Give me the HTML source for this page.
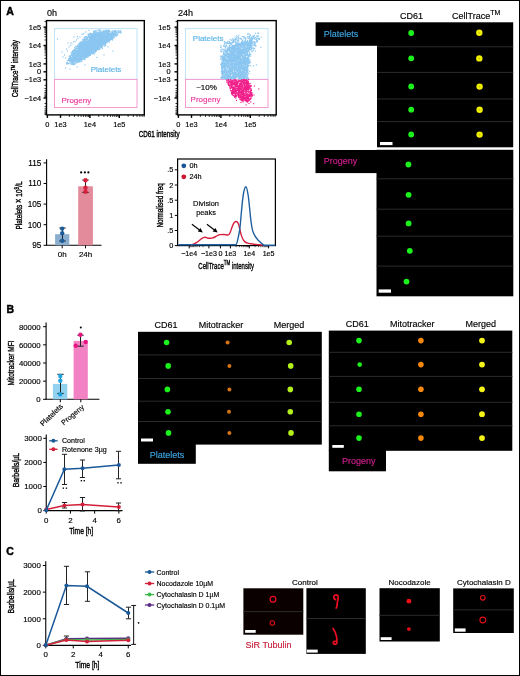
<!DOCTYPE html>
<html><head><meta charset="utf-8"><style>
html,body{margin:0;padding:0;background:#fff;}
svg{display:block;will-change:transform;}
text{font-family:"Liberation Sans", sans-serif;}
</style></head><body>
<svg width="520" height="676" viewBox="0 0 520 676">
<defs><radialGradient id="yg"><stop offset="0" stop-color="#c4c400"/><stop offset="0.55" stop-color="#f6f600"/><stop offset="1" stop-color="#e8e800"/></radialGradient><filter id="gl" x="-1" y="-1" width="3" height="3"><feGaussianBlur stdDeviation="0.45"/></filter><filter id="gl2" x="-1" y="-1" width="3" height="3"><feGaussianBlur stdDeviation="0.35"/></filter></defs>
<rect x="0" y="0" width="520" height="676" fill="#fff"/>
<text x="6.3" y="15.0" font-size="10.5" text-anchor="start" fill="#000" font-weight="bold" stroke="#000" stroke-width="0.45" >A</text>
<text x="6.4" y="313.2" font-size="10.5" text-anchor="start" fill="#000" font-weight="bold" stroke="#000" stroke-width="0.45" >B</text>
<text x="6.3" y="555.0" font-size="10.5" text-anchor="start" fill="#000" font-weight="bold" stroke="#000" stroke-width="0.45" >C</text>
<rect x="46.50" y="20.60" width="97.80" height="94.30" fill="none" stroke="#000" stroke-width="1.4" />
<line x1="43.50" y1="27.10" x2="46.50" y2="27.10" stroke="#000" stroke-width="1.4"/>
<line x1="43.50" y1="45.50" x2="46.50" y2="45.50" stroke="#000" stroke-width="1.4"/>
<line x1="43.50" y1="63.90" x2="46.50" y2="63.90" stroke="#000" stroke-width="1.4"/>
<line x1="43.50" y1="71.80" x2="46.50" y2="71.80" stroke="#000" stroke-width="1.4"/>
<line x1="43.50" y1="79.80" x2="46.50" y2="79.80" stroke="#000" stroke-width="1.4"/>
<line x1="43.50" y1="98.00" x2="46.50" y2="98.00" stroke="#000" stroke-width="1.4"/>
<line x1="44.50" y1="58.36" x2="46.50" y2="58.36" stroke="#000" stroke-width="0.8"/>
<line x1="44.50" y1="55.12" x2="46.50" y2="55.12" stroke="#000" stroke-width="0.8"/>
<line x1="44.50" y1="52.82" x2="46.50" y2="52.82" stroke="#000" stroke-width="0.8"/>
<line x1="44.50" y1="51.04" x2="46.50" y2="51.04" stroke="#000" stroke-width="0.8"/>
<line x1="44.50" y1="49.58" x2="46.50" y2="49.58" stroke="#000" stroke-width="0.8"/>
<line x1="44.50" y1="48.35" x2="46.50" y2="48.35" stroke="#000" stroke-width="0.8"/>
<line x1="44.50" y1="47.28" x2="46.50" y2="47.28" stroke="#000" stroke-width="0.8"/>
<line x1="44.50" y1="46.34" x2="46.50" y2="46.34" stroke="#000" stroke-width="0.8"/>
<line x1="44.50" y1="39.96" x2="46.50" y2="39.96" stroke="#000" stroke-width="0.8"/>
<line x1="44.50" y1="36.72" x2="46.50" y2="36.72" stroke="#000" stroke-width="0.8"/>
<line x1="44.50" y1="34.42" x2="46.50" y2="34.42" stroke="#000" stroke-width="0.8"/>
<line x1="44.50" y1="32.64" x2="46.50" y2="32.64" stroke="#000" stroke-width="0.8"/>
<line x1="44.50" y1="31.18" x2="46.50" y2="31.18" stroke="#000" stroke-width="0.8"/>
<line x1="44.50" y1="29.95" x2="46.50" y2="29.95" stroke="#000" stroke-width="0.8"/>
<line x1="44.50" y1="28.88" x2="46.50" y2="28.88" stroke="#000" stroke-width="0.8"/>
<line x1="44.50" y1="27.94" x2="46.50" y2="27.94" stroke="#000" stroke-width="0.8"/>
<line x1="44.50" y1="21.56" x2="46.50" y2="21.56" stroke="#000" stroke-width="0.8"/>
<line x1="44.50" y1="85.28" x2="46.50" y2="85.28" stroke="#000" stroke-width="0.8"/>
<line x1="44.50" y1="88.48" x2="46.50" y2="88.48" stroke="#000" stroke-width="0.8"/>
<line x1="44.50" y1="90.76" x2="46.50" y2="90.76" stroke="#000" stroke-width="0.8"/>
<line x1="44.50" y1="92.52" x2="46.50" y2="92.52" stroke="#000" stroke-width="0.8"/>
<line x1="44.50" y1="93.96" x2="46.50" y2="93.96" stroke="#000" stroke-width="0.8"/>
<line x1="44.50" y1="95.18" x2="46.50" y2="95.18" stroke="#000" stroke-width="0.8"/>
<line x1="44.50" y1="96.24" x2="46.50" y2="96.24" stroke="#000" stroke-width="0.8"/>
<line x1="44.50" y1="97.17" x2="46.50" y2="97.17" stroke="#000" stroke-width="0.8"/>
<line x1="44.50" y1="103.48" x2="46.50" y2="103.48" stroke="#000" stroke-width="0.8"/>
<line x1="44.50" y1="106.68" x2="46.50" y2="106.68" stroke="#000" stroke-width="0.8"/>
<line x1="44.50" y1="108.96" x2="46.50" y2="108.96" stroke="#000" stroke-width="0.8"/>
<line x1="44.50" y1="110.72" x2="46.50" y2="110.72" stroke="#000" stroke-width="0.8"/>
<line x1="44.50" y1="112.16" x2="46.50" y2="112.16" stroke="#000" stroke-width="0.8"/>
<line x1="44.50" y1="113.38" x2="46.50" y2="113.38" stroke="#000" stroke-width="0.8"/>
<line x1="44.50" y1="114.44" x2="46.50" y2="114.44" stroke="#000" stroke-width="0.8"/>
<text x="41.2" y="29.7" font-size="7.4" text-anchor="end" fill="#000" font-weight="normal" stroke="#000" stroke-width="0.15" >1e5</text>
<text x="41.2" y="48.1" font-size="7.4" text-anchor="end" fill="#000" font-weight="normal" stroke="#000" stroke-width="0.15" >1e4</text>
<text x="41.2" y="66.5" font-size="7.4" text-anchor="end" fill="#000" font-weight="normal" stroke="#000" stroke-width="0.15" >1e3</text>
<text x="41.2" y="74.4" font-size="7.4" text-anchor="end" fill="#000" font-weight="normal" stroke="#000" stroke-width="0.15" >0</text>
<text x="41.2" y="82.4" font-size="7.4" text-anchor="end" fill="#000" font-weight="normal" stroke="#000" stroke-width="0.15" >−1e3</text>
<text x="41.2" y="100.6" font-size="7.4" text-anchor="end" fill="#000" font-weight="normal" stroke="#000" stroke-width="0.15" >−1e4</text>
<line x1="47.40" y1="114.90" x2="47.40" y2="117.90" stroke="#000" stroke-width="1.4"/>
<line x1="60.50" y1="114.90" x2="60.50" y2="117.90" stroke="#000" stroke-width="1.4"/>
<line x1="89.90" y1="114.90" x2="89.90" y2="117.90" stroke="#000" stroke-width="1.4"/>
<line x1="119.30" y1="114.90" x2="119.30" y2="117.90" stroke="#000" stroke-width="1.4"/>
<line x1="69.35" y1="114.90" x2="69.35" y2="116.90" stroke="#000" stroke-width="0.8"/>
<line x1="74.53" y1="114.90" x2="74.53" y2="116.90" stroke="#000" stroke-width="0.8"/>
<line x1="78.20" y1="114.90" x2="78.20" y2="116.90" stroke="#000" stroke-width="0.8"/>
<line x1="81.05" y1="114.90" x2="81.05" y2="116.90" stroke="#000" stroke-width="0.8"/>
<line x1="83.38" y1="114.90" x2="83.38" y2="116.90" stroke="#000" stroke-width="0.8"/>
<line x1="85.35" y1="114.90" x2="85.35" y2="116.90" stroke="#000" stroke-width="0.8"/>
<line x1="87.05" y1="114.90" x2="87.05" y2="116.90" stroke="#000" stroke-width="0.8"/>
<line x1="88.55" y1="114.90" x2="88.55" y2="116.90" stroke="#000" stroke-width="0.8"/>
<line x1="98.75" y1="114.90" x2="98.75" y2="116.90" stroke="#000" stroke-width="0.8"/>
<line x1="103.93" y1="114.90" x2="103.93" y2="116.90" stroke="#000" stroke-width="0.8"/>
<line x1="107.60" y1="114.90" x2="107.60" y2="116.90" stroke="#000" stroke-width="0.8"/>
<line x1="110.45" y1="114.90" x2="110.45" y2="116.90" stroke="#000" stroke-width="0.8"/>
<line x1="112.78" y1="114.90" x2="112.78" y2="116.90" stroke="#000" stroke-width="0.8"/>
<line x1="114.75" y1="114.90" x2="114.75" y2="116.90" stroke="#000" stroke-width="0.8"/>
<line x1="116.45" y1="114.90" x2="116.45" y2="116.90" stroke="#000" stroke-width="0.8"/>
<line x1="117.95" y1="114.90" x2="117.95" y2="116.90" stroke="#000" stroke-width="0.8"/>
<line x1="128.15" y1="114.90" x2="128.15" y2="116.90" stroke="#000" stroke-width="0.8"/>
<line x1="133.33" y1="114.90" x2="133.33" y2="116.90" stroke="#000" stroke-width="0.8"/>
<line x1="137.00" y1="114.90" x2="137.00" y2="116.90" stroke="#000" stroke-width="0.8"/>
<line x1="139.85" y1="114.90" x2="139.85" y2="116.90" stroke="#000" stroke-width="0.8"/>
<line x1="142.18" y1="114.90" x2="142.18" y2="116.90" stroke="#000" stroke-width="0.8"/>
<line x1="144.15" y1="114.90" x2="144.15" y2="116.90" stroke="#000" stroke-width="0.8"/>
<text x="47.4" y="126.9" font-size="7.4" text-anchor="middle" fill="#000" font-weight="normal" stroke="#000" stroke-width="0.15" >0</text>
<text x="60.5" y="126.9" font-size="7.4" text-anchor="middle" fill="#000" font-weight="normal" stroke="#000" stroke-width="0.15" >1e3</text>
<text x="89.9" y="126.9" font-size="7.4" text-anchor="middle" fill="#000" font-weight="normal" stroke="#000" stroke-width="0.15" >1e4</text>
<text x="119.3" y="126.9" font-size="7.4" text-anchor="middle" fill="#000" font-weight="normal" stroke="#000" stroke-width="0.15" >1e5</text>
<text x="47.0" y="15.6" font-size="9" text-anchor="start" fill="#000" font-weight="normal" stroke="#000" stroke-width="0.15" >0h</text>
<rect x="177.50" y="20.60" width="98.70" height="94.30" fill="none" stroke="#000" stroke-width="1.4" />
<line x1="174.50" y1="27.10" x2="177.50" y2="27.10" stroke="#000" stroke-width="1.4"/>
<line x1="174.50" y1="45.50" x2="177.50" y2="45.50" stroke="#000" stroke-width="1.4"/>
<line x1="174.50" y1="63.90" x2="177.50" y2="63.90" stroke="#000" stroke-width="1.4"/>
<line x1="174.50" y1="71.80" x2="177.50" y2="71.80" stroke="#000" stroke-width="1.4"/>
<line x1="174.50" y1="79.80" x2="177.50" y2="79.80" stroke="#000" stroke-width="1.4"/>
<line x1="174.50" y1="98.00" x2="177.50" y2="98.00" stroke="#000" stroke-width="1.4"/>
<line x1="175.50" y1="58.36" x2="177.50" y2="58.36" stroke="#000" stroke-width="0.8"/>
<line x1="175.50" y1="55.12" x2="177.50" y2="55.12" stroke="#000" stroke-width="0.8"/>
<line x1="175.50" y1="52.82" x2="177.50" y2="52.82" stroke="#000" stroke-width="0.8"/>
<line x1="175.50" y1="51.04" x2="177.50" y2="51.04" stroke="#000" stroke-width="0.8"/>
<line x1="175.50" y1="49.58" x2="177.50" y2="49.58" stroke="#000" stroke-width="0.8"/>
<line x1="175.50" y1="48.35" x2="177.50" y2="48.35" stroke="#000" stroke-width="0.8"/>
<line x1="175.50" y1="47.28" x2="177.50" y2="47.28" stroke="#000" stroke-width="0.8"/>
<line x1="175.50" y1="46.34" x2="177.50" y2="46.34" stroke="#000" stroke-width="0.8"/>
<line x1="175.50" y1="39.96" x2="177.50" y2="39.96" stroke="#000" stroke-width="0.8"/>
<line x1="175.50" y1="36.72" x2="177.50" y2="36.72" stroke="#000" stroke-width="0.8"/>
<line x1="175.50" y1="34.42" x2="177.50" y2="34.42" stroke="#000" stroke-width="0.8"/>
<line x1="175.50" y1="32.64" x2="177.50" y2="32.64" stroke="#000" stroke-width="0.8"/>
<line x1="175.50" y1="31.18" x2="177.50" y2="31.18" stroke="#000" stroke-width="0.8"/>
<line x1="175.50" y1="29.95" x2="177.50" y2="29.95" stroke="#000" stroke-width="0.8"/>
<line x1="175.50" y1="28.88" x2="177.50" y2="28.88" stroke="#000" stroke-width="0.8"/>
<line x1="175.50" y1="27.94" x2="177.50" y2="27.94" stroke="#000" stroke-width="0.8"/>
<line x1="175.50" y1="21.56" x2="177.50" y2="21.56" stroke="#000" stroke-width="0.8"/>
<line x1="175.50" y1="85.28" x2="177.50" y2="85.28" stroke="#000" stroke-width="0.8"/>
<line x1="175.50" y1="88.48" x2="177.50" y2="88.48" stroke="#000" stroke-width="0.8"/>
<line x1="175.50" y1="90.76" x2="177.50" y2="90.76" stroke="#000" stroke-width="0.8"/>
<line x1="175.50" y1="92.52" x2="177.50" y2="92.52" stroke="#000" stroke-width="0.8"/>
<line x1="175.50" y1="93.96" x2="177.50" y2="93.96" stroke="#000" stroke-width="0.8"/>
<line x1="175.50" y1="95.18" x2="177.50" y2="95.18" stroke="#000" stroke-width="0.8"/>
<line x1="175.50" y1="96.24" x2="177.50" y2="96.24" stroke="#000" stroke-width="0.8"/>
<line x1="175.50" y1="97.17" x2="177.50" y2="97.17" stroke="#000" stroke-width="0.8"/>
<line x1="175.50" y1="103.48" x2="177.50" y2="103.48" stroke="#000" stroke-width="0.8"/>
<line x1="175.50" y1="106.68" x2="177.50" y2="106.68" stroke="#000" stroke-width="0.8"/>
<line x1="175.50" y1="108.96" x2="177.50" y2="108.96" stroke="#000" stroke-width="0.8"/>
<line x1="175.50" y1="110.72" x2="177.50" y2="110.72" stroke="#000" stroke-width="0.8"/>
<line x1="175.50" y1="112.16" x2="177.50" y2="112.16" stroke="#000" stroke-width="0.8"/>
<line x1="175.50" y1="113.38" x2="177.50" y2="113.38" stroke="#000" stroke-width="0.8"/>
<line x1="175.50" y1="114.44" x2="177.50" y2="114.44" stroke="#000" stroke-width="0.8"/>
<text x="170.5" y="29.7" font-size="7.4" text-anchor="end" fill="#000" font-weight="normal" stroke="#000" stroke-width="0.15" >1e5</text>
<text x="170.5" y="48.1" font-size="7.4" text-anchor="end" fill="#000" font-weight="normal" stroke="#000" stroke-width="0.15" >1e4</text>
<text x="170.5" y="66.5" font-size="7.4" text-anchor="end" fill="#000" font-weight="normal" stroke="#000" stroke-width="0.15" >1e3</text>
<text x="170.5" y="74.4" font-size="7.4" text-anchor="end" fill="#000" font-weight="normal" stroke="#000" stroke-width="0.15" >0</text>
<text x="170.5" y="82.4" font-size="7.4" text-anchor="end" fill="#000" font-weight="normal" stroke="#000" stroke-width="0.15" >−1e3</text>
<text x="170.5" y="100.6" font-size="7.4" text-anchor="end" fill="#000" font-weight="normal" stroke="#000" stroke-width="0.15" >−1e4</text>
<line x1="178.40" y1="114.90" x2="178.40" y2="117.90" stroke="#000" stroke-width="1.4"/>
<line x1="191.50" y1="114.90" x2="191.50" y2="117.90" stroke="#000" stroke-width="1.4"/>
<line x1="220.90" y1="114.90" x2="220.90" y2="117.90" stroke="#000" stroke-width="1.4"/>
<line x1="250.30" y1="114.90" x2="250.30" y2="117.90" stroke="#000" stroke-width="1.4"/>
<line x1="200.35" y1="114.90" x2="200.35" y2="116.90" stroke="#000" stroke-width="0.8"/>
<line x1="205.53" y1="114.90" x2="205.53" y2="116.90" stroke="#000" stroke-width="0.8"/>
<line x1="209.20" y1="114.90" x2="209.20" y2="116.90" stroke="#000" stroke-width="0.8"/>
<line x1="212.05" y1="114.90" x2="212.05" y2="116.90" stroke="#000" stroke-width="0.8"/>
<line x1="214.38" y1="114.90" x2="214.38" y2="116.90" stroke="#000" stroke-width="0.8"/>
<line x1="216.35" y1="114.90" x2="216.35" y2="116.90" stroke="#000" stroke-width="0.8"/>
<line x1="218.05" y1="114.90" x2="218.05" y2="116.90" stroke="#000" stroke-width="0.8"/>
<line x1="219.55" y1="114.90" x2="219.55" y2="116.90" stroke="#000" stroke-width="0.8"/>
<line x1="229.75" y1="114.90" x2="229.75" y2="116.90" stroke="#000" stroke-width="0.8"/>
<line x1="234.93" y1="114.90" x2="234.93" y2="116.90" stroke="#000" stroke-width="0.8"/>
<line x1="238.60" y1="114.90" x2="238.60" y2="116.90" stroke="#000" stroke-width="0.8"/>
<line x1="241.45" y1="114.90" x2="241.45" y2="116.90" stroke="#000" stroke-width="0.8"/>
<line x1="243.78" y1="114.90" x2="243.78" y2="116.90" stroke="#000" stroke-width="0.8"/>
<line x1="245.75" y1="114.90" x2="245.75" y2="116.90" stroke="#000" stroke-width="0.8"/>
<line x1="247.45" y1="114.90" x2="247.45" y2="116.90" stroke="#000" stroke-width="0.8"/>
<line x1="248.95" y1="114.90" x2="248.95" y2="116.90" stroke="#000" stroke-width="0.8"/>
<line x1="259.15" y1="114.90" x2="259.15" y2="116.90" stroke="#000" stroke-width="0.8"/>
<line x1="264.33" y1="114.90" x2="264.33" y2="116.90" stroke="#000" stroke-width="0.8"/>
<line x1="268.00" y1="114.90" x2="268.00" y2="116.90" stroke="#000" stroke-width="0.8"/>
<line x1="270.85" y1="114.90" x2="270.85" y2="116.90" stroke="#000" stroke-width="0.8"/>
<line x1="273.18" y1="114.90" x2="273.18" y2="116.90" stroke="#000" stroke-width="0.8"/>
<line x1="275.15" y1="114.90" x2="275.15" y2="116.90" stroke="#000" stroke-width="0.8"/>
<text x="178.4" y="126.9" font-size="7.4" text-anchor="middle" fill="#000" font-weight="normal" stroke="#000" stroke-width="0.15" >0</text>
<text x="191.5" y="126.9" font-size="7.4" text-anchor="middle" fill="#000" font-weight="normal" stroke="#000" stroke-width="0.15" >1e3</text>
<text x="220.9" y="126.9" font-size="7.4" text-anchor="middle" fill="#000" font-weight="normal" stroke="#000" stroke-width="0.15" >1e4</text>
<text x="250.3" y="126.9" font-size="7.4" text-anchor="middle" fill="#000" font-weight="normal" stroke="#000" stroke-width="0.15" >1e5</text>
<text x="178.0" y="15.6" font-size="9" text-anchor="start" fill="#000" font-weight="normal" stroke="#000" stroke-width="0.15" >24h</text>
<rect x="54.50" y="28.60" width="82.50" height="50.80" fill="none" stroke="#bfe4f8" stroke-width="1" />
<rect x="54.50" y="79.40" width="82.50" height="28.10" fill="none" stroke="#f49ccf" stroke-width="1" />
<rect x="185.50" y="28.60" width="82.50" height="50.80" fill="none" stroke="#bfe4f8" stroke-width="1" />
<rect x="185.50" y="79.40" width="82.50" height="28.10" fill="none" stroke="#f49ccf" stroke-width="1" />
<g fill="#8ac6f0">
<rect x="101.6" y="32.0" width="1.15" height="1.15"/>
<rect x="98.1" y="43.4" width="1.15" height="1.15"/>
<rect x="83.3" y="58.6" width="1.15" height="1.15"/>
<rect x="101.2" y="42.5" width="1.15" height="1.15"/>
<rect x="103.4" y="45.1" width="1.15" height="1.15"/>
<rect x="91.3" y="39.3" width="1.15" height="1.15"/>
<rect x="78.5" y="49.5" width="1.15" height="1.15"/>
<rect x="106.7" y="39.6" width="1.15" height="1.15"/>
<rect x="98.8" y="44.5" width="1.15" height="1.15"/>
<rect x="93.0" y="53.0" width="1.15" height="1.15"/>
<rect x="87.9" y="53.0" width="1.15" height="1.15"/>
<rect x="69.5" y="56.6" width="1.15" height="1.15"/>
<rect x="80.7" y="44.9" width="1.15" height="1.15"/>
<rect x="78.5" y="46.3" width="1.15" height="1.15"/>
<rect x="87.2" y="49.1" width="1.15" height="1.15"/>
<rect x="94.5" y="51.0" width="1.15" height="1.15"/>
<rect x="88.3" y="43.9" width="1.15" height="1.15"/>
<rect x="67.1" y="59.9" width="1.15" height="1.15"/>
<rect x="79.8" y="41.9" width="1.15" height="1.15"/>
<rect x="92.0" y="46.6" width="1.15" height="1.15"/>
<rect x="85.1" y="38.6" width="1.15" height="1.15"/>
<rect x="66.9" y="62.7" width="1.15" height="1.15"/>
<rect x="94.7" y="30.3" width="1.15" height="1.15"/>
<rect x="80.8" y="43.1" width="1.15" height="1.15"/>
<rect x="84.8" y="36.0" width="1.15" height="1.15"/>
<rect x="78.4" y="47.7" width="1.15" height="1.15"/>
<rect x="80.8" y="53.6" width="1.15" height="1.15"/>
<rect x="75.4" y="57.9" width="1.15" height="1.15"/>
<rect x="106.4" y="35.7" width="1.15" height="1.15"/>
<rect x="74.8" y="58.3" width="1.15" height="1.15"/>
<rect x="85.4" y="48.8" width="1.15" height="1.15"/>
<rect x="111.8" y="37.4" width="1.15" height="1.15"/>
<rect x="79.2" y="50.6" width="1.15" height="1.15"/>
<rect x="72.9" y="61.7" width="1.15" height="1.15"/>
<rect x="93.7" y="48.1" width="1.15" height="1.15"/>
<rect x="91.2" y="36.0" width="1.15" height="1.15"/>
<rect x="83.2" y="47.4" width="1.15" height="1.15"/>
<rect x="99.2" y="47.2" width="1.15" height="1.15"/>
<rect x="89.9" y="48.3" width="1.15" height="1.15"/>
<rect x="112.9" y="34.8" width="1.15" height="1.15"/>
<rect x="74.3" y="54.3" width="1.15" height="1.15"/>
<rect x="89.0" y="46.5" width="1.15" height="1.15"/>
<rect x="94.7" y="41.8" width="1.15" height="1.15"/>
<rect x="105.5" y="30.1" width="1.15" height="1.15"/>
<rect x="101.9" y="48.0" width="1.15" height="1.15"/>
<rect x="112.0" y="39.5" width="1.15" height="1.15"/>
<rect x="105.2" y="44.9" width="1.15" height="1.15"/>
<rect x="71.5" y="59.8" width="1.15" height="1.15"/>
<rect x="90.0" y="41.1" width="1.15" height="1.15"/>
<rect x="95.4" y="38.1" width="1.15" height="1.15"/>
<rect x="83.3" y="39.8" width="1.15" height="1.15"/>
<rect x="93.6" y="35.9" width="1.15" height="1.15"/>
<rect x="76.7" y="46.1" width="1.15" height="1.15"/>
<rect x="87.2" y="45.9" width="1.15" height="1.15"/>
<rect x="88.6" y="41.8" width="1.15" height="1.15"/>
<rect x="69.8" y="55.7" width="1.15" height="1.15"/>
<rect x="71.1" y="58.4" width="1.15" height="1.15"/>
<rect x="82.5" y="46.1" width="1.15" height="1.15"/>
<rect x="83.6" y="42.0" width="1.15" height="1.15"/>
<rect x="92.4" y="47.7" width="1.15" height="1.15"/>
<rect x="98.4" y="47.3" width="1.15" height="1.15"/>
<rect x="87.8" y="40.9" width="1.15" height="1.15"/>
<rect x="68.9" y="58.3" width="1.15" height="1.15"/>
<rect x="71.1" y="58.5" width="1.15" height="1.15"/>
<rect x="93.7" y="48.1" width="1.15" height="1.15"/>
<rect x="107.2" y="38.6" width="1.15" height="1.15"/>
<rect x="106.3" y="35.4" width="1.15" height="1.15"/>
<rect x="92.6" y="43.0" width="1.15" height="1.15"/>
<rect x="101.8" y="32.6" width="1.15" height="1.15"/>
<rect x="107.1" y="40.2" width="1.15" height="1.15"/>
<rect x="102.9" y="39.7" width="1.15" height="1.15"/>
<rect x="92.1" y="33.5" width="1.15" height="1.15"/>
<rect x="91.2" y="40.1" width="1.15" height="1.15"/>
<rect x="78.0" y="50.3" width="1.15" height="1.15"/>
<rect x="78.7" y="60.9" width="1.15" height="1.15"/>
<rect x="91.2" y="40.5" width="1.15" height="1.15"/>
<rect x="84.3" y="58.9" width="1.15" height="1.15"/>
<rect x="113.2" y="33.4" width="1.15" height="1.15"/>
<rect x="87.3" y="43.3" width="1.15" height="1.15"/>
<rect x="85.9" y="44.7" width="1.15" height="1.15"/>
<rect x="71.3" y="59.8" width="1.15" height="1.15"/>
<rect x="93.4" y="37.1" width="1.15" height="1.15"/>
<rect x="105.8" y="30.8" width="1.15" height="1.15"/>
<rect x="116.9" y="34.1" width="1.15" height="1.15"/>
<rect x="82.8" y="55.3" width="1.15" height="1.15"/>
<rect x="101.9" y="39.9" width="1.15" height="1.15"/>
<rect x="77.1" y="61.2" width="1.15" height="1.15"/>
<rect x="91.0" y="34.7" width="1.15" height="1.15"/>
<rect x="88.6" y="48.2" width="1.15" height="1.15"/>
<rect x="94.1" y="51.3" width="1.15" height="1.15"/>
<rect x="89.0" y="44.9" width="1.15" height="1.15"/>
<rect x="115.1" y="30.5" width="1.15" height="1.15"/>
<rect x="92.2" y="49.0" width="1.15" height="1.15"/>
<rect x="78.6" y="61.3" width="1.15" height="1.15"/>
<rect x="94.8" y="50.1" width="1.15" height="1.15"/>
<rect x="99.1" y="30.5" width="1.15" height="1.15"/>
<rect x="88.7" y="37.6" width="1.15" height="1.15"/>
<rect x="84.6" y="44.0" width="1.15" height="1.15"/>
<rect x="94.4" y="36.7" width="1.15" height="1.15"/>
<rect x="111.6" y="38.5" width="1.15" height="1.15"/>
<rect x="93.5" y="36.7" width="1.15" height="1.15"/>
<rect x="76.2" y="62.1" width="1.15" height="1.15"/>
<rect x="102.5" y="43.1" width="1.15" height="1.15"/>
<rect x="81.7" y="41.8" width="1.15" height="1.15"/>
<rect x="114.9" y="31.2" width="1.15" height="1.15"/>
<rect x="108.7" y="31.1" width="1.15" height="1.15"/>
<rect x="85.4" y="38.9" width="1.15" height="1.15"/>
<rect x="80.3" y="54.9" width="1.15" height="1.15"/>
<rect x="118.3" y="31.0" width="1.15" height="1.15"/>
<rect x="86.8" y="38.6" width="1.15" height="1.15"/>
<rect x="99.4" y="41.5" width="1.15" height="1.15"/>
<rect x="109.6" y="33.2" width="1.15" height="1.15"/>
<rect x="78.4" y="43.6" width="1.15" height="1.15"/>
<rect x="103.0" y="33.5" width="1.15" height="1.15"/>
<rect x="97.4" y="42.3" width="1.15" height="1.15"/>
<rect x="74.0" y="60.2" width="1.15" height="1.15"/>
<rect x="94.3" y="37.0" width="1.15" height="1.15"/>
<rect x="80.6" y="56.6" width="1.15" height="1.15"/>
<rect x="79.9" y="50.2" width="1.15" height="1.15"/>
<rect x="103.4" y="36.4" width="1.15" height="1.15"/>
<rect x="87.7" y="48.6" width="1.15" height="1.15"/>
<rect x="74.7" y="54.0" width="1.15" height="1.15"/>
<rect x="82.9" y="49.7" width="1.15" height="1.15"/>
<rect x="86.1" y="36.2" width="1.15" height="1.15"/>
<rect x="92.1" y="35.3" width="1.15" height="1.15"/>
<rect x="86.8" y="47.5" width="1.15" height="1.15"/>
<rect x="93.2" y="31.3" width="1.15" height="1.15"/>
<rect x="111.8" y="34.9" width="1.15" height="1.15"/>
<rect x="112.0" y="36.5" width="1.15" height="1.15"/>
<rect x="94.9" y="43.2" width="1.15" height="1.15"/>
<rect x="108.1" y="30.7" width="1.15" height="1.15"/>
<rect x="98.9" y="48.5" width="1.15" height="1.15"/>
<rect x="88.6" y="50.2" width="1.15" height="1.15"/>
<rect x="91.4" y="45.0" width="1.15" height="1.15"/>
<rect x="93.2" y="36.9" width="1.15" height="1.15"/>
<rect x="91.1" y="35.9" width="1.15" height="1.15"/>
<rect x="94.1" y="30.9" width="1.15" height="1.15"/>
<rect x="93.8" y="31.5" width="1.15" height="1.15"/>
<rect x="108.2" y="34.9" width="1.15" height="1.15"/>
<rect x="110.1" y="34.6" width="1.15" height="1.15"/>
<rect x="94.3" y="40.8" width="1.15" height="1.15"/>
<rect x="74.4" y="61.3" width="1.15" height="1.15"/>
<rect x="75.8" y="57.3" width="1.15" height="1.15"/>
<rect x="101.7" y="41.7" width="1.15" height="1.15"/>
<rect x="101.0" y="43.0" width="1.15" height="1.15"/>
<rect x="85.6" y="56.3" width="1.15" height="1.15"/>
<rect x="107.4" y="31.0" width="1.15" height="1.15"/>
<rect x="99.1" y="44.6" width="1.15" height="1.15"/>
<rect x="102.6" y="30.4" width="1.15" height="1.15"/>
<rect x="78.1" y="49.8" width="1.15" height="1.15"/>
<rect x="101.3" y="47.0" width="1.15" height="1.15"/>
<rect x="71.8" y="51.2" width="1.15" height="1.15"/>
<rect x="89.0" y="38.9" width="1.15" height="1.15"/>
<rect x="96.8" y="41.4" width="1.15" height="1.15"/>
<rect x="80.3" y="61.2" width="1.15" height="1.15"/>
<rect x="89.3" y="38.2" width="1.15" height="1.15"/>
<rect x="76.3" y="50.8" width="1.15" height="1.15"/>
<rect x="110.9" y="36.1" width="1.15" height="1.15"/>
<rect x="68.8" y="59.8" width="1.15" height="1.15"/>
<rect x="84.2" y="54.8" width="1.15" height="1.15"/>
<rect x="104.9" y="38.7" width="1.15" height="1.15"/>
<rect x="81.0" y="51.9" width="1.15" height="1.15"/>
<rect x="114.7" y="30.5" width="1.15" height="1.15"/>
<rect x="107.7" y="40.7" width="1.15" height="1.15"/>
<rect x="78.7" y="60.6" width="1.15" height="1.15"/>
<rect x="89.8" y="54.7" width="1.15" height="1.15"/>
<rect x="78.7" y="51.8" width="1.15" height="1.15"/>
<rect x="71.7" y="62.2" width="1.15" height="1.15"/>
<rect x="70.6" y="59.2" width="1.15" height="1.15"/>
<rect x="101.2" y="39.8" width="1.15" height="1.15"/>
<rect x="107.7" y="37.2" width="1.15" height="1.15"/>
<rect x="81.3" y="54.9" width="1.15" height="1.15"/>
<rect x="84.8" y="54.1" width="1.15" height="1.15"/>
<rect x="113.9" y="32.5" width="1.15" height="1.15"/>
<rect x="75.6" y="47.6" width="1.15" height="1.15"/>
<rect x="72.8" y="52.2" width="1.15" height="1.15"/>
<rect x="100.4" y="42.3" width="1.15" height="1.15"/>
<rect x="115.4" y="32.6" width="1.15" height="1.15"/>
<rect x="78.1" y="45.5" width="1.15" height="1.15"/>
<rect x="85.8" y="41.8" width="1.15" height="1.15"/>
<rect x="94.8" y="35.5" width="1.15" height="1.15"/>
<rect x="72.0" y="63.4" width="1.15" height="1.15"/>
<rect x="77.1" y="52.0" width="1.15" height="1.15"/>
<rect x="101.4" y="46.3" width="1.15" height="1.15"/>
<rect x="88.8" y="55.1" width="1.15" height="1.15"/>
<rect x="89.1" y="36.6" width="1.15" height="1.15"/>
<rect x="101.3" y="46.1" width="1.15" height="1.15"/>
<rect x="100.4" y="38.6" width="1.15" height="1.15"/>
<rect x="99.9" y="42.8" width="1.15" height="1.15"/>
<rect x="76.2" y="51.9" width="1.15" height="1.15"/>
<rect x="75.4" y="56.6" width="1.15" height="1.15"/>
<rect x="94.6" y="51.3" width="1.15" height="1.15"/>
<rect x="76.9" y="54.0" width="1.15" height="1.15"/>
<rect x="81.7" y="43.6" width="1.15" height="1.15"/>
<rect x="89.0" y="54.2" width="1.15" height="1.15"/>
<rect x="78.9" y="55.2" width="1.15" height="1.15"/>
<rect x="77.8" y="57.7" width="1.15" height="1.15"/>
<rect x="73.4" y="56.0" width="1.15" height="1.15"/>
<rect x="92.2" y="50.5" width="1.15" height="1.15"/>
<rect x="85.9" y="51.0" width="1.15" height="1.15"/>
<rect x="91.7" y="39.8" width="1.15" height="1.15"/>
<rect x="86.5" y="38.6" width="1.15" height="1.15"/>
<rect x="82.0" y="46.6" width="1.15" height="1.15"/>
<rect x="103.4" y="41.8" width="1.15" height="1.15"/>
<rect x="69.8" y="57.9" width="1.15" height="1.15"/>
<rect x="73.7" y="58.5" width="1.15" height="1.15"/>
<rect x="66.4" y="62.4" width="1.15" height="1.15"/>
<rect x="78.7" y="56.9" width="1.15" height="1.15"/>
<rect x="74.6" y="60.1" width="1.15" height="1.15"/>
<rect x="76.1" y="53.6" width="1.15" height="1.15"/>
<rect x="96.8" y="39.1" width="1.15" height="1.15"/>
<rect x="93.0" y="31.7" width="1.15" height="1.15"/>
<rect x="92.2" y="46.7" width="1.15" height="1.15"/>
<rect x="91.4" y="48.4" width="1.15" height="1.15"/>
<rect x="86.9" y="44.2" width="1.15" height="1.15"/>
<rect x="94.4" y="46.4" width="1.15" height="1.15"/>
<rect x="85.4" y="46.0" width="1.15" height="1.15"/>
<rect x="77.1" y="45.1" width="1.15" height="1.15"/>
<rect x="92.5" y="39.0" width="1.15" height="1.15"/>
<rect x="84.1" y="41.3" width="1.15" height="1.15"/>
<rect x="103.4" y="36.5" width="1.15" height="1.15"/>
<rect x="108.3" y="33.3" width="1.15" height="1.15"/>
<rect x="102.7" y="41.7" width="1.15" height="1.15"/>
<rect x="97.0" y="39.1" width="1.15" height="1.15"/>
<rect x="82.9" y="43.7" width="1.15" height="1.15"/>
<rect x="88.6" y="32.9" width="1.15" height="1.15"/>
<rect x="73.5" y="63.8" width="1.15" height="1.15"/>
<rect x="105.8" y="37.7" width="1.15" height="1.15"/>
<rect x="68.5" y="55.6" width="1.15" height="1.15"/>
<rect x="105.9" y="32.0" width="1.15" height="1.15"/>
<rect x="106.5" y="30.1" width="1.15" height="1.15"/>
<rect x="111.0" y="33.1" width="1.15" height="1.15"/>
<rect x="75.0" y="59.6" width="1.15" height="1.15"/>
<rect x="85.6" y="49.9" width="1.15" height="1.15"/>
<rect x="73.5" y="57.9" width="1.15" height="1.15"/>
<rect x="100.2" y="44.7" width="1.15" height="1.15"/>
<rect x="98.6" y="40.3" width="1.15" height="1.15"/>
<rect x="85.3" y="50.6" width="1.15" height="1.15"/>
<rect x="98.3" y="40.8" width="1.15" height="1.15"/>
<rect x="86.0" y="52.8" width="1.15" height="1.15"/>
<rect x="89.8" y="49.1" width="1.15" height="1.15"/>
<rect x="68.7" y="57.7" width="1.15" height="1.15"/>
<rect x="98.2" y="38.4" width="1.15" height="1.15"/>
<rect x="77.4" y="55.6" width="1.15" height="1.15"/>
<rect x="91.7" y="37.6" width="1.15" height="1.15"/>
<rect x="70.8" y="57.3" width="1.15" height="1.15"/>
<rect x="92.5" y="50.4" width="1.15" height="1.15"/>
<rect x="75.5" y="54.5" width="1.15" height="1.15"/>
<rect x="88.4" y="47.7" width="1.15" height="1.15"/>
<rect x="71.9" y="51.4" width="1.15" height="1.15"/>
<rect x="99.0" y="41.6" width="1.15" height="1.15"/>
<rect x="97.5" y="38.2" width="1.15" height="1.15"/>
<rect x="116.0" y="31.6" width="1.15" height="1.15"/>
<rect x="72.6" y="63.7" width="1.15" height="1.15"/>
<rect x="102.8" y="43.4" width="1.15" height="1.15"/>
<rect x="81.0" y="41.3" width="1.15" height="1.15"/>
<rect x="112.6" y="30.5" width="1.15" height="1.15"/>
<rect x="102.8" y="39.6" width="1.15" height="1.15"/>
<rect x="92.7" y="35.8" width="1.15" height="1.15"/>
<rect x="103.5" y="29.7" width="1.15" height="1.15"/>
<rect x="68.1" y="63.1" width="1.15" height="1.15"/>
<rect x="71.7" y="61.4" width="1.15" height="1.15"/>
<rect x="91.3" y="40.9" width="1.15" height="1.15"/>
<rect x="100.8" y="34.8" width="1.15" height="1.15"/>
<rect x="73.9" y="60.4" width="1.15" height="1.15"/>
<rect x="74.8" y="47.7" width="1.15" height="1.15"/>
<rect x="73.3" y="64.1" width="1.15" height="1.15"/>
<rect x="102.6" y="37.0" width="1.15" height="1.15"/>
<rect x="115.6" y="31.2" width="1.15" height="1.15"/>
<rect x="98.0" y="35.2" width="1.15" height="1.15"/>
<rect x="105.6" y="36.6" width="1.15" height="1.15"/>
<rect x="99.6" y="47.2" width="1.15" height="1.15"/>
<rect x="106.1" y="31.1" width="1.15" height="1.15"/>
<rect x="76.1" y="58.8" width="1.15" height="1.15"/>
<rect x="87.1" y="50.3" width="1.15" height="1.15"/>
<rect x="91.2" y="48.1" width="1.15" height="1.15"/>
<rect x="83.1" y="54.9" width="1.15" height="1.15"/>
<rect x="69.9" y="59.8" width="1.15" height="1.15"/>
<rect x="94.3" y="48.1" width="1.15" height="1.15"/>
<rect x="80.0" y="58.1" width="1.15" height="1.15"/>
<rect x="105.4" y="36.5" width="1.15" height="1.15"/>
<rect x="97.9" y="47.6" width="1.15" height="1.15"/>
<rect x="93.3" y="47.3" width="1.15" height="1.15"/>
<rect x="87.6" y="33.8" width="1.15" height="1.15"/>
<rect x="74.1" y="49.3" width="1.15" height="1.15"/>
<rect x="87.8" y="43.7" width="1.15" height="1.15"/>
<rect x="79.4" y="44.0" width="1.15" height="1.15"/>
<rect x="94.8" y="32.3" width="1.15" height="1.15"/>
<rect x="114.8" y="30.5" width="1.15" height="1.15"/>
<rect x="102.5" y="38.8" width="1.15" height="1.15"/>
<rect x="99.9" y="38.3" width="1.15" height="1.15"/>
<rect x="83.4" y="52.6" width="1.15" height="1.15"/>
<rect x="80.5" y="45.8" width="1.15" height="1.15"/>
<rect x="82.1" y="44.1" width="1.15" height="1.15"/>
<rect x="76.5" y="54.5" width="1.15" height="1.15"/>
<rect x="99.8" y="46.3" width="1.15" height="1.15"/>
<rect x="77.7" y="47.9" width="1.15" height="1.15"/>
<rect x="96.5" y="48.2" width="1.15" height="1.15"/>
<rect x="82.4" y="56.7" width="1.15" height="1.15"/>
<rect x="84.8" y="52.5" width="1.15" height="1.15"/>
<rect x="116.7" y="34.0" width="1.15" height="1.15"/>
<rect x="97.9" y="43.2" width="1.15" height="1.15"/>
<rect x="99.1" y="43.0" width="1.15" height="1.15"/>
<rect x="105.6" y="40.2" width="1.15" height="1.15"/>
<rect x="87.5" y="39.9" width="1.15" height="1.15"/>
<rect x="93.8" y="45.5" width="1.15" height="1.15"/>
<rect x="73.8" y="49.5" width="1.15" height="1.15"/>
<rect x="98.0" y="46.5" width="1.15" height="1.15"/>
<rect x="94.4" y="47.2" width="1.15" height="1.15"/>
<rect x="85.1" y="51.3" width="1.15" height="1.15"/>
<rect x="87.3" y="48.7" width="1.15" height="1.15"/>
<rect x="90.8" y="51.4" width="1.15" height="1.15"/>
<rect x="95.0" y="33.0" width="1.15" height="1.15"/>
<rect x="94.4" y="47.5" width="1.15" height="1.15"/>
<rect x="100.5" y="31.6" width="1.15" height="1.15"/>
<rect x="83.4" y="53.7" width="1.15" height="1.15"/>
<rect x="102.4" y="36.5" width="1.15" height="1.15"/>
<rect x="79.0" y="51.8" width="1.15" height="1.15"/>
<rect x="98.0" y="44.1" width="1.15" height="1.15"/>
<rect x="108.3" y="33.5" width="1.15" height="1.15"/>
<rect x="108.6" y="40.4" width="1.15" height="1.15"/>
<rect x="71.0" y="60.9" width="1.15" height="1.15"/>
<rect x="91.9" y="43.4" width="1.15" height="1.15"/>
<rect x="90.3" y="51.4" width="1.15" height="1.15"/>
<rect x="79.3" y="42.8" width="1.15" height="1.15"/>
<rect x="86.2" y="36.0" width="1.15" height="1.15"/>
<rect x="96.6" y="33.5" width="1.15" height="1.15"/>
<rect x="72.5" y="58.7" width="1.15" height="1.15"/>
<rect x="103.2" y="42.2" width="1.15" height="1.15"/>
<rect x="111.4" y="34.4" width="1.15" height="1.15"/>
<rect x="110.1" y="35.8" width="1.15" height="1.15"/>
<rect x="93.7" y="37.6" width="1.15" height="1.15"/>
<rect x="105.7" y="38.3" width="1.15" height="1.15"/>
<rect x="86.1" y="38.0" width="1.15" height="1.15"/>
<rect x="113.7" y="33.8" width="1.15" height="1.15"/>
<rect x="80.4" y="57.0" width="1.15" height="1.15"/>
<rect x="97.3" y="40.6" width="1.15" height="1.15"/>
<rect x="75.4" y="59.9" width="1.15" height="1.15"/>
<rect x="85.9" y="47.2" width="1.15" height="1.15"/>
<rect x="72.8" y="55.1" width="1.15" height="1.15"/>
<rect x="102.1" y="42.2" width="1.15" height="1.15"/>
<rect x="105.0" y="37.9" width="1.15" height="1.15"/>
<rect x="101.7" y="36.7" width="1.15" height="1.15"/>
<rect x="83.2" y="43.0" width="1.15" height="1.15"/>
<rect x="101.7" y="35.3" width="1.15" height="1.15"/>
<rect x="105.0" y="38.8" width="1.15" height="1.15"/>
<rect x="72.4" y="58.2" width="1.15" height="1.15"/>
<rect x="107.4" y="32.2" width="1.15" height="1.15"/>
<rect x="101.5" y="45.6" width="1.15" height="1.15"/>
<rect x="89.9" y="47.3" width="1.15" height="1.15"/>
<rect x="107.9" y="30.3" width="1.15" height="1.15"/>
<rect x="81.1" y="48.5" width="1.15" height="1.15"/>
<rect x="96.6" y="38.5" width="1.15" height="1.15"/>
<rect x="88.7" y="36.9" width="1.15" height="1.15"/>
<rect x="95.0" y="44.9" width="1.15" height="1.15"/>
<rect x="73.3" y="50.0" width="1.15" height="1.15"/>
<rect x="74.9" y="52.5" width="1.15" height="1.15"/>
<rect x="86.3" y="37.0" width="1.15" height="1.15"/>
<rect x="76.6" y="54.1" width="1.15" height="1.15"/>
<rect x="83.7" y="46.2" width="1.15" height="1.15"/>
<rect x="71.2" y="54.5" width="1.15" height="1.15"/>
<rect x="90.0" y="36.2" width="1.15" height="1.15"/>
<rect x="102.2" y="38.6" width="1.15" height="1.15"/>
<rect x="76.9" y="50.9" width="1.15" height="1.15"/>
<rect x="75.7" y="56.2" width="1.15" height="1.15"/>
<rect x="85.7" y="49.5" width="1.15" height="1.15"/>
<rect x="93.6" y="47.4" width="1.15" height="1.15"/>
<rect x="98.1" y="32.1" width="1.15" height="1.15"/>
<rect x="90.3" y="36.2" width="1.15" height="1.15"/>
<rect x="81.1" y="52.6" width="1.15" height="1.15"/>
<rect x="84.3" y="44.1" width="1.15" height="1.15"/>
<rect x="81.9" y="44.9" width="1.15" height="1.15"/>
<rect x="85.0" y="45.5" width="1.15" height="1.15"/>
<rect x="110.6" y="31.1" width="1.15" height="1.15"/>
<rect x="83.0" y="49.3" width="1.15" height="1.15"/>
<rect x="101.3" y="40.9" width="1.15" height="1.15"/>
<rect x="104.2" y="45.6" width="1.15" height="1.15"/>
<rect x="86.0" y="50.1" width="1.15" height="1.15"/>
<rect x="97.5" y="43.6" width="1.15" height="1.15"/>
<rect x="72.2" y="59.9" width="1.15" height="1.15"/>
<rect x="94.7" y="38.4" width="1.15" height="1.15"/>
<rect x="79.0" y="49.9" width="1.15" height="1.15"/>
<rect x="98.4" y="32.5" width="1.15" height="1.15"/>
<rect x="108.7" y="33.6" width="1.15" height="1.15"/>
<rect x="71.4" y="58.7" width="1.15" height="1.15"/>
<rect x="109.0" y="34.2" width="1.15" height="1.15"/>
<rect x="79.7" y="42.6" width="1.15" height="1.15"/>
<rect x="74.8" y="56.3" width="1.15" height="1.15"/>
<rect x="105.8" y="31.0" width="1.15" height="1.15"/>
<rect x="72.0" y="61.5" width="1.15" height="1.15"/>
<rect x="77.0" y="44.6" width="1.15" height="1.15"/>
<rect x="72.3" y="58.1" width="1.15" height="1.15"/>
<rect x="81.8" y="53.7" width="1.15" height="1.15"/>
<rect x="118.4" y="30.3" width="1.15" height="1.15"/>
<rect x="110.7" y="31.7" width="1.15" height="1.15"/>
<rect x="103.3" y="43.3" width="1.15" height="1.15"/>
<rect x="77.8" y="60.7" width="1.15" height="1.15"/>
<rect x="91.5" y="50.0" width="1.15" height="1.15"/>
<rect x="103.1" y="39.7" width="1.15" height="1.15"/>
<rect x="79.2" y="49.2" width="1.15" height="1.15"/>
<rect x="86.4" y="38.4" width="1.15" height="1.15"/>
<rect x="82.8" y="55.6" width="1.15" height="1.15"/>
<rect x="100.7" y="41.7" width="1.15" height="1.15"/>
<rect x="92.7" y="42.8" width="1.15" height="1.15"/>
<rect x="90.7" y="45.0" width="1.15" height="1.15"/>
<rect x="82.6" y="39.7" width="1.15" height="1.15"/>
<rect x="84.8" y="57.0" width="1.15" height="1.15"/>
<rect x="104.7" y="37.4" width="1.15" height="1.15"/>
<rect x="101.8" y="35.2" width="1.15" height="1.15"/>
<rect x="99.7" y="31.4" width="1.15" height="1.15"/>
<rect x="76.9" y="47.8" width="1.15" height="1.15"/>
<rect x="83.8" y="55.3" width="1.15" height="1.15"/>
<rect x="104.1" y="41.6" width="1.15" height="1.15"/>
<rect x="84.2" y="46.6" width="1.15" height="1.15"/>
<rect x="120.1" y="31.0" width="1.15" height="1.15"/>
<rect x="108.7" y="32.3" width="1.15" height="1.15"/>
<rect x="95.1" y="49.9" width="1.15" height="1.15"/>
<rect x="99.3" y="40.8" width="1.15" height="1.15"/>
<rect x="109.2" y="39.0" width="1.15" height="1.15"/>
<rect x="89.9" y="39.1" width="1.15" height="1.15"/>
<rect x="92.4" y="52.0" width="1.15" height="1.15"/>
<rect x="108.2" y="32.8" width="1.15" height="1.15"/>
<rect x="97.2" y="35.8" width="1.15" height="1.15"/>
<rect x="109.7" y="38.0" width="1.15" height="1.15"/>
<rect x="101.4" y="41.1" width="1.15" height="1.15"/>
<rect x="72.6" y="55.4" width="1.15" height="1.15"/>
<rect x="80.5" y="45.1" width="1.15" height="1.15"/>
<rect x="78.5" y="50.3" width="1.15" height="1.15"/>
<rect x="80.6" y="41.3" width="1.15" height="1.15"/>
<rect x="74.4" y="53.1" width="1.15" height="1.15"/>
<rect x="77.0" y="61.0" width="1.15" height="1.15"/>
<rect x="114.9" y="34.7" width="1.15" height="1.15"/>
<rect x="73.2" y="63.6" width="1.15" height="1.15"/>
<rect x="74.5" y="55.4" width="1.15" height="1.15"/>
<rect x="103.2" y="33.7" width="1.15" height="1.15"/>
<rect x="120.4" y="31.7" width="1.15" height="1.15"/>
<rect x="103.8" y="30.9" width="1.15" height="1.15"/>
<rect x="91.3" y="33.5" width="1.15" height="1.15"/>
<rect x="76.3" y="54.1" width="1.15" height="1.15"/>
<rect x="93.4" y="34.0" width="1.15" height="1.15"/>
<rect x="88.5" y="49.1" width="1.15" height="1.15"/>
<rect x="95.6" y="47.4" width="1.15" height="1.15"/>
<rect x="86.9" y="41.4" width="1.15" height="1.15"/>
<rect x="87.2" y="43.2" width="1.15" height="1.15"/>
<rect x="79.8" y="51.1" width="1.15" height="1.15"/>
<rect x="116.2" y="30.9" width="1.15" height="1.15"/>
<rect x="78.9" y="51.0" width="1.15" height="1.15"/>
<rect x="104.8" y="43.2" width="1.15" height="1.15"/>
<rect x="103.1" y="40.4" width="1.15" height="1.15"/>
<rect x="78.2" y="52.0" width="1.15" height="1.15"/>
<rect x="94.9" y="46.5" width="1.15" height="1.15"/>
<rect x="95.1" y="47.6" width="1.15" height="1.15"/>
<rect x="74.8" y="58.4" width="1.15" height="1.15"/>
<rect x="113.4" y="31.8" width="1.15" height="1.15"/>
<rect x="111.5" y="34.2" width="1.15" height="1.15"/>
<rect x="89.7" y="33.7" width="1.15" height="1.15"/>
<rect x="107.8" y="34.4" width="1.15" height="1.15"/>
<rect x="94.5" y="38.2" width="1.15" height="1.15"/>
<rect x="77.4" y="49.6" width="1.15" height="1.15"/>
<rect x="105.6" y="39.5" width="1.15" height="1.15"/>
<rect x="111.6" y="32.1" width="1.15" height="1.15"/>
<rect x="90.4" y="42.0" width="1.15" height="1.15"/>
<rect x="88.7" y="51.7" width="1.15" height="1.15"/>
<rect x="87.6" y="49.6" width="1.15" height="1.15"/>
<rect x="86.5" y="53.0" width="1.15" height="1.15"/>
<rect x="95.8" y="46.4" width="1.15" height="1.15"/>
<rect x="91.9" y="45.3" width="1.15" height="1.15"/>
<rect x="89.4" y="46.7" width="1.15" height="1.15"/>
<rect x="70.4" y="58.2" width="1.15" height="1.15"/>
<rect x="90.0" y="49.9" width="1.15" height="1.15"/>
<rect x="114.0" y="35.2" width="1.15" height="1.15"/>
<rect x="83.7" y="38.0" width="1.15" height="1.15"/>
<rect x="94.7" y="44.4" width="1.15" height="1.15"/>
<rect x="95.2" y="42.8" width="1.15" height="1.15"/>
<rect x="98.4" y="42.0" width="1.15" height="1.15"/>
<rect x="95.1" y="43.7" width="1.15" height="1.15"/>
<rect x="80.9" y="58.1" width="1.15" height="1.15"/>
<rect x="101.5" y="31.2" width="1.15" height="1.15"/>
<rect x="99.6" y="35.6" width="1.15" height="1.15"/>
<rect x="112.7" y="34.5" width="1.15" height="1.15"/>
<rect x="88.9" y="53.6" width="1.15" height="1.15"/>
<rect x="104.7" y="35.3" width="1.15" height="1.15"/>
<rect x="68.1" y="59.1" width="1.15" height="1.15"/>
<rect x="98.0" y="40.6" width="1.15" height="1.15"/>
<rect x="113.0" y="33.6" width="1.15" height="1.15"/>
<rect x="87.1" y="52.5" width="1.15" height="1.15"/>
<rect x="103.7" y="33.4" width="1.15" height="1.15"/>
<rect x="82.1" y="41.1" width="1.15" height="1.15"/>
<rect x="116.5" y="33.0" width="1.15" height="1.15"/>
<rect x="99.3" y="48.6" width="1.15" height="1.15"/>
<rect x="113.0" y="37.5" width="1.15" height="1.15"/>
<rect x="102.1" y="31.8" width="1.15" height="1.15"/>
<rect x="80.0" y="56.3" width="1.15" height="1.15"/>
<rect x="96.1" y="32.7" width="1.15" height="1.15"/>
<rect x="99.6" y="45.8" width="1.15" height="1.15"/>
<rect x="71.8" y="52.6" width="1.15" height="1.15"/>
<rect x="85.4" y="42.4" width="1.15" height="1.15"/>
<rect x="74.9" y="63.2" width="1.15" height="1.15"/>
<rect x="114.1" y="33.7" width="1.15" height="1.15"/>
<rect x="74.6" y="48.2" width="1.15" height="1.15"/>
<rect x="78.2" y="59.9" width="1.15" height="1.15"/>
<rect x="65.9" y="62.5" width="1.15" height="1.15"/>
<rect x="78.9" y="56.0" width="1.15" height="1.15"/>
<rect x="94.8" y="39.7" width="1.15" height="1.15"/>
<rect x="97.3" y="37.3" width="1.15" height="1.15"/>
<rect x="105.4" y="32.5" width="1.15" height="1.15"/>
<rect x="119.9" y="30.5" width="1.15" height="1.15"/>
<rect x="117.5" y="29.8" width="1.15" height="1.15"/>
<rect x="79.4" y="54.9" width="1.15" height="1.15"/>
<rect x="92.7" y="45.9" width="1.15" height="1.15"/>
<rect x="77.5" y="50.7" width="1.15" height="1.15"/>
<rect x="70.9" y="54.8" width="1.15" height="1.15"/>
<rect x="107.9" y="33.3" width="1.15" height="1.15"/>
<rect x="99.1" y="44.0" width="1.15" height="1.15"/>
<rect x="79.9" y="59.1" width="1.15" height="1.15"/>
<rect x="90.2" y="37.9" width="1.15" height="1.15"/>
<rect x="85.2" y="49.6" width="1.15" height="1.15"/>
<rect x="99.3" y="45.8" width="1.15" height="1.15"/>
<rect x="100.6" y="40.0" width="1.15" height="1.15"/>
<rect x="73.5" y="53.6" width="1.15" height="1.15"/>
<rect x="77.6" y="59.9" width="1.15" height="1.15"/>
<rect x="88.4" y="46.9" width="1.15" height="1.15"/>
<rect x="112.0" y="35.3" width="1.15" height="1.15"/>
<rect x="74.8" y="62.8" width="1.15" height="1.15"/>
<rect x="80.4" y="42.3" width="1.15" height="1.15"/>
<rect x="85.7" y="52.3" width="1.15" height="1.15"/>
<rect x="68.8" y="58.1" width="1.15" height="1.15"/>
<rect x="107.4" y="31.1" width="1.15" height="1.15"/>
<rect x="73.8" y="50.0" width="1.15" height="1.15"/>
<rect x="87.4" y="55.3" width="1.15" height="1.15"/>
<rect x="107.7" y="39.6" width="1.15" height="1.15"/>
<rect x="114.6" y="35.0" width="1.15" height="1.15"/>
<rect x="83.7" y="42.7" width="1.15" height="1.15"/>
<rect x="84.0" y="45.1" width="1.15" height="1.15"/>
<rect x="88.2" y="43.0" width="1.15" height="1.15"/>
<rect x="76.3" y="61.5" width="1.15" height="1.15"/>
<rect x="107.0" y="40.1" width="1.15" height="1.15"/>
<rect x="95.0" y="39.4" width="1.15" height="1.15"/>
<rect x="109.0" y="30.5" width="1.15" height="1.15"/>
<rect x="85.1" y="42.9" width="1.15" height="1.15"/>
<rect x="75.6" y="59.8" width="1.15" height="1.15"/>
<rect x="88.2" y="50.5" width="1.15" height="1.15"/>
<rect x="74.3" y="52.4" width="1.15" height="1.15"/>
<rect x="73.0" y="53.5" width="1.15" height="1.15"/>
<rect x="105.0" y="31.8" width="1.15" height="1.15"/>
<rect x="68.4" y="58.6" width="1.15" height="1.15"/>
<rect x="100.5" y="42.0" width="1.15" height="1.15"/>
<rect x="78.3" y="58.2" width="1.15" height="1.15"/>
<rect x="97.7" y="43.5" width="1.15" height="1.15"/>
<rect x="79.4" y="59.8" width="1.15" height="1.15"/>
<rect x="91.7" y="34.5" width="1.15" height="1.15"/>
<rect x="88.6" y="40.2" width="1.15" height="1.15"/>
<rect x="94.8" y="45.6" width="1.15" height="1.15"/>
<rect x="80.9" y="42.6" width="1.15" height="1.15"/>
<rect x="73.0" y="57.0" width="1.15" height="1.15"/>
<rect x="97.3" y="47.7" width="1.15" height="1.15"/>
<rect x="66.8" y="60.1" width="1.15" height="1.15"/>
<rect x="77.8" y="50.0" width="1.15" height="1.15"/>
<rect x="92.9" y="52.2" width="1.15" height="1.15"/>
<rect x="90.7" y="49.4" width="1.15" height="1.15"/>
<rect x="105.6" y="31.6" width="1.15" height="1.15"/>
<rect x="79.0" y="51.7" width="1.15" height="1.15"/>
<rect x="73.6" y="61.2" width="1.15" height="1.15"/>
<rect x="78.8" y="42.4" width="1.15" height="1.15"/>
<rect x="78.8" y="52.7" width="1.15" height="1.15"/>
<rect x="108.7" y="33.1" width="1.15" height="1.15"/>
<rect x="76.6" y="58.2" width="1.15" height="1.15"/>
<rect x="72.7" y="56.3" width="1.15" height="1.15"/>
<rect x="93.1" y="50.7" width="1.15" height="1.15"/>
<rect x="96.1" y="39.8" width="1.15" height="1.15"/>
<rect x="107.7" y="29.7" width="1.15" height="1.15"/>
<rect x="91.1" y="33.6" width="1.15" height="1.15"/>
<rect x="90.4" y="33.4" width="1.15" height="1.15"/>
<rect x="112.7" y="33.5" width="1.15" height="1.15"/>
<rect x="107.2" y="33.9" width="1.15" height="1.15"/>
<rect x="108.8" y="30.0" width="1.15" height="1.15"/>
<rect x="94.2" y="45.9" width="1.15" height="1.15"/>
<rect x="105.3" y="29.8" width="1.15" height="1.15"/>
<rect x="75.2" y="62.7" width="1.15" height="1.15"/>
<rect x="85.7" y="41.2" width="1.15" height="1.15"/>
<rect x="107.7" y="39.7" width="1.15" height="1.15"/>
<rect x="84.3" y="55.4" width="1.15" height="1.15"/>
<rect x="71.5" y="59.0" width="1.15" height="1.15"/>
<rect x="86.6" y="48.3" width="1.15" height="1.15"/>
<rect x="81.2" y="56.6" width="1.15" height="1.15"/>
<rect x="82.5" y="43.4" width="1.15" height="1.15"/>
<rect x="106.8" y="32.7" width="1.15" height="1.15"/>
<rect x="112.3" y="30.4" width="1.15" height="1.15"/>
<rect x="103.5" y="39.3" width="1.15" height="1.15"/>
<rect x="115.8" y="34.6" width="1.15" height="1.15"/>
<rect x="102.8" y="36.1" width="1.15" height="1.15"/>
<rect x="72.6" y="63.7" width="1.15" height="1.15"/>
<rect x="73.6" y="57.5" width="1.15" height="1.15"/>
<rect x="95.0" y="34.4" width="1.15" height="1.15"/>
<rect x="81.8" y="42.5" width="1.15" height="1.15"/>
<rect x="86.9" y="41.9" width="1.15" height="1.15"/>
<rect x="113.7" y="30.6" width="1.15" height="1.15"/>
<rect x="89.5" y="33.9" width="1.15" height="1.15"/>
<rect x="92.6" y="36.2" width="1.15" height="1.15"/>
<rect x="86.6" y="45.7" width="1.15" height="1.15"/>
<rect x="114.1" y="33.2" width="1.15" height="1.15"/>
<rect x="106.1" y="32.3" width="1.15" height="1.15"/>
<rect x="77.2" y="52.9" width="1.15" height="1.15"/>
<rect x="78.3" y="46.5" width="1.15" height="1.15"/>
<rect x="74.7" y="57.3" width="1.15" height="1.15"/>
<rect x="78.7" y="50.3" width="1.15" height="1.15"/>
<rect x="90.6" y="35.3" width="1.15" height="1.15"/>
<rect x="89.4" y="53.4" width="1.15" height="1.15"/>
<rect x="77.6" y="46.1" width="1.15" height="1.15"/>
<rect x="100.6" y="36.9" width="1.15" height="1.15"/>
<rect x="83.4" y="44.4" width="1.15" height="1.15"/>
<rect x="75.6" y="58.4" width="1.15" height="1.15"/>
<rect x="79.5" y="45.1" width="1.15" height="1.15"/>
<rect x="72.8" y="63.3" width="1.15" height="1.15"/>
<rect x="95.0" y="49.7" width="1.15" height="1.15"/>
<rect x="97.5" y="45.9" width="1.15" height="1.15"/>
<rect x="68.9" y="61.5" width="1.15" height="1.15"/>
<rect x="83.0" y="39.5" width="1.15" height="1.15"/>
<rect x="89.8" y="47.3" width="1.15" height="1.15"/>
<rect x="69.9" y="60.7" width="1.15" height="1.15"/>
<rect x="104.4" y="39.0" width="1.15" height="1.15"/>
<rect x="69.6" y="55.0" width="1.15" height="1.15"/>
<rect x="102.7" y="35.7" width="1.15" height="1.15"/>
<rect x="79.2" y="44.5" width="1.15" height="1.15"/>
<rect x="106.3" y="41.4" width="1.15" height="1.15"/>
<rect x="89.0" y="44.6" width="1.15" height="1.15"/>
<rect x="85.4" y="54.3" width="1.15" height="1.15"/>
<rect x="102.6" y="36.2" width="1.15" height="1.15"/>
<rect x="76.7" y="56.7" width="1.15" height="1.15"/>
<rect x="99.2" y="36.6" width="1.15" height="1.15"/>
<rect x="106.2" y="39.1" width="1.15" height="1.15"/>
<rect x="75.9" y="53.9" width="1.15" height="1.15"/>
<rect x="80.7" y="54.4" width="1.15" height="1.15"/>
<rect x="72.5" y="62.1" width="1.15" height="1.15"/>
<rect x="84.3" y="48.3" width="1.15" height="1.15"/>
<rect x="92.7" y="38.7" width="1.15" height="1.15"/>
<rect x="80.5" y="56.7" width="1.15" height="1.15"/>
<rect x="93.8" y="35.9" width="1.15" height="1.15"/>
<rect x="104.3" y="42.7" width="1.15" height="1.15"/>
<rect x="76.8" y="53.4" width="1.15" height="1.15"/>
<rect x="98.0" y="33.1" width="1.15" height="1.15"/>
<rect x="79.5" y="44.2" width="1.15" height="1.15"/>
<rect x="102.9" y="39.0" width="1.15" height="1.15"/>
<rect x="84.1" y="55.0" width="1.15" height="1.15"/>
<rect x="95.4" y="34.5" width="1.15" height="1.15"/>
<rect x="92.0" y="36.9" width="1.15" height="1.15"/>
<rect x="94.7" y="41.7" width="1.15" height="1.15"/>
<rect x="109.4" y="33.5" width="1.15" height="1.15"/>
<rect x="92.6" y="38.1" width="1.15" height="1.15"/>
<rect x="83.4" y="45.4" width="1.15" height="1.15"/>
<rect x="87.6" y="44.7" width="1.15" height="1.15"/>
<rect x="99.6" y="33.5" width="1.15" height="1.15"/>
<rect x="101.1" y="40.4" width="1.15" height="1.15"/>
<rect x="71.5" y="63.3" width="1.15" height="1.15"/>
<rect x="108.7" y="34.4" width="1.15" height="1.15"/>
<rect x="75.2" y="47.9" width="1.15" height="1.15"/>
<rect x="75.2" y="56.4" width="1.15" height="1.15"/>
<rect x="81.2" y="54.7" width="1.15" height="1.15"/>
<rect x="98.7" y="39.8" width="1.15" height="1.15"/>
<rect x="107.1" y="35.3" width="1.15" height="1.15"/>
<rect x="71.7" y="58.3" width="1.15" height="1.15"/>
<rect x="80.4" y="45.9" width="1.15" height="1.15"/>
<rect x="75.3" y="55.8" width="1.15" height="1.15"/>
<rect x="80.4" y="42.7" width="1.15" height="1.15"/>
<rect x="77.9" y="61.7" width="1.15" height="1.15"/>
<rect x="110.8" y="38.0" width="1.15" height="1.15"/>
<rect x="112.1" y="34.2" width="1.15" height="1.15"/>
<rect x="115.5" y="34.2" width="1.15" height="1.15"/>
<rect x="68.1" y="59.7" width="1.15" height="1.15"/>
<rect x="85.0" y="55.9" width="1.15" height="1.15"/>
<rect x="110.3" y="37.6" width="1.15" height="1.15"/>
<rect x="106.6" y="36.7" width="1.15" height="1.15"/>
<rect x="83.6" y="51.3" width="1.15" height="1.15"/>
<rect x="96.9" y="32.8" width="1.15" height="1.15"/>
<rect x="93.8" y="47.0" width="1.15" height="1.15"/>
<rect x="102.6" y="37.2" width="1.15" height="1.15"/>
<rect x="73.5" y="61.6" width="1.15" height="1.15"/>
<rect x="89.7" y="54.7" width="1.15" height="1.15"/>
<rect x="78.4" y="55.2" width="1.15" height="1.15"/>
<rect x="89.7" y="41.8" width="1.15" height="1.15"/>
<rect x="84.4" y="55.7" width="1.15" height="1.15"/>
<rect x="74.5" y="62.9" width="1.15" height="1.15"/>
<rect x="110.6" y="35.7" width="1.15" height="1.15"/>
<rect x="96.4" y="34.0" width="1.15" height="1.15"/>
<rect x="89.4" y="51.0" width="1.15" height="1.15"/>
<rect x="89.0" y="47.5" width="1.15" height="1.15"/>
<rect x="93.7" y="35.1" width="1.15" height="1.15"/>
<rect x="77.0" y="49.2" width="1.15" height="1.15"/>
<rect x="81.2" y="58.7" width="1.15" height="1.15"/>
<rect x="84.6" y="56.6" width="1.15" height="1.15"/>
<rect x="100.4" y="40.5" width="1.15" height="1.15"/>
<rect x="83.7" y="47.7" width="1.15" height="1.15"/>
<rect x="91.9" y="36.4" width="1.15" height="1.15"/>
<rect x="87.9" y="42.2" width="1.15" height="1.15"/>
<rect x="104.8" y="44.1" width="1.15" height="1.15"/>
<rect x="98.2" y="29.2" width="1.15" height="1.15"/>
<rect x="86.0" y="51.3" width="1.15" height="1.15"/>
<rect x="89.2" y="39.8" width="1.15" height="1.15"/>
<rect x="96.5" y="43.9" width="1.15" height="1.15"/>
<rect x="91.8" y="47.7" width="1.15" height="1.15"/>
<rect x="86.0" y="47.8" width="1.15" height="1.15"/>
<rect x="91.9" y="41.6" width="1.15" height="1.15"/>
<rect x="109.2" y="39.1" width="1.15" height="1.15"/>
<rect x="95.4" y="40.0" width="1.15" height="1.15"/>
<rect x="75.1" y="53.7" width="1.15" height="1.15"/>
<rect x="69.4" y="57.9" width="1.15" height="1.15"/>
<rect x="70.6" y="62.0" width="1.15" height="1.15"/>
<rect x="75.3" y="49.7" width="1.15" height="1.15"/>
<rect x="90.0" y="43.6" width="1.15" height="1.15"/>
<rect x="105.2" y="36.0" width="1.15" height="1.15"/>
<rect x="86.0" y="55.5" width="1.15" height="1.15"/>
<rect x="102.9" y="31.1" width="1.15" height="1.15"/>
<rect x="98.4" y="44.9" width="1.15" height="1.15"/>
<rect x="85.6" y="43.1" width="1.15" height="1.15"/>
<rect x="88.1" y="53.7" width="1.15" height="1.15"/>
<rect x="88.2" y="52.6" width="1.15" height="1.15"/>
<rect x="99.8" y="40.9" width="1.15" height="1.15"/>
<rect x="83.5" y="56.7" width="1.15" height="1.15"/>
<rect x="74.3" y="59.5" width="1.15" height="1.15"/>
<rect x="117.9" y="32.2" width="1.15" height="1.15"/>
<rect x="73.2" y="55.6" width="1.15" height="1.15"/>
<rect x="98.7" y="44.4" width="1.15" height="1.15"/>
<rect x="109.0" y="33.4" width="1.15" height="1.15"/>
<rect x="106.1" y="37.8" width="1.15" height="1.15"/>
<rect x="105.8" y="36.8" width="1.15" height="1.15"/>
<rect x="89.9" y="48.7" width="1.15" height="1.15"/>
<rect x="92.2" y="33.5" width="1.15" height="1.15"/>
<rect x="104.3" y="31.4" width="1.15" height="1.15"/>
<rect x="106.7" y="33.8" width="1.15" height="1.15"/>
<rect x="80.3" y="58.1" width="1.15" height="1.15"/>
<rect x="70.9" y="59.2" width="1.15" height="1.15"/>
<rect x="91.6" y="45.2" width="1.15" height="1.15"/>
<rect x="111.4" y="34.3" width="1.15" height="1.15"/>
<rect x="109.8" y="38.1" width="1.15" height="1.15"/>
<rect x="71.6" y="60.7" width="1.15" height="1.15"/>
<rect x="106.4" y="37.9" width="1.15" height="1.15"/>
<rect x="74.4" y="53.3" width="1.15" height="1.15"/>
<rect x="92.0" y="47.3" width="1.15" height="1.15"/>
<rect x="99.0" y="35.0" width="1.15" height="1.15"/>
<rect x="74.2" y="49.8" width="1.15" height="1.15"/>
<rect x="96.6" y="40.6" width="1.15" height="1.15"/>
<rect x="85.5" y="51.9" width="1.15" height="1.15"/>
<rect x="96.4" y="36.8" width="1.15" height="1.15"/>
<rect x="106.0" y="29.8" width="1.15" height="1.15"/>
<rect x="96.5" y="30.5" width="1.15" height="1.15"/>
<rect x="76.8" y="59.3" width="1.15" height="1.15"/>
<rect x="80.3" y="60.2" width="1.15" height="1.15"/>
<rect x="105.3" y="30.7" width="1.15" height="1.15"/>
<rect x="72.0" y="55.9" width="1.15" height="1.15"/>
<rect x="87.7" y="52.2" width="1.15" height="1.15"/>
<rect x="102.1" y="34.6" width="1.15" height="1.15"/>
<rect x="74.2" y="46.8" width="1.15" height="1.15"/>
<rect x="89.0" y="48.6" width="1.15" height="1.15"/>
<rect x="89.4" y="37.5" width="1.15" height="1.15"/>
<rect x="112.1" y="38.3" width="1.15" height="1.15"/>
<rect x="87.5" y="40.9" width="1.15" height="1.15"/>
<rect x="91.6" y="46.8" width="1.15" height="1.15"/>
<rect x="88.3" y="40.3" width="1.15" height="1.15"/>
<rect x="83.5" y="40.5" width="1.15" height="1.15"/>
<rect x="90.0" y="35.5" width="1.15" height="1.15"/>
<rect x="75.2" y="51.6" width="1.15" height="1.15"/>
<rect x="94.0" y="35.0" width="1.15" height="1.15"/>
<rect x="102.7" y="32.8" width="1.15" height="1.15"/>
<rect x="78.4" y="43.7" width="1.15" height="1.15"/>
<rect x="84.3" y="38.6" width="1.15" height="1.15"/>
<rect x="87.9" y="53.7" width="1.15" height="1.15"/>
<rect x="92.8" y="35.9" width="1.15" height="1.15"/>
<rect x="91.9" y="34.6" width="1.15" height="1.15"/>
<rect x="110.3" y="33.7" width="1.15" height="1.15"/>
<rect x="84.7" y="54.4" width="1.15" height="1.15"/>
<rect x="71.5" y="54.4" width="1.15" height="1.15"/>
<rect x="74.5" y="59.7" width="1.15" height="1.15"/>
<rect x="87.2" y="53.0" width="1.15" height="1.15"/>
<rect x="76.4" y="47.7" width="1.15" height="1.15"/>
<rect x="86.4" y="47.2" width="1.15" height="1.15"/>
<rect x="80.8" y="47.1" width="1.15" height="1.15"/>
<rect x="102.4" y="36.0" width="1.15" height="1.15"/>
<rect x="94.1" y="43.2" width="1.15" height="1.15"/>
<rect x="77.5" y="45.7" width="1.15" height="1.15"/>
<rect x="85.8" y="55.5" width="1.15" height="1.15"/>
<rect x="78.5" y="56.3" width="1.15" height="1.15"/>
<rect x="110.4" y="37.8" width="1.15" height="1.15"/>
<rect x="92.9" y="43.0" width="1.15" height="1.15"/>
<rect x="89.8" y="45.5" width="1.15" height="1.15"/>
<rect x="89.7" y="35.8" width="1.15" height="1.15"/>
<rect x="72.1" y="61.2" width="1.15" height="1.15"/>
<rect x="99.5" y="38.6" width="1.15" height="1.15"/>
<rect x="86.2" y="56.8" width="1.15" height="1.15"/>
<rect x="101.3" y="36.3" width="1.15" height="1.15"/>
<rect x="100.1" y="40.8" width="1.15" height="1.15"/>
<rect x="83.5" y="51.7" width="1.15" height="1.15"/>
<rect x="82.5" y="44.9" width="1.15" height="1.15"/>
<rect x="79.3" y="60.1" width="1.15" height="1.15"/>
<rect x="79.4" y="56.8" width="1.15" height="1.15"/>
<rect x="78.7" y="50.4" width="1.15" height="1.15"/>
<rect x="96.4" y="42.9" width="1.15" height="1.15"/>
<rect x="78.9" y="56.4" width="1.15" height="1.15"/>
<rect x="86.0" y="44.7" width="1.15" height="1.15"/>
<rect x="93.6" y="47.5" width="1.15" height="1.15"/>
<rect x="77.3" y="60.5" width="1.15" height="1.15"/>
<rect x="71.8" y="52.4" width="1.15" height="1.15"/>
<rect x="85.2" y="44.0" width="1.15" height="1.15"/>
<rect x="87.9" y="34.6" width="1.15" height="1.15"/>
<rect x="90.8" y="44.6" width="1.15" height="1.15"/>
<rect x="87.1" y="55.2" width="1.15" height="1.15"/>
<rect x="92.5" y="37.1" width="1.15" height="1.15"/>
<rect x="104.3" y="38.4" width="1.15" height="1.15"/>
<rect x="99.5" y="35.6" width="1.15" height="1.15"/>
<rect x="95.8" y="34.4" width="1.15" height="1.15"/>
<rect x="96.8" y="37.7" width="1.15" height="1.15"/>
<rect x="87.0" y="45.1" width="1.15" height="1.15"/>
<rect x="102.1" y="33.2" width="1.15" height="1.15"/>
<rect x="106.5" y="38.7" width="1.15" height="1.15"/>
<rect x="114.2" y="36.4" width="1.15" height="1.15"/>
<rect x="100.8" y="34.2" width="1.15" height="1.15"/>
<rect x="110.9" y="39.0" width="1.15" height="1.15"/>
<rect x="107.5" y="38.2" width="1.15" height="1.15"/>
<rect x="113.6" y="34.1" width="1.15" height="1.15"/>
<rect x="81.7" y="55.2" width="1.15" height="1.15"/>
<rect x="104.6" y="43.8" width="1.15" height="1.15"/>
<rect x="95.0" y="47.2" width="1.15" height="1.15"/>
<rect x="85.3" y="37.6" width="1.15" height="1.15"/>
<rect x="102.2" y="43.7" width="1.15" height="1.15"/>
<rect x="76.4" y="55.5" width="1.15" height="1.15"/>
<rect x="100.7" y="46.9" width="1.15" height="1.15"/>
<rect x="78.9" y="44.9" width="1.15" height="1.15"/>
<rect x="79.4" y="58.3" width="1.15" height="1.15"/>
<rect x="100.7" y="33.6" width="1.15" height="1.15"/>
<rect x="90.5" y="53.0" width="1.15" height="1.15"/>
<rect x="94.4" y="35.8" width="1.15" height="1.15"/>
<rect x="87.7" y="35.4" width="1.15" height="1.15"/>
<rect x="75.9" y="46.0" width="1.15" height="1.15"/>
<rect x="66.9" y="62.1" width="1.15" height="1.15"/>
<rect x="95.9" y="36.8" width="1.15" height="1.15"/>
<rect x="105.6" y="37.2" width="1.15" height="1.15"/>
<rect x="87.2" y="46.6" width="1.15" height="1.15"/>
<rect x="103.5" y="34.7" width="1.15" height="1.15"/>
<rect x="71.6" y="58.7" width="1.15" height="1.15"/>
<rect x="92.9" y="38.9" width="1.15" height="1.15"/>
<rect x="86.5" y="56.8" width="1.15" height="1.15"/>
<rect x="88.8" y="41.0" width="1.15" height="1.15"/>
<rect x="93.6" y="45.3" width="1.15" height="1.15"/>
<rect x="91.5" y="50.3" width="1.15" height="1.15"/>
<rect x="113.2" y="33.2" width="1.15" height="1.15"/>
<rect x="76.9" y="51.4" width="1.15" height="1.15"/>
<rect x="83.8" y="50.6" width="1.15" height="1.15"/>
<rect x="103.2" y="39.2" width="1.15" height="1.15"/>
<rect x="73.4" y="55.6" width="1.15" height="1.15"/>
<rect x="85.9" y="36.2" width="1.15" height="1.15"/>
<rect x="88.5" y="33.8" width="1.15" height="1.15"/>
<rect x="90.5" y="37.5" width="1.15" height="1.15"/>
<rect x="87.7" y="56.1" width="1.15" height="1.15"/>
<rect x="95.7" y="44.0" width="1.15" height="1.15"/>
<rect x="79.0" y="49.2" width="1.15" height="1.15"/>
<rect x="82.7" y="49.8" width="1.15" height="1.15"/>
<rect x="117.0" y="34.2" width="1.15" height="1.15"/>
<rect x="94.9" y="33.9" width="1.15" height="1.15"/>
<rect x="112.5" y="31.0" width="1.15" height="1.15"/>
<rect x="105.6" y="39.3" width="1.15" height="1.15"/>
<rect x="89.8" y="39.2" width="1.15" height="1.15"/>
<rect x="81.9" y="52.4" width="1.15" height="1.15"/>
<rect x="93.9" y="38.0" width="1.15" height="1.15"/>
<rect x="87.0" y="43.7" width="1.15" height="1.15"/>
<rect x="79.9" y="57.7" width="1.15" height="1.15"/>
<rect x="70.5" y="60.0" width="1.15" height="1.15"/>
<rect x="99.4" y="36.6" width="1.15" height="1.15"/>
<rect x="71.7" y="53.0" width="1.15" height="1.15"/>
<rect x="89.2" y="41.9" width="1.15" height="1.15"/>
<rect x="101.5" y="43.4" width="1.15" height="1.15"/>
<rect x="83.6" y="41.5" width="1.15" height="1.15"/>
<rect x="97.3" y="37.2" width="1.15" height="1.15"/>
<rect x="74.7" y="55.5" width="1.15" height="1.15"/>
<rect x="82.7" y="39.0" width="1.15" height="1.15"/>
<rect x="91.1" y="42.9" width="1.15" height="1.15"/>
<rect x="70.9" y="54.0" width="1.15" height="1.15"/>
<rect x="73.6" y="59.2" width="1.15" height="1.15"/>
<rect x="74.4" y="48.9" width="1.15" height="1.15"/>
<rect x="75.8" y="53.9" width="1.15" height="1.15"/>
<rect x="97.8" y="40.8" width="1.15" height="1.15"/>
<rect x="90.7" y="45.3" width="1.15" height="1.15"/>
<rect x="72.2" y="50.8" width="1.15" height="1.15"/>
<rect x="94.9" y="40.7" width="1.15" height="1.15"/>
<rect x="101.3" y="35.6" width="1.15" height="1.15"/>
<rect x="92.8" y="42.9" width="1.15" height="1.15"/>
<rect x="84.2" y="50.7" width="1.15" height="1.15"/>
<rect x="97.8" y="30.3" width="1.15" height="1.15"/>
<rect x="99.9" y="31.8" width="1.15" height="1.15"/>
<rect x="93.9" y="44.2" width="1.15" height="1.15"/>
<rect x="73.4" y="49.4" width="1.15" height="1.15"/>
<rect x="108.6" y="30.7" width="1.15" height="1.15"/>
<rect x="79.4" y="50.0" width="1.15" height="1.15"/>
<rect x="84.9" y="48.2" width="1.15" height="1.15"/>
<rect x="91.3" y="47.5" width="1.15" height="1.15"/>
<rect x="100.1" y="45.8" width="1.15" height="1.15"/>
<rect x="114.6" y="31.6" width="1.15" height="1.15"/>
<rect x="79.3" y="43.7" width="1.15" height="1.15"/>
<rect x="95.0" y="51.3" width="1.15" height="1.15"/>
<rect x="94.1" y="43.8" width="1.15" height="1.15"/>
<rect x="75.8" y="47.9" width="1.15" height="1.15"/>
<rect x="74.5" y="59.3" width="1.15" height="1.15"/>
<rect x="117.3" y="32.1" width="1.15" height="1.15"/>
<rect x="72.4" y="57.5" width="1.15" height="1.15"/>
<rect x="111.9" y="37.6" width="1.15" height="1.15"/>
<rect x="111.9" y="32.2" width="1.15" height="1.15"/>
<rect x="82.9" y="52.5" width="1.15" height="1.15"/>
<rect x="97.4" y="39.8" width="1.15" height="1.15"/>
<rect x="73.7" y="59.3" width="1.15" height="1.15"/>
<rect x="72.7" y="56.3" width="1.15" height="1.15"/>
<rect x="111.5" y="35.5" width="1.15" height="1.15"/>
<rect x="115.5" y="35.6" width="1.15" height="1.15"/>
<rect x="71.3" y="53.1" width="1.15" height="1.15"/>
<rect x="89.1" y="45.4" width="1.15" height="1.15"/>
<rect x="79.2" y="56.2" width="1.15" height="1.15"/>
<rect x="82.2" y="39.1" width="1.15" height="1.15"/>
<rect x="84.5" y="38.9" width="1.15" height="1.15"/>
<rect x="93.6" y="42.3" width="1.15" height="1.15"/>
<rect x="91.1" y="49.1" width="1.15" height="1.15"/>
<rect x="72.7" y="50.6" width="1.15" height="1.15"/>
<rect x="102.1" y="40.3" width="1.15" height="1.15"/>
<rect x="91.6" y="45.3" width="1.15" height="1.15"/>
<rect x="77.3" y="55.9" width="1.15" height="1.15"/>
<rect x="76.8" y="57.3" width="1.15" height="1.15"/>
<rect x="85.8" y="43.6" width="1.15" height="1.15"/>
<rect x="98.8" y="45.1" width="1.15" height="1.15"/>
<rect x="86.0" y="45.2" width="1.15" height="1.15"/>
<rect x="98.4" y="48.7" width="1.15" height="1.15"/>
<rect x="82.1" y="47.3" width="1.15" height="1.15"/>
<rect x="97.5" y="36.9" width="1.15" height="1.15"/>
<rect x="85.4" y="56.6" width="1.15" height="1.15"/>
<rect x="95.9" y="48.2" width="1.15" height="1.15"/>
<rect x="102.8" y="37.6" width="1.15" height="1.15"/>
<rect x="100.3" y="39.5" width="1.15" height="1.15"/>
<rect x="105.9" y="41.1" width="1.15" height="1.15"/>
<rect x="101.9" y="43.2" width="1.15" height="1.15"/>
<rect x="79.3" y="59.0" width="1.15" height="1.15"/>
<rect x="105.9" y="40.9" width="1.15" height="1.15"/>
<rect x="82.0" y="55.5" width="1.15" height="1.15"/>
<rect x="114.1" y="30.5" width="1.15" height="1.15"/>
<rect x="108.9" y="41.4" width="1.15" height="1.15"/>
<rect x="93.1" y="30.6" width="1.15" height="1.15"/>
<rect x="80.4" y="52.1" width="1.15" height="1.15"/>
<rect x="102.4" y="36.6" width="1.15" height="1.15"/>
<rect x="106.2" y="36.9" width="1.15" height="1.15"/>
<rect x="76.1" y="55.6" width="1.15" height="1.15"/>
<rect x="79.8" y="48.6" width="1.15" height="1.15"/>
<rect x="98.3" y="38.1" width="1.15" height="1.15"/>
<rect x="97.8" y="45.7" width="1.15" height="1.15"/>
<rect x="93.0" y="41.9" width="1.15" height="1.15"/>
<rect x="100.6" y="32.6" width="1.15" height="1.15"/>
<rect x="79.4" y="47.9" width="1.15" height="1.15"/>
<rect x="93.8" y="53.4" width="1.15" height="1.15"/>
<rect x="76.7" y="54.5" width="1.15" height="1.15"/>
<rect x="95.3" y="35.5" width="1.15" height="1.15"/>
<rect x="72.6" y="58.3" width="1.15" height="1.15"/>
<rect x="99.5" y="33.0" width="1.15" height="1.15"/>
<rect x="82.8" y="53.9" width="1.15" height="1.15"/>
<rect x="67.7" y="62.7" width="1.15" height="1.15"/>
<rect x="83.2" y="48.7" width="1.15" height="1.15"/>
<rect x="70.1" y="59.1" width="1.15" height="1.15"/>
<rect x="118.8" y="31.7" width="1.15" height="1.15"/>
<rect x="100.0" y="29.9" width="1.15" height="1.15"/>
<rect x="97.2" y="34.8" width="1.15" height="1.15"/>
<rect x="72.2" y="62.1" width="1.15" height="1.15"/>
<rect x="93.7" y="47.2" width="1.15" height="1.15"/>
<rect x="110.8" y="33.8" width="1.15" height="1.15"/>
<rect x="90.5" y="51.7" width="1.15" height="1.15"/>
<rect x="94.7" y="47.4" width="1.15" height="1.15"/>
<rect x="82.8" y="55.6" width="1.15" height="1.15"/>
<rect x="95.2" y="48.8" width="1.15" height="1.15"/>
<rect x="97.2" y="34.3" width="1.15" height="1.15"/>
<rect x="89.6" y="49.5" width="1.15" height="1.15"/>
<rect x="89.8" y="42.5" width="1.15" height="1.15"/>
<rect x="87.5" y="45.0" width="1.15" height="1.15"/>
<rect x="81.7" y="46.0" width="1.15" height="1.15"/>
<rect x="92.1" y="44.0" width="1.15" height="1.15"/>
<rect x="73.1" y="50.2" width="1.15" height="1.15"/>
<rect x="92.2" y="35.0" width="1.15" height="1.15"/>
<rect x="69.4" y="57.3" width="1.15" height="1.15"/>
<rect x="99.7" y="32.8" width="1.15" height="1.15"/>
<rect x="106.5" y="34.3" width="1.15" height="1.15"/>
<rect x="96.9" y="41.3" width="1.15" height="1.15"/>
<rect x="75.4" y="55.7" width="1.15" height="1.15"/>
<rect x="99.0" y="33.9" width="1.15" height="1.15"/>
<rect x="101.6" y="41.6" width="1.15" height="1.15"/>
<rect x="96.8" y="36.2" width="1.15" height="1.15"/>
<rect x="79.9" y="50.9" width="1.15" height="1.15"/>
<rect x="84.4" y="42.9" width="1.15" height="1.15"/>
<rect x="92.5" y="42.4" width="1.15" height="1.15"/>
<rect x="87.8" y="39.9" width="1.15" height="1.15"/>
<rect x="85.3" y="54.1" width="1.15" height="1.15"/>
<rect x="84.6" y="53.3" width="1.15" height="1.15"/>
<rect x="77.2" y="58.1" width="1.15" height="1.15"/>
<rect x="81.7" y="40.8" width="1.15" height="1.15"/>
<rect x="102.5" y="33.7" width="1.15" height="1.15"/>
<rect x="80.5" y="47.4" width="1.15" height="1.15"/>
<rect x="90.6" y="38.0" width="1.15" height="1.15"/>
<rect x="112.7" y="33.3" width="1.15" height="1.15"/>
<rect x="71.4" y="64.1" width="1.15" height="1.15"/>
<rect x="84.3" y="36.6" width="1.15" height="1.15"/>
<rect x="94.4" y="35.7" width="1.15" height="1.15"/>
<rect x="93.7" y="45.9" width="1.15" height="1.15"/>
<rect x="68.7" y="58.6" width="1.15" height="1.15"/>
<rect x="73.9" y="50.3" width="1.15" height="1.15"/>
<rect x="82.2" y="59.0" width="1.15" height="1.15"/>
<rect x="88.4" y="34.7" width="1.15" height="1.15"/>
<rect x="87.8" y="34.5" width="1.15" height="1.15"/>
<rect x="96.6" y="43.5" width="1.15" height="1.15"/>
<rect x="71.1" y="60.5" width="1.15" height="1.15"/>
<rect x="95.6" y="32.3" width="1.15" height="1.15"/>
<rect x="87.1" y="42.3" width="1.15" height="1.15"/>
<rect x="84.0" y="40.7" width="1.15" height="1.15"/>
<rect x="105.0" y="43.0" width="1.15" height="1.15"/>
<rect x="96.6" y="43.3" width="1.15" height="1.15"/>
<rect x="119.7" y="30.4" width="1.15" height="1.15"/>
<rect x="96.1" y="48.7" width="1.15" height="1.15"/>
<rect x="71.1" y="61.8" width="1.15" height="1.15"/>
<rect x="117.9" y="31.4" width="1.15" height="1.15"/>
<rect x="108.3" y="34.8" width="1.15" height="1.15"/>
<rect x="75.3" y="47.5" width="1.15" height="1.15"/>
<rect x="87.8" y="47.5" width="1.15" height="1.15"/>
<rect x="81.9" y="55.2" width="1.15" height="1.15"/>
<rect x="112.7" y="35.5" width="1.15" height="1.15"/>
<rect x="83.6" y="38.8" width="1.15" height="1.15"/>
<rect x="96.7" y="45.7" width="1.15" height="1.15"/>
<rect x="112.1" y="32.6" width="1.15" height="1.15"/>
<rect x="94.9" y="39.5" width="1.15" height="1.15"/>
<rect x="99.0" y="39.3" width="1.15" height="1.15"/>
<rect x="92.2" y="39.7" width="1.15" height="1.15"/>
<rect x="100.8" y="35.3" width="1.15" height="1.15"/>
<rect x="92.9" y="36.6" width="1.15" height="1.15"/>
<rect x="86.0" y="51.0" width="1.15" height="1.15"/>
<rect x="84.8" y="41.4" width="1.15" height="1.15"/>
<rect x="116.6" y="34.5" width="1.15" height="1.15"/>
<rect x="96.0" y="41.6" width="1.15" height="1.15"/>
<rect x="80.7" y="58.3" width="1.15" height="1.15"/>
<rect x="86.4" y="50.7" width="1.15" height="1.15"/>
<rect x="102.3" y="32.8" width="1.15" height="1.15"/>
<rect x="104.7" y="41.9" width="1.15" height="1.15"/>
<rect x="94.1" y="39.0" width="1.15" height="1.15"/>
<rect x="77.6" y="59.6" width="1.15" height="1.15"/>
<rect x="98.3" y="34.5" width="1.15" height="1.15"/>
<rect x="99.0" y="44.6" width="1.15" height="1.15"/>
<rect x="105.5" y="35.1" width="1.15" height="1.15"/>
<rect x="88.7" y="37.1" width="1.15" height="1.15"/>
<rect x="104.6" y="33.9" width="1.15" height="1.15"/>
<rect x="83.7" y="46.6" width="1.15" height="1.15"/>
<rect x="104.9" y="40.6" width="1.15" height="1.15"/>
<rect x="70.5" y="51.8" width="1.15" height="1.15"/>
<rect x="71.5" y="55.2" width="1.15" height="1.15"/>
<rect x="73.1" y="50.4" width="1.15" height="1.15"/>
<rect x="91.7" y="53.2" width="1.15" height="1.15"/>
<rect x="75.2" y="45.4" width="1.15" height="1.15"/>
<rect x="83.6" y="36.8" width="1.15" height="1.15"/>
<rect x="80.2" y="53.6" width="1.15" height="1.15"/>
<rect x="120.3" y="32.4" width="1.15" height="1.15"/>
<rect x="101.4" y="36.3" width="1.15" height="1.15"/>
<rect x="80.9" y="56.8" width="1.15" height="1.15"/>
<rect x="93.5" y="31.5" width="1.15" height="1.15"/>
<rect x="110.9" y="32.9" width="1.15" height="1.15"/>
<rect x="93.6" y="44.9" width="1.15" height="1.15"/>
<rect x="100.8" y="41.6" width="1.15" height="1.15"/>
<rect x="95.2" y="30.7" width="1.15" height="1.15"/>
<rect x="70.4" y="63.1" width="1.15" height="1.15"/>
<rect x="72.4" y="54.1" width="1.15" height="1.15"/>
<rect x="110.1" y="33.8" width="1.15" height="1.15"/>
<rect x="94.7" y="37.6" width="1.15" height="1.15"/>
<rect x="119.4" y="32.1" width="1.15" height="1.15"/>
<rect x="84.1" y="41.5" width="1.15" height="1.15"/>
<rect x="90.6" y="34.1" width="1.15" height="1.15"/>
<rect x="88.6" y="54.5" width="1.15" height="1.15"/>
<rect x="88.8" y="49.5" width="1.15" height="1.15"/>
<rect x="77.7" y="54.1" width="1.15" height="1.15"/>
<rect x="78.2" y="49.5" width="1.15" height="1.15"/>
<rect x="73.4" y="58.9" width="1.15" height="1.15"/>
<rect x="94.0" y="32.3" width="1.15" height="1.15"/>
<rect x="78.3" y="52.6" width="1.15" height="1.15"/>
<rect x="80.3" y="43.0" width="1.15" height="1.15"/>
<rect x="83.6" y="44.4" width="1.15" height="1.15"/>
<rect x="77.5" y="58.0" width="1.15" height="1.15"/>
<rect x="94.1" y="49.5" width="1.15" height="1.15"/>
<rect x="70.4" y="56.8" width="1.15" height="1.15"/>
<rect x="77.4" y="58.7" width="1.15" height="1.15"/>
<rect x="80.2" y="49.3" width="1.15" height="1.15"/>
<rect x="110.4" y="36.3" width="1.15" height="1.15"/>
<rect x="107.4" y="36.9" width="1.15" height="1.15"/>
<rect x="99.0" y="48.1" width="1.15" height="1.15"/>
<rect x="70.4" y="57.2" width="1.15" height="1.15"/>
<rect x="95.8" y="41.3" width="1.15" height="1.15"/>
<rect x="90.2" y="47.2" width="1.15" height="1.15"/>
<rect x="107.6" y="36.9" width="1.15" height="1.15"/>
<rect x="78.9" y="57.6" width="1.15" height="1.15"/>
<rect x="92.9" y="43.7" width="1.15" height="1.15"/>
<rect x="110.0" y="38.3" width="1.15" height="1.15"/>
<rect x="91.9" y="48.4" width="1.15" height="1.15"/>
<rect x="93.0" y="32.6" width="1.15" height="1.15"/>
<rect x="84.8" y="46.9" width="1.15" height="1.15"/>
<rect x="81.2" y="42.6" width="1.15" height="1.15"/>
<rect x="88.6" y="42.9" width="1.15" height="1.15"/>
<rect x="67.3" y="62.8" width="1.15" height="1.15"/>
<rect x="69.1" y="56.1" width="1.15" height="1.15"/>
<rect x="86.7" y="39.0" width="1.15" height="1.15"/>
<rect x="81.2" y="46.5" width="1.15" height="1.15"/>
<rect x="78.1" y="57.6" width="1.15" height="1.15"/>
<rect x="110.3" y="33.4" width="1.15" height="1.15"/>
<rect x="94.0" y="32.2" width="1.15" height="1.15"/>
<rect x="91.8" y="34.5" width="1.15" height="1.15"/>
<rect x="68.9" y="60.3" width="1.15" height="1.15"/>
<rect x="98.0" y="45.7" width="1.15" height="1.15"/>
<rect x="84.1" y="58.2" width="1.15" height="1.15"/>
<rect x="87.5" y="46.1" width="1.15" height="1.15"/>
<rect x="114.8" y="34.4" width="1.15" height="1.15"/>
<rect x="99.8" y="32.4" width="1.15" height="1.15"/>
<rect x="105.1" y="30.8" width="1.15" height="1.15"/>
<rect x="91.1" y="40.3" width="1.15" height="1.15"/>
<rect x="72.9" y="56.6" width="1.15" height="1.15"/>
<rect x="72.4" y="50.2" width="1.15" height="1.15"/>
<rect x="81.3" y="60.4" width="1.15" height="1.15"/>
<rect x="99.2" y="29.4" width="1.15" height="1.15"/>
<rect x="102.5" y="32.6" width="1.15" height="1.15"/>
<rect x="97.3" y="37.5" width="1.15" height="1.15"/>
<rect x="85.1" y="44.1" width="1.15" height="1.15"/>
<rect x="101.0" y="35.7" width="1.15" height="1.15"/>
<rect x="83.6" y="50.0" width="1.15" height="1.15"/>
<rect x="100.9" y="40.3" width="1.15" height="1.15"/>
<rect x="95.5" y="36.8" width="1.15" height="1.15"/>
<rect x="86.2" y="37.5" width="1.15" height="1.15"/>
<rect x="102.9" y="41.6" width="1.15" height="1.15"/>
<rect x="98.5" y="33.6" width="1.15" height="1.15"/>
<rect x="91.8" y="48.2" width="1.15" height="1.15"/>
<rect x="76.3" y="51.3" width="1.15" height="1.15"/>
<rect x="75.9" y="53.8" width="1.15" height="1.15"/>
<rect x="73.9" y="59.7" width="1.15" height="1.15"/>
<rect x="114.3" y="33.1" width="1.15" height="1.15"/>
<rect x="69.0" y="59.6" width="1.15" height="1.15"/>
<rect x="93.1" y="32.2" width="1.15" height="1.15"/>
<rect x="83.9" y="52.1" width="1.15" height="1.15"/>
<rect x="81.1" y="43.9" width="1.15" height="1.15"/>
<rect x="102.3" y="33.3" width="1.15" height="1.15"/>
<rect x="80.7" y="56.7" width="1.15" height="1.15"/>
<rect x="108.9" y="30.6" width="1.15" height="1.15"/>
<rect x="92.4" y="52.7" width="1.15" height="1.15"/>
<rect x="104.2" y="35.0" width="1.15" height="1.15"/>
<rect x="97.3" y="46.8" width="1.15" height="1.15"/>
<rect x="87.7" y="48.9" width="1.15" height="1.15"/>
<rect x="74.5" y="60.3" width="1.15" height="1.15"/>
<rect x="107.4" y="38.4" width="1.15" height="1.15"/>
<rect x="79.9" y="44.1" width="1.15" height="1.15"/>
<rect x="93.3" y="48.5" width="1.15" height="1.15"/>
<rect x="85.2" y="53.4" width="1.15" height="1.15"/>
<rect x="104.1" y="41.1" width="1.15" height="1.15"/>
<rect x="94.4" y="33.4" width="1.15" height="1.15"/>
<rect x="69.0" y="58.9" width="1.15" height="1.15"/>
<rect x="87.0" y="44.0" width="1.15" height="1.15"/>
<rect x="103.2" y="32.7" width="1.15" height="1.15"/>
<rect x="86.4" y="46.0" width="1.15" height="1.15"/>
<rect x="100.4" y="31.5" width="1.15" height="1.15"/>
<rect x="75.6" y="55.9" width="1.15" height="1.15"/>
<rect x="109.5" y="39.7" width="1.15" height="1.15"/>
<rect x="69.9" y="63.1" width="1.15" height="1.15"/>
<rect x="99.7" y="45.2" width="1.15" height="1.15"/>
<rect x="81.0" y="47.9" width="1.15" height="1.15"/>
<rect x="69.9" y="63.0" width="1.15" height="1.15"/>
<rect x="89.6" y="44.5" width="1.15" height="1.15"/>
<rect x="96.3" y="41.7" width="1.15" height="1.15"/>
<rect x="103.9" y="42.1" width="1.15" height="1.15"/>
<rect x="89.6" y="40.6" width="1.15" height="1.15"/>
<rect x="103.0" y="43.5" width="1.15" height="1.15"/>
<rect x="91.1" y="48.3" width="1.15" height="1.15"/>
<rect x="90.0" y="32.8" width="1.15" height="1.15"/>
<rect x="103.0" y="41.3" width="1.15" height="1.15"/>
<rect x="73.6" y="53.2" width="1.15" height="1.15"/>
<rect x="89.4" y="50.3" width="1.15" height="1.15"/>
<rect x="101.5" y="31.7" width="1.15" height="1.15"/>
<rect x="86.3" y="42.5" width="1.15" height="1.15"/>
<rect x="113.4" y="31.5" width="1.15" height="1.15"/>
<rect x="100.1" y="44.9" width="1.15" height="1.15"/>
<rect x="97.1" y="39.9" width="1.15" height="1.15"/>
<rect x="82.1" y="50.6" width="1.15" height="1.15"/>
<rect x="77.1" y="52.0" width="1.15" height="1.15"/>
<rect x="83.0" y="58.3" width="1.15" height="1.15"/>
<rect x="96.7" y="44.2" width="1.15" height="1.15"/>
<rect x="85.6" y="40.6" width="1.15" height="1.15"/>
<rect x="106.7" y="35.2" width="1.15" height="1.15"/>
<rect x="95.5" y="29.9" width="1.15" height="1.15"/>
<rect x="113.8" y="30.6" width="1.15" height="1.15"/>
<rect x="78.5" y="44.1" width="1.15" height="1.15"/>
<rect x="78.4" y="54.7" width="1.15" height="1.15"/>
<rect x="104.6" y="42.9" width="1.15" height="1.15"/>
<rect x="84.3" y="57.4" width="1.15" height="1.15"/>
<rect x="115.0" y="30.8" width="1.15" height="1.15"/>
<rect x="72.2" y="59.5" width="1.15" height="1.15"/>
<rect x="87.6" y="50.0" width="1.15" height="1.15"/>
<rect x="93.6" y="48.5" width="1.15" height="1.15"/>
<rect x="103.8" y="32.4" width="1.15" height="1.15"/>
<rect x="76.3" y="55.2" width="1.15" height="1.15"/>
<rect x="113.3" y="36.6" width="1.15" height="1.15"/>
<rect x="87.8" y="44.8" width="1.15" height="1.15"/>
<rect x="104.8" y="41.7" width="1.15" height="1.15"/>
<rect x="66.4" y="63.7" width="1.15" height="1.15"/>
<rect x="74.3" y="59.2" width="1.15" height="1.15"/>
<rect x="81.2" y="47.8" width="1.15" height="1.15"/>
<rect x="79.3" y="50.8" width="1.15" height="1.15"/>
<rect x="101.5" y="32.6" width="1.15" height="1.15"/>
<rect x="82.1" y="45.4" width="1.15" height="1.15"/>
<rect x="80.9" y="51.6" width="1.15" height="1.15"/>
<rect x="75.5" y="59.2" width="1.15" height="1.15"/>
<rect x="68.0" y="63.0" width="1.15" height="1.15"/>
<rect x="108.2" y="35.2" width="1.15" height="1.15"/>
<rect x="83.8" y="55.4" width="1.15" height="1.15"/>
<rect x="113.7" y="35.1" width="1.15" height="1.15"/>
<rect x="97.5" y="48.3" width="1.15" height="1.15"/>
<rect x="100.1" y="40.3" width="1.15" height="1.15"/>
<rect x="112.2" y="32.2" width="1.15" height="1.15"/>
<rect x="100.8" y="37.4" width="1.15" height="1.15"/>
<rect x="107.2" y="29.7" width="1.15" height="1.15"/>
<rect x="105.0" y="41.2" width="1.15" height="1.15"/>
<rect x="107.1" y="32.1" width="1.15" height="1.15"/>
<rect x="98.7" y="39.0" width="1.15" height="1.15"/>
<rect x="82.0" y="49.0" width="1.15" height="1.15"/>
<rect x="100.4" y="33.5" width="1.15" height="1.15"/>
<rect x="103.7" y="39.3" width="1.15" height="1.15"/>
<rect x="70.3" y="57.8" width="1.15" height="1.15"/>
<rect x="115.1" y="31.8" width="1.15" height="1.15"/>
<rect x="87.8" y="47.0" width="1.15" height="1.15"/>
<rect x="80.9" y="58.4" width="1.15" height="1.15"/>
<rect x="91.8" y="33.3" width="1.15" height="1.15"/>
<rect x="87.2" y="45.1" width="1.15" height="1.15"/>
<rect x="104.1" y="33.5" width="1.15" height="1.15"/>
<rect x="71.8" y="59.6" width="1.15" height="1.15"/>
<rect x="103.5" y="35.9" width="1.15" height="1.15"/>
<rect x="93.9" y="33.8" width="1.15" height="1.15"/>
<rect x="84.2" y="54.4" width="1.15" height="1.15"/>
<rect x="80.6" y="46.4" width="1.15" height="1.15"/>
<rect x="90.2" y="35.9" width="1.15" height="1.15"/>
<rect x="84.4" y="48.4" width="1.15" height="1.15"/>
<rect x="83.5" y="45.2" width="1.15" height="1.15"/>
<rect x="108.1" y="34.9" width="1.15" height="1.15"/>
<rect x="81.5" y="50.7" width="1.15" height="1.15"/>
<rect x="94.4" y="49.7" width="1.15" height="1.15"/>
<rect x="74.7" y="57.8" width="1.15" height="1.15"/>
<rect x="81.0" y="46.2" width="1.15" height="1.15"/>
<rect x="74.2" y="56.3" width="1.15" height="1.15"/>
<rect x="99.4" y="41.0" width="1.15" height="1.15"/>
<rect x="71.7" y="61.7" width="1.15" height="1.15"/>
<rect x="104.5" y="33.6" width="1.15" height="1.15"/>
<rect x="76.0" y="52.0" width="1.15" height="1.15"/>
<rect x="91.6" y="38.1" width="1.15" height="1.15"/>
<rect x="72.3" y="58.6" width="1.15" height="1.15"/>
<rect x="96.6" y="46.6" width="1.15" height="1.15"/>
<rect x="82.2" y="47.7" width="1.15" height="1.15"/>
<rect x="102.1" y="38.3" width="1.15" height="1.15"/>
<rect x="95.6" y="45.9" width="1.15" height="1.15"/>
<rect x="83.6" y="42.7" width="1.15" height="1.15"/>
<rect x="86.7" y="53.2" width="1.15" height="1.15"/>
<rect x="106.7" y="42.1" width="1.15" height="1.15"/>
<rect x="88.1" y="42.7" width="1.15" height="1.15"/>
<rect x="104.7" y="37.3" width="1.15" height="1.15"/>
<rect x="75.3" y="52.0" width="1.15" height="1.15"/>
<rect x="101.5" y="42.0" width="1.15" height="1.15"/>
<rect x="101.9" y="36.3" width="1.15" height="1.15"/>
<rect x="94.6" y="33.8" width="1.15" height="1.15"/>
<rect x="97.1" y="34.2" width="1.15" height="1.15"/>
<rect x="77.5" y="59.7" width="1.15" height="1.15"/>
<rect x="106.6" y="34.6" width="1.15" height="1.15"/>
<rect x="104.5" y="38.2" width="1.15" height="1.15"/>
<rect x="76.9" y="54.1" width="1.15" height="1.15"/>
<rect x="81.2" y="54.8" width="1.15" height="1.15"/>
<rect x="94.4" y="44.8" width="1.15" height="1.15"/>
<rect x="87.6" y="36.9" width="1.15" height="1.15"/>
<rect x="99.8" y="42.7" width="1.15" height="1.15"/>
<rect x="99.6" y="39.7" width="1.15" height="1.15"/>
<rect x="74.0" y="55.6" width="1.15" height="1.15"/>
<rect x="93.6" y="34.4" width="1.15" height="1.15"/>
<rect x="108.8" y="34.2" width="1.15" height="1.15"/>
<rect x="75.1" y="59.0" width="1.15" height="1.15"/>
<rect x="79.3" y="44.0" width="1.15" height="1.15"/>
<rect x="89.4" y="52.0" width="1.15" height="1.15"/>
<rect x="106.5" y="35.8" width="1.15" height="1.15"/>
<rect x="74.4" y="52.6" width="1.15" height="1.15"/>
<rect x="91.5" y="43.3" width="1.15" height="1.15"/>
<rect x="104.9" y="35.3" width="1.15" height="1.15"/>
<rect x="96.9" y="39.9" width="1.15" height="1.15"/>
<rect x="87.1" y="49.3" width="1.15" height="1.15"/>
<rect x="87.1" y="54.0" width="1.15" height="1.15"/>
<rect x="103.5" y="32.5" width="1.15" height="1.15"/>
<rect x="108.9" y="32.6" width="1.15" height="1.15"/>
<rect x="105.5" y="36.7" width="1.15" height="1.15"/>
<rect x="77.9" y="49.2" width="1.15" height="1.15"/>
<rect x="100.1" y="45.5" width="1.15" height="1.15"/>
<rect x="80.4" y="49.7" width="1.15" height="1.15"/>
<rect x="84.2" y="44.5" width="1.15" height="1.15"/>
<rect x="93.8" y="49.6" width="1.15" height="1.15"/>
<rect x="96.2" y="46.8" width="1.15" height="1.15"/>
<rect x="85.1" y="48.7" width="1.15" height="1.15"/>
<rect x="92.1" y="47.0" width="1.15" height="1.15"/>
<rect x="92.7" y="45.6" width="1.15" height="1.15"/>
<rect x="88.5" y="47.4" width="1.15" height="1.15"/>
<rect x="93.4" y="37.0" width="1.15" height="1.15"/>
<rect x="78.4" y="46.5" width="1.15" height="1.15"/>
<rect x="81.3" y="56.6" width="1.15" height="1.15"/>
<rect x="74.7" y="51.9" width="1.15" height="1.15"/>
<rect x="106.3" y="33.5" width="1.15" height="1.15"/>
<rect x="72.5" y="59.8" width="1.15" height="1.15"/>
<rect x="77.9" y="50.9" width="1.15" height="1.15"/>
<rect x="84.0" y="52.3" width="1.15" height="1.15"/>
<rect x="91.8" y="35.9" width="1.15" height="1.15"/>
<rect x="74.8" y="60.3" width="1.15" height="1.15"/>
<rect x="89.3" y="45.8" width="1.15" height="1.15"/>
<rect x="83.1" y="53.7" width="1.15" height="1.15"/>
<rect x="102.5" y="41.1" width="1.15" height="1.15"/>
<rect x="75.7" y="59.8" width="1.15" height="1.15"/>
<rect x="86.6" y="48.0" width="1.15" height="1.15"/>
<rect x="93.5" y="38.9" width="1.15" height="1.15"/>
<rect x="71.2" y="61.2" width="1.15" height="1.15"/>
<rect x="74.5" y="57.6" width="1.15" height="1.15"/>
<rect x="85.1" y="50.1" width="1.15" height="1.15"/>
<rect x="85.8" y="48.0" width="1.15" height="1.15"/>
<rect x="88.0" y="52.5" width="1.15" height="1.15"/>
<rect x="87.9" y="49.8" width="1.15" height="1.15"/>
<rect x="96.7" y="46.0" width="1.15" height="1.15"/>
<rect x="85.1" y="52.0" width="1.15" height="1.15"/>
<rect x="81.7" y="48.8" width="1.15" height="1.15"/>
<rect x="72.8" y="52.0" width="1.15" height="1.15"/>
<rect x="108.5" y="38.9" width="1.15" height="1.15"/>
<rect x="90.2" y="47.3" width="1.15" height="1.15"/>
<rect x="82.4" y="50.1" width="1.15" height="1.15"/>
<rect x="89.6" y="40.0" width="1.15" height="1.15"/>
<rect x="87.0" y="53.9" width="1.15" height="1.15"/>
<rect x="89.0" y="51.8" width="1.15" height="1.15"/>
<rect x="104.4" y="33.9" width="1.15" height="1.15"/>
<rect x="97.7" y="43.6" width="1.15" height="1.15"/>
<rect x="88.9" y="45.9" width="1.15" height="1.15"/>
<rect x="94.2" y="43.8" width="1.15" height="1.15"/>
<rect x="85.8" y="55.4" width="1.15" height="1.15"/>
<rect x="92.1" y="34.3" width="1.15" height="1.15"/>
<rect x="91.5" y="48.7" width="1.15" height="1.15"/>
<rect x="91.3" y="46.2" width="1.15" height="1.15"/>
<rect x="84.5" y="55.9" width="1.15" height="1.15"/>
<rect x="86.6" y="42.8" width="1.15" height="1.15"/>
<rect x="112.4" y="33.6" width="1.15" height="1.15"/>
<rect x="102.2" y="38.6" width="1.15" height="1.15"/>
<rect x="85.4" y="47.1" width="1.15" height="1.15"/>
<rect x="111.2" y="37.0" width="1.15" height="1.15"/>
<rect x="96.9" y="48.8" width="1.15" height="1.15"/>
<rect x="100.7" y="42.9" width="1.15" height="1.15"/>
<rect x="85.9" y="44.9" width="1.15" height="1.15"/>
<rect x="72.3" y="61.7" width="1.15" height="1.15"/>
<rect x="99.0" y="40.5" width="1.15" height="1.15"/>
<rect x="87.0" y="47.4" width="1.15" height="1.15"/>
<rect x="90.0" y="51.5" width="1.15" height="1.15"/>
<rect x="86.0" y="49.8" width="1.15" height="1.15"/>
<rect x="84.4" y="39.6" width="1.15" height="1.15"/>
<rect x="98.3" y="44.0" width="1.15" height="1.15"/>
<rect x="96.6" y="32.0" width="1.15" height="1.15"/>
<rect x="75.4" y="57.9" width="1.15" height="1.15"/>
<rect x="81.9" y="48.0" width="1.15" height="1.15"/>
<rect x="82.5" y="43.1" width="1.15" height="1.15"/>
<rect x="100.6" y="36.6" width="1.15" height="1.15"/>
<rect x="103.1" y="36.1" width="1.15" height="1.15"/>
<rect x="72.4" y="60.0" width="1.15" height="1.15"/>
<rect x="96.1" y="47.2" width="1.15" height="1.15"/>
<rect x="82.9" y="43.6" width="1.15" height="1.15"/>
<rect x="85.1" y="45.3" width="1.15" height="1.15"/>
<rect x="85.9" y="56.3" width="1.15" height="1.15"/>
<rect x="82.5" y="49.4" width="1.15" height="1.15"/>
<rect x="91.5" y="37.3" width="1.15" height="1.15"/>
<rect x="83.8" y="41.6" width="1.15" height="1.15"/>
<rect x="89.7" y="38.2" width="1.15" height="1.15"/>
<rect x="78.3" y="58.0" width="1.15" height="1.15"/>
<rect x="97.4" y="33.2" width="1.15" height="1.15"/>
<rect x="92.5" y="43.1" width="1.15" height="1.15"/>
<rect x="105.4" y="35.8" width="1.15" height="1.15"/>
<rect x="93.6" y="50.0" width="1.15" height="1.15"/>
<rect x="80.7" y="47.2" width="1.15" height="1.15"/>
<rect x="90.3" y="36.5" width="1.15" height="1.15"/>
<rect x="77.0" y="51.4" width="1.15" height="1.15"/>
<rect x="94.2" y="45.8" width="1.15" height="1.15"/>
<rect x="93.8" y="39.7" width="1.15" height="1.15"/>
<rect x="77.1" y="54.2" width="1.15" height="1.15"/>
<rect x="73.1" y="61.6" width="1.15" height="1.15"/>
<rect x="110.3" y="35.8" width="1.15" height="1.15"/>
<rect x="89.7" y="47.3" width="1.15" height="1.15"/>
<rect x="101.4" y="45.3" width="1.15" height="1.15"/>
<rect x="110.9" y="33.8" width="1.15" height="1.15"/>
<rect x="81.7" y="57.7" width="1.15" height="1.15"/>
<rect x="99.4" y="32.2" width="1.15" height="1.15"/>
<rect x="73.5" y="58.3" width="1.15" height="1.15"/>
<rect x="75.1" y="60.7" width="1.15" height="1.15"/>
<rect x="76.9" y="52.1" width="1.15" height="1.15"/>
<rect x="81.5" y="46.7" width="1.15" height="1.15"/>
<rect x="99.2" y="35.3" width="1.15" height="1.15"/>
<rect x="90.7" y="48.2" width="1.15" height="1.15"/>
<rect x="97.5" y="34.3" width="1.15" height="1.15"/>
<rect x="75.0" y="52.5" width="1.15" height="1.15"/>
<rect x="101.9" y="36.4" width="1.15" height="1.15"/>
<rect x="101.1" y="34.8" width="1.15" height="1.15"/>
<rect x="90.3" y="36.2" width="1.15" height="1.15"/>
<rect x="103.0" y="38.4" width="1.15" height="1.15"/>
<rect x="78.2" y="50.9" width="1.15" height="1.15"/>
<rect x="78.2" y="46.1" width="1.15" height="1.15"/>
<rect x="109.5" y="33.6" width="1.15" height="1.15"/>
<rect x="74.1" y="57.7" width="1.15" height="1.15"/>
<rect x="73.2" y="57.0" width="1.15" height="1.15"/>
<rect x="84.1" y="47.5" width="1.15" height="1.15"/>
<rect x="95.8" y="33.6" width="1.15" height="1.15"/>
<rect x="75.5" y="59.4" width="1.15" height="1.15"/>
<rect x="95.2" y="50.3" width="1.15" height="1.15"/>
<rect x="86.5" y="54.0" width="1.15" height="1.15"/>
<rect x="111.3" y="37.6" width="1.15" height="1.15"/>
<rect x="83.9" y="54.7" width="1.15" height="1.15"/>
<rect x="76.3" y="54.9" width="1.15" height="1.15"/>
<rect x="80.8" y="52.7" width="1.15" height="1.15"/>
<rect x="90.6" y="49.5" width="1.15" height="1.15"/>
<rect x="93.5" y="36.6" width="1.15" height="1.15"/>
<rect x="98.1" y="43.6" width="1.15" height="1.15"/>
<rect x="100.8" y="34.6" width="1.15" height="1.15"/>
<rect x="77.0" y="58.1" width="1.15" height="1.15"/>
<rect x="87.2" y="52.0" width="1.15" height="1.15"/>
<rect x="104.3" y="40.7" width="1.15" height="1.15"/>
<rect x="108.7" y="34.7" width="1.15" height="1.15"/>
<rect x="96.5" y="44.5" width="1.15" height="1.15"/>
<rect x="89.2" y="50.2" width="1.15" height="1.15"/>
<rect x="103.7" y="39.9" width="1.15" height="1.15"/>
<rect x="101.8" y="40.9" width="1.15" height="1.15"/>
<rect x="80.3" y="44.7" width="1.15" height="1.15"/>
<rect x="95.4" y="39.2" width="1.15" height="1.15"/>
<rect x="109.8" y="33.8" width="1.15" height="1.15"/>
<rect x="94.6" y="48.8" width="1.15" height="1.15"/>
<rect x="83.7" y="52.7" width="1.15" height="1.15"/>
<rect x="74.2" y="51.8" width="1.15" height="1.15"/>
<rect x="81.6" y="53.3" width="1.15" height="1.15"/>
<rect x="106.6" y="39.4" width="1.15" height="1.15"/>
<rect x="79.3" y="54.9" width="1.15" height="1.15"/>
<rect x="88.4" y="48.4" width="1.15" height="1.15"/>
<rect x="76.3" y="49.9" width="1.15" height="1.15"/>
<rect x="91.0" y="41.1" width="1.15" height="1.15"/>
<rect x="98.4" y="34.4" width="1.15" height="1.15"/>
<rect x="86.3" y="46.8" width="1.15" height="1.15"/>
<rect x="80.7" y="43.0" width="1.15" height="1.15"/>
<rect x="87.8" y="51.5" width="1.15" height="1.15"/>
<rect x="100.4" y="35.7" width="1.15" height="1.15"/>
<rect x="81.3" y="48.4" width="1.15" height="1.15"/>
<rect x="87.8" y="42.2" width="1.15" height="1.15"/>
<rect x="91.1" y="42.9" width="1.15" height="1.15"/>
<rect x="100.5" y="37.3" width="1.15" height="1.15"/>
<rect x="85.5" y="48.5" width="1.15" height="1.15"/>
<rect x="98.1" y="35.8" width="1.15" height="1.15"/>
<rect x="99.3" y="40.8" width="1.15" height="1.15"/>
<rect x="90.0" y="47.4" width="1.15" height="1.15"/>
<rect x="80.7" y="50.8" width="1.15" height="1.15"/>
<rect x="110.5" y="33.7" width="1.15" height="1.15"/>
<rect x="95.5" y="38.4" width="1.15" height="1.15"/>
<rect x="82.3" y="54.1" width="1.15" height="1.15"/>
<rect x="97.4" y="44.6" width="1.15" height="1.15"/>
<rect x="85.4" y="47.1" width="1.15" height="1.15"/>
<rect x="99.1" y="32.5" width="1.15" height="1.15"/>
<rect x="101.5" y="36.8" width="1.15" height="1.15"/>
<rect x="103.2" y="35.3" width="1.15" height="1.15"/>
<rect x="109.5" y="37.3" width="1.15" height="1.15"/>
<rect x="89.5" y="46.0" width="1.15" height="1.15"/>
<rect x="110.5" y="36.6" width="1.15" height="1.15"/>
<rect x="80.6" y="45.8" width="1.15" height="1.15"/>
<rect x="96.2" y="34.0" width="1.15" height="1.15"/>
<rect x="93.2" y="41.0" width="1.15" height="1.15"/>
<rect x="93.2" y="45.7" width="1.15" height="1.15"/>
<rect x="75.9" y="60.3" width="1.15" height="1.15"/>
<rect x="92.0" y="43.5" width="1.15" height="1.15"/>
<rect x="82.5" y="57.7" width="1.15" height="1.15"/>
<rect x="81.8" y="44.4" width="1.15" height="1.15"/>
<rect x="112.3" y="36.8" width="1.15" height="1.15"/>
<rect x="100.7" y="40.0" width="1.15" height="1.15"/>
<rect x="87.5" y="55.0" width="1.15" height="1.15"/>
<rect x="98.9" y="35.4" width="1.15" height="1.15"/>
<rect x="83.3" y="45.6" width="1.15" height="1.15"/>
<rect x="84.3" y="51.4" width="1.15" height="1.15"/>
<rect x="86.7" y="41.9" width="1.15" height="1.15"/>
<rect x="93.5" y="46.5" width="1.15" height="1.15"/>
<rect x="75.8" y="53.9" width="1.15" height="1.15"/>
<rect x="85.3" y="44.8" width="1.15" height="1.15"/>
<rect x="97.0" y="44.4" width="1.15" height="1.15"/>
<rect x="95.9" y="49.2" width="1.15" height="1.15"/>
<rect x="105.0" y="39.5" width="1.15" height="1.15"/>
<rect x="70.7" y="57.5" width="1.15" height="1.15"/>
<rect x="83.5" y="48.6" width="1.15" height="1.15"/>
<rect x="98.6" y="43.7" width="1.15" height="1.15"/>
<rect x="86.6" y="50.2" width="1.15" height="1.15"/>
<rect x="99.1" y="39.0" width="1.15" height="1.15"/>
<rect x="79.1" y="54.1" width="1.15" height="1.15"/>
<rect x="101.3" y="38.4" width="1.15" height="1.15"/>
<rect x="92.0" y="36.8" width="1.15" height="1.15"/>
<rect x="88.2" y="53.9" width="1.15" height="1.15"/>
<rect x="86.6" y="48.7" width="1.15" height="1.15"/>
<rect x="75.1" y="51.7" width="1.15" height="1.15"/>
<rect x="101.9" y="38.4" width="1.15" height="1.15"/>
<rect x="76.1" y="56.1" width="1.15" height="1.15"/>
<rect x="90.6" y="38.5" width="1.15" height="1.15"/>
<rect x="86.3" y="49.3" width="1.15" height="1.15"/>
<rect x="76.8" y="55.2" width="1.15" height="1.15"/>
<rect x="109.6" y="36.8" width="1.15" height="1.15"/>
<rect x="70.7" y="59.6" width="1.15" height="1.15"/>
<rect x="89.0" y="45.4" width="1.15" height="1.15"/>
<rect x="111.3" y="36.5" width="1.15" height="1.15"/>
<rect x="94.7" y="38.8" width="1.15" height="1.15"/>
<rect x="77.6" y="55.7" width="1.15" height="1.15"/>
<rect x="75.4" y="49.5" width="1.15" height="1.15"/>
<rect x="85.7" y="50.1" width="1.15" height="1.15"/>
<rect x="95.8" y="41.0" width="1.15" height="1.15"/>
<rect x="88.1" y="36.3" width="1.15" height="1.15"/>
<rect x="75.1" y="58.4" width="1.15" height="1.15"/>
<rect x="88.9" y="36.9" width="1.15" height="1.15"/>
<rect x="89.1" y="48.2" width="1.15" height="1.15"/>
<rect x="78.1" y="57.8" width="1.15" height="1.15"/>
<rect x="93.9" y="42.8" width="1.15" height="1.15"/>
<rect x="78.2" y="53.0" width="1.15" height="1.15"/>
<rect x="74.6" y="50.4" width="1.15" height="1.15"/>
<rect x="100.1" y="32.1" width="1.15" height="1.15"/>
<rect x="109.4" y="34.9" width="1.15" height="1.15"/>
<rect x="113.5" y="34.6" width="1.15" height="1.15"/>
<rect x="89.9" y="37.6" width="1.15" height="1.15"/>
<rect x="75.6" y="57.0" width="1.15" height="1.15"/>
<rect x="90.1" y="42.8" width="1.15" height="1.15"/>
<rect x="100.8" y="40.8" width="1.15" height="1.15"/>
<rect x="95.8" y="42.1" width="1.15" height="1.15"/>
<rect x="98.0" y="49.0" width="1.15" height="1.15"/>
<rect x="85.9" y="48.8" width="1.15" height="1.15"/>
<rect x="90.4" y="48.5" width="1.15" height="1.15"/>
<rect x="109.4" y="34.8" width="1.15" height="1.15"/>
<rect x="84.9" y="51.3" width="1.15" height="1.15"/>
<rect x="100.4" y="43.4" width="1.15" height="1.15"/>
<rect x="94.8" y="37.4" width="1.15" height="1.15"/>
<rect x="86.9" y="44.6" width="1.15" height="1.15"/>
<rect x="94.2" y="44.0" width="1.15" height="1.15"/>
<rect x="93.4" y="47.7" width="1.15" height="1.15"/>
<rect x="88.9" y="49.7" width="1.15" height="1.15"/>
<rect x="89.7" y="51.2" width="1.15" height="1.15"/>
<rect x="100.5" y="35.5" width="1.15" height="1.15"/>
<rect x="103.8" y="43.3" width="1.15" height="1.15"/>
<rect x="89.5" y="51.9" width="1.15" height="1.15"/>
<rect x="81.9" y="50.8" width="1.15" height="1.15"/>
<rect x="96.5" y="44.2" width="1.15" height="1.15"/>
<rect x="79.8" y="50.8" width="1.15" height="1.15"/>
<rect x="107.0" y="32.3" width="1.15" height="1.15"/>
<rect x="100.4" y="45.5" width="1.15" height="1.15"/>
<rect x="93.6" y="49.5" width="1.15" height="1.15"/>
<rect x="91.2" y="51.5" width="1.15" height="1.15"/>
<rect x="84.0" y="46.9" width="1.15" height="1.15"/>
<rect x="95.0" y="41.5" width="1.15" height="1.15"/>
<rect x="89.0" y="45.5" width="1.15" height="1.15"/>
<rect x="95.6" y="34.6" width="1.15" height="1.15"/>
<rect x="100.1" y="44.3" width="1.15" height="1.15"/>
<rect x="82.2" y="53.2" width="1.15" height="1.15"/>
<rect x="88.3" y="46.7" width="1.15" height="1.15"/>
<rect x="94.2" y="40.1" width="1.15" height="1.15"/>
<rect x="99.9" y="34.0" width="1.15" height="1.15"/>
<rect x="89.1" y="38.8" width="1.15" height="1.15"/>
<rect x="99.5" y="41.2" width="1.15" height="1.15"/>
<rect x="76.1" y="51.8" width="1.15" height="1.15"/>
<rect x="86.9" y="47.7" width="1.15" height="1.15"/>
<rect x="92.2" y="51.9" width="1.15" height="1.15"/>
<rect x="82.4" y="42.7" width="1.15" height="1.15"/>
<rect x="74.9" y="59.6" width="1.15" height="1.15"/>
<rect x="100.9" y="45.4" width="1.15" height="1.15"/>
<rect x="85.9" y="52.3" width="1.15" height="1.15"/>
<rect x="78.7" y="46.3" width="1.15" height="1.15"/>
<rect x="79.9" y="46.6" width="1.15" height="1.15"/>
<rect x="80.5" y="54.3" width="1.15" height="1.15"/>
<rect x="95.6" y="48.1" width="1.15" height="1.15"/>
<rect x="70.8" y="60.8" width="1.15" height="1.15"/>
<rect x="103.2" y="34.9" width="1.15" height="1.15"/>
<rect x="102.9" y="42.4" width="1.15" height="1.15"/>
<rect x="83.4" y="55.0" width="1.15" height="1.15"/>
<rect x="96.5" y="49.5" width="1.15" height="1.15"/>
<rect x="92.5" y="43.6" width="1.15" height="1.15"/>
<rect x="87.6" y="40.6" width="1.15" height="1.15"/>
<rect x="89.4" y="44.1" width="1.15" height="1.15"/>
<rect x="80.2" y="52.1" width="1.15" height="1.15"/>
<rect x="93.5" y="42.5" width="1.15" height="1.15"/>
<rect x="85.2" y="51.9" width="1.15" height="1.15"/>
<rect x="106.1" y="38.5" width="1.15" height="1.15"/>
<rect x="87.6" y="43.9" width="1.15" height="1.15"/>
<rect x="101.4" y="41.6" width="1.15" height="1.15"/>
<rect x="87.6" y="44.1" width="1.15" height="1.15"/>
<rect x="90.6" y="44.2" width="1.15" height="1.15"/>
<rect x="91.4" y="51.7" width="1.15" height="1.15"/>
<rect x="77.1" y="50.6" width="1.15" height="1.15"/>
<rect x="79.2" y="50.7" width="1.15" height="1.15"/>
<rect x="86.1" y="48.1" width="1.15" height="1.15"/>
<rect x="86.0" y="54.0" width="1.15" height="1.15"/>
<rect x="95.1" y="35.5" width="1.15" height="1.15"/>
<rect x="77.0" y="47.6" width="1.15" height="1.15"/>
<rect x="91.6" y="52.8" width="1.15" height="1.15"/>
<rect x="86.9" y="44.3" width="1.15" height="1.15"/>
<rect x="82.1" y="49.2" width="1.15" height="1.15"/>
<rect x="74.8" y="56.9" width="1.15" height="1.15"/>
<rect x="77.6" y="53.5" width="1.15" height="1.15"/>
<rect x="105.4" y="38.5" width="1.15" height="1.15"/>
<rect x="90.8" y="41.7" width="1.15" height="1.15"/>
<rect x="101.3" y="36.5" width="1.15" height="1.15"/>
<rect x="83.1" y="45.3" width="1.15" height="1.15"/>
<rect x="87.2" y="52.3" width="1.15" height="1.15"/>
<rect x="86.6" y="51.3" width="1.15" height="1.15"/>
<rect x="108.8" y="37.6" width="1.15" height="1.15"/>
<rect x="82.4" y="48.0" width="1.15" height="1.15"/>
<rect x="75.1" y="51.0" width="1.15" height="1.15"/>
<rect x="79.2" y="49.1" width="1.15" height="1.15"/>
<rect x="81.7" y="50.9" width="1.15" height="1.15"/>
<rect x="94.6" y="43.0" width="1.15" height="1.15"/>
<rect x="114.2" y="33.4" width="1.15" height="1.15"/>
<rect x="96.8" y="39.7" width="1.15" height="1.15"/>
<rect x="83.8" y="45.6" width="1.15" height="1.15"/>
<rect x="110.8" y="34.7" width="1.15" height="1.15"/>
<rect x="71.3" y="61.1" width="1.15" height="1.15"/>
<rect x="89.3" y="49.7" width="1.15" height="1.15"/>
<rect x="100.4" y="36.0" width="1.15" height="1.15"/>
<rect x="79.0" y="50.5" width="1.15" height="1.15"/>
<rect x="89.1" y="43.1" width="1.15" height="1.15"/>
<rect x="102.7" y="38.7" width="1.15" height="1.15"/>
<rect x="82.7" y="56.2" width="1.15" height="1.15"/>
<rect x="101.4" y="45.0" width="1.15" height="1.15"/>
<rect x="102.0" y="39.6" width="1.15" height="1.15"/>
<rect x="85.8" y="39.7" width="1.15" height="1.15"/>
<rect x="99.0" y="36.3" width="1.15" height="1.15"/>
<rect x="72.7" y="60.2" width="1.15" height="1.15"/>
<rect x="75.1" y="59.3" width="1.15" height="1.15"/>
<rect x="77.9" y="46.4" width="1.15" height="1.15"/>
<rect x="111.0" y="35.6" width="1.15" height="1.15"/>
<rect x="81.4" y="42.9" width="1.15" height="1.15"/>
<rect x="80.7" y="44.1" width="1.15" height="1.15"/>
<rect x="99.6" y="37.3" width="1.15" height="1.15"/>
<rect x="82.6" y="51.1" width="1.15" height="1.15"/>
<rect x="89.5" y="37.4" width="1.15" height="1.15"/>
<rect x="85.7" y="47.4" width="1.15" height="1.15"/>
<rect x="92.1" y="34.5" width="1.15" height="1.15"/>
<rect x="96.5" y="35.8" width="1.15" height="1.15"/>
<rect x="93.8" y="37.5" width="1.15" height="1.15"/>
<rect x="110.3" y="35.9" width="1.15" height="1.15"/>
<rect x="89.8" y="50.2" width="1.15" height="1.15"/>
<rect x="100.9" y="34.1" width="1.15" height="1.15"/>
<rect x="91.1" y="37.6" width="1.15" height="1.15"/>
<rect x="103.5" y="42.0" width="1.15" height="1.15"/>
<rect x="106.5" y="36.7" width="1.15" height="1.15"/>
<rect x="105.2" y="42.4" width="1.15" height="1.15"/>
<rect x="81.9" y="43.8" width="1.15" height="1.15"/>
<rect x="98.2" y="33.5" width="1.15" height="1.15"/>
<rect x="86.7" y="38.6" width="1.15" height="1.15"/>
<rect x="104.2" y="36.1" width="1.15" height="1.15"/>
<rect x="104.0" y="39.4" width="1.15" height="1.15"/>
<rect x="76.2" y="58.8" width="1.15" height="1.15"/>
<rect x="95.4" y="47.1" width="1.15" height="1.15"/>
<rect x="81.9" y="43.5" width="1.15" height="1.15"/>
<rect x="80.2" y="57.2" width="1.15" height="1.15"/>
<rect x="83.7" y="51.8" width="1.15" height="1.15"/>
<rect x="79.0" y="47.6" width="1.15" height="1.15"/>
<rect x="80.7" y="58.1" width="1.15" height="1.15"/>
<rect x="96.2" y="40.2" width="1.15" height="1.15"/>
<rect x="100.8" y="39.7" width="1.15" height="1.15"/>
<rect x="100.6" y="32.6" width="1.15" height="1.15"/>
<rect x="72.0" y="54.7" width="1.15" height="1.15"/>
<rect x="99.3" y="33.8" width="1.15" height="1.15"/>
<rect x="77.3" y="55.6" width="1.15" height="1.15"/>
<rect x="82.2" y="55.9" width="1.15" height="1.15"/>
<rect x="97.6" y="35.6" width="1.15" height="1.15"/>
<rect x="94.1" y="37.8" width="1.15" height="1.15"/>
<rect x="82.8" y="48.1" width="1.15" height="1.15"/>
<rect x="105.9" y="41.4" width="1.15" height="1.15"/>
<rect x="99.4" y="32.8" width="1.15" height="1.15"/>
<rect x="77.5" y="58.8" width="1.15" height="1.15"/>
<rect x="105.9" y="32.5" width="1.15" height="1.15"/>
<rect x="96.3" y="35.8" width="1.15" height="1.15"/>
<rect x="85.8" y="56.8" width="1.15" height="1.15"/>
<rect x="84.9" y="51.5" width="1.15" height="1.15"/>
<rect x="82.4" y="44.2" width="1.15" height="1.15"/>
<rect x="79.0" y="54.9" width="1.15" height="1.15"/>
<rect x="106.5" y="39.1" width="1.15" height="1.15"/>
<rect x="85.6" y="50.8" width="1.15" height="1.15"/>
<rect x="79.1" y="45.2" width="1.15" height="1.15"/>
<rect x="100.1" y="44.2" width="1.15" height="1.15"/>
<rect x="93.9" y="37.0" width="1.15" height="1.15"/>
<rect x="83.0" y="48.9" width="1.15" height="1.15"/>
<rect x="78.3" y="50.0" width="1.15" height="1.15"/>
<rect x="109.7" y="34.3" width="1.15" height="1.15"/>
<rect x="86.5" y="42.1" width="1.15" height="1.15"/>
<rect x="74.8" y="53.6" width="1.15" height="1.15"/>
<rect x="79.7" y="48.3" width="1.15" height="1.15"/>
<rect x="92.7" y="40.2" width="1.15" height="1.15"/>
<rect x="106.2" y="36.0" width="1.15" height="1.15"/>
<rect x="96.1" y="42.3" width="1.15" height="1.15"/>
<rect x="91.9" y="45.3" width="1.15" height="1.15"/>
<rect x="95.0" y="47.4" width="1.15" height="1.15"/>
<rect x="93.6" y="38.6" width="1.15" height="1.15"/>
<rect x="88.8" y="53.8" width="1.15" height="1.15"/>
<rect x="91.7" y="44.6" width="1.15" height="1.15"/>
<rect x="78.7" y="46.7" width="1.15" height="1.15"/>
<rect x="104.8" y="42.4" width="1.15" height="1.15"/>
<rect x="74.8" y="55.3" width="1.15" height="1.15"/>
<rect x="96.9" y="37.2" width="1.15" height="1.15"/>
<rect x="99.0" y="37.3" width="1.15" height="1.15"/>
<rect x="87.6" y="52.7" width="1.15" height="1.15"/>
<rect x="104.8" y="38.3" width="1.15" height="1.15"/>
<rect x="93.6" y="40.4" width="1.15" height="1.15"/>
<rect x="92.9" y="44.2" width="1.15" height="1.15"/>
<rect x="93.4" y="37.7" width="1.15" height="1.15"/>
<rect x="89.9" y="40.5" width="1.15" height="1.15"/>
<rect x="75.1" y="50.4" width="1.15" height="1.15"/>
<rect x="83.2" y="43.8" width="1.15" height="1.15"/>
<rect x="109.2" y="36.4" width="1.15" height="1.15"/>
<rect x="89.6" y="44.5" width="1.15" height="1.15"/>
<rect x="83.1" y="44.9" width="1.15" height="1.15"/>
<rect x="92.2" y="33.7" width="1.15" height="1.15"/>
<rect x="90.6" y="35.7" width="1.15" height="1.15"/>
<rect x="72.8" y="57.6" width="1.15" height="1.15"/>
<rect x="85.1" y="56.6" width="1.15" height="1.15"/>
<rect x="91.3" y="36.5" width="1.15" height="1.15"/>
<rect x="87.1" y="45.7" width="1.15" height="1.15"/>
<rect x="76.1" y="55.9" width="1.15" height="1.15"/>
<rect x="77.1" y="51.3" width="1.15" height="1.15"/>
<rect x="79.8" y="45.1" width="1.15" height="1.15"/>
<rect x="88.8" y="37.1" width="1.15" height="1.15"/>
<rect x="83.3" y="44.3" width="1.15" height="1.15"/>
<rect x="97.3" y="38.0" width="1.15" height="1.15"/>
<rect x="101.3" y="43.3" width="1.15" height="1.15"/>
<rect x="77.1" y="59.2" width="1.15" height="1.15"/>
<rect x="108.4" y="40.1" width="1.15" height="1.15"/>
<rect x="80.6" y="50.0" width="1.15" height="1.15"/>
<rect x="102.0" y="38.8" width="1.15" height="1.15"/>
<rect x="85.4" y="39.0" width="1.15" height="1.15"/>
<rect x="78.8" y="47.2" width="1.15" height="1.15"/>
<rect x="89.7" y="52.6" width="1.15" height="1.15"/>
<rect x="85.8" y="52.4" width="1.15" height="1.15"/>
<rect x="80.5" y="46.7" width="1.15" height="1.15"/>
<rect x="102.2" y="32.2" width="1.15" height="1.15"/>
<rect x="89.1" y="40.4" width="1.15" height="1.15"/>
<rect x="111.6" y="36.8" width="1.15" height="1.15"/>
<rect x="96.5" y="36.5" width="1.15" height="1.15"/>
<rect x="82.1" y="49.4" width="1.15" height="1.15"/>
<rect x="84.2" y="41.0" width="1.15" height="1.15"/>
<rect x="99.2" y="33.5" width="1.15" height="1.15"/>
<rect x="83.0" y="52.6" width="1.15" height="1.15"/>
<rect x="88.0" y="52.5" width="1.15" height="1.15"/>
<rect x="100.6" y="38.5" width="1.15" height="1.15"/>
<rect x="80.0" y="58.3" width="1.15" height="1.15"/>
<rect x="91.8" y="43.4" width="1.15" height="1.15"/>
<rect x="108.0" y="36.7" width="1.15" height="1.15"/>
<rect x="73.1" y="53.6" width="1.15" height="1.15"/>
<rect x="106.7" y="37.8" width="1.15" height="1.15"/>
<rect x="106.0" y="34.4" width="1.15" height="1.15"/>
<rect x="91.7" y="48.4" width="1.15" height="1.15"/>
<rect x="94.5" y="37.7" width="1.15" height="1.15"/>
<rect x="97.0" y="37.3" width="1.15" height="1.15"/>
<rect x="73.4" y="57.7" width="1.15" height="1.15"/>
<rect x="91.6" y="38.1" width="1.15" height="1.15"/>
<rect x="90.8" y="48.4" width="1.15" height="1.15"/>
<rect x="77.1" y="59.5" width="1.15" height="1.15"/>
<rect x="76.3" y="56.1" width="1.15" height="1.15"/>
<rect x="88.8" y="51.9" width="1.15" height="1.15"/>
<rect x="95.9" y="44.6" width="1.15" height="1.15"/>
<rect x="100.8" y="45.5" width="1.15" height="1.15"/>
<rect x="96.1" y="44.2" width="1.15" height="1.15"/>
<rect x="82.4" y="44.9" width="1.15" height="1.15"/>
<rect x="90.5" y="38.7" width="1.15" height="1.15"/>
<rect x="90.8" y="46.0" width="1.15" height="1.15"/>
<rect x="92.4" y="46.5" width="1.15" height="1.15"/>
<rect x="84.7" y="42.8" width="1.15" height="1.15"/>
<rect x="79.5" y="48.1" width="1.15" height="1.15"/>
<rect x="92.7" y="51.1" width="1.15" height="1.15"/>
<rect x="79.8" y="56.4" width="1.15" height="1.15"/>
<rect x="112.2" y="33.3" width="1.15" height="1.15"/>
<rect x="89.4" y="35.5" width="1.15" height="1.15"/>
<rect x="90.3" y="39.2" width="1.15" height="1.15"/>
<rect x="95.5" y="50.4" width="1.15" height="1.15"/>
<rect x="108.7" y="39.3" width="1.15" height="1.15"/>
<rect x="100.7" y="36.5" width="1.15" height="1.15"/>
<rect x="74.7" y="54.7" width="1.15" height="1.15"/>
<rect x="90.7" y="35.5" width="1.15" height="1.15"/>
<rect x="74.8" y="60.2" width="1.15" height="1.15"/>
<rect x="78.3" y="47.4" width="1.15" height="1.15"/>
<rect x="104.5" y="38.4" width="1.15" height="1.15"/>
<rect x="82.6" y="46.5" width="1.15" height="1.15"/>
<rect x="100.7" y="37.1" width="1.15" height="1.15"/>
<rect x="88.2" y="54.6" width="1.15" height="1.15"/>
<rect x="92.5" y="34.4" width="1.15" height="1.15"/>
<rect x="96.1" y="40.4" width="1.15" height="1.15"/>
<rect x="90.1" y="43.7" width="1.15" height="1.15"/>
<rect x="94.2" y="38.2" width="1.15" height="1.15"/>
<rect x="93.5" y="42.6" width="1.15" height="1.15"/>
<rect x="97.7" y="42.2" width="1.15" height="1.15"/>
<rect x="93.4" y="50.3" width="1.15" height="1.15"/>
<rect x="85.0" y="54.0" width="1.15" height="1.15"/>
<rect x="79.9" y="51.1" width="1.15" height="1.15"/>
<rect x="81.4" y="53.5" width="1.15" height="1.15"/>
<rect x="74.7" y="49.9" width="1.15" height="1.15"/>
<rect x="99.3" y="35.4" width="1.15" height="1.15"/>
<rect x="98.0" y="39.7" width="1.15" height="1.15"/>
<rect x="84.8" y="51.3" width="1.15" height="1.15"/>
<rect x="95.3" y="38.7" width="1.15" height="1.15"/>
<rect x="77.8" y="50.4" width="1.15" height="1.15"/>
<rect x="97.8" y="35.1" width="1.15" height="1.15"/>
<rect x="91.9" y="48.4" width="1.15" height="1.15"/>
<rect x="100.7" y="39.8" width="1.15" height="1.15"/>
<rect x="74.1" y="59.4" width="1.15" height="1.15"/>
<rect x="92.4" y="40.6" width="1.15" height="1.15"/>
<rect x="94.5" y="48.3" width="1.15" height="1.15"/>
<rect x="100.0" y="36.5" width="1.15" height="1.15"/>
<rect x="110.6" y="38.1" width="1.15" height="1.15"/>
<rect x="101.2" y="34.0" width="1.15" height="1.15"/>
<rect x="84.8" y="56.6" width="1.15" height="1.15"/>
<rect x="97.4" y="35.9" width="1.15" height="1.15"/>
<rect x="90.8" y="42.9" width="1.15" height="1.15"/>
<rect x="72.4" y="55.0" width="1.15" height="1.15"/>
<rect x="107.8" y="38.1" width="1.15" height="1.15"/>
<rect x="108.6" y="39.5" width="1.15" height="1.15"/>
<rect x="85.2" y="46.0" width="1.15" height="1.15"/>
<rect x="84.7" y="46.7" width="1.15" height="1.15"/>
<rect x="82.8" y="48.4" width="1.15" height="1.15"/>
<rect x="96.9" y="37.4" width="1.15" height="1.15"/>
<rect x="90.0" y="53.8" width="1.15" height="1.15"/>
<rect x="96.9" y="44.0" width="1.15" height="1.15"/>
<rect x="89.8" y="45.5" width="1.15" height="1.15"/>
<rect x="78.0" y="51.7" width="1.15" height="1.15"/>
<rect x="100.2" y="44.1" width="1.15" height="1.15"/>
<rect x="93.8" y="50.9" width="1.15" height="1.15"/>
<rect x="99.5" y="42.5" width="1.15" height="1.15"/>
<rect x="89.3" y="52.8" width="1.15" height="1.15"/>
<rect x="96.9" y="39.9" width="1.15" height="1.15"/>
<rect x="93.6" y="41.0" width="1.15" height="1.15"/>
<rect x="73.0" y="58.2" width="1.15" height="1.15"/>
<rect x="90.1" y="45.2" width="1.15" height="1.15"/>
<rect x="80.5" y="59.4" width="1.15" height="1.15"/>
<rect x="84.6" y="55.8" width="1.15" height="1.15"/>
<rect x="95.9" y="43.1" width="1.15" height="1.15"/>
<rect x="84.4" y="57.0" width="1.15" height="1.15"/>
<rect x="92.7" y="36.6" width="1.15" height="1.15"/>
<rect x="103.8" y="36.9" width="1.15" height="1.15"/>
<rect x="86.7" y="43.8" width="1.15" height="1.15"/>
<rect x="73.4" y="58.6" width="1.15" height="1.15"/>
<rect x="78.2" y="54.6" width="1.15" height="1.15"/>
<rect x="85.1" y="39.4" width="1.15" height="1.15"/>
<rect x="88.0" y="54.5" width="1.15" height="1.15"/>
<rect x="97.2" y="34.3" width="1.15" height="1.15"/>
<rect x="94.6" y="40.7" width="1.15" height="1.15"/>
<rect x="98.8" y="42.1" width="1.15" height="1.15"/>
<rect x="89.3" y="44.8" width="1.15" height="1.15"/>
<rect x="79.7" y="46.7" width="1.15" height="1.15"/>
<rect x="92.1" y="41.5" width="1.15" height="1.15"/>
<rect x="77.7" y="59.3" width="1.15" height="1.15"/>
<rect x="94.8" y="46.9" width="1.15" height="1.15"/>
<rect x="92.7" y="47.3" width="1.15" height="1.15"/>
<rect x="71.7" y="62.0" width="1.15" height="1.15"/>
<rect x="98.3" y="38.3" width="1.15" height="1.15"/>
<rect x="88.1" y="48.0" width="1.15" height="1.15"/>
<rect x="101.1" y="35.2" width="1.15" height="1.15"/>
<rect x="101.7" y="32.3" width="1.15" height="1.15"/>
<rect x="107.4" y="37.7" width="1.15" height="1.15"/>
<rect x="76.3" y="53.8" width="1.15" height="1.15"/>
<rect x="91.4" y="39.4" width="1.15" height="1.15"/>
<rect x="101.3" y="40.9" width="1.15" height="1.15"/>
<rect x="108.7" y="36.6" width="1.15" height="1.15"/>
<rect x="111.9" y="33.2" width="1.15" height="1.15"/>
<rect x="78.6" y="58.4" width="1.15" height="1.15"/>
<rect x="102.9" y="36.6" width="1.15" height="1.15"/>
<rect x="101.5" y="43.1" width="1.15" height="1.15"/>
<rect x="79.9" y="45.9" width="1.15" height="1.15"/>
<rect x="84.2" y="50.0" width="1.15" height="1.15"/>
<rect x="94.2" y="36.1" width="1.15" height="1.15"/>
<rect x="105.2" y="35.2" width="1.15" height="1.15"/>
<rect x="79.8" y="46.7" width="1.15" height="1.15"/>
<rect x="105.3" y="41.4" width="1.15" height="1.15"/>
<rect x="89.0" y="37.7" width="1.15" height="1.15"/>
<rect x="84.3" y="39.3" width="1.15" height="1.15"/>
<rect x="79.3" y="53.7" width="1.15" height="1.15"/>
<rect x="94.5" y="48.0" width="1.15" height="1.15"/>
<rect x="89.2" y="38.0" width="1.15" height="1.15"/>
<rect x="97.8" y="34.4" width="1.15" height="1.15"/>
<rect x="100.8" y="46.8" width="1.15" height="1.15"/>
<rect x="87.7" y="44.2" width="1.15" height="1.15"/>
<rect x="75.6" y="51.7" width="1.15" height="1.15"/>
<rect x="85.7" y="55.2" width="1.15" height="1.15"/>
<rect x="75.6" y="50.4" width="1.15" height="1.15"/>
<rect x="96.4" y="40.0" width="1.15" height="1.15"/>
<rect x="81.9" y="46.7" width="1.15" height="1.15"/>
<rect x="73.9" y="55.3" width="1.15" height="1.15"/>
<rect x="90.4" y="47.8" width="1.15" height="1.15"/>
<rect x="72.3" y="57.9" width="1.15" height="1.15"/>
<rect x="92.1" y="37.9" width="1.15" height="1.15"/>
<rect x="103.9" y="37.6" width="1.15" height="1.15"/>
<rect x="98.2" y="37.4" width="1.15" height="1.15"/>
<rect x="72.7" y="54.9" width="1.15" height="1.15"/>
<rect x="106.8" y="35.0" width="1.15" height="1.15"/>
<rect x="99.8" y="36.7" width="1.15" height="1.15"/>
<rect x="81.1" y="44.7" width="1.15" height="1.15"/>
<rect x="94.5" y="35.1" width="1.15" height="1.15"/>
<rect x="96.3" y="43.6" width="1.15" height="1.15"/>
<rect x="95.0" y="48.3" width="1.15" height="1.15"/>
<rect x="80.2" y="43.4" width="1.15" height="1.15"/>
<rect x="90.4" y="36.2" width="1.15" height="1.15"/>
<rect x="110.7" y="35.9" width="1.15" height="1.15"/>
<rect x="82.6" y="52.3" width="1.15" height="1.15"/>
<rect x="79.4" y="44.1" width="1.15" height="1.15"/>
<rect x="96.6" y="39.9" width="1.15" height="1.15"/>
<rect x="95.6" y="49.6" width="1.15" height="1.15"/>
<rect x="95.7" y="44.2" width="1.15" height="1.15"/>
<rect x="76.7" y="60.7" width="1.15" height="1.15"/>
<rect x="99.2" y="44.7" width="1.15" height="1.15"/>
<rect x="106.3" y="34.1" width="1.15" height="1.15"/>
<rect x="100.6" y="45.9" width="1.15" height="1.15"/>
<rect x="95.9" y="33.5" width="1.15" height="1.15"/>
<rect x="95.3" y="41.7" width="1.15" height="1.15"/>
<rect x="91.1" y="44.1" width="1.15" height="1.15"/>
<rect x="79.7" y="52.6" width="1.15" height="1.15"/>
<rect x="109.3" y="35.9" width="1.15" height="1.15"/>
<rect x="92.1" y="46.0" width="1.15" height="1.15"/>
<rect x="74.6" y="51.5" width="1.15" height="1.15"/>
<rect x="89.2" y="51.8" width="1.15" height="1.15"/>
<rect x="74.6" y="52.2" width="1.15" height="1.15"/>
<rect x="101.0" y="36.3" width="1.15" height="1.15"/>
<rect x="107.6" y="37.6" width="1.15" height="1.15"/>
<rect x="94.7" y="50.3" width="1.15" height="1.15"/>
<rect x="98.9" y="31.9" width="1.15" height="1.15"/>
<rect x="94.6" y="49.9" width="1.15" height="1.15"/>
<rect x="87.9" y="50.8" width="1.15" height="1.15"/>
<rect x="83.4" y="57.6" width="1.15" height="1.15"/>
<rect x="90.2" y="36.1" width="1.15" height="1.15"/>
<rect x="94.1" y="40.1" width="1.15" height="1.15"/>
<rect x="72.6" y="57.2" width="1.15" height="1.15"/>
<rect x="110.3" y="37.2" width="1.15" height="1.15"/>
<rect x="97.3" y="34.0" width="1.15" height="1.15"/>
<rect x="99.1" y="37.6" width="1.15" height="1.15"/>
<rect x="87.4" y="54.0" width="1.15" height="1.15"/>
<rect x="97.8" y="32.4" width="1.15" height="1.15"/>
<rect x="98.7" y="36.8" width="1.15" height="1.15"/>
<rect x="101.3" y="42.3" width="1.15" height="1.15"/>
<rect x="89.0" y="50.0" width="1.15" height="1.15"/>
<rect x="101.4" y="43.1" width="1.15" height="1.15"/>
<rect x="89.6" y="51.8" width="1.15" height="1.15"/>
<rect x="78.3" y="51.8" width="1.15" height="1.15"/>
<rect x="87.6" y="40.4" width="1.15" height="1.15"/>
<rect x="81.3" y="46.7" width="1.15" height="1.15"/>
<rect x="99.4" y="40.1" width="1.15" height="1.15"/>
<rect x="84.0" y="56.0" width="1.15" height="1.15"/>
<rect x="80.6" y="47.4" width="1.15" height="1.15"/>
<rect x="70.9" y="59.0" width="1.15" height="1.15"/>
<rect x="99.1" y="38.5" width="1.15" height="1.15"/>
<rect x="102.6" y="37.5" width="1.15" height="1.15"/>
<rect x="83.9" y="42.2" width="1.15" height="1.15"/>
<rect x="74.8" y="52.9" width="1.15" height="1.15"/>
<rect x="99.2" y="33.9" width="1.15" height="1.15"/>
<rect x="89.5" y="47.8" width="1.15" height="1.15"/>
<rect x="96.1" y="33.1" width="1.15" height="1.15"/>
<rect x="103.3" y="43.8" width="1.15" height="1.15"/>
<rect x="109.1" y="34.6" width="1.15" height="1.15"/>
<rect x="101.5" y="37.7" width="1.15" height="1.15"/>
<rect x="97.1" y="40.2" width="1.15" height="1.15"/>
<rect x="103.6" y="42.4" width="1.15" height="1.15"/>
<rect x="100.2" y="44.2" width="1.15" height="1.15"/>
<rect x="86.4" y="44.4" width="1.15" height="1.15"/>
<rect x="77.9" y="51.7" width="1.15" height="1.15"/>
<rect x="85.6" y="47.7" width="1.15" height="1.15"/>
<rect x="109.5" y="38.2" width="1.15" height="1.15"/>
<rect x="84.2" y="42.4" width="1.15" height="1.15"/>
<rect x="86.9" y="41.2" width="1.15" height="1.15"/>
<rect x="94.2" y="42.3" width="1.15" height="1.15"/>
<rect x="82.9" y="45.2" width="1.15" height="1.15"/>
<rect x="98.7" y="46.0" width="1.15" height="1.15"/>
<rect x="79.0" y="57.0" width="1.15" height="1.15"/>
<rect x="106.2" y="41.0" width="1.15" height="1.15"/>
<rect x="93.4" y="46.5" width="1.15" height="1.15"/>
<rect x="96.1" y="41.2" width="1.15" height="1.15"/>
<rect x="96.9" y="47.5" width="1.15" height="1.15"/>
<rect x="73.2" y="56.5" width="1.15" height="1.15"/>
<rect x="84.5" y="51.9" width="1.15" height="1.15"/>
<rect x="82.0" y="47.9" width="1.15" height="1.15"/>
<rect x="79.4" y="46.2" width="1.15" height="1.15"/>
<rect x="111.4" y="37.7" width="1.15" height="1.15"/>
<rect x="86.2" y="50.9" width="1.15" height="1.15"/>
<rect x="91.6" y="35.1" width="1.15" height="1.15"/>
<rect x="83.2" y="53.6" width="1.15" height="1.15"/>
<rect x="100.2" y="40.1" width="1.15" height="1.15"/>
<rect x="101.1" y="45.4" width="1.15" height="1.15"/>
<rect x="97.6" y="38.2" width="1.15" height="1.15"/>
<rect x="79.4" y="56.6" width="1.15" height="1.15"/>
<rect x="95.8" y="39.4" width="1.15" height="1.15"/>
<rect x="104.7" y="36.4" width="1.15" height="1.15"/>
<rect x="97.6" y="37.4" width="1.15" height="1.15"/>
<rect x="81.7" y="51.9" width="1.15" height="1.15"/>
<rect x="82.7" y="42.5" width="1.15" height="1.15"/>
<rect x="83.2" y="41.3" width="1.15" height="1.15"/>
<rect x="85.3" y="41.2" width="1.15" height="1.15"/>
<rect x="105.7" y="37.2" width="1.15" height="1.15"/>
<rect x="100.8" y="38.2" width="1.15" height="1.15"/>
<rect x="86.1" y="53.0" width="1.15" height="1.15"/>
<rect x="100.3" y="45.6" width="1.15" height="1.15"/>
<rect x="82.6" y="48.4" width="1.15" height="1.15"/>
<rect x="73.9" y="53.4" width="1.15" height="1.15"/>
<rect x="86.2" y="54.3" width="1.15" height="1.15"/>
<rect x="87.8" y="55.1" width="1.15" height="1.15"/>
<rect x="90.8" y="36.3" width="1.15" height="1.15"/>
<rect x="99.6" y="35.9" width="1.15" height="1.15"/>
<rect x="91.9" y="44.0" width="1.15" height="1.15"/>
<rect x="80.9" y="58.9" width="1.15" height="1.15"/>
<rect x="93.1" y="49.7" width="1.15" height="1.15"/>
<rect x="71.3" y="56.3" width="1.15" height="1.15"/>
<rect x="106.5" y="37.7" width="1.15" height="1.15"/>
<rect x="109.4" y="34.0" width="1.15" height="1.15"/>
<rect x="100.7" y="44.0" width="1.15" height="1.15"/>
<rect x="72.8" y="59.5" width="1.15" height="1.15"/>
<rect x="96.6" y="39.3" width="1.15" height="1.15"/>
<rect x="93.7" y="40.3" width="1.15" height="1.15"/>
<rect x="74.9" y="53.9" width="1.15" height="1.15"/>
<rect x="87.9" y="39.3" width="1.15" height="1.15"/>
<rect x="86.0" y="55.1" width="1.15" height="1.15"/>
<rect x="97.9" y="40.8" width="1.15" height="1.15"/>
<rect x="70.7" y="59.1" width="1.15" height="1.15"/>
<rect x="79.1" y="52.7" width="1.15" height="1.15"/>
<rect x="88.9" y="47.9" width="1.15" height="1.15"/>
<rect x="89.1" y="41.8" width="1.15" height="1.15"/>
<rect x="100.5" y="41.4" width="1.15" height="1.15"/>
<rect x="78.0" y="54.8" width="1.15" height="1.15"/>
<rect x="91.0" y="42.5" width="1.15" height="1.15"/>
<rect x="76.3" y="59.7" width="1.15" height="1.15"/>
<rect x="101.5" y="35.5" width="1.15" height="1.15"/>
<rect x="85.3" y="41.7" width="1.15" height="1.15"/>
<rect x="104.5" y="32.2" width="1.15" height="1.15"/>
<rect x="94.8" y="37.0" width="1.15" height="1.15"/>
<rect x="93.5" y="39.9" width="1.15" height="1.15"/>
<rect x="103.9" y="43.1" width="1.15" height="1.15"/>
<rect x="93.5" y="49.6" width="1.15" height="1.15"/>
<rect x="93.0" y="45.6" width="1.15" height="1.15"/>
<rect x="72.4" y="56.0" width="1.15" height="1.15"/>
<rect x="84.9" y="41.2" width="1.15" height="1.15"/>
<rect x="102.5" y="34.6" width="1.15" height="1.15"/>
<rect x="99.3" y="45.2" width="1.15" height="1.15"/>
<rect x="76.0" y="50.6" width="1.15" height="1.15"/>
<rect x="97.7" y="44.4" width="1.15" height="1.15"/>
<rect x="88.6" y="37.1" width="1.15" height="1.15"/>
<rect x="72.8" y="54.4" width="1.15" height="1.15"/>
<rect x="74.7" y="57.2" width="1.15" height="1.15"/>
<rect x="93.0" y="35.4" width="1.15" height="1.15"/>
<rect x="74.3" y="56.5" width="1.15" height="1.15"/>
<rect x="87.3" y="52.1" width="1.15" height="1.15"/>
<rect x="89.4" y="44.7" width="1.15" height="1.15"/>
<rect x="70.5" y="59.7" width="1.15" height="1.15"/>
<rect x="76.4" y="55.1" width="1.15" height="1.15"/>
<rect x="90.6" y="37.7" width="1.15" height="1.15"/>
<rect x="82.2" y="43.6" width="1.15" height="1.15"/>
<rect x="113.2" y="34.7" width="1.15" height="1.15"/>
<rect x="90.7" y="43.0" width="1.15" height="1.15"/>
<rect x="78.2" y="55.9" width="1.15" height="1.15"/>
<rect x="101.0" y="43.6" width="1.15" height="1.15"/>
<rect x="80.9" y="56.4" width="1.15" height="1.15"/>
<rect x="113.1" y="33.7" width="1.15" height="1.15"/>
<rect x="97.8" y="41.8" width="1.15" height="1.15"/>
<rect x="74.3" y="51.4" width="1.15" height="1.15"/>
<rect x="105.2" y="31.9" width="1.15" height="1.15"/>
<rect x="79.2" y="49.5" width="1.15" height="1.15"/>
<rect x="87.8" y="41.2" width="1.15" height="1.15"/>
<rect x="86.0" y="54.1" width="1.15" height="1.15"/>
<rect x="83.6" y="43.0" width="1.15" height="1.15"/>
<rect x="73.5" y="58.4" width="1.15" height="1.15"/>
<rect x="94.4" y="45.7" width="1.15" height="1.15"/>
<rect x="103.7" y="39.3" width="1.15" height="1.15"/>
<rect x="89.4" y="40.6" width="1.15" height="1.15"/>
<rect x="101.1" y="38.2" width="1.15" height="1.15"/>
<rect x="84.5" y="56.2" width="1.15" height="1.15"/>
<rect x="91.7" y="48.7" width="1.15" height="1.15"/>
<rect x="75.2" y="59.6" width="1.15" height="1.15"/>
<rect x="78.2" y="52.3" width="1.15" height="1.15"/>
<rect x="92.8" y="50.4" width="1.15" height="1.15"/>
<rect x="83.3" y="49.9" width="1.15" height="1.15"/>
<rect x="91.6" y="50.5" width="1.15" height="1.15"/>
<rect x="105.6" y="33.1" width="1.15" height="1.15"/>
<rect x="89.2" y="37.6" width="1.15" height="1.15"/>
<rect x="92.7" y="47.9" width="1.15" height="1.15"/>
<rect x="88.0" y="43.0" width="1.15" height="1.15"/>
<rect x="94.2" y="39.5" width="1.15" height="1.15"/>
<rect x="83.8" y="39.8" width="1.15" height="1.15"/>
<rect x="91.7" y="46.9" width="1.15" height="1.15"/>
<rect x="96.6" y="47.6" width="1.15" height="1.15"/>
<rect x="77.9" y="51.7" width="1.15" height="1.15"/>
<rect x="74.4" y="57.1" width="1.15" height="1.15"/>
<rect x="100.4" y="39.0" width="1.15" height="1.15"/>
<rect x="81.8" y="50.2" width="1.15" height="1.15"/>
<rect x="88.2" y="45.4" width="1.15" height="1.15"/>
<rect x="70.2" y="59.5" width="1.15" height="1.15"/>
<rect x="84.0" y="40.8" width="1.15" height="1.15"/>
<rect x="91.3" y="43.0" width="1.15" height="1.15"/>
<rect x="92.8" y="40.9" width="1.15" height="1.15"/>
<rect x="103.3" y="33.3" width="1.15" height="1.15"/>
<rect x="90.5" y="39.8" width="1.15" height="1.15"/>
<rect x="83.9" y="49.9" width="1.15" height="1.15"/>
<rect x="104.5" y="32.8" width="1.15" height="1.15"/>
<rect x="107.9" y="36.8" width="1.15" height="1.15"/>
<rect x="76.5" y="53.5" width="1.15" height="1.15"/>
<rect x="89.2" y="51.2" width="1.15" height="1.15"/>
<rect x="97.7" y="44.9" width="1.15" height="1.15"/>
<rect x="90.6" y="52.9" width="1.15" height="1.15"/>
<rect x="107.5" y="40.9" width="1.15" height="1.15"/>
<rect x="97.4" y="40.2" width="1.15" height="1.15"/>
<rect x="95.9" y="32.9" width="1.15" height="1.15"/>
<rect x="70.9" y="58.1" width="1.15" height="1.15"/>
<rect x="83.6" y="47.3" width="1.15" height="1.15"/>
<rect x="106.6" y="33.5" width="1.15" height="1.15"/>
<rect x="83.3" y="47.7" width="1.15" height="1.15"/>
<rect x="92.7" y="44.1" width="1.15" height="1.15"/>
<rect x="91.6" y="37.6" width="1.15" height="1.15"/>
<rect x="79.8" y="54.7" width="1.15" height="1.15"/>
<rect x="81.5" y="44.0" width="1.15" height="1.15"/>
<rect x="77.0" y="54.4" width="1.15" height="1.15"/>
<rect x="85.4" y="55.5" width="1.15" height="1.15"/>
<rect x="78.0" y="58.2" width="1.15" height="1.15"/>
<rect x="108.5" y="38.5" width="1.15" height="1.15"/>
<rect x="93.8" y="45.6" width="1.15" height="1.15"/>
<rect x="74.6" y="54.0" width="1.15" height="1.15"/>
<rect x="90.5" y="35.9" width="1.15" height="1.15"/>
<rect x="90.1" y="36.1" width="1.15" height="1.15"/>
<rect x="89.8" y="50.2" width="1.15" height="1.15"/>
<rect x="98.0" y="42.7" width="1.15" height="1.15"/>
<rect x="106.7" y="34.0" width="1.15" height="1.15"/>
<rect x="86.9" y="37.5" width="1.15" height="1.15"/>
<rect x="112.3" y="32.8" width="1.15" height="1.15"/>
<rect x="75.7" y="58.3" width="1.15" height="1.15"/>
<rect x="86.6" y="49.1" width="1.15" height="1.15"/>
<rect x="85.8" y="47.9" width="1.15" height="1.15"/>
<rect x="82.3" y="53.1" width="1.15" height="1.15"/>
<rect x="73.4" y="57.9" width="1.15" height="1.15"/>
<rect x="84.8" y="49.8" width="1.15" height="1.15"/>
<rect x="95.8" y="41.8" width="1.15" height="1.15"/>
<rect x="102.0" y="33.1" width="1.15" height="1.15"/>
<rect x="72.3" y="62.1" width="1.15" height="1.15"/>
<rect x="104.7" y="40.6" width="1.15" height="1.15"/>
<rect x="112.1" y="35.2" width="1.15" height="1.15"/>
<rect x="74.3" y="58.7" width="1.15" height="1.15"/>
<rect x="95.9" y="48.9" width="1.15" height="1.15"/>
<rect x="93.5" y="38.8" width="1.15" height="1.15"/>
<rect x="81.5" y="54.9" width="1.15" height="1.15"/>
<rect x="76.0" y="55.7" width="1.15" height="1.15"/>
<rect x="91.4" y="47.5" width="1.15" height="1.15"/>
<rect x="86.9" y="50.4" width="1.15" height="1.15"/>
<rect x="114.7" y="33.0" width="1.15" height="1.15"/>
<rect x="78.1" y="60.3" width="1.15" height="1.15"/>
<rect x="81.0" y="50.0" width="1.15" height="1.15"/>
<rect x="98.4" y="44.7" width="1.15" height="1.15"/>
<rect x="96.8" y="36.9" width="1.15" height="1.15"/>
<rect x="79.4" y="57.6" width="1.15" height="1.15"/>
<rect x="95.9" y="32.6" width="1.15" height="1.15"/>
<rect x="83.3" y="45.8" width="1.15" height="1.15"/>
<rect x="84.1" y="49.3" width="1.15" height="1.15"/>
<rect x="96.9" y="35.5" width="1.15" height="1.15"/>
<rect x="74.4" y="59.7" width="1.15" height="1.15"/>
<rect x="91.8" y="51.5" width="1.15" height="1.15"/>
<rect x="94.4" y="40.3" width="1.15" height="1.15"/>
<rect x="89.4" y="37.5" width="1.15" height="1.15"/>
<rect x="93.5" y="46.8" width="1.15" height="1.15"/>
<rect x="86.7" y="45.5" width="1.15" height="1.15"/>
<rect x="96.5" y="36.7" width="1.15" height="1.15"/>
<rect x="84.3" y="55.1" width="1.15" height="1.15"/>
<rect x="86.5" y="45.2" width="1.15" height="1.15"/>
<rect x="107.8" y="38.8" width="1.15" height="1.15"/>
<rect x="106.0" y="38.8" width="1.15" height="1.15"/>
<rect x="94.8" y="42.8" width="1.15" height="1.15"/>
<rect x="89.5" y="36.6" width="1.15" height="1.15"/>
<rect x="95.2" y="33.9" width="1.15" height="1.15"/>
<rect x="94.1" y="38.0" width="1.15" height="1.15"/>
<rect x="86.0" y="54.5" width="1.15" height="1.15"/>
<rect x="95.5" y="42.4" width="1.15" height="1.15"/>
<rect x="97.9" y="43.9" width="1.15" height="1.15"/>
<rect x="97.8" y="40.3" width="1.15" height="1.15"/>
<rect x="83.5" y="52.3" width="1.15" height="1.15"/>
<rect x="108.0" y="35.6" width="1.15" height="1.15"/>
<rect x="89.2" y="36.0" width="1.15" height="1.15"/>
<rect x="85.6" y="56.6" width="1.15" height="1.15"/>
<rect x="112.5" y="33.8" width="1.15" height="1.15"/>
<rect x="96.1" y="44.5" width="1.15" height="1.15"/>
<rect x="95.7" y="41.4" width="1.15" height="1.15"/>
<rect x="80.4" y="49.4" width="1.15" height="1.15"/>
<rect x="84.3" y="48.3" width="1.15" height="1.15"/>
<rect x="88.7" y="47.6" width="1.15" height="1.15"/>
<rect x="78.2" y="46.8" width="1.15" height="1.15"/>
<rect x="97.3" y="40.2" width="1.15" height="1.15"/>
<rect x="92.5" y="43.7" width="1.15" height="1.15"/>
<rect x="89.6" y="47.9" width="1.15" height="1.15"/>
<rect x="96.5" y="48.2" width="1.15" height="1.15"/>
<rect x="78.1" y="55.3" width="1.15" height="1.15"/>
<rect x="56.9" y="38.4" width="1.15" height="1.15"/>
<rect x="64.9" y="67.4" width="1.15" height="1.15"/>
<rect x="69.4" y="68.4" width="1.15" height="1.15"/>
<rect x="76.4" y="66.4" width="1.15" height="1.15"/>
<rect x="84.4" y="64.4" width="1.15" height="1.15"/>
<rect x="103.4" y="54.4" width="1.15" height="1.15"/>
<rect x="112.4" y="50.4" width="1.15" height="1.15"/>
<rect x="61.4" y="51.4" width="1.15" height="1.15"/>
<rect x="62.4" y="56.4" width="1.15" height="1.15"/>
<rect x="67.4" y="42.4" width="1.15" height="1.15"/>
<rect x="73.4" y="36.4" width="1.15" height="1.15"/>
<rect x="96.4" y="56.9" width="1.15" height="1.15"/>
<rect x="107.4" y="46.4" width="1.15" height="1.15"/>
<rect x="65.9" y="48.4" width="1.15" height="1.15"/>
<rect x="66.9" y="50.4" width="1.15" height="1.15"/>
<rect x="68.4" y="46.4" width="1.15" height="1.15"/>
<rect x="69.9" y="44.9" width="1.15" height="1.15"/>
<rect x="71.4" y="43.4" width="1.15" height="1.15"/>
<rect x="72.9" y="41.4" width="1.15" height="1.15"/>
<rect x="74.4" y="40.9" width="1.15" height="1.15"/>
<rect x="75.9" y="39.4" width="1.15" height="1.15"/>
<rect x="77.4" y="37.9" width="1.15" height="1.15"/>
<rect x="79.4" y="36.4" width="1.15" height="1.15"/>
<rect x="82.4" y="33.4" width="1.15" height="1.15"/>
<rect x="83.4" y="32.9" width="1.15" height="1.15"/>
<rect x="85.4" y="31.4" width="1.15" height="1.15"/>
<rect x="88.4" y="29.9" width="1.15" height="1.15"/>
<rect x="63.9" y="54.4" width="1.15" height="1.15"/>
<rect x="64.9" y="57.4" width="1.15" height="1.15"/>
<rect x="70.4" y="42.4" width="1.15" height="1.15"/>
<rect x="76.9" y="35.9" width="1.15" height="1.15"/>
<rect x="81.4" y="33.9" width="1.15" height="1.15"/>
</g>
<g fill="#8ac6f0">
<rect x="244.2" y="72.2" width="1.15" height="1.15"/>
<rect x="232.8" y="58.4" width="1.15" height="1.15"/>
<rect x="230.1" y="60.8" width="1.15" height="1.15"/>
<rect x="224.1" y="49.5" width="1.15" height="1.15"/>
<rect x="239.6" y="52.7" width="1.15" height="1.15"/>
<rect x="250.1" y="41.2" width="1.15" height="1.15"/>
<rect x="234.6" y="42.3" width="1.15" height="1.15"/>
<rect x="233.6" y="66.1" width="1.15" height="1.15"/>
<rect x="252.5" y="49.8" width="1.15" height="1.15"/>
<rect x="248.7" y="60.3" width="1.15" height="1.15"/>
<rect x="241.3" y="53.0" width="1.15" height="1.15"/>
<rect x="230.5" y="48.5" width="1.15" height="1.15"/>
<rect x="228.4" y="70.3" width="1.15" height="1.15"/>
<rect x="247.0" y="43.6" width="1.15" height="1.15"/>
<rect x="234.6" y="69.2" width="1.15" height="1.15"/>
<rect x="233.6" y="75.4" width="1.15" height="1.15"/>
<rect x="239.6" y="63.3" width="1.15" height="1.15"/>
<rect x="230.5" y="42.1" width="1.15" height="1.15"/>
<rect x="240.6" y="67.3" width="1.15" height="1.15"/>
<rect x="234.4" y="50.3" width="1.15" height="1.15"/>
<rect x="235.5" y="48.6" width="1.15" height="1.15"/>
<rect x="224.9" y="65.4" width="1.15" height="1.15"/>
<rect x="236.9" y="54.7" width="1.15" height="1.15"/>
<rect x="231.9" y="41.9" width="1.15" height="1.15"/>
<rect x="244.4" y="57.3" width="1.15" height="1.15"/>
<rect x="231.7" y="48.1" width="1.15" height="1.15"/>
<rect x="243.5" y="63.5" width="1.15" height="1.15"/>
<rect x="243.9" y="59.9" width="1.15" height="1.15"/>
<rect x="231.1" y="78.6" width="1.15" height="1.15"/>
<rect x="238.8" y="50.8" width="1.15" height="1.15"/>
<rect x="232.5" y="60.1" width="1.15" height="1.15"/>
<rect x="242.9" y="57.4" width="1.15" height="1.15"/>
<rect x="241.1" y="44.9" width="1.15" height="1.15"/>
<rect x="233.0" y="60.9" width="1.15" height="1.15"/>
<rect x="221.1" y="64.4" width="1.15" height="1.15"/>
<rect x="227.1" y="52.5" width="1.15" height="1.15"/>
<rect x="240.7" y="61.2" width="1.15" height="1.15"/>
<rect x="230.5" y="63.9" width="1.15" height="1.15"/>
<rect x="246.5" y="58.2" width="1.15" height="1.15"/>
<rect x="230.1" y="50.5" width="1.15" height="1.15"/>
<rect x="229.4" y="68.1" width="1.15" height="1.15"/>
<rect x="254.0" y="44.6" width="1.15" height="1.15"/>
<rect x="236.7" y="45.5" width="1.15" height="1.15"/>
<rect x="241.4" y="58.7" width="1.15" height="1.15"/>
<rect x="222.8" y="65.7" width="1.15" height="1.15"/>
<rect x="237.4" y="61.1" width="1.15" height="1.15"/>
<rect x="228.2" y="53.9" width="1.15" height="1.15"/>
<rect x="232.3" y="38.1" width="1.15" height="1.15"/>
<rect x="254.9" y="32.7" width="1.15" height="1.15"/>
<rect x="240.9" y="72.4" width="1.15" height="1.15"/>
<rect x="248.4" y="64.8" width="1.15" height="1.15"/>
<rect x="235.5" y="69.9" width="1.15" height="1.15"/>
<rect x="237.2" y="70.6" width="1.15" height="1.15"/>
<rect x="248.7" y="36.8" width="1.15" height="1.15"/>
<rect x="245.8" y="41.6" width="1.15" height="1.15"/>
<rect x="228.6" y="76.4" width="1.15" height="1.15"/>
<rect x="229.5" y="50.3" width="1.15" height="1.15"/>
<rect x="242.7" y="56.3" width="1.15" height="1.15"/>
<rect x="245.8" y="57.6" width="1.15" height="1.15"/>
<rect x="239.1" y="76.2" width="1.15" height="1.15"/>
<rect x="223.2" y="65.9" width="1.15" height="1.15"/>
<rect x="224.7" y="72.3" width="1.15" height="1.15"/>
<rect x="238.5" y="37.8" width="1.15" height="1.15"/>
<rect x="250.1" y="61.6" width="1.15" height="1.15"/>
<rect x="247.5" y="68.4" width="1.15" height="1.15"/>
<rect x="230.5" y="43.1" width="1.15" height="1.15"/>
<rect x="257.5" y="34.9" width="1.15" height="1.15"/>
<rect x="237.7" y="37.2" width="1.15" height="1.15"/>
<rect x="251.8" y="42.9" width="1.15" height="1.15"/>
<rect x="242.0" y="39.9" width="1.15" height="1.15"/>
<rect x="227.2" y="77.0" width="1.15" height="1.15"/>
<rect x="221.8" y="70.9" width="1.15" height="1.15"/>
<rect x="233.6" y="48.0" width="1.15" height="1.15"/>
<rect x="239.0" y="63.3" width="1.15" height="1.15"/>
<rect x="247.7" y="62.8" width="1.15" height="1.15"/>
<rect x="229.4" y="52.6" width="1.15" height="1.15"/>
<rect x="243.5" y="72.3" width="1.15" height="1.15"/>
<rect x="247.8" y="45.3" width="1.15" height="1.15"/>
<rect x="251.8" y="43.0" width="1.15" height="1.15"/>
<rect x="245.3" y="37.2" width="1.15" height="1.15"/>
<rect x="245.0" y="69.9" width="1.15" height="1.15"/>
<rect x="247.2" y="58.3" width="1.15" height="1.15"/>
<rect x="249.3" y="49.4" width="1.15" height="1.15"/>
<rect x="228.1" y="63.7" width="1.15" height="1.15"/>
<rect x="221.9" y="55.7" width="1.15" height="1.15"/>
<rect x="229.4" y="71.4" width="1.15" height="1.15"/>
<rect x="224.4" y="58.1" width="1.15" height="1.15"/>
<rect x="233.5" y="45.0" width="1.15" height="1.15"/>
<rect x="257.9" y="32.6" width="1.15" height="1.15"/>
<rect x="237.4" y="49.5" width="1.15" height="1.15"/>
<rect x="229.4" y="73.9" width="1.15" height="1.15"/>
<rect x="238.7" y="68.6" width="1.15" height="1.15"/>
<rect x="233.6" y="52.0" width="1.15" height="1.15"/>
<rect x="224.2" y="64.1" width="1.15" height="1.15"/>
<rect x="229.1" y="46.3" width="1.15" height="1.15"/>
<rect x="237.6" y="60.0" width="1.15" height="1.15"/>
<rect x="244.5" y="40.7" width="1.15" height="1.15"/>
<rect x="230.0" y="51.7" width="1.15" height="1.15"/>
<rect x="227.6" y="62.5" width="1.15" height="1.15"/>
<rect x="222.9" y="56.6" width="1.15" height="1.15"/>
<rect x="247.4" y="36.4" width="1.15" height="1.15"/>
<rect x="232.2" y="64.9" width="1.15" height="1.15"/>
<rect x="255.9" y="35.5" width="1.15" height="1.15"/>
<rect x="228.2" y="63.0" width="1.15" height="1.15"/>
<rect x="236.3" y="58.6" width="1.15" height="1.15"/>
<rect x="233.8" y="39.2" width="1.15" height="1.15"/>
<rect x="228.9" y="60.3" width="1.15" height="1.15"/>
<rect x="250.2" y="40.1" width="1.15" height="1.15"/>
<rect x="227.4" y="59.6" width="1.15" height="1.15"/>
<rect x="248.5" y="62.0" width="1.15" height="1.15"/>
<rect x="232.9" y="52.7" width="1.15" height="1.15"/>
<rect x="253.1" y="37.8" width="1.15" height="1.15"/>
<rect x="241.4" y="51.9" width="1.15" height="1.15"/>
<rect x="230.9" y="76.3" width="1.15" height="1.15"/>
<rect x="250.3" y="38.9" width="1.15" height="1.15"/>
<rect x="236.7" y="48.1" width="1.15" height="1.15"/>
<rect x="235.8" y="73.9" width="1.15" height="1.15"/>
<rect x="233.5" y="46.9" width="1.15" height="1.15"/>
<rect x="239.9" y="44.4" width="1.15" height="1.15"/>
<rect x="227.4" y="40.7" width="1.15" height="1.15"/>
<rect x="237.2" y="41.3" width="1.15" height="1.15"/>
<rect x="241.9" y="54.6" width="1.15" height="1.15"/>
<rect x="257.2" y="32.7" width="1.15" height="1.15"/>
<rect x="227.2" y="78.4" width="1.15" height="1.15"/>
<rect x="234.9" y="38.4" width="1.15" height="1.15"/>
<rect x="248.6" y="54.5" width="1.15" height="1.15"/>
<rect x="236.4" y="46.2" width="1.15" height="1.15"/>
<rect x="235.6" y="60.7" width="1.15" height="1.15"/>
<rect x="240.8" y="70.8" width="1.15" height="1.15"/>
<rect x="251.4" y="47.4" width="1.15" height="1.15"/>
<rect x="226.7" y="67.3" width="1.15" height="1.15"/>
<rect x="225.9" y="76.1" width="1.15" height="1.15"/>
<rect x="225.2" y="48.5" width="1.15" height="1.15"/>
<rect x="226.5" y="43.0" width="1.15" height="1.15"/>
<rect x="240.8" y="74.3" width="1.15" height="1.15"/>
<rect x="226.8" y="49.1" width="1.15" height="1.15"/>
<rect x="253.9" y="38.2" width="1.15" height="1.15"/>
<rect x="240.4" y="37.9" width="1.15" height="1.15"/>
<rect x="253.6" y="47.7" width="1.15" height="1.15"/>
<rect x="221.5" y="55.8" width="1.15" height="1.15"/>
<rect x="230.6" y="51.6" width="1.15" height="1.15"/>
<rect x="229.8" y="49.5" width="1.15" height="1.15"/>
<rect x="225.3" y="49.6" width="1.15" height="1.15"/>
<rect x="228.5" y="48.2" width="1.15" height="1.15"/>
<rect x="223.4" y="53.4" width="1.15" height="1.15"/>
<rect x="250.5" y="46.1" width="1.15" height="1.15"/>
<rect x="254.1" y="42.4" width="1.15" height="1.15"/>
<rect x="226.3" y="69.4" width="1.15" height="1.15"/>
<rect x="240.0" y="74.5" width="1.15" height="1.15"/>
<rect x="251.1" y="37.7" width="1.15" height="1.15"/>
<rect x="242.7" y="43.5" width="1.15" height="1.15"/>
<rect x="230.2" y="54.7" width="1.15" height="1.15"/>
<rect x="228.3" y="57.3" width="1.15" height="1.15"/>
<rect x="254.2" y="38.1" width="1.15" height="1.15"/>
<rect x="237.8" y="50.1" width="1.15" height="1.15"/>
<rect x="240.8" y="54.7" width="1.15" height="1.15"/>
<rect x="222.8" y="74.6" width="1.15" height="1.15"/>
<rect x="225.3" y="42.0" width="1.15" height="1.15"/>
<rect x="233.2" y="47.4" width="1.15" height="1.15"/>
<rect x="253.1" y="36.1" width="1.15" height="1.15"/>
<rect x="242.2" y="61.3" width="1.15" height="1.15"/>
<rect x="239.9" y="60.1" width="1.15" height="1.15"/>
<rect x="243.4" y="52.0" width="1.15" height="1.15"/>
<rect x="250.2" y="53.8" width="1.15" height="1.15"/>
<rect x="234.7" y="76.8" width="1.15" height="1.15"/>
<rect x="247.6" y="44.7" width="1.15" height="1.15"/>
<rect x="242.0" y="66.1" width="1.15" height="1.15"/>
<rect x="256.7" y="40.9" width="1.15" height="1.15"/>
<rect x="249.1" y="37.8" width="1.15" height="1.15"/>
<rect x="236.5" y="42.5" width="1.15" height="1.15"/>
<rect x="248.3" y="73.0" width="1.15" height="1.15"/>
<rect x="233.6" y="53.9" width="1.15" height="1.15"/>
<rect x="246.2" y="47.9" width="1.15" height="1.15"/>
<rect x="225.9" y="75.9" width="1.15" height="1.15"/>
<rect x="241.6" y="42.5" width="1.15" height="1.15"/>
<rect x="227.2" y="41.9" width="1.15" height="1.15"/>
<rect x="237.5" y="56.6" width="1.15" height="1.15"/>
<rect x="244.1" y="67.0" width="1.15" height="1.15"/>
<rect x="228.6" y="54.3" width="1.15" height="1.15"/>
<rect x="249.6" y="45.1" width="1.15" height="1.15"/>
<rect x="227.8" y="71.4" width="1.15" height="1.15"/>
<rect x="239.8" y="58.3" width="1.15" height="1.15"/>
<rect x="240.6" y="54.2" width="1.15" height="1.15"/>
<rect x="249.2" y="39.3" width="1.15" height="1.15"/>
<rect x="253.8" y="34.8" width="1.15" height="1.15"/>
<rect x="256.0" y="40.4" width="1.15" height="1.15"/>
<rect x="229.3" y="73.4" width="1.15" height="1.15"/>
<rect x="236.3" y="42.2" width="1.15" height="1.15"/>
<rect x="222.2" y="55.2" width="1.15" height="1.15"/>
<rect x="248.1" y="60.4" width="1.15" height="1.15"/>
<rect x="231.5" y="52.8" width="1.15" height="1.15"/>
<rect x="229.5" y="55.0" width="1.15" height="1.15"/>
<rect x="227.5" y="62.3" width="1.15" height="1.15"/>
<rect x="231.5" y="62.8" width="1.15" height="1.15"/>
<rect x="220.6" y="57.3" width="1.15" height="1.15"/>
<rect x="243.4" y="51.9" width="1.15" height="1.15"/>
<rect x="251.5" y="37.6" width="1.15" height="1.15"/>
<rect x="234.8" y="74.7" width="1.15" height="1.15"/>
<rect x="220.9" y="55.8" width="1.15" height="1.15"/>
<rect x="233.8" y="72.1" width="1.15" height="1.15"/>
<rect x="229.4" y="71.1" width="1.15" height="1.15"/>
<rect x="236.8" y="39.7" width="1.15" height="1.15"/>
<rect x="234.8" y="60.3" width="1.15" height="1.15"/>
<rect x="226.5" y="53.2" width="1.15" height="1.15"/>
<rect x="240.6" y="54.5" width="1.15" height="1.15"/>
<rect x="234.8" y="47.3" width="1.15" height="1.15"/>
<rect x="226.5" y="56.6" width="1.15" height="1.15"/>
<rect x="221.6" y="48.5" width="1.15" height="1.15"/>
<rect x="229.2" y="66.6" width="1.15" height="1.15"/>
<rect x="233.5" y="51.4" width="1.15" height="1.15"/>
<rect x="241.3" y="62.3" width="1.15" height="1.15"/>
<rect x="235.2" y="63.3" width="1.15" height="1.15"/>
<rect x="230.5" y="52.6" width="1.15" height="1.15"/>
<rect x="220.3" y="46.4" width="1.15" height="1.15"/>
<rect x="251.8" y="38.2" width="1.15" height="1.15"/>
<rect x="226.6" y="77.8" width="1.15" height="1.15"/>
<rect x="243.2" y="52.9" width="1.15" height="1.15"/>
<rect x="232.9" y="39.6" width="1.15" height="1.15"/>
<rect x="234.9" y="77.5" width="1.15" height="1.15"/>
<rect x="246.8" y="60.2" width="1.15" height="1.15"/>
<rect x="234.0" y="76.8" width="1.15" height="1.15"/>
<rect x="248.4" y="33.3" width="1.15" height="1.15"/>
<rect x="252.5" y="44.7" width="1.15" height="1.15"/>
<rect x="238.4" y="71.1" width="1.15" height="1.15"/>
<rect x="234.1" y="49.7" width="1.15" height="1.15"/>
<rect x="221.6" y="62.4" width="1.15" height="1.15"/>
<rect x="233.4" y="73.2" width="1.15" height="1.15"/>
<rect x="234.8" y="72.3" width="1.15" height="1.15"/>
<rect x="241.7" y="36.0" width="1.15" height="1.15"/>
<rect x="224.3" y="41.6" width="1.15" height="1.15"/>
<rect x="236.7" y="52.5" width="1.15" height="1.15"/>
<rect x="229.0" y="43.0" width="1.15" height="1.15"/>
<rect x="221.2" y="50.7" width="1.15" height="1.15"/>
<rect x="236.2" y="54.8" width="1.15" height="1.15"/>
<rect x="230.8" y="39.9" width="1.15" height="1.15"/>
<rect x="227.5" y="64.9" width="1.15" height="1.15"/>
<rect x="260.6" y="36.5" width="1.15" height="1.15"/>
<rect x="242.9" y="68.0" width="1.15" height="1.15"/>
<rect x="226.2" y="45.9" width="1.15" height="1.15"/>
<rect x="245.3" y="48.5" width="1.15" height="1.15"/>
<rect x="232.1" y="57.5" width="1.15" height="1.15"/>
<rect x="237.2" y="58.7" width="1.15" height="1.15"/>
<rect x="232.4" y="68.6" width="1.15" height="1.15"/>
<rect x="241.2" y="58.8" width="1.15" height="1.15"/>
<rect x="241.8" y="49.4" width="1.15" height="1.15"/>
<rect x="229.0" y="41.7" width="1.15" height="1.15"/>
<rect x="248.0" y="48.0" width="1.15" height="1.15"/>
<rect x="231.1" y="78.1" width="1.15" height="1.15"/>
<rect x="244.3" y="53.3" width="1.15" height="1.15"/>
<rect x="243.3" y="69.6" width="1.15" height="1.15"/>
<rect x="238.7" y="69.0" width="1.15" height="1.15"/>
<rect x="239.5" y="74.9" width="1.15" height="1.15"/>
<rect x="231.7" y="56.9" width="1.15" height="1.15"/>
<rect x="227.2" y="53.4" width="1.15" height="1.15"/>
<rect x="230.8" y="43.2" width="1.15" height="1.15"/>
<rect x="243.1" y="60.9" width="1.15" height="1.15"/>
<rect x="253.0" y="48.4" width="1.15" height="1.15"/>
<rect x="240.0" y="76.6" width="1.15" height="1.15"/>
<rect x="227.3" y="74.5" width="1.15" height="1.15"/>
<rect x="220.3" y="46.9" width="1.15" height="1.15"/>
<rect x="239.6" y="55.5" width="1.15" height="1.15"/>
<rect x="253.7" y="47.9" width="1.15" height="1.15"/>
<rect x="224.0" y="72.0" width="1.15" height="1.15"/>
<rect x="222.9" y="54.1" width="1.15" height="1.15"/>
<rect x="223.5" y="48.5" width="1.15" height="1.15"/>
<rect x="234.3" y="73.9" width="1.15" height="1.15"/>
<rect x="231.3" y="64.3" width="1.15" height="1.15"/>
<rect x="225.4" y="68.2" width="1.15" height="1.15"/>
<rect x="247.6" y="37.9" width="1.15" height="1.15"/>
<rect x="224.2" y="52.9" width="1.15" height="1.15"/>
<rect x="225.7" y="76.6" width="1.15" height="1.15"/>
<rect x="240.0" y="77.8" width="1.15" height="1.15"/>
<rect x="255.0" y="45.5" width="1.15" height="1.15"/>
<rect x="240.1" y="74.2" width="1.15" height="1.15"/>
<rect x="229.9" y="53.0" width="1.15" height="1.15"/>
<rect x="236.4" y="66.2" width="1.15" height="1.15"/>
<rect x="231.0" y="71.3" width="1.15" height="1.15"/>
<rect x="235.0" y="66.7" width="1.15" height="1.15"/>
<rect x="236.4" y="67.4" width="1.15" height="1.15"/>
<rect x="233.4" y="56.5" width="1.15" height="1.15"/>
<rect x="247.0" y="41.3" width="1.15" height="1.15"/>
<rect x="232.9" y="41.9" width="1.15" height="1.15"/>
<rect x="227.6" y="46.6" width="1.15" height="1.15"/>
<rect x="246.8" y="52.8" width="1.15" height="1.15"/>
<rect x="229.1" y="69.6" width="1.15" height="1.15"/>
<rect x="239.9" y="43.8" width="1.15" height="1.15"/>
<rect x="249.0" y="70.8" width="1.15" height="1.15"/>
<rect x="256.7" y="39.8" width="1.15" height="1.15"/>
<rect x="231.2" y="57.1" width="1.15" height="1.15"/>
<rect x="238.8" y="70.6" width="1.15" height="1.15"/>
<rect x="220.4" y="45.1" width="1.15" height="1.15"/>
<rect x="239.0" y="64.7" width="1.15" height="1.15"/>
<rect x="232.4" y="41.3" width="1.15" height="1.15"/>
<rect x="232.5" y="47.4" width="1.15" height="1.15"/>
<rect x="225.9" y="54.3" width="1.15" height="1.15"/>
<rect x="234.6" y="47.0" width="1.15" height="1.15"/>
<rect x="242.4" y="63.0" width="1.15" height="1.15"/>
<rect x="237.5" y="63.8" width="1.15" height="1.15"/>
<rect x="253.9" y="44.2" width="1.15" height="1.15"/>
<rect x="233.3" y="58.9" width="1.15" height="1.15"/>
<rect x="253.2" y="35.9" width="1.15" height="1.15"/>
<rect x="230.1" y="77.7" width="1.15" height="1.15"/>
<rect x="227.9" y="69.9" width="1.15" height="1.15"/>
<rect x="230.6" y="73.0" width="1.15" height="1.15"/>
<rect x="233.6" y="61.6" width="1.15" height="1.15"/>
<rect x="234.8" y="59.0" width="1.15" height="1.15"/>
<rect x="258.9" y="39.1" width="1.15" height="1.15"/>
<rect x="227.9" y="49.0" width="1.15" height="1.15"/>
<rect x="240.3" y="68.3" width="1.15" height="1.15"/>
<rect x="222.3" y="70.0" width="1.15" height="1.15"/>
<rect x="241.9" y="74.4" width="1.15" height="1.15"/>
<rect x="222.5" y="57.5" width="1.15" height="1.15"/>
<rect x="245.6" y="43.4" width="1.15" height="1.15"/>
<rect x="249.1" y="54.0" width="1.15" height="1.15"/>
<rect x="238.8" y="61.5" width="1.15" height="1.15"/>
<rect x="235.3" y="55.9" width="1.15" height="1.15"/>
<rect x="230.8" y="62.9" width="1.15" height="1.15"/>
<rect x="233.1" y="56.6" width="1.15" height="1.15"/>
<rect x="227.7" y="47.4" width="1.15" height="1.15"/>
<rect x="221.9" y="72.4" width="1.15" height="1.15"/>
<rect x="232.2" y="65.4" width="1.15" height="1.15"/>
<rect x="253.8" y="43.6" width="1.15" height="1.15"/>
<rect x="249.7" y="54.4" width="1.15" height="1.15"/>
<rect x="242.0" y="60.7" width="1.15" height="1.15"/>
<rect x="246.4" y="71.2" width="1.15" height="1.15"/>
<rect x="256.7" y="36.1" width="1.15" height="1.15"/>
<rect x="242.6" y="46.6" width="1.15" height="1.15"/>
<rect x="236.1" y="69.4" width="1.15" height="1.15"/>
<rect x="241.1" y="39.1" width="1.15" height="1.15"/>
<rect x="225.5" y="73.4" width="1.15" height="1.15"/>
<rect x="237.9" y="47.1" width="1.15" height="1.15"/>
<rect x="227.2" y="42.9" width="1.15" height="1.15"/>
<rect x="225.7" y="60.1" width="1.15" height="1.15"/>
<rect x="233.8" y="56.1" width="1.15" height="1.15"/>
<rect x="232.5" y="49.5" width="1.15" height="1.15"/>
<rect x="255.5" y="38.9" width="1.15" height="1.15"/>
<rect x="251.3" y="40.1" width="1.15" height="1.15"/>
<rect x="231.2" y="76.4" width="1.15" height="1.15"/>
<rect x="242.5" y="56.6" width="1.15" height="1.15"/>
<rect x="239.5" y="66.8" width="1.15" height="1.15"/>
<rect x="230.9" y="65.1" width="1.15" height="1.15"/>
<rect x="235.5" y="67.0" width="1.15" height="1.15"/>
<rect x="239.2" y="61.1" width="1.15" height="1.15"/>
<rect x="255.6" y="39.2" width="1.15" height="1.15"/>
<rect x="243.1" y="51.3" width="1.15" height="1.15"/>
<rect x="226.8" y="49.5" width="1.15" height="1.15"/>
<rect x="246.6" y="59.2" width="1.15" height="1.15"/>
<rect x="255.4" y="45.3" width="1.15" height="1.15"/>
<rect x="247.7" y="55.5" width="1.15" height="1.15"/>
<rect x="233.4" y="66.0" width="1.15" height="1.15"/>
<rect x="231.5" y="43.5" width="1.15" height="1.15"/>
<rect x="234.7" y="45.2" width="1.15" height="1.15"/>
<rect x="232.6" y="46.0" width="1.15" height="1.15"/>
<rect x="238.8" y="62.4" width="1.15" height="1.15"/>
<rect x="247.8" y="43.0" width="1.15" height="1.15"/>
<rect x="249.1" y="63.0" width="1.15" height="1.15"/>
<rect x="229.4" y="68.3" width="1.15" height="1.15"/>
<rect x="243.2" y="59.5" width="1.15" height="1.15"/>
<rect x="233.0" y="53.1" width="1.15" height="1.15"/>
<rect x="223.9" y="77.5" width="1.15" height="1.15"/>
<rect x="248.8" y="47.1" width="1.15" height="1.15"/>
<rect x="240.0" y="55.8" width="1.15" height="1.15"/>
<rect x="256.1" y="38.0" width="1.15" height="1.15"/>
<rect x="220.6" y="58.0" width="1.15" height="1.15"/>
<rect x="227.2" y="41.4" width="1.15" height="1.15"/>
<rect x="236.1" y="59.4" width="1.15" height="1.15"/>
<rect x="221.7" y="77.2" width="1.15" height="1.15"/>
<rect x="257.4" y="37.7" width="1.15" height="1.15"/>
<rect x="225.6" y="42.9" width="1.15" height="1.15"/>
<rect x="242.2" y="66.0" width="1.15" height="1.15"/>
<rect x="255.0" y="36.9" width="1.15" height="1.15"/>
<rect x="236.1" y="37.4" width="1.15" height="1.15"/>
<rect x="221.9" y="68.5" width="1.15" height="1.15"/>
<rect x="249.6" y="47.2" width="1.15" height="1.15"/>
<rect x="229.8" y="42.5" width="1.15" height="1.15"/>
<rect x="229.6" y="75.8" width="1.15" height="1.15"/>
<rect x="238.2" y="43.0" width="1.15" height="1.15"/>
<rect x="239.8" y="68.0" width="1.15" height="1.15"/>
<rect x="256.6" y="41.4" width="1.15" height="1.15"/>
<rect x="231.6" y="38.6" width="1.15" height="1.15"/>
<rect x="234.8" y="57.7" width="1.15" height="1.15"/>
<rect x="253.1" y="37.4" width="1.15" height="1.15"/>
<rect x="228.9" y="44.9" width="1.15" height="1.15"/>
<rect x="229.9" y="64.8" width="1.15" height="1.15"/>
<rect x="237.7" y="73.2" width="1.15" height="1.15"/>
<rect x="248.1" y="43.8" width="1.15" height="1.15"/>
<rect x="230.4" y="57.6" width="1.15" height="1.15"/>
<rect x="232.6" y="40.5" width="1.15" height="1.15"/>
<rect x="232.1" y="73.1" width="1.15" height="1.15"/>
<rect x="233.3" y="61.8" width="1.15" height="1.15"/>
<rect x="230.6" y="43.3" width="1.15" height="1.15"/>
<rect x="231.5" y="50.2" width="1.15" height="1.15"/>
<rect x="254.1" y="44.6" width="1.15" height="1.15"/>
<rect x="224.8" y="45.3" width="1.15" height="1.15"/>
<rect x="237.6" y="39.7" width="1.15" height="1.15"/>
<rect x="241.0" y="61.8" width="1.15" height="1.15"/>
<rect x="242.5" y="56.9" width="1.15" height="1.15"/>
<rect x="220.1" y="58.6" width="1.15" height="1.15"/>
<rect x="229.4" y="50.2" width="1.15" height="1.15"/>
<rect x="251.8" y="38.4" width="1.15" height="1.15"/>
<rect x="224.9" y="66.5" width="1.15" height="1.15"/>
<rect x="229.0" y="70.7" width="1.15" height="1.15"/>
<rect x="225.6" y="50.2" width="1.15" height="1.15"/>
<rect x="226.2" y="52.7" width="1.15" height="1.15"/>
<rect x="249.8" y="34.7" width="1.15" height="1.15"/>
<rect x="240.4" y="61.2" width="1.15" height="1.15"/>
<rect x="227.2" y="78.4" width="1.15" height="1.15"/>
<rect x="244.7" y="63.3" width="1.15" height="1.15"/>
<rect x="238.1" y="48.1" width="1.15" height="1.15"/>
<rect x="224.9" y="66.7" width="1.15" height="1.15"/>
<rect x="253.5" y="41.3" width="1.15" height="1.15"/>
<rect x="228.1" y="43.2" width="1.15" height="1.15"/>
<rect x="228.3" y="57.2" width="1.15" height="1.15"/>
<rect x="232.9" y="39.8" width="1.15" height="1.15"/>
<rect x="238.8" y="51.6" width="1.15" height="1.15"/>
<rect x="228.5" y="61.6" width="1.15" height="1.15"/>
<rect x="222.5" y="58.3" width="1.15" height="1.15"/>
<rect x="249.7" y="44.3" width="1.15" height="1.15"/>
<rect x="230.3" y="63.3" width="1.15" height="1.15"/>
<rect x="233.7" y="55.9" width="1.15" height="1.15"/>
<rect x="234.5" y="63.9" width="1.15" height="1.15"/>
<rect x="237.7" y="76.4" width="1.15" height="1.15"/>
<rect x="242.7" y="42.1" width="1.15" height="1.15"/>
<rect x="234.6" y="77.7" width="1.15" height="1.15"/>
<rect x="233.3" y="78.0" width="1.15" height="1.15"/>
<rect x="253.8" y="43.2" width="1.15" height="1.15"/>
<rect x="243.7" y="75.6" width="1.15" height="1.15"/>
<rect x="228.5" y="71.9" width="1.15" height="1.15"/>
<rect x="237.3" y="36.0" width="1.15" height="1.15"/>
<rect x="235.5" y="55.2" width="1.15" height="1.15"/>
<rect x="236.9" y="48.3" width="1.15" height="1.15"/>
<rect x="232.7" y="55.0" width="1.15" height="1.15"/>
<rect x="232.9" y="45.3" width="1.15" height="1.15"/>
<rect x="231.0" y="49.1" width="1.15" height="1.15"/>
<rect x="258.6" y="37.9" width="1.15" height="1.15"/>
<rect x="246.4" y="48.3" width="1.15" height="1.15"/>
<rect x="235.8" y="69.5" width="1.15" height="1.15"/>
<rect x="245.8" y="42.8" width="1.15" height="1.15"/>
<rect x="245.6" y="73.7" width="1.15" height="1.15"/>
<rect x="241.5" y="49.3" width="1.15" height="1.15"/>
<rect x="229.0" y="61.2" width="1.15" height="1.15"/>
<rect x="224.0" y="65.1" width="1.15" height="1.15"/>
<rect x="237.5" y="47.8" width="1.15" height="1.15"/>
<rect x="235.3" y="40.5" width="1.15" height="1.15"/>
<rect x="239.8" y="76.9" width="1.15" height="1.15"/>
<rect x="235.7" y="45.1" width="1.15" height="1.15"/>
<rect x="228.7" y="53.7" width="1.15" height="1.15"/>
<rect x="235.1" y="39.2" width="1.15" height="1.15"/>
<rect x="221.8" y="56.6" width="1.15" height="1.15"/>
<rect x="230.6" y="69.4" width="1.15" height="1.15"/>
<rect x="229.0" y="41.1" width="1.15" height="1.15"/>
<rect x="223.2" y="45.1" width="1.15" height="1.15"/>
<rect x="237.9" y="75.5" width="1.15" height="1.15"/>
<rect x="229.8" y="56.8" width="1.15" height="1.15"/>
<rect x="227.0" y="72.2" width="1.15" height="1.15"/>
<rect x="238.5" y="67.7" width="1.15" height="1.15"/>
<rect x="238.7" y="74.3" width="1.15" height="1.15"/>
<rect x="250.7" y="39.0" width="1.15" height="1.15"/>
<rect x="243.2" y="60.6" width="1.15" height="1.15"/>
<rect x="227.3" y="56.7" width="1.15" height="1.15"/>
<rect x="224.9" y="56.8" width="1.15" height="1.15"/>
<rect x="221.6" y="64.4" width="1.15" height="1.15"/>
<rect x="231.0" y="69.4" width="1.15" height="1.15"/>
<rect x="249.6" y="55.8" width="1.15" height="1.15"/>
<rect x="238.3" y="74.5" width="1.15" height="1.15"/>
<rect x="242.3" y="76.0" width="1.15" height="1.15"/>
<rect x="227.3" y="72.7" width="1.15" height="1.15"/>
<rect x="230.5" y="43.3" width="1.15" height="1.15"/>
<rect x="229.4" y="71.1" width="1.15" height="1.15"/>
<rect x="235.1" y="53.9" width="1.15" height="1.15"/>
<rect x="234.2" y="78.1" width="1.15" height="1.15"/>
<rect x="247.0" y="47.0" width="1.15" height="1.15"/>
<rect x="245.9" y="65.8" width="1.15" height="1.15"/>
<rect x="226.3" y="42.0" width="1.15" height="1.15"/>
<rect x="229.8" y="67.3" width="1.15" height="1.15"/>
<rect x="254.3" y="43.1" width="1.15" height="1.15"/>
<rect x="247.9" y="61.8" width="1.15" height="1.15"/>
<rect x="231.8" y="54.4" width="1.15" height="1.15"/>
<rect x="247.9" y="56.8" width="1.15" height="1.15"/>
<rect x="252.3" y="45.4" width="1.15" height="1.15"/>
<rect x="243.1" y="49.5" width="1.15" height="1.15"/>
<rect x="243.2" y="58.4" width="1.15" height="1.15"/>
<rect x="227.8" y="77.9" width="1.15" height="1.15"/>
<rect x="232.9" y="46.8" width="1.15" height="1.15"/>
<rect x="238.5" y="46.8" width="1.15" height="1.15"/>
<rect x="234.0" y="74.5" width="1.15" height="1.15"/>
<rect x="227.4" y="50.5" width="1.15" height="1.15"/>
<rect x="225.4" y="55.0" width="1.15" height="1.15"/>
<rect x="238.9" y="42.9" width="1.15" height="1.15"/>
<rect x="241.7" y="65.5" width="1.15" height="1.15"/>
<rect x="227.0" y="71.3" width="1.15" height="1.15"/>
<rect x="236.3" y="44.8" width="1.15" height="1.15"/>
<rect x="250.3" y="49.1" width="1.15" height="1.15"/>
<rect x="231.4" y="64.7" width="1.15" height="1.15"/>
<rect x="252.6" y="47.4" width="1.15" height="1.15"/>
<rect x="226.5" y="65.6" width="1.15" height="1.15"/>
<rect x="255.2" y="41.5" width="1.15" height="1.15"/>
<rect x="229.8" y="54.9" width="1.15" height="1.15"/>
<rect x="247.3" y="33.1" width="1.15" height="1.15"/>
<rect x="231.6" y="70.8" width="1.15" height="1.15"/>
<rect x="237.5" y="50.5" width="1.15" height="1.15"/>
<rect x="224.5" y="54.9" width="1.15" height="1.15"/>
<rect x="236.9" y="56.2" width="1.15" height="1.15"/>
<rect x="244.5" y="66.5" width="1.15" height="1.15"/>
<rect x="257.5" y="36.3" width="1.15" height="1.15"/>
<rect x="236.6" y="68.9" width="1.15" height="1.15"/>
<rect x="251.5" y="38.7" width="1.15" height="1.15"/>
<rect x="249.4" y="34.4" width="1.15" height="1.15"/>
<rect x="247.3" y="36.1" width="1.15" height="1.15"/>
<rect x="226.2" y="52.2" width="1.15" height="1.15"/>
<rect x="244.8" y="61.0" width="1.15" height="1.15"/>
<rect x="250.6" y="40.8" width="1.15" height="1.15"/>
<rect x="250.2" y="65.2" width="1.15" height="1.15"/>
<rect x="234.7" y="41.2" width="1.15" height="1.15"/>
<rect x="258.8" y="38.3" width="1.15" height="1.15"/>
<rect x="235.1" y="65.7" width="1.15" height="1.15"/>
<rect x="233.9" y="69.4" width="1.15" height="1.15"/>
<rect x="239.3" y="71.7" width="1.15" height="1.15"/>
<rect x="245.2" y="76.0" width="1.15" height="1.15"/>
<rect x="242.0" y="40.4" width="1.15" height="1.15"/>
<rect x="240.8" y="41.1" width="1.15" height="1.15"/>
<rect x="245.5" y="54.3" width="1.15" height="1.15"/>
<rect x="247.0" y="76.4" width="1.15" height="1.15"/>
<rect x="242.2" y="47.2" width="1.15" height="1.15"/>
<rect x="236.9" y="58.1" width="1.15" height="1.15"/>
<rect x="222.1" y="72.0" width="1.15" height="1.15"/>
<rect x="231.2" y="62.0" width="1.15" height="1.15"/>
<rect x="243.0" y="65.4" width="1.15" height="1.15"/>
<rect x="230.7" y="47.0" width="1.15" height="1.15"/>
<rect x="224.0" y="62.2" width="1.15" height="1.15"/>
<rect x="223.8" y="66.3" width="1.15" height="1.15"/>
<rect x="232.5" y="68.8" width="1.15" height="1.15"/>
<rect x="220.9" y="72.7" width="1.15" height="1.15"/>
<rect x="220.9" y="65.6" width="1.15" height="1.15"/>
<rect x="243.5" y="36.0" width="1.15" height="1.15"/>
<rect x="229.1" y="54.6" width="1.15" height="1.15"/>
<rect x="245.0" y="38.0" width="1.15" height="1.15"/>
<rect x="242.1" y="46.8" width="1.15" height="1.15"/>
<rect x="230.3" y="77.5" width="1.15" height="1.15"/>
<rect x="220.0" y="50.4" width="1.15" height="1.15"/>
<rect x="220.8" y="70.8" width="1.15" height="1.15"/>
<rect x="251.7" y="37.9" width="1.15" height="1.15"/>
<rect x="236.8" y="61.4" width="1.15" height="1.15"/>
<rect x="226.4" y="65.0" width="1.15" height="1.15"/>
<rect x="240.4" y="59.2" width="1.15" height="1.15"/>
<rect x="238.6" y="63.2" width="1.15" height="1.15"/>
<rect x="242.0" y="68.1" width="1.15" height="1.15"/>
<rect x="246.5" y="77.3" width="1.15" height="1.15"/>
<rect x="229.9" y="56.2" width="1.15" height="1.15"/>
<rect x="245.5" y="72.6" width="1.15" height="1.15"/>
<rect x="242.3" y="42.3" width="1.15" height="1.15"/>
<rect x="252.5" y="35.8" width="1.15" height="1.15"/>
<rect x="247.8" y="62.0" width="1.15" height="1.15"/>
<rect x="229.9" y="52.3" width="1.15" height="1.15"/>
<rect x="236.4" y="48.9" width="1.15" height="1.15"/>
<rect x="241.8" y="50.5" width="1.15" height="1.15"/>
<rect x="222.1" y="65.1" width="1.15" height="1.15"/>
<rect x="221.2" y="76.4" width="1.15" height="1.15"/>
<rect x="222.3" y="58.6" width="1.15" height="1.15"/>
<rect x="241.8" y="56.0" width="1.15" height="1.15"/>
<rect x="221.2" y="61.5" width="1.15" height="1.15"/>
<rect x="235.4" y="72.5" width="1.15" height="1.15"/>
<rect x="226.0" y="71.7" width="1.15" height="1.15"/>
<rect x="233.5" y="47.8" width="1.15" height="1.15"/>
<rect x="233.6" y="49.6" width="1.15" height="1.15"/>
<rect x="250.9" y="49.0" width="1.15" height="1.15"/>
<rect x="219.8" y="55.6" width="1.15" height="1.15"/>
<rect x="247.1" y="71.9" width="1.15" height="1.15"/>
<rect x="249.4" y="39.5" width="1.15" height="1.15"/>
<rect x="220.5" y="77.7" width="1.15" height="1.15"/>
<rect x="237.3" y="64.1" width="1.15" height="1.15"/>
<rect x="221.2" y="67.2" width="1.15" height="1.15"/>
<rect x="241.4" y="72.0" width="1.15" height="1.15"/>
<rect x="242.1" y="56.5" width="1.15" height="1.15"/>
<rect x="236.0" y="35.2" width="1.15" height="1.15"/>
<rect x="234.2" y="63.7" width="1.15" height="1.15"/>
<rect x="225.6" y="52.2" width="1.15" height="1.15"/>
<rect x="228.4" y="70.1" width="1.15" height="1.15"/>
<rect x="231.7" y="65.0" width="1.15" height="1.15"/>
<rect x="242.4" y="72.9" width="1.15" height="1.15"/>
<rect x="249.0" y="60.8" width="1.15" height="1.15"/>
<rect x="243.0" y="44.9" width="1.15" height="1.15"/>
<rect x="232.6" y="54.3" width="1.15" height="1.15"/>
<rect x="224.4" y="46.0" width="1.15" height="1.15"/>
<rect x="223.7" y="40.9" width="1.15" height="1.15"/>
<rect x="239.3" y="55.8" width="1.15" height="1.15"/>
<rect x="247.9" y="57.0" width="1.15" height="1.15"/>
<rect x="221.9" y="69.7" width="1.15" height="1.15"/>
<rect x="239.7" y="37.8" width="1.15" height="1.15"/>
<rect x="248.1" y="58.9" width="1.15" height="1.15"/>
<rect x="223.7" y="43.7" width="1.15" height="1.15"/>
<rect x="251.1" y="39.7" width="1.15" height="1.15"/>
<rect x="221.4" y="59.8" width="1.15" height="1.15"/>
<rect x="252.8" y="36.5" width="1.15" height="1.15"/>
<rect x="234.5" y="36.4" width="1.15" height="1.15"/>
<rect x="245.6" y="49.2" width="1.15" height="1.15"/>
<rect x="228.9" y="57.5" width="1.15" height="1.15"/>
<rect x="251.2" y="51.2" width="1.15" height="1.15"/>
<rect x="244.8" y="73.0" width="1.15" height="1.15"/>
<rect x="254.1" y="47.9" width="1.15" height="1.15"/>
<rect x="236.9" y="48.3" width="1.15" height="1.15"/>
<rect x="227.7" y="70.1" width="1.15" height="1.15"/>
<rect x="224.7" y="46.8" width="1.15" height="1.15"/>
<rect x="245.9" y="43.5" width="1.15" height="1.15"/>
<rect x="228.7" y="45.8" width="1.15" height="1.15"/>
<rect x="234.5" y="55.3" width="1.15" height="1.15"/>
<rect x="233.1" y="58.1" width="1.15" height="1.15"/>
<rect x="244.9" y="39.5" width="1.15" height="1.15"/>
<rect x="244.2" y="44.9" width="1.15" height="1.15"/>
<rect x="235.9" y="42.4" width="1.15" height="1.15"/>
<rect x="234.0" y="57.2" width="1.15" height="1.15"/>
<rect x="231.0" y="73.0" width="1.15" height="1.15"/>
<rect x="249.4" y="59.4" width="1.15" height="1.15"/>
<rect x="238.8" y="51.4" width="1.15" height="1.15"/>
<rect x="253.3" y="35.6" width="1.15" height="1.15"/>
<rect x="223.3" y="71.0" width="1.15" height="1.15"/>
<rect x="230.1" y="67.7" width="1.15" height="1.15"/>
<rect x="244.2" y="68.0" width="1.15" height="1.15"/>
<rect x="238.3" y="60.8" width="1.15" height="1.15"/>
<rect x="242.9" y="74.9" width="1.15" height="1.15"/>
<rect x="232.2" y="74.7" width="1.15" height="1.15"/>
<rect x="232.1" y="60.0" width="1.15" height="1.15"/>
<rect x="239.6" y="63.9" width="1.15" height="1.15"/>
<rect x="238.2" y="40.9" width="1.15" height="1.15"/>
<rect x="254.1" y="41.3" width="1.15" height="1.15"/>
<rect x="241.9" y="55.8" width="1.15" height="1.15"/>
<rect x="223.7" y="77.1" width="1.15" height="1.15"/>
<rect x="228.0" y="70.0" width="1.15" height="1.15"/>
<rect x="233.3" y="77.9" width="1.15" height="1.15"/>
<rect x="230.0" y="44.5" width="1.15" height="1.15"/>
<rect x="226.8" y="47.7" width="1.15" height="1.15"/>
<rect x="244.9" y="64.2" width="1.15" height="1.15"/>
<rect x="234.1" y="53.9" width="1.15" height="1.15"/>
<rect x="230.0" y="47.0" width="1.15" height="1.15"/>
<rect x="252.2" y="37.8" width="1.15" height="1.15"/>
<rect x="227.6" y="57.1" width="1.15" height="1.15"/>
<rect x="243.3" y="75.2" width="1.15" height="1.15"/>
<rect x="233.6" y="63.6" width="1.15" height="1.15"/>
<rect x="249.5" y="46.1" width="1.15" height="1.15"/>
<rect x="235.3" y="72.3" width="1.15" height="1.15"/>
<rect x="242.2" y="69.6" width="1.15" height="1.15"/>
<rect x="230.9" y="78.5" width="1.15" height="1.15"/>
<rect x="241.4" y="73.4" width="1.15" height="1.15"/>
<rect x="230.8" y="71.3" width="1.15" height="1.15"/>
<rect x="244.6" y="60.7" width="1.15" height="1.15"/>
<rect x="245.1" y="41.0" width="1.15" height="1.15"/>
<rect x="240.6" y="48.5" width="1.15" height="1.15"/>
<rect x="235.5" y="55.2" width="1.15" height="1.15"/>
<rect x="232.1" y="76.7" width="1.15" height="1.15"/>
<rect x="247.1" y="78.0" width="1.15" height="1.15"/>
<rect x="239.4" y="65.9" width="1.15" height="1.15"/>
<rect x="222.8" y="62.9" width="1.15" height="1.15"/>
<rect x="226.7" y="53.1" width="1.15" height="1.15"/>
<rect x="229.7" y="38.9" width="1.15" height="1.15"/>
<rect x="248.1" y="65.2" width="1.15" height="1.15"/>
<rect x="223.3" y="45.7" width="1.15" height="1.15"/>
<rect x="242.9" y="56.1" width="1.15" height="1.15"/>
<rect x="236.4" y="70.5" width="1.15" height="1.15"/>
<rect x="232.4" y="40.4" width="1.15" height="1.15"/>
<rect x="239.0" y="49.7" width="1.15" height="1.15"/>
<rect x="230.7" y="59.1" width="1.15" height="1.15"/>
<rect x="246.2" y="77.8" width="1.15" height="1.15"/>
<rect x="234.1" y="40.6" width="1.15" height="1.15"/>
<rect x="236.1" y="44.9" width="1.15" height="1.15"/>
<rect x="244.5" y="59.9" width="1.15" height="1.15"/>
<rect x="231.3" y="60.3" width="1.15" height="1.15"/>
<rect x="235.4" y="77.0" width="1.15" height="1.15"/>
<rect x="247.7" y="54.3" width="1.15" height="1.15"/>
<rect x="240.5" y="53.0" width="1.15" height="1.15"/>
<rect x="242.8" y="78.4" width="1.15" height="1.15"/>
<rect x="235.7" y="38.7" width="1.15" height="1.15"/>
<rect x="225.6" y="44.5" width="1.15" height="1.15"/>
<rect x="222.5" y="50.6" width="1.15" height="1.15"/>
<rect x="233.1" y="63.7" width="1.15" height="1.15"/>
<rect x="248.7" y="48.4" width="1.15" height="1.15"/>
<rect x="246.9" y="68.2" width="1.15" height="1.15"/>
<rect x="237.9" y="39.5" width="1.15" height="1.15"/>
<rect x="244.9" y="72.7" width="1.15" height="1.15"/>
<rect x="258.2" y="38.6" width="1.15" height="1.15"/>
<rect x="240.5" y="38.5" width="1.15" height="1.15"/>
<rect x="250.5" y="37.0" width="1.15" height="1.15"/>
<rect x="248.6" y="55.6" width="1.15" height="1.15"/>
<rect x="233.8" y="49.4" width="1.15" height="1.15"/>
<rect x="244.7" y="59.3" width="1.15" height="1.15"/>
<rect x="231.9" y="61.4" width="1.15" height="1.15"/>
<rect x="220.7" y="48.9" width="1.15" height="1.15"/>
<rect x="251.3" y="35.8" width="1.15" height="1.15"/>
<rect x="240.1" y="73.9" width="1.15" height="1.15"/>
<rect x="245.1" y="38.4" width="1.15" height="1.15"/>
<rect x="241.7" y="43.5" width="1.15" height="1.15"/>
<rect x="250.3" y="44.7" width="1.15" height="1.15"/>
<rect x="233.2" y="51.9" width="1.15" height="1.15"/>
<rect x="232.3" y="63.4" width="1.15" height="1.15"/>
<rect x="224.1" y="42.7" width="1.15" height="1.15"/>
<rect x="225.3" y="58.8" width="1.15" height="1.15"/>
<rect x="238.8" y="53.2" width="1.15" height="1.15"/>
<rect x="239.5" y="67.5" width="1.15" height="1.15"/>
<rect x="250.9" y="40.5" width="1.15" height="1.15"/>
<rect x="220.0" y="63.6" width="1.15" height="1.15"/>
<rect x="242.9" y="36.4" width="1.15" height="1.15"/>
<rect x="251.2" y="47.9" width="1.15" height="1.15"/>
<rect x="238.2" y="63.2" width="1.15" height="1.15"/>
<rect x="225.9" y="63.0" width="1.15" height="1.15"/>
<rect x="245.9" y="63.1" width="1.15" height="1.15"/>
<rect x="246.1" y="67.5" width="1.15" height="1.15"/>
<rect x="234.7" y="39.0" width="1.15" height="1.15"/>
<rect x="243.4" y="38.2" width="1.15" height="1.15"/>
<rect x="225.1" y="63.9" width="1.15" height="1.15"/>
<rect x="247.3" y="34.1" width="1.15" height="1.15"/>
<rect x="227.9" y="48.4" width="1.15" height="1.15"/>
<rect x="238.4" y="69.1" width="1.15" height="1.15"/>
<rect x="246.6" y="71.2" width="1.15" height="1.15"/>
<rect x="242.9" y="61.7" width="1.15" height="1.15"/>
<rect x="232.8" y="50.9" width="1.15" height="1.15"/>
<rect x="258.4" y="38.3" width="1.15" height="1.15"/>
<rect x="240.9" y="59.1" width="1.15" height="1.15"/>
<rect x="240.8" y="74.8" width="1.15" height="1.15"/>
<rect x="223.1" y="57.7" width="1.15" height="1.15"/>
<rect x="223.0" y="52.4" width="1.15" height="1.15"/>
<rect x="237.6" y="47.4" width="1.15" height="1.15"/>
<rect x="248.6" y="58.2" width="1.15" height="1.15"/>
<rect x="247.9" y="77.8" width="1.15" height="1.15"/>
<rect x="248.9" y="35.9" width="1.15" height="1.15"/>
<rect x="248.3" y="48.6" width="1.15" height="1.15"/>
<rect x="230.0" y="43.0" width="1.15" height="1.15"/>
<rect x="238.7" y="78.1" width="1.15" height="1.15"/>
<rect x="236.4" y="37.1" width="1.15" height="1.15"/>
<rect x="237.9" y="38.6" width="1.15" height="1.15"/>
<rect x="252.2" y="50.7" width="1.15" height="1.15"/>
<rect x="247.8" y="65.4" width="1.15" height="1.15"/>
<rect x="249.0" y="54.6" width="1.15" height="1.15"/>
<rect x="246.6" y="63.5" width="1.15" height="1.15"/>
<rect x="238.2" y="34.7" width="1.15" height="1.15"/>
<rect x="222.7" y="49.3" width="1.15" height="1.15"/>
<rect x="244.1" y="42.2" width="1.15" height="1.15"/>
<rect x="220.8" y="51.2" width="1.15" height="1.15"/>
<rect x="233.1" y="73.6" width="1.15" height="1.15"/>
<rect x="221.7" y="68.7" width="1.15" height="1.15"/>
<rect x="249.5" y="37.8" width="1.15" height="1.15"/>
<rect x="227.4" y="62.3" width="1.15" height="1.15"/>
<rect x="225.5" y="45.1" width="1.15" height="1.15"/>
<rect x="233.5" y="72.2" width="1.15" height="1.15"/>
<rect x="256.0" y="40.6" width="1.15" height="1.15"/>
<rect x="240.7" y="63.0" width="1.15" height="1.15"/>
<rect x="227.1" y="66.5" width="1.15" height="1.15"/>
<rect x="231.6" y="50.5" width="1.15" height="1.15"/>
<rect x="246.9" y="50.3" width="1.15" height="1.15"/>
<rect x="246.4" y="64.3" width="1.15" height="1.15"/>
<rect x="232.8" y="41.3" width="1.15" height="1.15"/>
<rect x="243.1" y="74.4" width="1.15" height="1.15"/>
<rect x="254.3" y="43.7" width="1.15" height="1.15"/>
<rect x="230.9" y="55.6" width="1.15" height="1.15"/>
<rect x="225.8" y="77.5" width="1.15" height="1.15"/>
<rect x="232.8" y="77.3" width="1.15" height="1.15"/>
<rect x="244.3" y="37.0" width="1.15" height="1.15"/>
<rect x="221.4" y="55.8" width="1.15" height="1.15"/>
<rect x="239.0" y="68.7" width="1.15" height="1.15"/>
<rect x="242.5" y="55.5" width="1.15" height="1.15"/>
<rect x="247.1" y="44.3" width="1.15" height="1.15"/>
<rect x="247.2" y="69.9" width="1.15" height="1.15"/>
<rect x="223.7" y="67.8" width="1.15" height="1.15"/>
<rect x="238.7" y="69.8" width="1.15" height="1.15"/>
<rect x="234.7" y="38.4" width="1.15" height="1.15"/>
<rect x="227.5" y="77.2" width="1.15" height="1.15"/>
<rect x="254.4" y="44.5" width="1.15" height="1.15"/>
<rect x="225.6" y="77.6" width="1.15" height="1.15"/>
<rect x="243.2" y="45.2" width="1.15" height="1.15"/>
<rect x="231.6" y="48.0" width="1.15" height="1.15"/>
<rect x="246.8" y="67.5" width="1.15" height="1.15"/>
<rect x="253.0" y="36.2" width="1.15" height="1.15"/>
<rect x="236.9" y="70.7" width="1.15" height="1.15"/>
<rect x="230.7" y="56.8" width="1.15" height="1.15"/>
<rect x="233.5" y="55.7" width="1.15" height="1.15"/>
<rect x="242.8" y="49.9" width="1.15" height="1.15"/>
<rect x="224.0" y="64.6" width="1.15" height="1.15"/>
<rect x="233.7" y="65.2" width="1.15" height="1.15"/>
<rect x="247.3" y="72.4" width="1.15" height="1.15"/>
<rect x="229.1" y="46.6" width="1.15" height="1.15"/>
<rect x="235.1" y="43.6" width="1.15" height="1.15"/>
<rect x="235.8" y="51.3" width="1.15" height="1.15"/>
<rect x="228.4" y="52.6" width="1.15" height="1.15"/>
<rect x="227.8" y="47.7" width="1.15" height="1.15"/>
<rect x="242.4" y="71.1" width="1.15" height="1.15"/>
<rect x="220.6" y="76.9" width="1.15" height="1.15"/>
<rect x="234.7" y="66.0" width="1.15" height="1.15"/>
<rect x="235.3" y="48.4" width="1.15" height="1.15"/>
<rect x="242.6" y="71.8" width="1.15" height="1.15"/>
<rect x="246.2" y="69.7" width="1.15" height="1.15"/>
<rect x="233.8" y="73.1" width="1.15" height="1.15"/>
<rect x="222.5" y="67.2" width="1.15" height="1.15"/>
<rect x="235.2" y="46.3" width="1.15" height="1.15"/>
<rect x="223.0" y="51.7" width="1.15" height="1.15"/>
<rect x="238.6" y="51.3" width="1.15" height="1.15"/>
<rect x="236.4" y="50.8" width="1.15" height="1.15"/>
<rect x="239.5" y="76.4" width="1.15" height="1.15"/>
<rect x="248.6" y="47.3" width="1.15" height="1.15"/>
<rect x="221.3" y="66.2" width="1.15" height="1.15"/>
<rect x="233.8" y="54.6" width="1.15" height="1.15"/>
<rect x="245.5" y="50.2" width="1.15" height="1.15"/>
<rect x="247.6" y="48.7" width="1.15" height="1.15"/>
<rect x="241.2" y="61.6" width="1.15" height="1.15"/>
<rect x="227.2" y="52.8" width="1.15" height="1.15"/>
<rect x="228.1" y="54.5" width="1.15" height="1.15"/>
<rect x="233.6" y="76.4" width="1.15" height="1.15"/>
<rect x="246.3" y="53.2" width="1.15" height="1.15"/>
<rect x="223.6" y="57.4" width="1.15" height="1.15"/>
<rect x="233.8" y="69.1" width="1.15" height="1.15"/>
<rect x="234.7" y="77.1" width="1.15" height="1.15"/>
<rect x="232.1" y="45.3" width="1.15" height="1.15"/>
<rect x="227.7" y="53.9" width="1.15" height="1.15"/>
<rect x="244.1" y="77.0" width="1.15" height="1.15"/>
<rect x="240.2" y="53.8" width="1.15" height="1.15"/>
<rect x="242.3" y="68.1" width="1.15" height="1.15"/>
<rect x="248.7" y="43.2" width="1.15" height="1.15"/>
<rect x="247.6" y="62.6" width="1.15" height="1.15"/>
<rect x="239.2" y="52.0" width="1.15" height="1.15"/>
<rect x="229.6" y="46.8" width="1.15" height="1.15"/>
<rect x="249.8" y="46.0" width="1.15" height="1.15"/>
<rect x="232.4" y="53.7" width="1.15" height="1.15"/>
<rect x="223.3" y="75.3" width="1.15" height="1.15"/>
<rect x="233.6" y="58.1" width="1.15" height="1.15"/>
<rect x="231.6" y="60.6" width="1.15" height="1.15"/>
<rect x="238.3" y="65.3" width="1.15" height="1.15"/>
<rect x="236.1" y="48.4" width="1.15" height="1.15"/>
<rect x="243.1" y="43.7" width="1.15" height="1.15"/>
<rect x="234.2" y="71.0" width="1.15" height="1.15"/>
<rect x="246.4" y="65.9" width="1.15" height="1.15"/>
<rect x="244.8" y="64.1" width="1.15" height="1.15"/>
<rect x="227.2" y="58.5" width="1.15" height="1.15"/>
<rect x="231.8" y="70.3" width="1.15" height="1.15"/>
<rect x="240.5" y="78.1" width="1.15" height="1.15"/>
<rect x="243.8" y="42.5" width="1.15" height="1.15"/>
<rect x="241.1" y="75.4" width="1.15" height="1.15"/>
<rect x="222.5" y="65.2" width="1.15" height="1.15"/>
<rect x="223.6" y="53.0" width="1.15" height="1.15"/>
<rect x="240.3" y="52.8" width="1.15" height="1.15"/>
<rect x="224.7" y="51.4" width="1.15" height="1.15"/>
<rect x="240.4" y="60.4" width="1.15" height="1.15"/>
<rect x="224.2" y="62.7" width="1.15" height="1.15"/>
<rect x="236.1" y="76.0" width="1.15" height="1.15"/>
<rect x="245.8" y="51.3" width="1.15" height="1.15"/>
<rect x="244.5" y="52.7" width="1.15" height="1.15"/>
<rect x="245.8" y="51.1" width="1.15" height="1.15"/>
<rect x="238.7" y="50.9" width="1.15" height="1.15"/>
<rect x="228.4" y="61.3" width="1.15" height="1.15"/>
<rect x="226.7" y="62.4" width="1.15" height="1.15"/>
<rect x="237.1" y="46.3" width="1.15" height="1.15"/>
<rect x="227.5" y="74.9" width="1.15" height="1.15"/>
<rect x="246.5" y="49.8" width="1.15" height="1.15"/>
<rect x="237.8" y="68.6" width="1.15" height="1.15"/>
<rect x="221.9" y="70.6" width="1.15" height="1.15"/>
<rect x="239.8" y="56.7" width="1.15" height="1.15"/>
<rect x="236.3" y="52.6" width="1.15" height="1.15"/>
<rect x="233.7" y="77.1" width="1.15" height="1.15"/>
<rect x="237.5" y="72.1" width="1.15" height="1.15"/>
<rect x="226.5" y="72.6" width="1.15" height="1.15"/>
<rect x="246.5" y="51.4" width="1.15" height="1.15"/>
<rect x="241.7" y="66.7" width="1.15" height="1.15"/>
<rect x="243.9" y="62.5" width="1.15" height="1.15"/>
<rect x="233.9" y="70.7" width="1.15" height="1.15"/>
<rect x="249.6" y="41.0" width="1.15" height="1.15"/>
<rect x="241.5" y="61.4" width="1.15" height="1.15"/>
<rect x="231.0" y="64.5" width="1.15" height="1.15"/>
<rect x="235.5" y="52.1" width="1.15" height="1.15"/>
<rect x="238.5" y="71.7" width="1.15" height="1.15"/>
<rect x="249.2" y="43.8" width="1.15" height="1.15"/>
<rect x="225.7" y="71.7" width="1.15" height="1.15"/>
<rect x="238.0" y="43.6" width="1.15" height="1.15"/>
<rect x="235.3" y="77.0" width="1.15" height="1.15"/>
<rect x="225.1" y="78.3" width="1.15" height="1.15"/>
<rect x="231.4" y="68.2" width="1.15" height="1.15"/>
<rect x="239.5" y="75.3" width="1.15" height="1.15"/>
<rect x="239.2" y="61.2" width="1.15" height="1.15"/>
<rect x="230.3" y="57.6" width="1.15" height="1.15"/>
<rect x="244.4" y="52.6" width="1.15" height="1.15"/>
<rect x="223.2" y="60.3" width="1.15" height="1.15"/>
<rect x="240.6" y="71.5" width="1.15" height="1.15"/>
<rect x="238.8" y="43.4" width="1.15" height="1.15"/>
<rect x="232.2" y="77.9" width="1.15" height="1.15"/>
<rect x="228.3" y="63.0" width="1.15" height="1.15"/>
<rect x="227.4" y="75.5" width="1.15" height="1.15"/>
<rect x="226.7" y="61.9" width="1.15" height="1.15"/>
<rect x="248.7" y="44.7" width="1.15" height="1.15"/>
<rect x="249.3" y="45.0" width="1.15" height="1.15"/>
<rect x="221.8" y="69.7" width="1.15" height="1.15"/>
<rect x="239.8" y="45.6" width="1.15" height="1.15"/>
<rect x="243.1" y="43.6" width="1.15" height="1.15"/>
<rect x="232.5" y="74.1" width="1.15" height="1.15"/>
<rect x="244.7" y="47.2" width="1.15" height="1.15"/>
<rect x="231.9" y="57.5" width="1.15" height="1.15"/>
<rect x="242.2" y="68.7" width="1.15" height="1.15"/>
<rect x="241.2" y="42.2" width="1.15" height="1.15"/>
<rect x="237.2" y="75.4" width="1.15" height="1.15"/>
<rect x="225.8" y="66.0" width="1.15" height="1.15"/>
<rect x="244.6" y="61.0" width="1.15" height="1.15"/>
<rect x="233.8" y="52.0" width="1.15" height="1.15"/>
<rect x="238.0" y="58.6" width="1.15" height="1.15"/>
<rect x="236.0" y="46.6" width="1.15" height="1.15"/>
<rect x="234.6" y="65.1" width="1.15" height="1.15"/>
<rect x="245.8" y="44.0" width="1.15" height="1.15"/>
<rect x="237.6" y="58.4" width="1.15" height="1.15"/>
<rect x="244.9" y="42.4" width="1.15" height="1.15"/>
<rect x="232.7" y="58.9" width="1.15" height="1.15"/>
<rect x="234.3" y="50.6" width="1.15" height="1.15"/>
<rect x="246.7" y="74.6" width="1.15" height="1.15"/>
<rect x="222.2" y="66.7" width="1.15" height="1.15"/>
<rect x="234.7" y="44.2" width="1.15" height="1.15"/>
<rect x="231.1" y="45.7" width="1.15" height="1.15"/>
<rect x="248.4" y="61.9" width="1.15" height="1.15"/>
<rect x="234.6" y="54.5" width="1.15" height="1.15"/>
<rect x="246.8" y="52.5" width="1.15" height="1.15"/>
<rect x="240.8" y="43.2" width="1.15" height="1.15"/>
<rect x="245.6" y="61.9" width="1.15" height="1.15"/>
<rect x="243.8" y="45.4" width="1.15" height="1.15"/>
<rect x="242.2" y="54.8" width="1.15" height="1.15"/>
<rect x="232.6" y="45.1" width="1.15" height="1.15"/>
<rect x="245.5" y="74.0" width="1.15" height="1.15"/>
<rect x="221.8" y="62.0" width="1.15" height="1.15"/>
<rect x="230.4" y="49.9" width="1.15" height="1.15"/>
<rect x="236.0" y="69.8" width="1.15" height="1.15"/>
<rect x="249.4" y="40.0" width="1.15" height="1.15"/>
<rect x="224.1" y="64.5" width="1.15" height="1.15"/>
<rect x="226.2" y="60.6" width="1.15" height="1.15"/>
<rect x="241.8" y="58.3" width="1.15" height="1.15"/>
<rect x="236.0" y="51.2" width="1.15" height="1.15"/>
<rect x="222.0" y="76.1" width="1.15" height="1.15"/>
<rect x="221.9" y="77.2" width="1.15" height="1.15"/>
<rect x="243.7" y="58.5" width="1.15" height="1.15"/>
<rect x="235.4" y="75.6" width="1.15" height="1.15"/>
<rect x="246.6" y="70.9" width="1.15" height="1.15"/>
<rect x="222.1" y="69.5" width="1.15" height="1.15"/>
<rect x="238.4" y="55.4" width="1.15" height="1.15"/>
<rect x="239.5" y="43.0" width="1.15" height="1.15"/>
<rect x="233.0" y="46.5" width="1.15" height="1.15"/>
<rect x="228.0" y="53.6" width="1.15" height="1.15"/>
<rect x="233.9" y="45.7" width="1.15" height="1.15"/>
<rect x="223.3" y="58.2" width="1.15" height="1.15"/>
<rect x="236.1" y="74.9" width="1.15" height="1.15"/>
<rect x="237.1" y="52.2" width="1.15" height="1.15"/>
<rect x="221.6" y="66.1" width="1.15" height="1.15"/>
<rect x="228.9" y="67.8" width="1.15" height="1.15"/>
<rect x="231.4" y="52.8" width="1.15" height="1.15"/>
<rect x="245.7" y="42.6" width="1.15" height="1.15"/>
<rect x="246.3" y="63.9" width="1.15" height="1.15"/>
<rect x="224.2" y="59.4" width="1.15" height="1.15"/>
<rect x="236.9" y="44.0" width="1.15" height="1.15"/>
<rect x="252.9" y="42.0" width="1.15" height="1.15"/>
<rect x="236.2" y="74.9" width="1.15" height="1.15"/>
<rect x="226.0" y="65.9" width="1.15" height="1.15"/>
<rect x="230.8" y="55.4" width="1.15" height="1.15"/>
<rect x="237.5" y="47.6" width="1.15" height="1.15"/>
<rect x="222.0" y="62.1" width="1.15" height="1.15"/>
<rect x="243.1" y="69.4" width="1.15" height="1.15"/>
<rect x="230.0" y="64.0" width="1.15" height="1.15"/>
<rect x="229.6" y="60.3" width="1.15" height="1.15"/>
<rect x="229.9" y="76.7" width="1.15" height="1.15"/>
<rect x="231.3" y="66.8" width="1.15" height="1.15"/>
<rect x="231.7" y="77.0" width="1.15" height="1.15"/>
<rect x="222.7" y="71.5" width="1.15" height="1.15"/>
<rect x="246.9" y="67.2" width="1.15" height="1.15"/>
<rect x="246.3" y="59.4" width="1.15" height="1.15"/>
<rect x="247.0" y="77.6" width="1.15" height="1.15"/>
<rect x="236.5" y="43.4" width="1.15" height="1.15"/>
<rect x="240.1" y="68.7" width="1.15" height="1.15"/>
<rect x="238.9" y="63.8" width="1.15" height="1.15"/>
<rect x="227.9" y="66.5" width="1.15" height="1.15"/>
<rect x="245.5" y="60.6" width="1.15" height="1.15"/>
<rect x="231.6" y="54.6" width="1.15" height="1.15"/>
<rect x="232.4" y="47.3" width="1.15" height="1.15"/>
<rect x="223.5" y="57.2" width="1.15" height="1.15"/>
<rect x="251.3" y="41.2" width="1.15" height="1.15"/>
<rect x="245.5" y="45.5" width="1.15" height="1.15"/>
<rect x="244.5" y="75.5" width="1.15" height="1.15"/>
<rect x="222.3" y="61.7" width="1.15" height="1.15"/>
<rect x="243.8" y="68.9" width="1.15" height="1.15"/>
<rect x="237.3" y="48.7" width="1.15" height="1.15"/>
<rect x="225.9" y="63.7" width="1.15" height="1.15"/>
<rect x="236.4" y="69.8" width="1.15" height="1.15"/>
<rect x="231.3" y="60.7" width="1.15" height="1.15"/>
<rect x="244.7" y="42.7" width="1.15" height="1.15"/>
<rect x="223.8" y="59.7" width="1.15" height="1.15"/>
<rect x="243.9" y="61.8" width="1.15" height="1.15"/>
<rect x="228.4" y="60.4" width="1.15" height="1.15"/>
<rect x="227.4" y="61.5" width="1.15" height="1.15"/>
<rect x="223.6" y="59.0" width="1.15" height="1.15"/>
<rect x="231.8" y="76.3" width="1.15" height="1.15"/>
<rect x="240.9" y="49.9" width="1.15" height="1.15"/>
<rect x="247.0" y="77.9" width="1.15" height="1.15"/>
<rect x="246.6" y="45.5" width="1.15" height="1.15"/>
<rect x="244.6" y="54.8" width="1.15" height="1.15"/>
<rect x="234.9" y="67.4" width="1.15" height="1.15"/>
<rect x="229.8" y="57.7" width="1.15" height="1.15"/>
<rect x="238.8" y="52.6" width="1.15" height="1.15"/>
<rect x="235.3" y="57.8" width="1.15" height="1.15"/>
<rect x="235.9" y="68.3" width="1.15" height="1.15"/>
<rect x="248.7" y="51.3" width="1.15" height="1.15"/>
<rect x="246.7" y="66.3" width="1.15" height="1.15"/>
<rect x="223.6" y="52.9" width="1.15" height="1.15"/>
<rect x="232.5" y="66.6" width="1.15" height="1.15"/>
<rect x="245.0" y="50.8" width="1.15" height="1.15"/>
<rect x="223.7" y="62.3" width="1.15" height="1.15"/>
<rect x="236.5" y="72.4" width="1.15" height="1.15"/>
<rect x="242.5" y="50.9" width="1.15" height="1.15"/>
<rect x="237.9" y="50.9" width="1.15" height="1.15"/>
<rect x="236.0" y="59.9" width="1.15" height="1.15"/>
<rect x="240.8" y="45.7" width="1.15" height="1.15"/>
<rect x="223.5" y="76.6" width="1.15" height="1.15"/>
<rect x="241.7" y="53.1" width="1.15" height="1.15"/>
<rect x="249.4" y="45.0" width="1.15" height="1.15"/>
<rect x="237.6" y="50.9" width="1.15" height="1.15"/>
<rect x="237.7" y="56.0" width="1.15" height="1.15"/>
<rect x="227.2" y="50.7" width="1.15" height="1.15"/>
<rect x="227.5" y="76.0" width="1.15" height="1.15"/>
<rect x="236.3" y="73.6" width="1.15" height="1.15"/>
<rect x="227.9" y="77.9" width="1.15" height="1.15"/>
<rect x="231.7" y="51.9" width="1.15" height="1.15"/>
<rect x="249.1" y="53.0" width="1.15" height="1.15"/>
<rect x="242.9" y="50.9" width="1.15" height="1.15"/>
<rect x="229.2" y="53.3" width="1.15" height="1.15"/>
<rect x="236.9" y="53.0" width="1.15" height="1.15"/>
<rect x="230.9" y="54.7" width="1.15" height="1.15"/>
<rect x="233.3" y="57.2" width="1.15" height="1.15"/>
<rect x="252.2" y="41.2" width="1.15" height="1.15"/>
<rect x="221.5" y="73.1" width="1.15" height="1.15"/>
<rect x="222.5" y="64.6" width="1.15" height="1.15"/>
<rect x="231.8" y="70.6" width="1.15" height="1.15"/>
<rect x="230.5" y="60.4" width="1.15" height="1.15"/>
<rect x="239.4" y="72.4" width="1.15" height="1.15"/>
<rect x="229.3" y="78.4" width="1.15" height="1.15"/>
<rect x="229.7" y="55.9" width="1.15" height="1.15"/>
<rect x="235.6" y="76.7" width="1.15" height="1.15"/>
<rect x="237.9" y="44.5" width="1.15" height="1.15"/>
<rect x="243.5" y="70.1" width="1.15" height="1.15"/>
<rect x="247.2" y="59.4" width="1.15" height="1.15"/>
<rect x="225.5" y="69.4" width="1.15" height="1.15"/>
<rect x="238.8" y="50.7" width="1.15" height="1.15"/>
<rect x="234.8" y="61.1" width="1.15" height="1.15"/>
<rect x="227.3" y="66.1" width="1.15" height="1.15"/>
<rect x="231.4" y="69.7" width="1.15" height="1.15"/>
<rect x="222.9" y="71.1" width="1.15" height="1.15"/>
<rect x="240.4" y="71.5" width="1.15" height="1.15"/>
<rect x="244.2" y="71.6" width="1.15" height="1.15"/>
<rect x="233.2" y="75.3" width="1.15" height="1.15"/>
<rect x="233.6" y="45.2" width="1.15" height="1.15"/>
<rect x="246.2" y="71.1" width="1.15" height="1.15"/>
<rect x="238.1" y="54.5" width="1.15" height="1.15"/>
<rect x="245.5" y="65.7" width="1.15" height="1.15"/>
<rect x="236.4" y="45.6" width="1.15" height="1.15"/>
<rect x="247.4" y="63.3" width="1.15" height="1.15"/>
<rect x="234.2" y="55.9" width="1.15" height="1.15"/>
<rect x="241.1" y="63.9" width="1.15" height="1.15"/>
<rect x="246.7" y="62.7" width="1.15" height="1.15"/>
<rect x="242.0" y="63.2" width="1.15" height="1.15"/>
<rect x="224.2" y="75.1" width="1.15" height="1.15"/>
<rect x="231.0" y="55.2" width="1.15" height="1.15"/>
<rect x="244.0" y="40.4" width="1.15" height="1.15"/>
<rect x="224.8" y="78.6" width="1.15" height="1.15"/>
<rect x="229.9" y="59.4" width="1.15" height="1.15"/>
<rect x="239.3" y="77.8" width="1.15" height="1.15"/>
<rect x="235.6" y="49.3" width="1.15" height="1.15"/>
<rect x="236.5" y="63.6" width="1.15" height="1.15"/>
<rect x="225.0" y="73.3" width="1.15" height="1.15"/>
<rect x="222.6" y="56.5" width="1.15" height="1.15"/>
<rect x="232.2" y="63.4" width="1.15" height="1.15"/>
<rect x="239.6" y="64.8" width="1.15" height="1.15"/>
<rect x="236.8" y="64.4" width="1.15" height="1.15"/>
<rect x="238.6" y="63.4" width="1.15" height="1.15"/>
<rect x="240.2" y="54.3" width="1.15" height="1.15"/>
<rect x="223.4" y="74.6" width="1.15" height="1.15"/>
<rect x="245.0" y="55.9" width="1.15" height="1.15"/>
<rect x="234.5" y="49.1" width="1.15" height="1.15"/>
<rect x="228.2" y="55.8" width="1.15" height="1.15"/>
<rect x="250.1" y="44.5" width="1.15" height="1.15"/>
<rect x="248.6" y="43.3" width="1.15" height="1.15"/>
<rect x="228.9" y="49.8" width="1.15" height="1.15"/>
<rect x="238.1" y="45.0" width="1.15" height="1.15"/>
<rect x="233.5" y="58.9" width="1.15" height="1.15"/>
<rect x="247.0" y="43.6" width="1.15" height="1.15"/>
<rect x="232.3" y="66.0" width="1.15" height="1.15"/>
<rect x="224.3" y="76.9" width="1.15" height="1.15"/>
<rect x="242.4" y="56.9" width="1.15" height="1.15"/>
<rect x="231.6" y="47.6" width="1.15" height="1.15"/>
<rect x="224.4" y="63.8" width="1.15" height="1.15"/>
<rect x="228.6" y="56.5" width="1.15" height="1.15"/>
<rect x="223.8" y="66.5" width="1.15" height="1.15"/>
<rect x="228.0" y="63.7" width="1.15" height="1.15"/>
<rect x="241.7" y="55.3" width="1.15" height="1.15"/>
<rect x="228.9" y="47.2" width="1.15" height="1.15"/>
<rect x="226.5" y="56.2" width="1.15" height="1.15"/>
<rect x="230.9" y="64.0" width="1.15" height="1.15"/>
<rect x="251.0" y="41.1" width="1.15" height="1.15"/>
<rect x="238.2" y="63.5" width="1.15" height="1.15"/>
<rect x="238.8" y="64.8" width="1.15" height="1.15"/>
<rect x="232.2" y="69.6" width="1.15" height="1.15"/>
<rect x="243.2" y="57.1" width="1.15" height="1.15"/>
<rect x="235.9" y="60.4" width="1.15" height="1.15"/>
<rect x="240.6" y="71.5" width="1.15" height="1.15"/>
<rect x="246.5" y="43.1" width="1.15" height="1.15"/>
<rect x="229.9" y="69.3" width="1.15" height="1.15"/>
<rect x="222.8" y="65.3" width="1.15" height="1.15"/>
<rect x="238.4" y="70.5" width="1.15" height="1.15"/>
<rect x="239.9" y="50.0" width="1.15" height="1.15"/>
<rect x="230.7" y="68.0" width="1.15" height="1.15"/>
<rect x="239.7" y="69.9" width="1.15" height="1.15"/>
<rect x="237.2" y="68.5" width="1.15" height="1.15"/>
<rect x="251.5" y="43.5" width="1.15" height="1.15"/>
<rect x="243.9" y="48.3" width="1.15" height="1.15"/>
<rect x="233.7" y="59.5" width="1.15" height="1.15"/>
<rect x="250.7" y="41.6" width="1.15" height="1.15"/>
<rect x="236.1" y="64.8" width="1.15" height="1.15"/>
<rect x="237.0" y="44.0" width="1.15" height="1.15"/>
<rect x="223.8" y="69.0" width="1.15" height="1.15"/>
<rect x="232.2" y="45.2" width="1.15" height="1.15"/>
<rect x="247.0" y="44.6" width="1.15" height="1.15"/>
<rect x="247.6" y="55.2" width="1.15" height="1.15"/>
<rect x="234.3" y="54.7" width="1.15" height="1.15"/>
<rect x="232.2" y="60.3" width="1.15" height="1.15"/>
<rect x="234.1" y="67.3" width="1.15" height="1.15"/>
<rect x="229.0" y="47.8" width="1.15" height="1.15"/>
<rect x="235.4" y="69.3" width="1.15" height="1.15"/>
<rect x="240.3" y="63.4" width="1.15" height="1.15"/>
<rect x="240.6" y="73.6" width="1.15" height="1.15"/>
<rect x="240.9" y="50.6" width="1.15" height="1.15"/>
<rect x="240.4" y="51.8" width="1.15" height="1.15"/>
<rect x="250.4" y="44.4" width="1.15" height="1.15"/>
<rect x="235.5" y="65.7" width="1.15" height="1.15"/>
<rect x="241.8" y="41.5" width="1.15" height="1.15"/>
<rect x="242.9" y="63.1" width="1.15" height="1.15"/>
<rect x="224.5" y="77.6" width="1.15" height="1.15"/>
<rect x="242.0" y="41.8" width="1.15" height="1.15"/>
<rect x="246.2" y="43.6" width="1.15" height="1.15"/>
<rect x="221.7" y="65.8" width="1.15" height="1.15"/>
<rect x="233.8" y="67.0" width="1.15" height="1.15"/>
<rect x="244.9" y="53.1" width="1.15" height="1.15"/>
<rect x="230.4" y="69.2" width="1.15" height="1.15"/>
<rect x="230.3" y="65.5" width="1.15" height="1.15"/>
<rect x="242.4" y="76.4" width="1.15" height="1.15"/>
<rect x="228.2" y="55.9" width="1.15" height="1.15"/>
<rect x="250.5" y="43.5" width="1.15" height="1.15"/>
<rect x="236.9" y="44.3" width="1.15" height="1.15"/>
<rect x="236.2" y="57.4" width="1.15" height="1.15"/>
<rect x="231.6" y="66.6" width="1.15" height="1.15"/>
<rect x="246.0" y="51.8" width="1.15" height="1.15"/>
<rect x="228.7" y="67.5" width="1.15" height="1.15"/>
<rect x="240.0" y="43.1" width="1.15" height="1.15"/>
<rect x="240.5" y="51.3" width="1.15" height="1.15"/>
<rect x="239.8" y="77.7" width="1.15" height="1.15"/>
<rect x="245.1" y="69.1" width="1.15" height="1.15"/>
<rect x="249.5" y="45.5" width="1.15" height="1.15"/>
<rect x="243.4" y="56.2" width="1.15" height="1.15"/>
<rect x="245.6" y="67.8" width="1.15" height="1.15"/>
<rect x="222.2" y="71.1" width="1.15" height="1.15"/>
<rect x="233.5" y="77.2" width="1.15" height="1.15"/>
<rect x="222.1" y="68.8" width="1.15" height="1.15"/>
<rect x="246.3" y="60.7" width="1.15" height="1.15"/>
<rect x="242.6" y="50.4" width="1.15" height="1.15"/>
<rect x="226.9" y="49.8" width="1.15" height="1.15"/>
<rect x="233.6" y="59.2" width="1.15" height="1.15"/>
<rect x="240.9" y="60.1" width="1.15" height="1.15"/>
<rect x="230.1" y="71.4" width="1.15" height="1.15"/>
<rect x="236.5" y="48.3" width="1.15" height="1.15"/>
<rect x="226.1" y="65.7" width="1.15" height="1.15"/>
<rect x="241.8" y="65.3" width="1.15" height="1.15"/>
<rect x="221.8" y="65.9" width="1.15" height="1.15"/>
<rect x="249.7" y="46.2" width="1.15" height="1.15"/>
<rect x="243.8" y="50.3" width="1.15" height="1.15"/>
<rect x="233.6" y="59.6" width="1.15" height="1.15"/>
<rect x="231.6" y="68.9" width="1.15" height="1.15"/>
<rect x="245.6" y="73.3" width="1.15" height="1.15"/>
<rect x="228.8" y="72.9" width="1.15" height="1.15"/>
<rect x="249.9" y="40.1" width="1.15" height="1.15"/>
<rect x="222.9" y="65.4" width="1.15" height="1.15"/>
<rect x="230.0" y="54.9" width="1.15" height="1.15"/>
<rect x="238.4" y="73.6" width="1.15" height="1.15"/>
<rect x="225.3" y="59.4" width="1.15" height="1.15"/>
<rect x="232.5" y="66.9" width="1.15" height="1.15"/>
<rect x="239.4" y="69.8" width="1.15" height="1.15"/>
<rect x="234.5" y="47.1" width="1.15" height="1.15"/>
<rect x="233.6" y="47.1" width="1.15" height="1.15"/>
<rect x="240.0" y="71.3" width="1.15" height="1.15"/>
<rect x="225.4" y="65.6" width="1.15" height="1.15"/>
<rect x="223.2" y="72.2" width="1.15" height="1.15"/>
<rect x="244.3" y="62.4" width="1.15" height="1.15"/>
<rect x="242.6" y="51.6" width="1.15" height="1.15"/>
<rect x="230.8" y="59.3" width="1.15" height="1.15"/>
<rect x="224.5" y="64.1" width="1.15" height="1.15"/>
<rect x="241.0" y="66.1" width="1.15" height="1.15"/>
<rect x="234.3" y="65.0" width="1.15" height="1.15"/>
<rect x="224.0" y="69.7" width="1.15" height="1.15"/>
<rect x="249.6" y="45.7" width="1.15" height="1.15"/>
<rect x="247.0" y="63.2" width="1.15" height="1.15"/>
<rect x="246.4" y="67.3" width="1.15" height="1.15"/>
<rect x="237.2" y="63.5" width="1.15" height="1.15"/>
<rect x="242.5" y="72.0" width="1.15" height="1.15"/>
<rect x="233.9" y="55.8" width="1.15" height="1.15"/>
<rect x="235.5" y="61.6" width="1.15" height="1.15"/>
<rect x="247.5" y="46.4" width="1.15" height="1.15"/>
<rect x="228.4" y="60.1" width="1.15" height="1.15"/>
<rect x="224.4" y="54.0" width="1.15" height="1.15"/>
<rect x="246.5" y="58.7" width="1.15" height="1.15"/>
<rect x="243.9" y="42.1" width="1.15" height="1.15"/>
<rect x="235.2" y="45.1" width="1.15" height="1.15"/>
<rect x="243.3" y="42.1" width="1.15" height="1.15"/>
<rect x="238.8" y="63.0" width="1.15" height="1.15"/>
<rect x="235.7" y="74.5" width="1.15" height="1.15"/>
<rect x="234.5" y="48.4" width="1.15" height="1.15"/>
<rect x="234.4" y="53.8" width="1.15" height="1.15"/>
<rect x="244.4" y="62.1" width="1.15" height="1.15"/>
<rect x="249.5" y="44.9" width="1.15" height="1.15"/>
<rect x="230.1" y="75.2" width="1.15" height="1.15"/>
<rect x="229.3" y="70.4" width="1.15" height="1.15"/>
<rect x="249.7" y="45.9" width="1.15" height="1.15"/>
<rect x="246.7" y="68.1" width="1.15" height="1.15"/>
<rect x="243.7" y="44.6" width="1.15" height="1.15"/>
<rect x="239.1" y="64.5" width="1.15" height="1.15"/>
<rect x="225.6" y="51.2" width="1.15" height="1.15"/>
<rect x="223.3" y="53.0" width="1.15" height="1.15"/>
<rect x="226.0" y="69.0" width="1.15" height="1.15"/>
<rect x="234.4" y="59.7" width="1.15" height="1.15"/>
<rect x="231.7" y="60.2" width="1.15" height="1.15"/>
<rect x="233.6" y="66.0" width="1.15" height="1.15"/>
<rect x="250.9" y="46.6" width="1.15" height="1.15"/>
<rect x="232.5" y="50.1" width="1.15" height="1.15"/>
<rect x="225.1" y="51.0" width="1.15" height="1.15"/>
<rect x="240.4" y="66.3" width="1.15" height="1.15"/>
<rect x="240.8" y="63.6" width="1.15" height="1.15"/>
<rect x="231.7" y="54.9" width="1.15" height="1.15"/>
<rect x="227.2" y="56.2" width="1.15" height="1.15"/>
<rect x="227.4" y="67.4" width="1.15" height="1.15"/>
<rect x="239.6" y="77.7" width="1.15" height="1.15"/>
<rect x="241.8" y="75.3" width="1.15" height="1.15"/>
<rect x="224.8" y="60.0" width="1.15" height="1.15"/>
<rect x="247.3" y="55.0" width="1.15" height="1.15"/>
<rect x="239.5" y="63.0" width="1.15" height="1.15"/>
<rect x="236.7" y="49.4" width="1.15" height="1.15"/>
<rect x="227.5" y="77.4" width="1.15" height="1.15"/>
<rect x="239.2" y="51.7" width="1.15" height="1.15"/>
<rect x="234.7" y="76.2" width="1.15" height="1.15"/>
<rect x="234.8" y="53.3" width="1.15" height="1.15"/>
<rect x="231.4" y="62.6" width="1.15" height="1.15"/>
<rect x="234.8" y="62.7" width="1.15" height="1.15"/>
<rect x="249.6" y="46.9" width="1.15" height="1.15"/>
<rect x="228.7" y="54.1" width="1.15" height="1.15"/>
<rect x="249.5" y="49.1" width="1.15" height="1.15"/>
<rect x="230.5" y="67.4" width="1.15" height="1.15"/>
<rect x="227.9" y="76.3" width="1.15" height="1.15"/>
<rect x="239.3" y="55.3" width="1.15" height="1.15"/>
<rect x="244.2" y="78.3" width="1.15" height="1.15"/>
<rect x="240.5" y="75.9" width="1.15" height="1.15"/>
<rect x="247.2" y="58.0" width="1.15" height="1.15"/>
<rect x="243.2" y="72.8" width="1.15" height="1.15"/>
<rect x="222.3" y="63.0" width="1.15" height="1.15"/>
<rect x="247.6" y="50.7" width="1.15" height="1.15"/>
<rect x="237.5" y="60.6" width="1.15" height="1.15"/>
<rect x="223.6" y="56.3" width="1.15" height="1.15"/>
<rect x="246.5" y="54.0" width="1.15" height="1.15"/>
<rect x="243.2" y="67.5" width="1.15" height="1.15"/>
<rect x="241.6" y="53.3" width="1.15" height="1.15"/>
<rect x="229.4" y="55.6" width="1.15" height="1.15"/>
<rect x="240.5" y="46.9" width="1.15" height="1.15"/>
<rect x="234.1" y="55.5" width="1.15" height="1.15"/>
<rect x="226.0" y="52.2" width="1.15" height="1.15"/>
<rect x="233.1" y="56.2" width="1.15" height="1.15"/>
<rect x="231.2" y="77.0" width="1.15" height="1.15"/>
<rect x="241.5" y="68.0" width="1.15" height="1.15"/>
<rect x="240.3" y="60.9" width="1.15" height="1.15"/>
<rect x="247.7" y="60.0" width="1.15" height="1.15"/>
<rect x="230.3" y="55.0" width="1.15" height="1.15"/>
<rect x="240.2" y="52.9" width="1.15" height="1.15"/>
<rect x="223.2" y="66.0" width="1.15" height="1.15"/>
<rect x="232.9" y="72.5" width="1.15" height="1.15"/>
<rect x="232.9" y="74.9" width="1.15" height="1.15"/>
<rect x="229.9" y="67.9" width="1.15" height="1.15"/>
<rect x="241.8" y="64.9" width="1.15" height="1.15"/>
<rect x="234.8" y="63.7" width="1.15" height="1.15"/>
<rect x="230.1" y="61.6" width="1.15" height="1.15"/>
<rect x="247.7" y="61.1" width="1.15" height="1.15"/>
<rect x="232.3" y="54.9" width="1.15" height="1.15"/>
<rect x="238.1" y="74.0" width="1.15" height="1.15"/>
<rect x="247.4" y="47.2" width="1.15" height="1.15"/>
<rect x="245.9" y="47.7" width="1.15" height="1.15"/>
<rect x="223.3" y="53.7" width="1.15" height="1.15"/>
<rect x="246.5" y="70.0" width="1.15" height="1.15"/>
<rect x="249.9" y="42.6" width="1.15" height="1.15"/>
<rect x="222.1" y="72.4" width="1.15" height="1.15"/>
<rect x="246.2" y="57.9" width="1.15" height="1.15"/>
<rect x="223.8" y="62.6" width="1.15" height="1.15"/>
<rect x="236.1" y="49.5" width="1.15" height="1.15"/>
<rect x="230.4" y="53.2" width="1.15" height="1.15"/>
<rect x="246.3" y="78.5" width="1.15" height="1.15"/>
<rect x="232.6" y="63.7" width="1.15" height="1.15"/>
<rect x="235.4" y="76.2" width="1.15" height="1.15"/>
<rect x="237.4" y="52.0" width="1.15" height="1.15"/>
<rect x="242.8" y="62.1" width="1.15" height="1.15"/>
<rect x="233.0" y="75.2" width="1.15" height="1.15"/>
<rect x="249.9" y="40.9" width="1.15" height="1.15"/>
<rect x="245.6" y="74.2" width="1.15" height="1.15"/>
<rect x="247.4" y="70.1" width="1.15" height="1.15"/>
<rect x="240.9" y="51.6" width="1.15" height="1.15"/>
<rect x="224.8" y="50.5" width="1.15" height="1.15"/>
<rect x="242.5" y="72.4" width="1.15" height="1.15"/>
<rect x="238.2" y="66.1" width="1.15" height="1.15"/>
<rect x="226.7" y="75.3" width="1.15" height="1.15"/>
<rect x="235.6" y="63.0" width="1.15" height="1.15"/>
<rect x="222.8" y="59.8" width="1.15" height="1.15"/>
<rect x="224.6" y="73.1" width="1.15" height="1.15"/>
<rect x="230.4" y="51.8" width="1.15" height="1.15"/>
<rect x="244.0" y="48.1" width="1.15" height="1.15"/>
<rect x="246.7" y="41.6" width="1.15" height="1.15"/>
<rect x="224.9" y="69.6" width="1.15" height="1.15"/>
<rect x="233.4" y="60.5" width="1.15" height="1.15"/>
<rect x="236.1" y="59.8" width="1.15" height="1.15"/>
<rect x="236.4" y="63.4" width="1.15" height="1.15"/>
<rect x="237.3" y="59.4" width="1.15" height="1.15"/>
<rect x="242.9" y="48.3" width="1.15" height="1.15"/>
<rect x="227.7" y="60.2" width="1.15" height="1.15"/>
<rect x="236.2" y="69.3" width="1.15" height="1.15"/>
<rect x="225.8" y="59.0" width="1.15" height="1.15"/>
<rect x="223.7" y="61.6" width="1.15" height="1.15"/>
<rect x="243.2" y="67.0" width="1.15" height="1.15"/>
<rect x="238.0" y="55.7" width="1.15" height="1.15"/>
<rect x="221.0" y="68.1" width="1.15" height="1.15"/>
<rect x="244.2" y="68.5" width="1.15" height="1.15"/>
<rect x="247.5" y="50.0" width="1.15" height="1.15"/>
<rect x="246.1" y="73.7" width="1.15" height="1.15"/>
<rect x="223.8" y="75.8" width="1.15" height="1.15"/>
<rect x="241.0" y="68.0" width="1.15" height="1.15"/>
<rect x="228.1" y="69.6" width="1.15" height="1.15"/>
<rect x="244.0" y="57.5" width="1.15" height="1.15"/>
<rect x="224.4" y="54.6" width="1.15" height="1.15"/>
<rect x="244.2" y="65.8" width="1.15" height="1.15"/>
<rect x="227.7" y="75.5" width="1.15" height="1.15"/>
<rect x="244.9" y="67.9" width="1.15" height="1.15"/>
<rect x="230.1" y="60.5" width="1.15" height="1.15"/>
<rect x="245.5" y="45.0" width="1.15" height="1.15"/>
<rect x="223.8" y="71.4" width="1.15" height="1.15"/>
<rect x="229.4" y="59.8" width="1.15" height="1.15"/>
<rect x="234.6" y="64.3" width="1.15" height="1.15"/>
<rect x="223.4" y="67.7" width="1.15" height="1.15"/>
<rect x="229.9" y="60.1" width="1.15" height="1.15"/>
<rect x="228.8" y="69.5" width="1.15" height="1.15"/>
<rect x="232.6" y="56.3" width="1.15" height="1.15"/>
<rect x="226.1" y="73.4" width="1.15" height="1.15"/>
<rect x="227.0" y="67.6" width="1.15" height="1.15"/>
<rect x="239.5" y="61.9" width="1.15" height="1.15"/>
<rect x="239.1" y="50.2" width="1.15" height="1.15"/>
<rect x="246.5" y="48.3" width="1.15" height="1.15"/>
<rect x="227.4" y="49.5" width="1.15" height="1.15"/>
<rect x="245.1" y="50.2" width="1.15" height="1.15"/>
<rect x="225.1" y="76.0" width="1.15" height="1.15"/>
<rect x="229.0" y="73.7" width="1.15" height="1.15"/>
<rect x="234.4" y="57.1" width="1.15" height="1.15"/>
<rect x="224.4" y="55.1" width="1.15" height="1.15"/>
<rect x="235.7" y="49.6" width="1.15" height="1.15"/>
<rect x="233.3" y="57.4" width="1.15" height="1.15"/>
<rect x="245.2" y="61.8" width="1.15" height="1.15"/>
<rect x="227.4" y="61.0" width="1.15" height="1.15"/>
<rect x="224.9" y="68.4" width="1.15" height="1.15"/>
<rect x="233.8" y="52.1" width="1.15" height="1.15"/>
<rect x="222.0" y="77.1" width="1.15" height="1.15"/>
<rect x="247.4" y="58.5" width="1.15" height="1.15"/>
<rect x="240.4" y="71.1" width="1.15" height="1.15"/>
<rect x="242.6" y="52.9" width="1.15" height="1.15"/>
<rect x="227.5" y="78.1" width="1.15" height="1.15"/>
<rect x="246.0" y="76.4" width="1.15" height="1.15"/>
<rect x="244.2" y="47.5" width="1.15" height="1.15"/>
<rect x="249.6" y="42.7" width="1.15" height="1.15"/>
<rect x="238.7" y="75.9" width="1.15" height="1.15"/>
<rect x="228.9" y="68.3" width="1.15" height="1.15"/>
<rect x="240.7" y="43.4" width="1.15" height="1.15"/>
<rect x="222.8" y="65.4" width="1.15" height="1.15"/>
<rect x="239.0" y="49.2" width="1.15" height="1.15"/>
<rect x="237.3" y="76.5" width="1.15" height="1.15"/>
<rect x="243.3" y="69.7" width="1.15" height="1.15"/>
<rect x="242.9" y="58.5" width="1.15" height="1.15"/>
<rect x="238.7" y="66.5" width="1.15" height="1.15"/>
<rect x="237.1" y="74.3" width="1.15" height="1.15"/>
<rect x="242.6" y="69.4" width="1.15" height="1.15"/>
<rect x="241.7" y="72.1" width="1.15" height="1.15"/>
<rect x="227.0" y="76.4" width="1.15" height="1.15"/>
<rect x="243.7" y="73.3" width="1.15" height="1.15"/>
<rect x="226.7" y="54.8" width="1.15" height="1.15"/>
<rect x="226.4" y="66.0" width="1.15" height="1.15"/>
<rect x="246.6" y="78.1" width="1.15" height="1.15"/>
<rect x="232.0" y="58.6" width="1.15" height="1.15"/>
<rect x="232.6" y="53.1" width="1.15" height="1.15"/>
<rect x="234.1" y="53.9" width="1.15" height="1.15"/>
<rect x="239.9" y="73.5" width="1.15" height="1.15"/>
<rect x="240.3" y="49.5" width="1.15" height="1.15"/>
<rect x="242.2" y="47.3" width="1.15" height="1.15"/>
<rect x="241.3" y="50.0" width="1.15" height="1.15"/>
<rect x="247.0" y="54.5" width="1.15" height="1.15"/>
<rect x="235.4" y="55.2" width="1.15" height="1.15"/>
<rect x="238.5" y="53.7" width="1.15" height="1.15"/>
<rect x="239.9" y="77.3" width="1.15" height="1.15"/>
<rect x="228.7" y="73.4" width="1.15" height="1.15"/>
<rect x="240.2" y="53.2" width="1.15" height="1.15"/>
<rect x="237.9" y="69.1" width="1.15" height="1.15"/>
<rect x="232.0" y="59.8" width="1.15" height="1.15"/>
<rect x="238.9" y="58.3" width="1.15" height="1.15"/>
<rect x="244.6" y="53.3" width="1.15" height="1.15"/>
<rect x="225.9" y="53.2" width="1.15" height="1.15"/>
<rect x="243.3" y="62.8" width="1.15" height="1.15"/>
<rect x="232.7" y="45.5" width="1.15" height="1.15"/>
<rect x="224.2" y="66.5" width="1.15" height="1.15"/>
<rect x="234.8" y="61.4" width="1.15" height="1.15"/>
<rect x="228.3" y="69.3" width="1.15" height="1.15"/>
<rect x="225.9" y="61.7" width="1.15" height="1.15"/>
<rect x="239.9" y="46.6" width="1.15" height="1.15"/>
<rect x="242.4" y="74.4" width="1.15" height="1.15"/>
<rect x="231.1" y="50.4" width="1.15" height="1.15"/>
<rect x="243.9" y="55.2" width="1.15" height="1.15"/>
<rect x="228.4" y="54.0" width="1.15" height="1.15"/>
<rect x="238.1" y="77.2" width="1.15" height="1.15"/>
<rect x="237.7" y="45.1" width="1.15" height="1.15"/>
<rect x="222.8" y="58.6" width="1.15" height="1.15"/>
<rect x="232.0" y="64.3" width="1.15" height="1.15"/>
<rect x="239.0" y="45.4" width="1.15" height="1.15"/>
<rect x="239.3" y="57.5" width="1.15" height="1.15"/>
<rect x="226.1" y="76.9" width="1.15" height="1.15"/>
<rect x="227.3" y="73.8" width="1.15" height="1.15"/>
<rect x="242.7" y="60.3" width="1.15" height="1.15"/>
<rect x="242.5" y="77.4" width="1.15" height="1.15"/>
<rect x="240.3" y="48.7" width="1.15" height="1.15"/>
<rect x="229.4" y="58.8" width="1.15" height="1.15"/>
<rect x="244.9" y="66.7" width="1.15" height="1.15"/>
<rect x="238.7" y="58.0" width="1.15" height="1.15"/>
<rect x="241.6" y="55.5" width="1.15" height="1.15"/>
<rect x="245.3" y="44.2" width="1.15" height="1.15"/>
<rect x="234.0" y="77.3" width="1.15" height="1.15"/>
<rect x="227.6" y="48.2" width="1.15" height="1.15"/>
<rect x="233.2" y="59.9" width="1.15" height="1.15"/>
<rect x="231.2" y="54.4" width="1.15" height="1.15"/>
<rect x="247.1" y="75.1" width="1.15" height="1.15"/>
<rect x="244.0" y="69.2" width="1.15" height="1.15"/>
<rect x="231.9" y="71.4" width="1.15" height="1.15"/>
<rect x="235.8" y="63.5" width="1.15" height="1.15"/>
<rect x="240.0" y="62.7" width="1.15" height="1.15"/>
<rect x="246.4" y="41.8" width="1.15" height="1.15"/>
<rect x="226.6" y="64.3" width="1.15" height="1.15"/>
<rect x="228.2" y="60.9" width="1.15" height="1.15"/>
<rect x="229.2" y="74.8" width="1.15" height="1.15"/>
<rect x="226.8" y="59.7" width="1.15" height="1.15"/>
<rect x="226.9" y="65.9" width="1.15" height="1.15"/>
<rect x="233.7" y="47.9" width="1.15" height="1.15"/>
<rect x="241.1" y="42.6" width="1.15" height="1.15"/>
<rect x="247.5" y="63.3" width="1.15" height="1.15"/>
<rect x="242.2" y="78.1" width="1.15" height="1.15"/>
<rect x="246.7" y="69.1" width="1.15" height="1.15"/>
<rect x="243.7" y="70.0" width="1.15" height="1.15"/>
<rect x="230.2" y="70.5" width="1.15" height="1.15"/>
<rect x="247.5" y="45.0" width="1.15" height="1.15"/>
<rect x="244.4" y="46.0" width="1.15" height="1.15"/>
<rect x="247.5" y="77.6" width="1.15" height="1.15"/>
<rect x="231.9" y="53.7" width="1.15" height="1.15"/>
<rect x="231.2" y="58.5" width="1.15" height="1.15"/>
<rect x="232.0" y="59.5" width="1.15" height="1.15"/>
<rect x="237.9" y="47.6" width="1.15" height="1.15"/>
<rect x="234.6" y="50.0" width="1.15" height="1.15"/>
<rect x="235.1" y="57.5" width="1.15" height="1.15"/>
<rect x="224.8" y="75.4" width="1.15" height="1.15"/>
<rect x="249.5" y="40.6" width="1.15" height="1.15"/>
<rect x="224.7" y="66.1" width="1.15" height="1.15"/>
<rect x="244.8" y="65.8" width="1.15" height="1.15"/>
<rect x="229.9" y="56.3" width="1.15" height="1.15"/>
<rect x="235.5" y="67.4" width="1.15" height="1.15"/>
<rect x="243.6" y="52.3" width="1.15" height="1.15"/>
<rect x="229.5" y="75.5" width="1.15" height="1.15"/>
<rect x="240.4" y="78.7" width="1.15" height="1.15"/>
<rect x="242.5" y="61.0" width="1.15" height="1.15"/>
<rect x="241.5" y="45.2" width="1.15" height="1.15"/>
<rect x="231.8" y="45.8" width="1.15" height="1.15"/>
<rect x="238.4" y="69.6" width="1.15" height="1.15"/>
<rect x="241.6" y="44.8" width="1.15" height="1.15"/>
<rect x="232.3" y="75.4" width="1.15" height="1.15"/>
<rect x="234.9" y="60.7" width="1.15" height="1.15"/>
<rect x="242.1" y="49.2" width="1.15" height="1.15"/>
<rect x="235.1" y="63.4" width="1.15" height="1.15"/>
<rect x="239.0" y="72.4" width="1.15" height="1.15"/>
<rect x="248.9" y="40.0" width="1.15" height="1.15"/>
<rect x="236.3" y="53.6" width="1.15" height="1.15"/>
<rect x="239.0" y="62.9" width="1.15" height="1.15"/>
<rect x="231.1" y="47.4" width="1.15" height="1.15"/>
<rect x="222.7" y="67.0" width="1.15" height="1.15"/>
<rect x="231.9" y="72.1" width="1.15" height="1.15"/>
<rect x="228.8" y="74.3" width="1.15" height="1.15"/>
<rect x="230.3" y="53.4" width="1.15" height="1.15"/>
<rect x="228.4" y="59.1" width="1.15" height="1.15"/>
<rect x="235.5" y="55.7" width="1.15" height="1.15"/>
<rect x="231.9" y="49.1" width="1.15" height="1.15"/>
<rect x="225.0" y="58.9" width="1.15" height="1.15"/>
<rect x="226.5" y="71.2" width="1.15" height="1.15"/>
<rect x="244.7" y="67.6" width="1.15" height="1.15"/>
<rect x="223.2" y="59.4" width="1.15" height="1.15"/>
<rect x="244.5" y="49.3" width="1.15" height="1.15"/>
<rect x="239.0" y="59.5" width="1.15" height="1.15"/>
<rect x="235.6" y="55.9" width="1.15" height="1.15"/>
<rect x="230.7" y="68.7" width="1.15" height="1.15"/>
<rect x="243.8" y="74.4" width="1.15" height="1.15"/>
<rect x="226.6" y="78.6" width="1.15" height="1.15"/>
<rect x="239.6" y="48.7" width="1.15" height="1.15"/>
<rect x="249.5" y="40.8" width="1.15" height="1.15"/>
<rect x="229.0" y="50.7" width="1.15" height="1.15"/>
<rect x="224.5" y="61.1" width="1.15" height="1.15"/>
<rect x="249.4" y="46.6" width="1.15" height="1.15"/>
<rect x="226.6" y="74.5" width="1.15" height="1.15"/>
<rect x="221.9" y="75.6" width="1.15" height="1.15"/>
<rect x="224.1" y="70.7" width="1.15" height="1.15"/>
<rect x="246.2" y="44.8" width="1.15" height="1.15"/>
<rect x="238.0" y="74.9" width="1.15" height="1.15"/>
<rect x="231.1" y="60.3" width="1.15" height="1.15"/>
<rect x="242.1" y="51.5" width="1.15" height="1.15"/>
<rect x="229.3" y="50.1" width="1.15" height="1.15"/>
<rect x="227.1" y="66.0" width="1.15" height="1.15"/>
<rect x="226.6" y="56.1" width="1.15" height="1.15"/>
<rect x="249.7" y="44.6" width="1.15" height="1.15"/>
<rect x="233.8" y="50.2" width="1.15" height="1.15"/>
<rect x="232.2" y="61.2" width="1.15" height="1.15"/>
<rect x="247.3" y="54.7" width="1.15" height="1.15"/>
<rect x="227.8" y="59.0" width="1.15" height="1.15"/>
<rect x="227.2" y="65.3" width="1.15" height="1.15"/>
<rect x="250.4" y="41.8" width="1.15" height="1.15"/>
<rect x="239.7" y="44.6" width="1.15" height="1.15"/>
<rect x="239.7" y="63.3" width="1.15" height="1.15"/>
<rect x="225.8" y="77.5" width="1.15" height="1.15"/>
<rect x="243.2" y="42.1" width="1.15" height="1.15"/>
<rect x="247.5" y="63.0" width="1.15" height="1.15"/>
<rect x="247.4" y="49.7" width="1.15" height="1.15"/>
<rect x="241.5" y="53.8" width="1.15" height="1.15"/>
<rect x="241.5" y="42.3" width="1.15" height="1.15"/>
<rect x="243.5" y="77.9" width="1.15" height="1.15"/>
<rect x="236.7" y="56.5" width="1.15" height="1.15"/>
<rect x="245.2" y="52.4" width="1.15" height="1.15"/>
<rect x="231.4" y="59.8" width="1.15" height="1.15"/>
<rect x="231.6" y="53.5" width="1.15" height="1.15"/>
<rect x="240.0" y="57.9" width="1.15" height="1.15"/>
<rect x="234.2" y="72.0" width="1.15" height="1.15"/>
<rect x="228.2" y="55.9" width="1.15" height="1.15"/>
<rect x="241.7" y="55.5" width="1.15" height="1.15"/>
<rect x="227.8" y="56.0" width="1.15" height="1.15"/>
<rect x="223.2" y="61.5" width="1.15" height="1.15"/>
<rect x="222.7" y="59.1" width="1.15" height="1.15"/>
<rect x="236.7" y="61.3" width="1.15" height="1.15"/>
<rect x="233.5" y="51.8" width="1.15" height="1.15"/>
<rect x="246.1" y="63.8" width="1.15" height="1.15"/>
<rect x="230.5" y="52.7" width="1.15" height="1.15"/>
<rect x="243.5" y="76.6" width="1.15" height="1.15"/>
<rect x="223.1" y="77.1" width="1.15" height="1.15"/>
<rect x="229.3" y="55.2" width="1.15" height="1.15"/>
<rect x="242.7" y="78.1" width="1.15" height="1.15"/>
<rect x="223.9" y="66.6" width="1.15" height="1.15"/>
<rect x="232.1" y="61.3" width="1.15" height="1.15"/>
<rect x="243.3" y="75.7" width="1.15" height="1.15"/>
<rect x="242.2" y="47.1" width="1.15" height="1.15"/>
<rect x="233.3" y="71.7" width="1.15" height="1.15"/>
<rect x="238.8" y="51.8" width="1.15" height="1.15"/>
<rect x="241.3" y="50.3" width="1.15" height="1.15"/>
<rect x="232.8" y="47.8" width="1.15" height="1.15"/>
<rect x="237.0" y="52.5" width="1.15" height="1.15"/>
<rect x="231.2" y="70.9" width="1.15" height="1.15"/>
<rect x="242.1" y="66.6" width="1.15" height="1.15"/>
<rect x="232.8" y="53.7" width="1.15" height="1.15"/>
<rect x="229.0" y="48.3" width="1.15" height="1.15"/>
<rect x="248.4" y="42.9" width="1.15" height="1.15"/>
<rect x="246.1" y="61.0" width="1.15" height="1.15"/>
<rect x="232.7" y="75.7" width="1.15" height="1.15"/>
<rect x="231.7" y="51.7" width="1.15" height="1.15"/>
<rect x="248.6" y="41.9" width="1.15" height="1.15"/>
<rect x="227.6" y="70.6" width="1.15" height="1.15"/>
<rect x="233.6" y="50.3" width="1.15" height="1.15"/>
<rect x="242.2" y="60.7" width="1.15" height="1.15"/>
<rect x="227.3" y="61.9" width="1.15" height="1.15"/>
<rect x="228.5" y="77.4" width="1.15" height="1.15"/>
<rect x="237.1" y="73.3" width="1.15" height="1.15"/>
<rect x="245.0" y="59.9" width="1.15" height="1.15"/>
<rect x="239.8" y="51.8" width="1.15" height="1.15"/>
<rect x="250.8" y="44.9" width="1.15" height="1.15"/>
<rect x="239.5" y="61.9" width="1.15" height="1.15"/>
<rect x="239.9" y="71.1" width="1.15" height="1.15"/>
<rect x="235.1" y="71.8" width="1.15" height="1.15"/>
<rect x="225.5" y="75.2" width="1.15" height="1.15"/>
<rect x="244.5" y="77.0" width="1.15" height="1.15"/>
<rect x="222.2" y="75.9" width="1.15" height="1.15"/>
<rect x="223.5" y="57.6" width="1.15" height="1.15"/>
<rect x="242.9" y="62.9" width="1.15" height="1.15"/>
<rect x="227.4" y="74.2" width="1.15" height="1.15"/>
<rect x="240.0" y="78.0" width="1.15" height="1.15"/>
<rect x="244.3" y="63.8" width="1.15" height="1.15"/>
<rect x="238.5" y="56.6" width="1.15" height="1.15"/>
<rect x="239.6" y="77.4" width="1.15" height="1.15"/>
<rect x="233.5" y="50.7" width="1.15" height="1.15"/>
<rect x="241.8" y="68.0" width="1.15" height="1.15"/>
<rect x="246.7" y="62.9" width="1.15" height="1.15"/>
<rect x="224.7" y="56.9" width="1.15" height="1.15"/>
<rect x="225.1" y="68.9" width="1.15" height="1.15"/>
<rect x="229.7" y="67.0" width="1.15" height="1.15"/>
<rect x="225.4" y="70.6" width="1.15" height="1.15"/>
<rect x="229.2" y="47.7" width="1.15" height="1.15"/>
<rect x="225.9" y="70.9" width="1.15" height="1.15"/>
<rect x="242.9" y="63.1" width="1.15" height="1.15"/>
<rect x="237.5" y="48.6" width="1.15" height="1.15"/>
<rect x="229.0" y="64.4" width="1.15" height="1.15"/>
<rect x="244.5" y="58.4" width="1.15" height="1.15"/>
<rect x="229.8" y="75.0" width="1.15" height="1.15"/>
<rect x="231.3" y="51.1" width="1.15" height="1.15"/>
<rect x="225.4" y="58.3" width="1.15" height="1.15"/>
<rect x="228.5" y="59.5" width="1.15" height="1.15"/>
<rect x="233.2" y="63.4" width="1.15" height="1.15"/>
<rect x="250.3" y="48.8" width="1.15" height="1.15"/>
<rect x="230.1" y="59.1" width="1.15" height="1.15"/>
<rect x="243.3" y="71.7" width="1.15" height="1.15"/>
<rect x="238.3" y="72.3" width="1.15" height="1.15"/>
<rect x="231.0" y="54.4" width="1.15" height="1.15"/>
<rect x="239.2" y="71.8" width="1.15" height="1.15"/>
<rect x="235.9" y="70.0" width="1.15" height="1.15"/>
<rect x="230.3" y="57.4" width="1.15" height="1.15"/>
<rect x="248.4" y="42.0" width="1.15" height="1.15"/>
<rect x="236.1" y="61.1" width="1.15" height="1.15"/>
<rect x="224.6" y="56.6" width="1.15" height="1.15"/>
<rect x="239.7" y="50.7" width="1.15" height="1.15"/>
<rect x="247.1" y="74.1" width="1.15" height="1.15"/>
<rect x="224.8" y="54.9" width="1.15" height="1.15"/>
<rect x="239.1" y="65.6" width="1.15" height="1.15"/>
<rect x="249.0" y="42.6" width="1.15" height="1.15"/>
<rect x="231.0" y="59.9" width="1.15" height="1.15"/>
<rect x="243.0" y="58.4" width="1.15" height="1.15"/>
<rect x="232.2" y="56.9" width="1.15" height="1.15"/>
<rect x="223.0" y="61.7" width="1.15" height="1.15"/>
<rect x="229.5" y="68.2" width="1.15" height="1.15"/>
<rect x="243.0" y="52.8" width="1.15" height="1.15"/>
<rect x="223.7" y="71.6" width="1.15" height="1.15"/>
<rect x="227.0" y="60.8" width="1.15" height="1.15"/>
<rect x="235.5" y="75.3" width="1.15" height="1.15"/>
<rect x="230.4" y="73.8" width="1.15" height="1.15"/>
<rect x="235.6" y="71.4" width="1.15" height="1.15"/>
<rect x="233.8" y="53.6" width="1.15" height="1.15"/>
<rect x="248.7" y="44.3" width="1.15" height="1.15"/>
<rect x="241.0" y="58.7" width="1.15" height="1.15"/>
<rect x="237.5" y="42.5" width="1.15" height="1.15"/>
<rect x="243.1" y="48.7" width="1.15" height="1.15"/>
<rect x="228.6" y="65.7" width="1.15" height="1.15"/>
<rect x="243.4" y="55.3" width="1.15" height="1.15"/>
<rect x="232.1" y="47.7" width="1.15" height="1.15"/>
<rect x="245.2" y="55.0" width="1.15" height="1.15"/>
<rect x="233.8" y="71.6" width="1.15" height="1.15"/>
<rect x="230.2" y="76.9" width="1.15" height="1.15"/>
<rect x="247.1" y="47.1" width="1.15" height="1.15"/>
<rect x="231.0" y="51.8" width="1.15" height="1.15"/>
<rect x="221.8" y="72.3" width="1.15" height="1.15"/>
<rect x="228.7" y="76.6" width="1.15" height="1.15"/>
<rect x="230.6" y="73.2" width="1.15" height="1.15"/>
<rect x="239.1" y="55.5" width="1.15" height="1.15"/>
<rect x="236.7" y="58.3" width="1.15" height="1.15"/>
<rect x="239.9" y="57.5" width="1.15" height="1.15"/>
<rect x="244.0" y="46.2" width="1.15" height="1.15"/>
<rect x="244.3" y="52.1" width="1.15" height="1.15"/>
<rect x="247.3" y="48.0" width="1.15" height="1.15"/>
<rect x="243.1" y="74.5" width="1.15" height="1.15"/>
<rect x="243.3" y="63.9" width="1.15" height="1.15"/>
<rect x="231.8" y="48.4" width="1.15" height="1.15"/>
<rect x="226.7" y="73.8" width="1.15" height="1.15"/>
<rect x="245.9" y="51.4" width="1.15" height="1.15"/>
<rect x="240.1" y="44.0" width="1.15" height="1.15"/>
<rect x="247.1" y="41.3" width="1.15" height="1.15"/>
<rect x="222.3" y="56.2" width="1.15" height="1.15"/>
<rect x="250.1" y="41.1" width="1.15" height="1.15"/>
<rect x="232.8" y="49.2" width="1.15" height="1.15"/>
<rect x="239.4" y="54.8" width="1.15" height="1.15"/>
<rect x="229.5" y="58.9" width="1.15" height="1.15"/>
<rect x="239.7" y="68.7" width="1.15" height="1.15"/>
<rect x="226.5" y="72.5" width="1.15" height="1.15"/>
<rect x="240.8" y="42.9" width="1.15" height="1.15"/>
<rect x="244.3" y="52.6" width="1.15" height="1.15"/>
<rect x="228.3" y="64.7" width="1.15" height="1.15"/>
<rect x="245.9" y="73.8" width="1.15" height="1.15"/>
<rect x="244.4" y="76.6" width="1.15" height="1.15"/>
<rect x="238.6" y="58.1" width="1.15" height="1.15"/>
<rect x="236.5" y="61.0" width="1.15" height="1.15"/>
<rect x="225.1" y="60.6" width="1.15" height="1.15"/>
<rect x="244.5" y="75.2" width="1.15" height="1.15"/>
<rect x="225.6" y="56.5" width="1.15" height="1.15"/>
<rect x="221.0" y="62.6" width="1.15" height="1.15"/>
<rect x="228.1" y="54.8" width="1.15" height="1.15"/>
<rect x="233.6" y="54.4" width="1.15" height="1.15"/>
<rect x="244.7" y="61.4" width="1.15" height="1.15"/>
<rect x="246.1" y="57.8" width="1.15" height="1.15"/>
<rect x="242.7" y="49.4" width="1.15" height="1.15"/>
<rect x="243.3" y="65.1" width="1.15" height="1.15"/>
<rect x="230.5" y="47.8" width="1.15" height="1.15"/>
<rect x="221.7" y="65.7" width="1.15" height="1.15"/>
<rect x="241.3" y="73.8" width="1.15" height="1.15"/>
<rect x="245.8" y="60.8" width="1.15" height="1.15"/>
<rect x="230.4" y="57.7" width="1.15" height="1.15"/>
<rect x="244.6" y="75.8" width="1.15" height="1.15"/>
<rect x="246.7" y="63.4" width="1.15" height="1.15"/>
<rect x="239.4" y="67.1" width="1.15" height="1.15"/>
<rect x="240.2" y="61.0" width="1.15" height="1.15"/>
<rect x="247.8" y="45.1" width="1.15" height="1.15"/>
<rect x="237.8" y="57.4" width="1.15" height="1.15"/>
<rect x="234.3" y="46.9" width="1.15" height="1.15"/>
<rect x="223.5" y="59.6" width="1.15" height="1.15"/>
<rect x="234.5" y="69.8" width="1.15" height="1.15"/>
<rect x="234.1" y="63.1" width="1.15" height="1.15"/>
<rect x="230.5" y="57.5" width="1.15" height="1.15"/>
<rect x="239.3" y="76.8" width="1.15" height="1.15"/>
<rect x="223.6" y="55.9" width="1.15" height="1.15"/>
<rect x="240.4" y="67.6" width="1.15" height="1.15"/>
<rect x="227.3" y="77.8" width="1.15" height="1.15"/>
<rect x="234.5" y="73.0" width="1.15" height="1.15"/>
<rect x="240.8" y="72.4" width="1.15" height="1.15"/>
<rect x="237.8" y="70.5" width="1.15" height="1.15"/>
<rect x="227.9" y="53.5" width="1.15" height="1.15"/>
<rect x="221.3" y="64.1" width="1.15" height="1.15"/>
<rect x="233.1" y="55.9" width="1.15" height="1.15"/>
<rect x="243.1" y="41.6" width="1.15" height="1.15"/>
<rect x="225.4" y="60.4" width="1.15" height="1.15"/>
<rect x="229.5" y="70.3" width="1.15" height="1.15"/>
<rect x="244.0" y="71.0" width="1.15" height="1.15"/>
<rect x="237.7" y="52.6" width="1.15" height="1.15"/>
<rect x="234.4" y="74.1" width="1.15" height="1.15"/>
<rect x="238.1" y="52.4" width="1.15" height="1.15"/>
<rect x="226.3" y="59.7" width="1.15" height="1.15"/>
<rect x="232.9" y="59.4" width="1.15" height="1.15"/>
<rect x="221.2" y="70.1" width="1.15" height="1.15"/>
<rect x="247.1" y="40.7" width="1.15" height="1.15"/>
<rect x="245.3" y="68.9" width="1.15" height="1.15"/>
<rect x="226.7" y="55.6" width="1.15" height="1.15"/>
<rect x="235.3" y="60.3" width="1.15" height="1.15"/>
<rect x="236.9" y="53.2" width="1.15" height="1.15"/>
<rect x="232.7" y="66.5" width="1.15" height="1.15"/>
<rect x="234.1" y="57.3" width="1.15" height="1.15"/>
<rect x="248.9" y="47.5" width="1.15" height="1.15"/>
<rect x="243.6" y="52.4" width="1.15" height="1.15"/>
<rect x="241.9" y="61.2" width="1.15" height="1.15"/>
<rect x="244.4" y="47.3" width="1.15" height="1.15"/>
<rect x="250.8" y="40.8" width="1.15" height="1.15"/>
<rect x="238.9" y="45.2" width="1.15" height="1.15"/>
<rect x="223.1" y="60.5" width="1.15" height="1.15"/>
<rect x="246.1" y="63.2" width="1.15" height="1.15"/>
<rect x="233.8" y="73.3" width="1.15" height="1.15"/>
<rect x="222.5" y="76.8" width="1.15" height="1.15"/>
<rect x="233.2" y="57.5" width="1.15" height="1.15"/>
<rect x="240.1" y="58.7" width="1.15" height="1.15"/>
<rect x="225.0" y="62.9" width="1.15" height="1.15"/>
<rect x="228.9" y="65.3" width="1.15" height="1.15"/>
<rect x="238.6" y="56.3" width="1.15" height="1.15"/>
<rect x="237.4" y="68.7" width="1.15" height="1.15"/>
<rect x="231.8" y="60.1" width="1.15" height="1.15"/>
<rect x="237.1" y="56.9" width="1.15" height="1.15"/>
<rect x="243.5" y="63.1" width="1.15" height="1.15"/>
<rect x="241.8" y="49.5" width="1.15" height="1.15"/>
<rect x="239.0" y="74.3" width="1.15" height="1.15"/>
<rect x="222.3" y="58.3" width="1.15" height="1.15"/>
<rect x="243.3" y="61.4" width="1.15" height="1.15"/>
<rect x="245.3" y="47.2" width="1.15" height="1.15"/>
<rect x="223.4" y="62.0" width="1.15" height="1.15"/>
<rect x="243.1" y="51.7" width="1.15" height="1.15"/>
<rect x="222.1" y="69.3" width="1.15" height="1.15"/>
<rect x="226.3" y="53.4" width="1.15" height="1.15"/>
<rect x="225.1" y="64.3" width="1.15" height="1.15"/>
<rect x="221.5" y="77.4" width="1.15" height="1.15"/>
<rect x="245.7" y="71.1" width="1.15" height="1.15"/>
<rect x="238.8" y="52.6" width="1.15" height="1.15"/>
<rect x="244.6" y="64.4" width="1.15" height="1.15"/>
<rect x="233.6" y="68.7" width="1.15" height="1.15"/>
<rect x="245.4" y="49.7" width="1.15" height="1.15"/>
<rect x="243.7" y="50.6" width="1.15" height="1.15"/>
<rect x="239.1" y="54.0" width="1.15" height="1.15"/>
<rect x="240.4" y="74.5" width="1.15" height="1.15"/>
<rect x="227.9" y="70.4" width="1.15" height="1.15"/>
<rect x="226.2" y="74.6" width="1.15" height="1.15"/>
<rect x="244.5" y="56.8" width="1.15" height="1.15"/>
<rect x="240.5" y="58.9" width="1.15" height="1.15"/>
<rect x="226.5" y="50.5" width="1.15" height="1.15"/>
<rect x="224.9" y="74.7" width="1.15" height="1.15"/>
<rect x="243.1" y="68.6" width="1.15" height="1.15"/>
<rect x="227.2" y="71.3" width="1.15" height="1.15"/>
<rect x="233.2" y="51.6" width="1.15" height="1.15"/>
<rect x="246.0" y="59.0" width="1.15" height="1.15"/>
<rect x="233.3" y="53.5" width="1.15" height="1.15"/>
<rect x="229.6" y="61.1" width="1.15" height="1.15"/>
<rect x="236.4" y="57.6" width="1.15" height="1.15"/>
<rect x="235.6" y="74.2" width="1.15" height="1.15"/>
<rect x="226.8" y="56.4" width="1.15" height="1.15"/>
<rect x="247.0" y="64.7" width="1.15" height="1.15"/>
<rect x="249.8" y="48.6" width="1.15" height="1.15"/>
<rect x="245.2" y="49.0" width="1.15" height="1.15"/>
<rect x="242.8" y="62.8" width="1.15" height="1.15"/>
<rect x="236.5" y="58.0" width="1.15" height="1.15"/>
<rect x="241.0" y="57.7" width="1.15" height="1.15"/>
<rect x="241.5" y="70.5" width="1.15" height="1.15"/>
<rect x="245.3" y="41.5" width="1.15" height="1.15"/>
<rect x="228.9" y="76.5" width="1.15" height="1.15"/>
<rect x="224.7" y="69.1" width="1.15" height="1.15"/>
<rect x="246.8" y="57.0" width="1.15" height="1.15"/>
<rect x="222.1" y="73.5" width="1.15" height="1.15"/>
<rect x="246.0" y="49.1" width="1.15" height="1.15"/>
<rect x="247.3" y="43.6" width="1.15" height="1.15"/>
<rect x="235.0" y="64.3" width="1.15" height="1.15"/>
<rect x="233.8" y="54.9" width="1.15" height="1.15"/>
<rect x="226.7" y="65.2" width="1.15" height="1.15"/>
<rect x="237.4" y="62.5" width="1.15" height="1.15"/>
<rect x="234.3" y="51.1" width="1.15" height="1.15"/>
<rect x="223.8" y="54.0" width="1.15" height="1.15"/>
<rect x="243.2" y="62.6" width="1.15" height="1.15"/>
<rect x="233.3" y="76.6" width="1.15" height="1.15"/>
<rect x="246.8" y="61.1" width="1.15" height="1.15"/>
<rect x="243.7" y="71.9" width="1.15" height="1.15"/>
<rect x="228.7" y="54.8" width="1.15" height="1.15"/>
<rect x="220.7" y="64.3" width="1.15" height="1.15"/>
<rect x="240.4" y="62.5" width="1.15" height="1.15"/>
<rect x="249.0" y="41.1" width="1.15" height="1.15"/>
<rect x="248.9" y="45.9" width="1.15" height="1.15"/>
<rect x="222.6" y="66.2" width="1.15" height="1.15"/>
<rect x="228.2" y="48.5" width="1.15" height="1.15"/>
<rect x="221.9" y="63.5" width="1.15" height="1.15"/>
<rect x="242.0" y="48.9" width="1.15" height="1.15"/>
<rect x="229.7" y="67.3" width="1.15" height="1.15"/>
<rect x="247.2" y="45.5" width="1.15" height="1.15"/>
<rect x="229.3" y="71.9" width="1.15" height="1.15"/>
<rect x="232.4" y="67.5" width="1.15" height="1.15"/>
<rect x="247.5" y="44.4" width="1.15" height="1.15"/>
<rect x="233.6" y="51.9" width="1.15" height="1.15"/>
<rect x="228.5" y="54.7" width="1.15" height="1.15"/>
<rect x="237.6" y="58.0" width="1.15" height="1.15"/>
<rect x="229.4" y="61.4" width="1.15" height="1.15"/>
<rect x="238.8" y="68.4" width="1.15" height="1.15"/>
<rect x="241.8" y="72.0" width="1.15" height="1.15"/>
<rect x="244.5" y="57.8" width="1.15" height="1.15"/>
<rect x="228.9" y="68.8" width="1.15" height="1.15"/>
<rect x="245.3" y="58.2" width="1.15" height="1.15"/>
<rect x="243.8" y="59.3" width="1.15" height="1.15"/>
<rect x="250.0" y="41.5" width="1.15" height="1.15"/>
<rect x="246.1" y="54.5" width="1.15" height="1.15"/>
<rect x="236.7" y="58.8" width="1.15" height="1.15"/>
<rect x="234.7" y="44.7" width="1.15" height="1.15"/>
<rect x="241.4" y="43.0" width="1.15" height="1.15"/>
<rect x="239.5" y="73.5" width="1.15" height="1.15"/>
<rect x="230.6" y="66.0" width="1.15" height="1.15"/>
<rect x="237.9" y="54.6" width="1.15" height="1.15"/>
<rect x="229.8" y="56.3" width="1.15" height="1.15"/>
<rect x="237.0" y="73.5" width="1.15" height="1.15"/>
<rect x="238.0" y="56.4" width="1.15" height="1.15"/>
<rect x="221.2" y="67.5" width="1.15" height="1.15"/>
<rect x="237.7" y="50.6" width="1.15" height="1.15"/>
<rect x="231.9" y="46.8" width="1.15" height="1.15"/>
<rect x="231.9" y="67.1" width="1.15" height="1.15"/>
<rect x="241.0" y="65.0" width="1.15" height="1.15"/>
<rect x="237.2" y="51.5" width="1.15" height="1.15"/>
<rect x="235.2" y="62.2" width="1.15" height="1.15"/>
<rect x="243.6" y="64.4" width="1.15" height="1.15"/>
<rect x="223.2" y="64.4" width="1.15" height="1.15"/>
<rect x="229.4" y="49.4" width="1.15" height="1.15"/>
<rect x="231.5" y="54.3" width="1.15" height="1.15"/>
<rect x="245.5" y="50.3" width="1.15" height="1.15"/>
<rect x="229.3" y="47.3" width="1.15" height="1.15"/>
<rect x="238.8" y="57.7" width="1.15" height="1.15"/>
<rect x="239.3" y="70.3" width="1.15" height="1.15"/>
<rect x="240.2" y="66.1" width="1.15" height="1.15"/>
<rect x="236.5" y="44.3" width="1.15" height="1.15"/>
<rect x="229.5" y="67.6" width="1.15" height="1.15"/>
<rect x="241.0" y="53.8" width="1.15" height="1.15"/>
<rect x="246.9" y="51.8" width="1.15" height="1.15"/>
<rect x="241.0" y="63.8" width="1.15" height="1.15"/>
<rect x="249.4" y="42.8" width="1.15" height="1.15"/>
<rect x="235.3" y="48.2" width="1.15" height="1.15"/>
<rect x="243.1" y="56.1" width="1.15" height="1.15"/>
<rect x="238.0" y="53.1" width="1.15" height="1.15"/>
<rect x="234.1" y="58.9" width="1.15" height="1.15"/>
<rect x="243.7" y="74.5" width="1.15" height="1.15"/>
<rect x="240.7" y="70.8" width="1.15" height="1.15"/>
<rect x="223.4" y="56.5" width="1.15" height="1.15"/>
<rect x="225.4" y="59.6" width="1.15" height="1.15"/>
<rect x="233.8" y="63.1" width="1.15" height="1.15"/>
<rect x="245.4" y="53.9" width="1.15" height="1.15"/>
<rect x="241.5" y="44.5" width="1.15" height="1.15"/>
<rect x="246.8" y="66.1" width="1.15" height="1.15"/>
<rect x="229.5" y="76.1" width="1.15" height="1.15"/>
<rect x="231.7" y="67.4" width="1.15" height="1.15"/>
<rect x="241.3" y="43.9" width="1.15" height="1.15"/>
<rect x="239.3" y="53.5" width="1.15" height="1.15"/>
<rect x="221.2" y="71.4" width="1.15" height="1.15"/>
<rect x="223.6" y="72.2" width="1.15" height="1.15"/>
<rect x="245.4" y="72.0" width="1.15" height="1.15"/>
<rect x="222.1" y="63.1" width="1.15" height="1.15"/>
<rect x="236.3" y="74.1" width="1.15" height="1.15"/>
<rect x="222.7" y="76.8" width="1.15" height="1.15"/>
<rect x="237.1" y="53.7" width="1.15" height="1.15"/>
<rect x="228.3" y="75.1" width="1.15" height="1.15"/>
<rect x="237.9" y="73.3" width="1.15" height="1.15"/>
<rect x="240.1" y="45.5" width="1.15" height="1.15"/>
<rect x="238.0" y="50.0" width="1.15" height="1.15"/>
<rect x="244.4" y="53.3" width="1.15" height="1.15"/>
<rect x="228.8" y="59.2" width="1.15" height="1.15"/>
<rect x="243.1" y="45.7" width="1.15" height="1.15"/>
<rect x="239.5" y="73.9" width="1.15" height="1.15"/>
<rect x="236.6" y="70.9" width="1.15" height="1.15"/>
<rect x="240.2" y="51.5" width="1.15" height="1.15"/>
<rect x="225.8" y="51.6" width="1.15" height="1.15"/>
<rect x="237.6" y="57.7" width="1.15" height="1.15"/>
<rect x="243.6" y="54.5" width="1.15" height="1.15"/>
<rect x="241.7" y="44.6" width="1.15" height="1.15"/>
<rect x="230.1" y="76.5" width="1.15" height="1.15"/>
<rect x="239.7" y="62.9" width="1.15" height="1.15"/>
<rect x="243.1" y="50.5" width="1.15" height="1.15"/>
<rect x="229.5" y="52.3" width="1.15" height="1.15"/>
<rect x="242.1" y="71.0" width="1.15" height="1.15"/>
<rect x="227.8" y="70.9" width="1.15" height="1.15"/>
<rect x="231.3" y="70.8" width="1.15" height="1.15"/>
<rect x="224.0" y="73.5" width="1.15" height="1.15"/>
<rect x="247.0" y="59.9" width="1.15" height="1.15"/>
<rect x="222.2" y="62.9" width="1.15" height="1.15"/>
<rect x="237.1" y="49.3" width="1.15" height="1.15"/>
<rect x="230.6" y="47.1" width="1.15" height="1.15"/>
<rect x="232.5" y="58.7" width="1.15" height="1.15"/>
<rect x="225.9" y="71.5" width="1.15" height="1.15"/>
<rect x="226.2" y="51.5" width="1.15" height="1.15"/>
<rect x="245.3" y="70.1" width="1.15" height="1.15"/>
<rect x="240.6" y="59.0" width="1.15" height="1.15"/>
<rect x="237.5" y="58.5" width="1.15" height="1.15"/>
<rect x="228.7" y="70.4" width="1.15" height="1.15"/>
<rect x="228.9" y="73.1" width="1.15" height="1.15"/>
<rect x="245.7" y="51.0" width="1.15" height="1.15"/>
<rect x="246.2" y="54.0" width="1.15" height="1.15"/>
<rect x="244.1" y="44.1" width="1.15" height="1.15"/>
<rect x="222.3" y="62.1" width="1.15" height="1.15"/>
<rect x="246.1" y="58.6" width="1.15" height="1.15"/>
<rect x="239.6" y="48.1" width="1.15" height="1.15"/>
<rect x="249.8" y="43.1" width="1.15" height="1.15"/>
<rect x="238.3" y="66.4" width="1.15" height="1.15"/>
<rect x="245.6" y="54.0" width="1.15" height="1.15"/>
<rect x="232.7" y="58.5" width="1.15" height="1.15"/>
<rect x="236.7" y="66.5" width="1.15" height="1.15"/>
<rect x="222.8" y="73.1" width="1.15" height="1.15"/>
<rect x="245.7" y="58.4" width="1.15" height="1.15"/>
<rect x="246.4" y="41.9" width="1.15" height="1.15"/>
<rect x="231.4" y="54.3" width="1.15" height="1.15"/>
<rect x="232.2" y="76.2" width="1.15" height="1.15"/>
<rect x="233.0" y="73.1" width="1.15" height="1.15"/>
<rect x="245.6" y="62.1" width="1.15" height="1.15"/>
<rect x="236.2" y="56.7" width="1.15" height="1.15"/>
<rect x="246.3" y="44.1" width="1.15" height="1.15"/>
<rect x="225.5" y="64.0" width="1.15" height="1.15"/>
<rect x="236.0" y="52.5" width="1.15" height="1.15"/>
<rect x="246.9" y="65.1" width="1.15" height="1.15"/>
<rect x="245.7" y="66.2" width="1.15" height="1.15"/>
<rect x="242.1" y="60.3" width="1.15" height="1.15"/>
<rect x="247.8" y="56.2" width="1.15" height="1.15"/>
<rect x="232.3" y="53.5" width="1.15" height="1.15"/>
<rect x="222.6" y="58.6" width="1.15" height="1.15"/>
<rect x="239.9" y="64.3" width="1.15" height="1.15"/>
<rect x="239.2" y="48.1" width="1.15" height="1.15"/>
<rect x="222.4" y="78.1" width="1.15" height="1.15"/>
<rect x="234.6" y="68.2" width="1.15" height="1.15"/>
<rect x="236.7" y="45.4" width="1.15" height="1.15"/>
<rect x="227.7" y="58.9" width="1.15" height="1.15"/>
<rect x="227.2" y="75.5" width="1.15" height="1.15"/>
<rect x="242.1" y="41.6" width="1.15" height="1.15"/>
<rect x="239.6" y="56.4" width="1.15" height="1.15"/>
<rect x="239.1" y="78.1" width="1.15" height="1.15"/>
<rect x="238.6" y="67.1" width="1.15" height="1.15"/>
<rect x="250.2" y="47.0" width="1.15" height="1.15"/>
<rect x="234.6" y="46.9" width="1.15" height="1.15"/>
<rect x="222.2" y="74.3" width="1.15" height="1.15"/>
<rect x="247.1" y="67.1" width="1.15" height="1.15"/>
<rect x="246.9" y="55.0" width="1.15" height="1.15"/>
<rect x="238.2" y="62.5" width="1.15" height="1.15"/>
<rect x="244.8" y="57.9" width="1.15" height="1.15"/>
<rect x="223.3" y="72.0" width="1.15" height="1.15"/>
<rect x="237.5" y="64.9" width="1.15" height="1.15"/>
<rect x="244.5" y="61.4" width="1.15" height="1.15"/>
<rect x="224.1" y="58.4" width="1.15" height="1.15"/>
<rect x="237.5" y="61.8" width="1.15" height="1.15"/>
<rect x="228.7" y="55.2" width="1.15" height="1.15"/>
<rect x="222.1" y="60.2" width="1.15" height="1.15"/>
<rect x="225.7" y="69.0" width="1.15" height="1.15"/>
<rect x="233.4" y="60.6" width="1.15" height="1.15"/>
<rect x="244.0" y="48.4" width="1.15" height="1.15"/>
<rect x="233.5" y="59.5" width="1.15" height="1.15"/>
<rect x="234.0" y="62.9" width="1.15" height="1.15"/>
<rect x="246.7" y="75.5" width="1.15" height="1.15"/>
<rect x="227.9" y="63.9" width="1.15" height="1.15"/>
<rect x="246.3" y="77.8" width="1.15" height="1.15"/>
<rect x="223.5" y="57.8" width="1.15" height="1.15"/>
<rect x="246.8" y="63.1" width="1.15" height="1.15"/>
<rect x="224.4" y="59.0" width="1.15" height="1.15"/>
<rect x="222.1" y="59.6" width="1.15" height="1.15"/>
<rect x="233.0" y="76.6" width="1.15" height="1.15"/>
<rect x="244.6" y="59.0" width="1.15" height="1.15"/>
<rect x="240.8" y="67.7" width="1.15" height="1.15"/>
<rect x="227.6" y="57.6" width="1.15" height="1.15"/>
<rect x="225.0" y="57.6" width="1.15" height="1.15"/>
<rect x="242.5" y="69.0" width="1.15" height="1.15"/>
<rect x="236.3" y="58.8" width="1.15" height="1.15"/>
<rect x="229.3" y="63.1" width="1.15" height="1.15"/>
<rect x="246.4" y="61.7" width="1.15" height="1.15"/>
<rect x="238.9" y="47.8" width="1.15" height="1.15"/>
<rect x="248.6" y="48.6" width="1.15" height="1.15"/>
<rect x="228.2" y="70.6" width="1.15" height="1.15"/>
<rect x="235.5" y="48.1" width="1.15" height="1.15"/>
<rect x="232.3" y="47.3" width="1.15" height="1.15"/>
<rect x="225.2" y="73.7" width="1.15" height="1.15"/>
<rect x="229.7" y="70.9" width="1.15" height="1.15"/>
<rect x="233.1" y="51.0" width="1.15" height="1.15"/>
<rect x="243.1" y="49.6" width="1.15" height="1.15"/>
<rect x="245.5" y="57.1" width="1.15" height="1.15"/>
<rect x="221.6" y="75.2" width="1.15" height="1.15"/>
<rect x="241.1" y="62.7" width="1.15" height="1.15"/>
<rect x="246.1" y="58.3" width="1.15" height="1.15"/>
<rect x="246.1" y="62.0" width="1.15" height="1.15"/>
<rect x="241.0" y="53.9" width="1.15" height="1.15"/>
<rect x="243.3" y="45.1" width="1.15" height="1.15"/>
<rect x="238.6" y="58.6" width="1.15" height="1.15"/>
<rect x="235.2" y="73.3" width="1.15" height="1.15"/>
<rect x="238.6" y="65.9" width="1.15" height="1.15"/>
<rect x="228.9" y="75.0" width="1.15" height="1.15"/>
<rect x="233.4" y="67.9" width="1.15" height="1.15"/>
<rect x="224.6" y="54.2" width="1.15" height="1.15"/>
<rect x="228.0" y="48.5" width="1.15" height="1.15"/>
<rect x="242.7" y="44.7" width="1.15" height="1.15"/>
<rect x="248.8" y="53.6" width="1.15" height="1.15"/>
<rect x="235.3" y="67.9" width="1.15" height="1.15"/>
<rect x="242.5" y="76.3" width="1.15" height="1.15"/>
<rect x="222.3" y="63.5" width="1.15" height="1.15"/>
<rect x="224.5" y="71.8" width="1.15" height="1.15"/>
<rect x="248.7" y="52.2" width="1.15" height="1.15"/>
<rect x="237.2" y="45.3" width="1.15" height="1.15"/>
<rect x="244.9" y="75.2" width="1.15" height="1.15"/>
<rect x="223.9" y="77.8" width="1.15" height="1.15"/>
<rect x="239.8" y="75.9" width="1.15" height="1.15"/>
<rect x="238.2" y="74.2" width="1.15" height="1.15"/>
<rect x="238.2" y="55.3" width="1.15" height="1.15"/>
<rect x="240.0" y="43.8" width="1.15" height="1.15"/>
<rect x="232.6" y="52.1" width="1.15" height="1.15"/>
<rect x="241.9" y="57.3" width="1.15" height="1.15"/>
<rect x="239.2" y="50.4" width="1.15" height="1.15"/>
<rect x="226.3" y="50.1" width="1.15" height="1.15"/>
<rect x="224.2" y="60.1" width="1.15" height="1.15"/>
<rect x="236.7" y="49.3" width="1.15" height="1.15"/>
<rect x="237.9" y="43.4" width="1.15" height="1.15"/>
<rect x="224.2" y="50.7" width="1.15" height="1.15"/>
<rect x="237.9" y="43.3" width="1.15" height="1.15"/>
<rect x="224.7" y="70.5" width="1.15" height="1.15"/>
<rect x="240.7" y="78.3" width="1.15" height="1.15"/>
<rect x="228.7" y="47.8" width="1.15" height="1.15"/>
<rect x="244.0" y="61.4" width="1.15" height="1.15"/>
<rect x="234.6" y="65.4" width="1.15" height="1.15"/>
<rect x="235.8" y="56.7" width="1.15" height="1.15"/>
<rect x="223.0" y="58.4" width="1.15" height="1.15"/>
<rect x="230.9" y="76.1" width="1.15" height="1.15"/>
<rect x="248.3" y="48.3" width="1.15" height="1.15"/>
<rect x="244.8" y="77.3" width="1.15" height="1.15"/>
<rect x="238.5" y="47.0" width="1.15" height="1.15"/>
<rect x="238.9" y="50.7" width="1.15" height="1.15"/>
<rect x="244.2" y="71.8" width="1.15" height="1.15"/>
<rect x="241.3" y="45.9" width="1.15" height="1.15"/>
<rect x="235.4" y="44.1" width="1.15" height="1.15"/>
<rect x="222.5" y="58.2" width="1.15" height="1.15"/>
<rect x="239.6" y="50.9" width="1.15" height="1.15"/>
<rect x="226.0" y="69.0" width="1.15" height="1.15"/>
<rect x="241.8" y="52.4" width="1.15" height="1.15"/>
<rect x="238.1" y="52.3" width="1.15" height="1.15"/>
<rect x="244.9" y="67.7" width="1.15" height="1.15"/>
<rect x="239.4" y="62.2" width="1.15" height="1.15"/>
<rect x="234.2" y="59.0" width="1.15" height="1.15"/>
<rect x="221.7" y="74.0" width="1.15" height="1.15"/>
<rect x="243.9" y="77.7" width="1.15" height="1.15"/>
<rect x="226.6" y="63.4" width="1.15" height="1.15"/>
<rect x="246.8" y="44.1" width="1.15" height="1.15"/>
<rect x="242.2" y="76.8" width="1.15" height="1.15"/>
<rect x="235.5" y="68.1" width="1.15" height="1.15"/>
<rect x="236.2" y="65.0" width="1.15" height="1.15"/>
<rect x="225.1" y="54.6" width="1.15" height="1.15"/>
<rect x="228.6" y="49.4" width="1.15" height="1.15"/>
<rect x="231.8" y="73.5" width="1.15" height="1.15"/>
<rect x="222.9" y="56.8" width="1.15" height="1.15"/>
<rect x="232.1" y="69.1" width="1.15" height="1.15"/>
<rect x="242.6" y="78.3" width="1.15" height="1.15"/>
<rect x="236.3" y="52.7" width="1.15" height="1.15"/>
<rect x="227.0" y="54.0" width="1.15" height="1.15"/>
<rect x="243.7" y="68.1" width="1.15" height="1.15"/>
<rect x="236.6" y="52.5" width="1.15" height="1.15"/>
<rect x="223.5" y="57.1" width="1.15" height="1.15"/>
<rect x="221.6" y="64.1" width="1.15" height="1.15"/>
<rect x="231.0" y="68.9" width="1.15" height="1.15"/>
<rect x="238.9" y="43.9" width="1.15" height="1.15"/>
<rect x="228.2" y="49.2" width="1.15" height="1.15"/>
<rect x="243.4" y="65.9" width="1.15" height="1.15"/>
<rect x="242.5" y="51.4" width="1.15" height="1.15"/>
<rect x="229.1" y="77.4" width="1.15" height="1.15"/>
<rect x="239.7" y="73.2" width="1.15" height="1.15"/>
<rect x="237.7" y="58.8" width="1.15" height="1.15"/>
<rect x="237.2" y="75.8" width="1.15" height="1.15"/>
<rect x="238.2" y="73.2" width="1.15" height="1.15"/>
<rect x="237.3" y="62.7" width="1.15" height="1.15"/>
<rect x="237.7" y="68.9" width="1.15" height="1.15"/>
<rect x="247.5" y="62.8" width="1.15" height="1.15"/>
<rect x="239.9" y="70.1" width="1.15" height="1.15"/>
<rect x="233.8" y="51.3" width="1.15" height="1.15"/>
<rect x="239.9" y="47.4" width="1.15" height="1.15"/>
<rect x="237.5" y="45.1" width="1.15" height="1.15"/>
<rect x="241.7" y="66.9" width="1.15" height="1.15"/>
<rect x="231.5" y="55.8" width="1.15" height="1.15"/>
<rect x="251.3" y="42.8" width="1.15" height="1.15"/>
<rect x="238.0" y="63.0" width="1.15" height="1.15"/>
<rect x="233.7" y="63.4" width="1.15" height="1.15"/>
<rect x="228.8" y="57.4" width="1.15" height="1.15"/>
<rect x="237.4" y="66.7" width="1.15" height="1.15"/>
<rect x="251.2" y="42.5" width="1.15" height="1.15"/>
<rect x="229.8" y="72.9" width="1.15" height="1.15"/>
<rect x="238.2" y="51.1" width="1.15" height="1.15"/>
<rect x="248.1" y="50.2" width="1.15" height="1.15"/>
<rect x="246.4" y="72.5" width="1.15" height="1.15"/>
<rect x="248.2" y="47.6" width="1.15" height="1.15"/>
<rect x="241.5" y="66.8" width="1.15" height="1.15"/>
<rect x="227.7" y="74.7" width="1.15" height="1.15"/>
<rect x="241.2" y="76.4" width="1.15" height="1.15"/>
<rect x="229.2" y="67.4" width="1.15" height="1.15"/>
<rect x="227.8" y="59.2" width="1.15" height="1.15"/>
<rect x="223.2" y="70.6" width="1.15" height="1.15"/>
<rect x="243.9" y="68.8" width="1.15" height="1.15"/>
<rect x="238.2" y="77.7" width="1.15" height="1.15"/>
<rect x="237.4" y="67.8" width="1.15" height="1.15"/>
<rect x="246.2" y="46.9" width="1.15" height="1.15"/>
<rect x="237.2" y="57.8" width="1.15" height="1.15"/>
<rect x="237.4" y="43.5" width="1.15" height="1.15"/>
<rect x="239.6" y="59.8" width="1.15" height="1.15"/>
<rect x="241.4" y="66.5" width="1.15" height="1.15"/>
<rect x="236.8" y="62.9" width="1.15" height="1.15"/>
<rect x="229.0" y="73.7" width="1.15" height="1.15"/>
<rect x="240.9" y="42.0" width="1.15" height="1.15"/>
<rect x="221.5" y="76.2" width="1.15" height="1.15"/>
<rect x="229.3" y="56.8" width="1.15" height="1.15"/>
<rect x="235.9" y="55.0" width="1.15" height="1.15"/>
<rect x="239.0" y="63.2" width="1.15" height="1.15"/>
<rect x="238.8" y="64.3" width="1.15" height="1.15"/>
<rect x="234.8" y="45.2" width="1.15" height="1.15"/>
<rect x="224.8" y="62.5" width="1.15" height="1.15"/>
<rect x="245.6" y="58.6" width="1.15" height="1.15"/>
<rect x="249.2" y="41.7" width="1.15" height="1.15"/>
<rect x="244.4" y="63.6" width="1.15" height="1.15"/>
<rect x="237.4" y="59.3" width="1.15" height="1.15"/>
<rect x="226.3" y="73.7" width="1.15" height="1.15"/>
<rect x="236.8" y="55.4" width="1.15" height="1.15"/>
<rect x="237.6" y="57.7" width="1.15" height="1.15"/>
<rect x="245.9" y="69.3" width="1.15" height="1.15"/>
<rect x="238.1" y="67.0" width="1.15" height="1.15"/>
<rect x="244.2" y="44.9" width="1.15" height="1.15"/>
<rect x="244.7" y="66.9" width="1.15" height="1.15"/>
<rect x="221.9" y="71.8" width="1.15" height="1.15"/>
<rect x="241.5" y="69.2" width="1.15" height="1.15"/>
<rect x="242.6" y="52.2" width="1.15" height="1.15"/>
<rect x="231.0" y="60.4" width="1.15" height="1.15"/>
<rect x="229.9" y="76.3" width="1.15" height="1.15"/>
<rect x="232.4" y="69.8" width="1.15" height="1.15"/>
<rect x="223.3" y="77.0" width="1.15" height="1.15"/>
<rect x="235.5" y="76.1" width="1.15" height="1.15"/>
<rect x="235.0" y="59.7" width="1.15" height="1.15"/>
<rect x="244.1" y="42.1" width="1.15" height="1.15"/>
<rect x="243.7" y="43.1" width="1.15" height="1.15"/>
<rect x="232.7" y="46.9" width="1.15" height="1.15"/>
<rect x="242.4" y="60.0" width="1.15" height="1.15"/>
<rect x="231.9" y="45.6" width="1.15" height="1.15"/>
<rect x="247.0" y="39.8" width="1.15" height="1.15"/>
<rect x="236.6" y="48.5" width="1.15" height="1.15"/>
<rect x="227.6" y="59.2" width="1.15" height="1.15"/>
<rect x="235.6" y="51.3" width="1.15" height="1.15"/>
<rect x="244.4" y="63.7" width="1.15" height="1.15"/>
<rect x="241.1" y="77.0" width="1.15" height="1.15"/>
<rect x="237.7" y="46.1" width="1.15" height="1.15"/>
<rect x="244.5" y="44.1" width="1.15" height="1.15"/>
<rect x="235.7" y="55.3" width="1.15" height="1.15"/>
<rect x="238.3" y="62.0" width="1.15" height="1.15"/>
<rect x="248.4" y="55.1" width="1.15" height="1.15"/>
<rect x="240.8" y="43.0" width="1.15" height="1.15"/>
<rect x="236.3" y="49.4" width="1.15" height="1.15"/>
<rect x="234.5" y="48.9" width="1.15" height="1.15"/>
<rect x="237.2" y="55.9" width="1.15" height="1.15"/>
<rect x="240.7" y="51.7" width="1.15" height="1.15"/>
<rect x="239.3" y="57.1" width="1.15" height="1.15"/>
<rect x="225.7" y="70.3" width="1.15" height="1.15"/>
<rect x="236.3" y="63.9" width="1.15" height="1.15"/>
<rect x="242.8" y="73.8" width="1.15" height="1.15"/>
<rect x="252.8" y="65.2" width="1.15" height="1.15"/>
<rect x="248.2" y="42.6" width="1.15" height="1.15"/>
<rect x="245.3" y="50.4" width="1.15" height="1.15"/>
<rect x="255.8" y="64.3" width="1.15" height="1.15"/>
<rect x="260.3" y="46.7" width="1.15" height="1.15"/>
<rect x="246.9" y="64.9" width="1.15" height="1.15"/>
<rect x="254.8" y="50.5" width="1.15" height="1.15"/>
<rect x="244.9" y="60.3" width="1.15" height="1.15"/>
</g>
<g fill="#f0208a">
<rect x="239.0" y="90.5" width="1.15" height="1.15"/>
<rect x="241.1" y="93.8" width="1.15" height="1.15"/>
<rect x="246.4" y="80.5" width="1.15" height="1.15"/>
<rect x="244.4" y="90.8" width="1.15" height="1.15"/>
<rect x="235.0" y="90.5" width="1.15" height="1.15"/>
<rect x="235.9" y="90.0" width="1.15" height="1.15"/>
<rect x="243.7" y="81.0" width="1.15" height="1.15"/>
<rect x="242.8" y="89.1" width="1.15" height="1.15"/>
<rect x="245.9" y="94.1" width="1.15" height="1.15"/>
<rect x="249.3" y="94.3" width="1.15" height="1.15"/>
<rect x="250.4" y="87.8" width="1.15" height="1.15"/>
<rect x="241.9" y="80.5" width="1.15" height="1.15"/>
<rect x="242.2" y="92.0" width="1.15" height="1.15"/>
<rect x="233.5" y="92.2" width="1.15" height="1.15"/>
<rect x="243.9" y="88.3" width="1.15" height="1.15"/>
<rect x="239.1" y="89.1" width="1.15" height="1.15"/>
<rect x="246.4" y="100.7" width="1.15" height="1.15"/>
<rect x="237.2" y="87.5" width="1.15" height="1.15"/>
<rect x="240.5" y="93.8" width="1.15" height="1.15"/>
<rect x="249.7" y="83.1" width="1.15" height="1.15"/>
<rect x="245.6" y="79.8" width="1.15" height="1.15"/>
<rect x="244.2" y="81.7" width="1.15" height="1.15"/>
<rect x="240.8" y="91.1" width="1.15" height="1.15"/>
<rect x="239.1" y="80.6" width="1.15" height="1.15"/>
<rect x="246.5" y="83.9" width="1.15" height="1.15"/>
<rect x="231.5" y="82.2" width="1.15" height="1.15"/>
<rect x="245.7" y="98.5" width="1.15" height="1.15"/>
<rect x="226.4" y="79.2" width="1.15" height="1.15"/>
<rect x="248.3" y="86.1" width="1.15" height="1.15"/>
<rect x="242.3" y="98.8" width="1.15" height="1.15"/>
<rect x="246.3" y="89.6" width="1.15" height="1.15"/>
<rect x="231.9" y="92.8" width="1.15" height="1.15"/>
<rect x="231.4" y="80.6" width="1.15" height="1.15"/>
<rect x="245.7" y="98.8" width="1.15" height="1.15"/>
<rect x="234.2" y="90.4" width="1.15" height="1.15"/>
<rect x="251.6" y="95.0" width="1.15" height="1.15"/>
<rect x="240.4" y="93.6" width="1.15" height="1.15"/>
<rect x="244.2" y="88.1" width="1.15" height="1.15"/>
<rect x="249.2" y="94.0" width="1.15" height="1.15"/>
<rect x="233.7" y="88.7" width="1.15" height="1.15"/>
<rect x="234.2" y="88.5" width="1.15" height="1.15"/>
<rect x="249.8" y="98.4" width="1.15" height="1.15"/>
<rect x="239.1" y="87.9" width="1.15" height="1.15"/>
<rect x="233.5" y="91.4" width="1.15" height="1.15"/>
<rect x="235.6" y="83.4" width="1.15" height="1.15"/>
<rect x="246.7" y="84.1" width="1.15" height="1.15"/>
<rect x="240.9" y="93.2" width="1.15" height="1.15"/>
<rect x="235.6" y="92.3" width="1.15" height="1.15"/>
<rect x="232.9" y="83.7" width="1.15" height="1.15"/>
<rect x="247.9" y="82.6" width="1.15" height="1.15"/>
<rect x="241.9" y="95.9" width="1.15" height="1.15"/>
<rect x="232.4" y="84.2" width="1.15" height="1.15"/>
<rect x="247.5" y="96.9" width="1.15" height="1.15"/>
<rect x="249.8" y="91.7" width="1.15" height="1.15"/>
<rect x="240.6" y="97.0" width="1.15" height="1.15"/>
<rect x="231.0" y="86.8" width="1.15" height="1.15"/>
<rect x="250.7" y="93.0" width="1.15" height="1.15"/>
<rect x="232.1" y="86.9" width="1.15" height="1.15"/>
<rect x="249.9" y="89.3" width="1.15" height="1.15"/>
<rect x="250.6" y="90.3" width="1.15" height="1.15"/>
<rect x="235.0" y="90.6" width="1.15" height="1.15"/>
<rect x="246.7" y="80.6" width="1.15" height="1.15"/>
<rect x="244.1" y="83.2" width="1.15" height="1.15"/>
<rect x="241.3" y="98.3" width="1.15" height="1.15"/>
<rect x="239.4" y="81.1" width="1.15" height="1.15"/>
<rect x="244.7" y="95.3" width="1.15" height="1.15"/>
<rect x="245.1" y="92.5" width="1.15" height="1.15"/>
<rect x="237.9" y="86.6" width="1.15" height="1.15"/>
<rect x="233.1" y="82.7" width="1.15" height="1.15"/>
<rect x="251.3" y="94.0" width="1.15" height="1.15"/>
<rect x="239.6" y="91.1" width="1.15" height="1.15"/>
<rect x="236.4" y="84.1" width="1.15" height="1.15"/>
<rect x="243.1" y="92.6" width="1.15" height="1.15"/>
<rect x="247.1" y="88.2" width="1.15" height="1.15"/>
<rect x="235.8" y="84.4" width="1.15" height="1.15"/>
<rect x="238.3" y="93.7" width="1.15" height="1.15"/>
<rect x="240.7" y="95.6" width="1.15" height="1.15"/>
<rect x="247.9" y="97.2" width="1.15" height="1.15"/>
<rect x="248.0" y="88.0" width="1.15" height="1.15"/>
<rect x="249.0" y="98.7" width="1.15" height="1.15"/>
<rect x="244.4" y="89.3" width="1.15" height="1.15"/>
<rect x="241.0" y="80.7" width="1.15" height="1.15"/>
<rect x="240.2" y="91.4" width="1.15" height="1.15"/>
<rect x="241.1" y="93.8" width="1.15" height="1.15"/>
<rect x="238.8" y="84.5" width="1.15" height="1.15"/>
<rect x="237.7" y="89.1" width="1.15" height="1.15"/>
<rect x="234.8" y="86.0" width="1.15" height="1.15"/>
<rect x="242.9" y="93.0" width="1.15" height="1.15"/>
<rect x="245.8" y="96.8" width="1.15" height="1.15"/>
<rect x="246.9" y="85.6" width="1.15" height="1.15"/>
<rect x="238.3" y="89.7" width="1.15" height="1.15"/>
<rect x="250.1" y="85.4" width="1.15" height="1.15"/>
<rect x="232.6" y="91.6" width="1.15" height="1.15"/>
<rect x="250.9" y="90.0" width="1.15" height="1.15"/>
<rect x="238.9" y="85.3" width="1.15" height="1.15"/>
<rect x="233.0" y="92.6" width="1.15" height="1.15"/>
<rect x="245.8" y="82.8" width="1.15" height="1.15"/>
<rect x="237.7" y="90.1" width="1.15" height="1.15"/>
<rect x="241.8" y="85.5" width="1.15" height="1.15"/>
<rect x="245.5" y="85.8" width="1.15" height="1.15"/>
<rect x="228.5" y="82.3" width="1.15" height="1.15"/>
<rect x="243.1" y="82.6" width="1.15" height="1.15"/>
<rect x="243.8" y="87.3" width="1.15" height="1.15"/>
<rect x="231.7" y="93.6" width="1.15" height="1.15"/>
<rect x="234.3" y="79.2" width="1.15" height="1.15"/>
<rect x="242.3" y="97.1" width="1.15" height="1.15"/>
<rect x="240.2" y="83.1" width="1.15" height="1.15"/>
<rect x="240.7" y="96.7" width="1.15" height="1.15"/>
<rect x="246.4" y="85.4" width="1.15" height="1.15"/>
<rect x="243.9" y="94.7" width="1.15" height="1.15"/>
<rect x="248.3" y="95.1" width="1.15" height="1.15"/>
<rect x="236.3" y="85.9" width="1.15" height="1.15"/>
<rect x="241.8" y="98.8" width="1.15" height="1.15"/>
<rect x="237.6" y="85.9" width="1.15" height="1.15"/>
<rect x="234.2" y="82.4" width="1.15" height="1.15"/>
<rect x="243.9" y="98.1" width="1.15" height="1.15"/>
<rect x="231.3" y="80.3" width="1.15" height="1.15"/>
<rect x="246.4" y="90.7" width="1.15" height="1.15"/>
<rect x="244.6" y="93.1" width="1.15" height="1.15"/>
<rect x="235.7" y="95.3" width="1.15" height="1.15"/>
<rect x="235.0" y="94.1" width="1.15" height="1.15"/>
<rect x="238.2" y="91.1" width="1.15" height="1.15"/>
<rect x="242.7" y="94.9" width="1.15" height="1.15"/>
<rect x="233.6" y="95.1" width="1.15" height="1.15"/>
<rect x="239.7" y="86.1" width="1.15" height="1.15"/>
<rect x="247.9" y="81.4" width="1.15" height="1.15"/>
<rect x="241.3" y="87.1" width="1.15" height="1.15"/>
<rect x="246.0" y="81.9" width="1.15" height="1.15"/>
<rect x="237.7" y="81.2" width="1.15" height="1.15"/>
<rect x="233.9" y="88.1" width="1.15" height="1.15"/>
<rect x="240.2" y="80.3" width="1.15" height="1.15"/>
<rect x="246.2" y="97.6" width="1.15" height="1.15"/>
<rect x="251.0" y="95.3" width="1.15" height="1.15"/>
<rect x="238.0" y="92.8" width="1.15" height="1.15"/>
<rect x="245.4" y="86.8" width="1.15" height="1.15"/>
<rect x="231.9" y="94.2" width="1.15" height="1.15"/>
<rect x="239.2" y="90.9" width="1.15" height="1.15"/>
<rect x="244.6" y="100.0" width="1.15" height="1.15"/>
<rect x="250.7" y="92.6" width="1.15" height="1.15"/>
<rect x="235.7" y="85.4" width="1.15" height="1.15"/>
<rect x="243.0" y="80.1" width="1.15" height="1.15"/>
<rect x="240.2" y="97.2" width="1.15" height="1.15"/>
<rect x="237.8" y="92.6" width="1.15" height="1.15"/>
<rect x="239.4" y="95.6" width="1.15" height="1.15"/>
<rect x="239.6" y="83.0" width="1.15" height="1.15"/>
<rect x="238.5" y="92.4" width="1.15" height="1.15"/>
<rect x="245.7" y="92.3" width="1.15" height="1.15"/>
<rect x="244.4" y="98.0" width="1.15" height="1.15"/>
<rect x="244.3" y="86.9" width="1.15" height="1.15"/>
<rect x="247.8" y="95.4" width="1.15" height="1.15"/>
<rect x="244.8" y="88.5" width="1.15" height="1.15"/>
<rect x="238.3" y="91.1" width="1.15" height="1.15"/>
<rect x="245.3" y="88.2" width="1.15" height="1.15"/>
<rect x="248.5" y="86.9" width="1.15" height="1.15"/>
<rect x="248.5" y="100.1" width="1.15" height="1.15"/>
<rect x="239.3" y="86.4" width="1.15" height="1.15"/>
<rect x="238.4" y="88.0" width="1.15" height="1.15"/>
<rect x="234.4" y="93.5" width="1.15" height="1.15"/>
<rect x="240.3" y="81.6" width="1.15" height="1.15"/>
<rect x="243.5" y="93.3" width="1.15" height="1.15"/>
<rect x="243.6" y="94.2" width="1.15" height="1.15"/>
<rect x="227.7" y="82.1" width="1.15" height="1.15"/>
<rect x="242.3" y="90.5" width="1.15" height="1.15"/>
<rect x="248.1" y="88.4" width="1.15" height="1.15"/>
<rect x="236.2" y="88.4" width="1.15" height="1.15"/>
<rect x="247.9" y="97.8" width="1.15" height="1.15"/>
<rect x="246.1" y="81.0" width="1.15" height="1.15"/>
<rect x="231.9" y="90.1" width="1.15" height="1.15"/>
<rect x="249.5" y="94.6" width="1.15" height="1.15"/>
<rect x="228.0" y="79.5" width="1.15" height="1.15"/>
<rect x="247.6" y="93.9" width="1.15" height="1.15"/>
<rect x="244.7" y="99.9" width="1.15" height="1.15"/>
<rect x="236.4" y="85.1" width="1.15" height="1.15"/>
<rect x="241.2" y="88.5" width="1.15" height="1.15"/>
<rect x="242.4" y="96.5" width="1.15" height="1.15"/>
<rect x="238.7" y="88.1" width="1.15" height="1.15"/>
<rect x="243.1" y="93.8" width="1.15" height="1.15"/>
<rect x="238.2" y="79.8" width="1.15" height="1.15"/>
<rect x="233.4" y="87.9" width="1.15" height="1.15"/>
<rect x="240.8" y="99.7" width="1.15" height="1.15"/>
<rect x="247.4" y="94.9" width="1.15" height="1.15"/>
<rect x="234.6" y="89.0" width="1.15" height="1.15"/>
<rect x="244.9" y="89.6" width="1.15" height="1.15"/>
<rect x="231.7" y="81.6" width="1.15" height="1.15"/>
<rect x="233.2" y="82.6" width="1.15" height="1.15"/>
<rect x="235.6" y="92.0" width="1.15" height="1.15"/>
<rect x="238.2" y="85.1" width="1.15" height="1.15"/>
<rect x="247.0" y="88.3" width="1.15" height="1.15"/>
<rect x="249.8" y="97.6" width="1.15" height="1.15"/>
<rect x="244.0" y="94.5" width="1.15" height="1.15"/>
<rect x="244.9" y="79.9" width="1.15" height="1.15"/>
<rect x="243.9" y="79.7" width="1.15" height="1.15"/>
<rect x="239.4" y="90.5" width="1.15" height="1.15"/>
<rect x="235.7" y="81.4" width="1.15" height="1.15"/>
<rect x="244.3" y="90.4" width="1.15" height="1.15"/>
<rect x="237.7" y="90.0" width="1.15" height="1.15"/>
<rect x="242.8" y="89.9" width="1.15" height="1.15"/>
<rect x="242.1" y="89.5" width="1.15" height="1.15"/>
<rect x="229.5" y="88.3" width="1.15" height="1.15"/>
<rect x="250.3" y="94.0" width="1.15" height="1.15"/>
<rect x="235.5" y="89.7" width="1.15" height="1.15"/>
<rect x="231.7" y="83.5" width="1.15" height="1.15"/>
<rect x="242.9" y="82.8" width="1.15" height="1.15"/>
<rect x="229.2" y="80.7" width="1.15" height="1.15"/>
<rect x="232.5" y="92.4" width="1.15" height="1.15"/>
<rect x="234.2" y="91.0" width="1.15" height="1.15"/>
<rect x="241.4" y="92.5" width="1.15" height="1.15"/>
<rect x="234.3" y="82.3" width="1.15" height="1.15"/>
<rect x="248.0" y="95.2" width="1.15" height="1.15"/>
<rect x="245.9" y="93.6" width="1.15" height="1.15"/>
<rect x="235.8" y="81.5" width="1.15" height="1.15"/>
<rect x="235.0" y="94.8" width="1.15" height="1.15"/>
<rect x="227.7" y="83.6" width="1.15" height="1.15"/>
<rect x="238.0" y="94.3" width="1.15" height="1.15"/>
<rect x="246.7" y="88.4" width="1.15" height="1.15"/>
<rect x="239.2" y="90.4" width="1.15" height="1.15"/>
<rect x="248.3" y="99.1" width="1.15" height="1.15"/>
<rect x="246.7" y="97.0" width="1.15" height="1.15"/>
<rect x="230.3" y="90.3" width="1.15" height="1.15"/>
<rect x="240.9" y="92.9" width="1.15" height="1.15"/>
<rect x="247.7" y="89.6" width="1.15" height="1.15"/>
<rect x="238.2" y="95.3" width="1.15" height="1.15"/>
<rect x="235.2" y="95.0" width="1.15" height="1.15"/>
<rect x="240.0" y="91.6" width="1.15" height="1.15"/>
<rect x="240.5" y="87.7" width="1.15" height="1.15"/>
<rect x="247.5" y="100.2" width="1.15" height="1.15"/>
<rect x="246.1" y="99.8" width="1.15" height="1.15"/>
<rect x="247.6" y="95.0" width="1.15" height="1.15"/>
<rect x="231.8" y="80.6" width="1.15" height="1.15"/>
<rect x="245.6" y="88.0" width="1.15" height="1.15"/>
<rect x="251.0" y="92.3" width="1.15" height="1.15"/>
<rect x="232.1" y="84.1" width="1.15" height="1.15"/>
<rect x="232.6" y="86.9" width="1.15" height="1.15"/>
<rect x="246.1" y="82.0" width="1.15" height="1.15"/>
<rect x="241.6" y="81.8" width="1.15" height="1.15"/>
<rect x="238.7" y="89.1" width="1.15" height="1.15"/>
<rect x="248.9" y="91.2" width="1.15" height="1.15"/>
<rect x="239.2" y="91.2" width="1.15" height="1.15"/>
<rect x="239.0" y="90.9" width="1.15" height="1.15"/>
<rect x="244.0" y="87.6" width="1.15" height="1.15"/>
<rect x="239.9" y="85.3" width="1.15" height="1.15"/>
<rect x="245.4" y="98.3" width="1.15" height="1.15"/>
<rect x="236.5" y="81.1" width="1.15" height="1.15"/>
<rect x="240.1" y="96.3" width="1.15" height="1.15"/>
<rect x="236.9" y="82.8" width="1.15" height="1.15"/>
<rect x="236.7" y="84.2" width="1.15" height="1.15"/>
<rect x="245.8" y="81.6" width="1.15" height="1.15"/>
<rect x="241.0" y="98.8" width="1.15" height="1.15"/>
<rect x="243.1" y="98.1" width="1.15" height="1.15"/>
<rect x="248.7" y="93.3" width="1.15" height="1.15"/>
<rect x="235.4" y="84.3" width="1.15" height="1.15"/>
<rect x="234.8" y="81.5" width="1.15" height="1.15"/>
<rect x="241.7" y="97.2" width="1.15" height="1.15"/>
<rect x="241.5" y="100.1" width="1.15" height="1.15"/>
<rect x="249.5" y="96.2" width="1.15" height="1.15"/>
<rect x="249.2" y="86.3" width="1.15" height="1.15"/>
<rect x="237.5" y="82.1" width="1.15" height="1.15"/>
<rect x="227.9" y="83.5" width="1.15" height="1.15"/>
<rect x="230.7" y="85.3" width="1.15" height="1.15"/>
<rect x="232.2" y="89.4" width="1.15" height="1.15"/>
<rect x="232.4" y="90.8" width="1.15" height="1.15"/>
<rect x="242.9" y="98.6" width="1.15" height="1.15"/>
<rect x="235.0" y="87.7" width="1.15" height="1.15"/>
<rect x="242.9" y="84.5" width="1.15" height="1.15"/>
<rect x="236.2" y="87.5" width="1.15" height="1.15"/>
<rect x="242.3" y="99.9" width="1.15" height="1.15"/>
<rect x="245.8" y="87.0" width="1.15" height="1.15"/>
<rect x="250.7" y="92.3" width="1.15" height="1.15"/>
<rect x="233.6" y="89.9" width="1.15" height="1.15"/>
<rect x="243.4" y="91.5" width="1.15" height="1.15"/>
<rect x="246.9" y="92.7" width="1.15" height="1.15"/>
<rect x="227.7" y="80.3" width="1.15" height="1.15"/>
<rect x="236.0" y="90.7" width="1.15" height="1.15"/>
<rect x="235.5" y="96.0" width="1.15" height="1.15"/>
<rect x="244.5" y="88.3" width="1.15" height="1.15"/>
<rect x="243.0" y="97.3" width="1.15" height="1.15"/>
<rect x="247.1" y="90.9" width="1.15" height="1.15"/>
<rect x="226.4" y="81.8" width="1.15" height="1.15"/>
<rect x="243.2" y="96.5" width="1.15" height="1.15"/>
<rect x="235.5" y="92.3" width="1.15" height="1.15"/>
<rect x="244.4" y="82.7" width="1.15" height="1.15"/>
<rect x="242.2" y="91.4" width="1.15" height="1.15"/>
<rect x="251.6" y="95.2" width="1.15" height="1.15"/>
<rect x="234.2" y="80.2" width="1.15" height="1.15"/>
<rect x="240.5" y="97.8" width="1.15" height="1.15"/>
<rect x="245.6" y="96.1" width="1.15" height="1.15"/>
<rect x="241.6" y="82.5" width="1.15" height="1.15"/>
<rect x="245.9" y="80.3" width="1.15" height="1.15"/>
<rect x="246.8" y="94.4" width="1.15" height="1.15"/>
<rect x="243.9" y="88.6" width="1.15" height="1.15"/>
<rect x="239.0" y="86.1" width="1.15" height="1.15"/>
<rect x="242.7" y="91.8" width="1.15" height="1.15"/>
<rect x="242.3" y="93.4" width="1.15" height="1.15"/>
<rect x="243.2" y="89.3" width="1.15" height="1.15"/>
<rect x="246.8" y="88.1" width="1.15" height="1.15"/>
<rect x="236.3" y="89.8" width="1.15" height="1.15"/>
<rect x="245.1" y="96.9" width="1.15" height="1.15"/>
<rect x="238.8" y="84.1" width="1.15" height="1.15"/>
<rect x="240.5" y="98.8" width="1.15" height="1.15"/>
<rect x="236.8" y="83.6" width="1.15" height="1.15"/>
<rect x="231.2" y="84.3" width="1.15" height="1.15"/>
<rect x="232.4" y="80.1" width="1.15" height="1.15"/>
<rect x="233.2" y="88.2" width="1.15" height="1.15"/>
<rect x="229.7" y="83.8" width="1.15" height="1.15"/>
<rect x="249.3" y="96.0" width="1.15" height="1.15"/>
<rect x="232.8" y="87.3" width="1.15" height="1.15"/>
<rect x="246.1" y="85.6" width="1.15" height="1.15"/>
<rect x="240.8" y="84.4" width="1.15" height="1.15"/>
<rect x="240.4" y="92.7" width="1.15" height="1.15"/>
<rect x="244.6" y="86.1" width="1.15" height="1.15"/>
<rect x="235.6" y="93.1" width="1.15" height="1.15"/>
<rect x="231.0" y="86.0" width="1.15" height="1.15"/>
<rect x="242.4" y="81.1" width="1.15" height="1.15"/>
<rect x="231.9" y="87.4" width="1.15" height="1.15"/>
<rect x="238.4" y="96.5" width="1.15" height="1.15"/>
<rect x="242.7" y="81.8" width="1.15" height="1.15"/>
<rect x="239.5" y="83.0" width="1.15" height="1.15"/>
<rect x="230.9" y="92.4" width="1.15" height="1.15"/>
<rect x="245.3" y="94.8" width="1.15" height="1.15"/>
<rect x="235.0" y="90.0" width="1.15" height="1.15"/>
<rect x="241.1" y="96.6" width="1.15" height="1.15"/>
<rect x="241.2" y="90.8" width="1.15" height="1.15"/>
<rect x="247.8" y="94.8" width="1.15" height="1.15"/>
<rect x="246.8" y="83.0" width="1.15" height="1.15"/>
<rect x="238.1" y="88.0" width="1.15" height="1.15"/>
<rect x="247.3" y="95.8" width="1.15" height="1.15"/>
<rect x="229.9" y="82.6" width="1.15" height="1.15"/>
<rect x="239.4" y="87.5" width="1.15" height="1.15"/>
<rect x="233.0" y="91.6" width="1.15" height="1.15"/>
<rect x="231.3" y="91.4" width="1.15" height="1.15"/>
<rect x="236.4" y="89.7" width="1.15" height="1.15"/>
<rect x="227.9" y="81.6" width="1.15" height="1.15"/>
<rect x="248.1" y="90.7" width="1.15" height="1.15"/>
<rect x="240.7" y="89.4" width="1.15" height="1.15"/>
<rect x="233.3" y="91.5" width="1.15" height="1.15"/>
<rect x="236.5" y="81.3" width="1.15" height="1.15"/>
<rect x="229.5" y="85.9" width="1.15" height="1.15"/>
<rect x="235.3" y="85.1" width="1.15" height="1.15"/>
<rect x="247.2" y="97.6" width="1.15" height="1.15"/>
<rect x="241.9" y="100.4" width="1.15" height="1.15"/>
<rect x="238.9" y="90.8" width="1.15" height="1.15"/>
<rect x="231.5" y="83.7" width="1.15" height="1.15"/>
<rect x="242.8" y="79.2" width="1.15" height="1.15"/>
<rect x="242.6" y="90.3" width="1.15" height="1.15"/>
<rect x="239.0" y="80.3" width="1.15" height="1.15"/>
<rect x="243.6" y="83.5" width="1.15" height="1.15"/>
<rect x="240.4" y="96.4" width="1.15" height="1.15"/>
<rect x="242.6" y="89.9" width="1.15" height="1.15"/>
<rect x="232.6" y="89.1" width="1.15" height="1.15"/>
<rect x="235.8" y="83.0" width="1.15" height="1.15"/>
<rect x="232.8" y="87.6" width="1.15" height="1.15"/>
<rect x="245.3" y="89.5" width="1.15" height="1.15"/>
<rect x="248.0" y="79.1" width="1.15" height="1.15"/>
<rect x="240.0" y="83.8" width="1.15" height="1.15"/>
<rect x="242.3" y="86.6" width="1.15" height="1.15"/>
<rect x="242.3" y="81.9" width="1.15" height="1.15"/>
<rect x="245.4" y="94.5" width="1.15" height="1.15"/>
<rect x="236.8" y="93.4" width="1.15" height="1.15"/>
<rect x="237.3" y="89.1" width="1.15" height="1.15"/>
<rect x="244.3" y="88.4" width="1.15" height="1.15"/>
<rect x="247.1" y="95.2" width="1.15" height="1.15"/>
<rect x="244.2" y="85.7" width="1.15" height="1.15"/>
<rect x="235.1" y="95.1" width="1.15" height="1.15"/>
<rect x="242.6" y="90.3" width="1.15" height="1.15"/>
<rect x="247.3" y="93.7" width="1.15" height="1.15"/>
<rect x="243.2" y="97.6" width="1.15" height="1.15"/>
<rect x="237.6" y="94.2" width="1.15" height="1.15"/>
<rect x="238.2" y="82.5" width="1.15" height="1.15"/>
<rect x="243.2" y="98.1" width="1.15" height="1.15"/>
<rect x="231.0" y="81.4" width="1.15" height="1.15"/>
<rect x="243.0" y="95.9" width="1.15" height="1.15"/>
<rect x="236.4" y="85.6" width="1.15" height="1.15"/>
<rect x="235.2" y="97.5" width="1.15" height="1.15"/>
<rect x="243.8" y="96.2" width="1.15" height="1.15"/>
<rect x="242.1" y="84.1" width="1.15" height="1.15"/>
<rect x="247.2" y="80.3" width="1.15" height="1.15"/>
<rect x="246.3" y="96.6" width="1.15" height="1.15"/>
<rect x="245.0" y="97.6" width="1.15" height="1.15"/>
<rect x="238.6" y="91.8" width="1.15" height="1.15"/>
<rect x="232.0" y="80.9" width="1.15" height="1.15"/>
<rect x="250.8" y="89.2" width="1.15" height="1.15"/>
<rect x="236.6" y="87.6" width="1.15" height="1.15"/>
<rect x="242.4" y="79.1" width="1.15" height="1.15"/>
<rect x="241.1" y="85.9" width="1.15" height="1.15"/>
<rect x="249.7" y="92.6" width="1.15" height="1.15"/>
<rect x="236.2" y="79.8" width="1.15" height="1.15"/>
<rect x="245.0" y="91.4" width="1.15" height="1.15"/>
<rect x="229.7" y="82.1" width="1.15" height="1.15"/>
<rect x="242.7" y="82.1" width="1.15" height="1.15"/>
<rect x="246.5" y="81.9" width="1.15" height="1.15"/>
<rect x="234.2" y="84.1" width="1.15" height="1.15"/>
<rect x="231.9" y="92.3" width="1.15" height="1.15"/>
<rect x="246.2" y="95.1" width="1.15" height="1.15"/>
<rect x="246.0" y="82.7" width="1.15" height="1.15"/>
<rect x="240.9" y="83.0" width="1.15" height="1.15"/>
<rect x="230.8" y="81.5" width="1.15" height="1.15"/>
<rect x="240.2" y="94.9" width="1.15" height="1.15"/>
<rect x="247.9" y="82.6" width="1.15" height="1.15"/>
<rect x="244.8" y="88.8" width="1.15" height="1.15"/>
<rect x="243.9" y="98.0" width="1.15" height="1.15"/>
<rect x="235.2" y="93.2" width="1.15" height="1.15"/>
<rect x="230.0" y="79.1" width="1.15" height="1.15"/>
<rect x="242.5" y="99.0" width="1.15" height="1.15"/>
<rect x="241.5" y="90.5" width="1.15" height="1.15"/>
<rect x="235.7" y="94.7" width="1.15" height="1.15"/>
<rect x="235.2" y="79.7" width="1.15" height="1.15"/>
<rect x="249.8" y="92.8" width="1.15" height="1.15"/>
<rect x="235.7" y="82.9" width="1.15" height="1.15"/>
<rect x="246.8" y="101.5" width="1.15" height="1.15"/>
<rect x="247.5" y="100.4" width="1.15" height="1.15"/>
<rect x="249.1" y="85.3" width="1.15" height="1.15"/>
<rect x="234.8" y="93.9" width="1.15" height="1.15"/>
<rect x="239.0" y="85.3" width="1.15" height="1.15"/>
<rect x="245.0" y="99.2" width="1.15" height="1.15"/>
<rect x="246.4" y="83.1" width="1.15" height="1.15"/>
<rect x="246.4" y="86.0" width="1.15" height="1.15"/>
<rect x="240.8" y="83.2" width="1.15" height="1.15"/>
<rect x="240.2" y="94.7" width="1.15" height="1.15"/>
<rect x="236.4" y="89.5" width="1.15" height="1.15"/>
<rect x="237.9" y="87.8" width="1.15" height="1.15"/>
<rect x="239.8" y="88.6" width="1.15" height="1.15"/>
<rect x="240.4" y="88.2" width="1.15" height="1.15"/>
<rect x="238.1" y="95.3" width="1.15" height="1.15"/>
<rect x="232.4" y="80.1" width="1.15" height="1.15"/>
<rect x="231.2" y="81.0" width="1.15" height="1.15"/>
<rect x="237.6" y="80.9" width="1.15" height="1.15"/>
<rect x="246.2" y="96.8" width="1.15" height="1.15"/>
<rect x="246.8" y="98.1" width="1.15" height="1.15"/>
<rect x="233.6" y="91.3" width="1.15" height="1.15"/>
<rect x="238.5" y="86.0" width="1.15" height="1.15"/>
<rect x="235.4" y="95.8" width="1.15" height="1.15"/>
<rect x="240.0" y="80.2" width="1.15" height="1.15"/>
<rect x="244.5" y="81.3" width="1.15" height="1.15"/>
<rect x="246.4" y="84.8" width="1.15" height="1.15"/>
<rect x="242.7" y="101.3" width="1.15" height="1.15"/>
<rect x="234.3" y="86.7" width="1.15" height="1.15"/>
<rect x="249.0" y="86.2" width="1.15" height="1.15"/>
<rect x="248.4" y="84.2" width="1.15" height="1.15"/>
<rect x="246.6" y="83.0" width="1.15" height="1.15"/>
<rect x="249.5" y="85.8" width="1.15" height="1.15"/>
<rect x="231.4" y="86.8" width="1.15" height="1.15"/>
<rect x="232.1" y="92.8" width="1.15" height="1.15"/>
<rect x="231.1" y="92.1" width="1.15" height="1.15"/>
<rect x="246.7" y="97.2" width="1.15" height="1.15"/>
<rect x="232.4" y="90.0" width="1.15" height="1.15"/>
<rect x="233.1" y="91.5" width="1.15" height="1.15"/>
<rect x="240.3" y="83.0" width="1.15" height="1.15"/>
<rect x="237.8" y="93.4" width="1.15" height="1.15"/>
<rect x="249.9" y="95.1" width="1.15" height="1.15"/>
<rect x="230.8" y="85.4" width="1.15" height="1.15"/>
<rect x="243.1" y="98.7" width="1.15" height="1.15"/>
<rect x="231.8" y="81.8" width="1.15" height="1.15"/>
<rect x="247.3" y="97.9" width="1.15" height="1.15"/>
<rect x="249.6" y="87.8" width="1.15" height="1.15"/>
<rect x="241.0" y="79.2" width="1.15" height="1.15"/>
<rect x="242.7" y="88.8" width="1.15" height="1.15"/>
<rect x="248.9" y="85.7" width="1.15" height="1.15"/>
<rect x="245.2" y="79.2" width="1.15" height="1.15"/>
<rect x="242.8" y="89.0" width="1.15" height="1.15"/>
<rect x="234.5" y="80.1" width="1.15" height="1.15"/>
<rect x="240.0" y="80.8" width="1.15" height="1.15"/>
<rect x="246.9" y="96.3" width="1.15" height="1.15"/>
<rect x="240.0" y="99.2" width="1.15" height="1.15"/>
<rect x="245.3" y="87.8" width="1.15" height="1.15"/>
<rect x="238.4" y="94.5" width="1.15" height="1.15"/>
<rect x="238.6" y="85.2" width="1.15" height="1.15"/>
<rect x="247.7" y="85.4" width="1.15" height="1.15"/>
<rect x="250.5" y="93.2" width="1.15" height="1.15"/>
<rect x="232.4" y="87.6" width="1.15" height="1.15"/>
<rect x="244.5" y="98.8" width="1.15" height="1.15"/>
<rect x="233.0" y="81.6" width="1.15" height="1.15"/>
<rect x="241.8" y="94.0" width="1.15" height="1.15"/>
<rect x="229.2" y="80.9" width="1.15" height="1.15"/>
<rect x="239.3" y="91.7" width="1.15" height="1.15"/>
<rect x="232.2" y="91.1" width="1.15" height="1.15"/>
<rect x="241.2" y="84.1" width="1.15" height="1.15"/>
<rect x="240.7" y="91.6" width="1.15" height="1.15"/>
<rect x="237.5" y="85.3" width="1.15" height="1.15"/>
<rect x="238.1" y="88.8" width="1.15" height="1.15"/>
<rect x="241.6" y="87.5" width="1.15" height="1.15"/>
<rect x="234.0" y="96.4" width="1.15" height="1.15"/>
<rect x="244.1" y="97.2" width="1.15" height="1.15"/>
<rect x="243.7" y="78.9" width="1.15" height="1.15"/>
<rect x="229.4" y="86.3" width="1.15" height="1.15"/>
<rect x="239.5" y="94.4" width="1.15" height="1.15"/>
<rect x="228.0" y="84.8" width="1.15" height="1.15"/>
<rect x="246.5" y="100.1" width="1.15" height="1.15"/>
<rect x="246.7" y="87.0" width="1.15" height="1.15"/>
<rect x="233.0" y="95.1" width="1.15" height="1.15"/>
<rect x="242.6" y="90.1" width="1.15" height="1.15"/>
<rect x="245.3" y="89.2" width="1.15" height="1.15"/>
<rect x="246.8" y="95.5" width="1.15" height="1.15"/>
<rect x="248.0" y="84.3" width="1.15" height="1.15"/>
<rect x="232.0" y="92.5" width="1.15" height="1.15"/>
<rect x="247.9" y="85.7" width="1.15" height="1.15"/>
<rect x="239.3" y="95.8" width="1.15" height="1.15"/>
<rect x="247.2" y="97.3" width="1.15" height="1.15"/>
<rect x="234.5" y="85.6" width="1.15" height="1.15"/>
<rect x="245.9" y="83.5" width="1.15" height="1.15"/>
<rect x="227.7" y="81.5" width="1.15" height="1.15"/>
<rect x="246.8" y="100.4" width="1.15" height="1.15"/>
<rect x="249.5" y="95.4" width="1.15" height="1.15"/>
<rect x="251.0" y="94.5" width="1.15" height="1.15"/>
<rect x="240.2" y="87.8" width="1.15" height="1.15"/>
<rect x="230.4" y="90.0" width="1.15" height="1.15"/>
<rect x="240.1" y="88.9" width="1.15" height="1.15"/>
<rect x="230.9" y="90.4" width="1.15" height="1.15"/>
<rect x="240.3" y="86.6" width="1.15" height="1.15"/>
<rect x="249.2" y="98.8" width="1.15" height="1.15"/>
<rect x="247.6" y="84.3" width="1.15" height="1.15"/>
<rect x="248.3" y="86.0" width="1.15" height="1.15"/>
<rect x="246.7" y="86.8" width="1.15" height="1.15"/>
<rect x="242.6" y="90.2" width="1.15" height="1.15"/>
<rect x="247.9" y="87.0" width="1.15" height="1.15"/>
<rect x="233.2" y="82.8" width="1.15" height="1.15"/>
<rect x="239.7" y="83.0" width="1.15" height="1.15"/>
<rect x="244.1" y="84.8" width="1.15" height="1.15"/>
<rect x="238.4" y="87.7" width="1.15" height="1.15"/>
<rect x="250.5" y="85.3" width="1.15" height="1.15"/>
<rect x="227.0" y="80.4" width="1.15" height="1.15"/>
<rect x="249.3" y="86.4" width="1.15" height="1.15"/>
<rect x="244.7" y="81.9" width="1.15" height="1.15"/>
<rect x="246.5" y="82.5" width="1.15" height="1.15"/>
<rect x="243.3" y="86.5" width="1.15" height="1.15"/>
<rect x="243.3" y="94.6" width="1.15" height="1.15"/>
<rect x="234.6" y="89.4" width="1.15" height="1.15"/>
<rect x="228.1" y="83.1" width="1.15" height="1.15"/>
<rect x="242.0" y="85.5" width="1.15" height="1.15"/>
<rect x="246.6" y="88.8" width="1.15" height="1.15"/>
<rect x="240.6" y="83.2" width="1.15" height="1.15"/>
<rect x="245.6" y="86.4" width="1.15" height="1.15"/>
<rect x="241.3" y="80.7" width="1.15" height="1.15"/>
<rect x="229.6" y="84.5" width="1.15" height="1.15"/>
<rect x="242.0" y="97.0" width="1.15" height="1.15"/>
<rect x="238.6" y="94.1" width="1.15" height="1.15"/>
<rect x="234.5" y="96.3" width="1.15" height="1.15"/>
<rect x="240.6" y="82.3" width="1.15" height="1.15"/>
<rect x="230.0" y="88.0" width="1.15" height="1.15"/>
<rect x="233.0" y="89.4" width="1.15" height="1.15"/>
<rect x="234.2" y="96.2" width="1.15" height="1.15"/>
<rect x="241.3" y="85.6" width="1.15" height="1.15"/>
<rect x="250.1" y="92.2" width="1.15" height="1.15"/>
<rect x="241.7" y="92.9" width="1.15" height="1.15"/>
<rect x="242.4" y="94.1" width="1.15" height="1.15"/>
<rect x="239.6" y="91.6" width="1.15" height="1.15"/>
<rect x="245.0" y="98.1" width="1.15" height="1.15"/>
<rect x="242.1" y="85.4" width="1.15" height="1.15"/>
<rect x="228.0" y="79.1" width="1.15" height="1.15"/>
<rect x="234.6" y="96.0" width="1.15" height="1.15"/>
<rect x="239.2" y="92.6" width="1.15" height="1.15"/>
<rect x="233.4" y="93.0" width="1.15" height="1.15"/>
<rect x="237.7" y="88.6" width="1.15" height="1.15"/>
<rect x="244.6" y="82.7" width="1.15" height="1.15"/>
<rect x="249.9" y="90.6" width="1.15" height="1.15"/>
<rect x="238.6" y="90.8" width="1.15" height="1.15"/>
<rect x="238.7" y="94.7" width="1.15" height="1.15"/>
<rect x="232.9" y="86.4" width="1.15" height="1.15"/>
<rect x="231.5" y="87.0" width="1.15" height="1.15"/>
<rect x="236.8" y="81.9" width="1.15" height="1.15"/>
<rect x="239.2" y="87.7" width="1.15" height="1.15"/>
<rect x="247.4" y="86.1" width="1.15" height="1.15"/>
<rect x="247.8" y="85.0" width="1.15" height="1.15"/>
<rect x="228.0" y="81.9" width="1.15" height="1.15"/>
<rect x="232.3" y="89.4" width="1.15" height="1.15"/>
<rect x="248.0" y="85.6" width="1.15" height="1.15"/>
<rect x="233.9" y="87.4" width="1.15" height="1.15"/>
<rect x="242.7" y="87.8" width="1.15" height="1.15"/>
<rect x="235.2" y="90.2" width="1.15" height="1.15"/>
<rect x="238.7" y="87.7" width="1.15" height="1.15"/>
<rect x="240.7" y="91.4" width="1.15" height="1.15"/>
<rect x="248.4" y="88.8" width="1.15" height="1.15"/>
<rect x="233.6" y="88.8" width="1.15" height="1.15"/>
<rect x="230.2" y="79.9" width="1.15" height="1.15"/>
<rect x="239.5" y="83.1" width="1.15" height="1.15"/>
<rect x="233.2" y="87.2" width="1.15" height="1.15"/>
<rect x="231.0" y="84.1" width="1.15" height="1.15"/>
<rect x="234.3" y="81.3" width="1.15" height="1.15"/>
<rect x="232.7" y="88.1" width="1.15" height="1.15"/>
<rect x="228.8" y="84.9" width="1.15" height="1.15"/>
<rect x="242.3" y="93.4" width="1.15" height="1.15"/>
<rect x="237.3" y="94.3" width="1.15" height="1.15"/>
<rect x="229.5" y="87.1" width="1.15" height="1.15"/>
<rect x="244.5" y="99.7" width="1.15" height="1.15"/>
<rect x="231.8" y="94.3" width="1.15" height="1.15"/>
<rect x="247.8" y="95.8" width="1.15" height="1.15"/>
<rect x="234.8" y="85.0" width="1.15" height="1.15"/>
<rect x="247.6" y="87.4" width="1.15" height="1.15"/>
<rect x="244.8" y="94.9" width="1.15" height="1.15"/>
<rect x="236.0" y="80.2" width="1.15" height="1.15"/>
<rect x="234.4" y="92.4" width="1.15" height="1.15"/>
<rect x="245.9" y="91.0" width="1.15" height="1.15"/>
<rect x="234.5" y="95.7" width="1.15" height="1.15"/>
<rect x="239.1" y="96.6" width="1.15" height="1.15"/>
<rect x="244.7" y="97.5" width="1.15" height="1.15"/>
<rect x="245.2" y="89.4" width="1.15" height="1.15"/>
<rect x="247.3" y="96.1" width="1.15" height="1.15"/>
<rect x="236.6" y="87.8" width="1.15" height="1.15"/>
<rect x="247.1" y="82.7" width="1.15" height="1.15"/>
<rect x="246.4" y="81.0" width="1.15" height="1.15"/>
<rect x="231.3" y="86.5" width="1.15" height="1.15"/>
<rect x="231.0" y="82.6" width="1.15" height="1.15"/>
<rect x="242.3" y="87.2" width="1.15" height="1.15"/>
<rect x="227.6" y="83.0" width="1.15" height="1.15"/>
<rect x="239.9" y="97.1" width="1.15" height="1.15"/>
<rect x="247.3" y="95.0" width="1.15" height="1.15"/>
<rect x="247.6" y="97.6" width="1.15" height="1.15"/>
<rect x="249.9" y="94.5" width="1.15" height="1.15"/>
<rect x="240.7" y="96.8" width="1.15" height="1.15"/>
<rect x="230.7" y="83.1" width="1.15" height="1.15"/>
<rect x="232.5" y="86.9" width="1.15" height="1.15"/>
<rect x="228.3" y="79.9" width="1.15" height="1.15"/>
<rect x="244.6" y="86.4" width="1.15" height="1.15"/>
<rect x="245.3" y="92.5" width="1.15" height="1.15"/>
<rect x="233.9" y="82.2" width="1.15" height="1.15"/>
<rect x="239.0" y="98.5" width="1.15" height="1.15"/>
<rect x="251.0" y="97.5" width="1.15" height="1.15"/>
<rect x="241.0" y="97.5" width="1.15" height="1.15"/>
<rect x="244.6" y="80.0" width="1.15" height="1.15"/>
<rect x="235.9" y="90.3" width="1.15" height="1.15"/>
<rect x="243.8" y="84.0" width="1.15" height="1.15"/>
<rect x="240.5" y="83.9" width="1.15" height="1.15"/>
<rect x="248.0" y="88.8" width="1.15" height="1.15"/>
<rect x="246.9" y="88.5" width="1.15" height="1.15"/>
<rect x="244.2" y="82.3" width="1.15" height="1.15"/>
<rect x="246.2" y="79.2" width="1.15" height="1.15"/>
<rect x="229.9" y="81.2" width="1.15" height="1.15"/>
<rect x="238.0" y="86.6" width="1.15" height="1.15"/>
<rect x="246.1" y="88.1" width="1.15" height="1.15"/>
<rect x="242.2" y="93.7" width="1.15" height="1.15"/>
<rect x="237.9" y="96.5" width="1.15" height="1.15"/>
<rect x="241.6" y="79.8" width="1.15" height="1.15"/>
<rect x="236.7" y="92.4" width="1.15" height="1.15"/>
<rect x="247.9" y="97.5" width="1.15" height="1.15"/>
<rect x="238.3" y="91.6" width="1.15" height="1.15"/>
<rect x="230.4" y="87.6" width="1.15" height="1.15"/>
<rect x="245.4" y="85.6" width="1.15" height="1.15"/>
<rect x="247.3" y="86.6" width="1.15" height="1.15"/>
<rect x="245.2" y="82.2" width="1.15" height="1.15"/>
<rect x="241.3" y="97.8" width="1.15" height="1.15"/>
<rect x="238.5" y="85.0" width="1.15" height="1.15"/>
<rect x="246.2" y="90.8" width="1.15" height="1.15"/>
<rect x="247.1" y="99.1" width="1.15" height="1.15"/>
<rect x="231.4" y="93.3" width="1.15" height="1.15"/>
<rect x="226.0" y="80.2" width="1.15" height="1.15"/>
<rect x="232.1" y="80.3" width="1.15" height="1.15"/>
<rect x="238.0" y="87.1" width="1.15" height="1.15"/>
<rect x="244.6" y="97.2" width="1.15" height="1.15"/>
<rect x="247.3" y="100.7" width="1.15" height="1.15"/>
<rect x="235.0" y="90.1" width="1.15" height="1.15"/>
<rect x="244.5" y="80.0" width="1.15" height="1.15"/>
<rect x="251.1" y="92.0" width="1.15" height="1.15"/>
<rect x="228.4" y="84.2" width="1.15" height="1.15"/>
<rect x="235.3" y="84.7" width="1.15" height="1.15"/>
<rect x="235.1" y="87.5" width="1.15" height="1.15"/>
<rect x="233.1" y="84.0" width="1.15" height="1.15"/>
<rect x="240.8" y="90.3" width="1.15" height="1.15"/>
<rect x="243.8" y="97.9" width="1.15" height="1.15"/>
<rect x="240.9" y="92.3" width="1.15" height="1.15"/>
<rect x="246.7" y="86.4" width="1.15" height="1.15"/>
<rect x="248.5" y="87.3" width="1.15" height="1.15"/>
<rect x="240.0" y="96.5" width="1.15" height="1.15"/>
<rect x="232.3" y="91.0" width="1.15" height="1.15"/>
<rect x="248.2" y="95.0" width="1.15" height="1.15"/>
<rect x="240.8" y="81.0" width="1.15" height="1.15"/>
<rect x="242.2" y="95.9" width="1.15" height="1.15"/>
<rect x="245.7" y="100.9" width="1.15" height="1.15"/>
<rect x="232.9" y="83.7" width="1.15" height="1.15"/>
<rect x="239.7" y="85.1" width="1.15" height="1.15"/>
<rect x="242.7" y="91.0" width="1.15" height="1.15"/>
<rect x="232.7" y="92.9" width="1.15" height="1.15"/>
<rect x="234.4" y="79.6" width="1.15" height="1.15"/>
<rect x="234.4" y="83.6" width="1.15" height="1.15"/>
<rect x="242.5" y="98.5" width="1.15" height="1.15"/>
<rect x="248.9" y="95.2" width="1.15" height="1.15"/>
<rect x="245.9" y="84.7" width="1.15" height="1.15"/>
<rect x="241.5" y="99.8" width="1.15" height="1.15"/>
<rect x="242.9" y="91.9" width="1.15" height="1.15"/>
<rect x="237.3" y="91.9" width="1.15" height="1.15"/>
<rect x="248.1" y="91.9" width="1.15" height="1.15"/>
<rect x="234.9" y="85.2" width="1.15" height="1.15"/>
<rect x="242.4" y="96.4" width="1.15" height="1.15"/>
<rect x="241.9" y="85.8" width="1.15" height="1.15"/>
<rect x="243.6" y="80.7" width="1.15" height="1.15"/>
<rect x="251.4" y="93.6" width="1.15" height="1.15"/>
<rect x="232.1" y="85.3" width="1.15" height="1.15"/>
<rect x="249.1" y="99.0" width="1.15" height="1.15"/>
<rect x="233.4" y="79.3" width="1.15" height="1.15"/>
<rect x="248.2" y="83.0" width="1.15" height="1.15"/>
<rect x="237.6" y="92.4" width="1.15" height="1.15"/>
<rect x="238.6" y="97.0" width="1.15" height="1.15"/>
<rect x="231.3" y="81.7" width="1.15" height="1.15"/>
<rect x="233.0" y="93.1" width="1.15" height="1.15"/>
<rect x="247.0" y="101.0" width="1.15" height="1.15"/>
<rect x="246.4" y="88.5" width="1.15" height="1.15"/>
<rect x="246.1" y="82.4" width="1.15" height="1.15"/>
<rect x="238.2" y="80.4" width="1.15" height="1.15"/>
<rect x="244.0" y="86.6" width="1.15" height="1.15"/>
<rect x="240.4" y="87.7" width="1.15" height="1.15"/>
<rect x="244.9" y="86.5" width="1.15" height="1.15"/>
<rect x="246.7" y="96.0" width="1.15" height="1.15"/>
<rect x="235.2" y="82.1" width="1.15" height="1.15"/>
<rect x="248.2" y="88.1" width="1.15" height="1.15"/>
<rect x="248.3" y="83.1" width="1.15" height="1.15"/>
<rect x="246.6" y="88.9" width="1.15" height="1.15"/>
<rect x="231.8" y="82.2" width="1.15" height="1.15"/>
<rect x="249.9" y="98.4" width="1.15" height="1.15"/>
<rect x="238.0" y="95.5" width="1.15" height="1.15"/>
<rect x="251.2" y="95.6" width="1.15" height="1.15"/>
<rect x="233.5" y="83.1" width="1.15" height="1.15"/>
<rect x="229.3" y="81.1" width="1.15" height="1.15"/>
<rect x="238.7" y="88.4" width="1.15" height="1.15"/>
<rect x="238.4" y="80.9" width="1.15" height="1.15"/>
<rect x="234.1" y="91.4" width="1.15" height="1.15"/>
<rect x="244.8" y="84.3" width="1.15" height="1.15"/>
<rect x="244.1" y="85.5" width="1.15" height="1.15"/>
<rect x="235.4" y="90.9" width="1.15" height="1.15"/>
<rect x="247.5" y="81.2" width="1.15" height="1.15"/>
<rect x="241.0" y="83.2" width="1.15" height="1.15"/>
<rect x="240.7" y="89.2" width="1.15" height="1.15"/>
<rect x="243.3" y="93.4" width="1.15" height="1.15"/>
<rect x="251.1" y="92.7" width="1.15" height="1.15"/>
<rect x="235.0" y="82.3" width="1.15" height="1.15"/>
<rect x="241.4" y="85.7" width="1.15" height="1.15"/>
<rect x="241.5" y="94.6" width="1.15" height="1.15"/>
<rect x="236.0" y="95.8" width="1.15" height="1.15"/>
<rect x="248.0" y="98.7" width="1.15" height="1.15"/>
<rect x="249.6" y="94.1" width="1.15" height="1.15"/>
<rect x="232.2" y="89.1" width="1.15" height="1.15"/>
<rect x="234.7" y="85.6" width="1.15" height="1.15"/>
<rect x="242.6" y="99.6" width="1.15" height="1.15"/>
<rect x="234.3" y="79.6" width="1.15" height="1.15"/>
<rect x="247.4" y="81.7" width="1.15" height="1.15"/>
<rect x="239.3" y="91.3" width="1.15" height="1.15"/>
<rect x="250.5" y="85.2" width="1.15" height="1.15"/>
<rect x="246.5" y="88.4" width="1.15" height="1.15"/>
<rect x="233.7" y="81.5" width="1.15" height="1.15"/>
<rect x="249.1" y="99.1" width="1.15" height="1.15"/>
<rect x="249.7" y="90.6" width="1.15" height="1.15"/>
<rect x="231.7" y="82.2" width="1.15" height="1.15"/>
<rect x="246.2" y="86.0" width="1.15" height="1.15"/>
<rect x="233.5" y="91.4" width="1.15" height="1.15"/>
<rect x="230.6" y="84.8" width="1.15" height="1.15"/>
<rect x="245.9" y="88.5" width="1.15" height="1.15"/>
<rect x="248.3" y="86.6" width="1.15" height="1.15"/>
<rect x="231.2" y="92.6" width="1.15" height="1.15"/>
<rect x="240.5" y="91.4" width="1.15" height="1.15"/>
<rect x="246.1" y="83.7" width="1.15" height="1.15"/>
<rect x="246.4" y="80.8" width="1.15" height="1.15"/>
<rect x="242.6" y="94.5" width="1.15" height="1.15"/>
<rect x="246.7" y="96.0" width="1.15" height="1.15"/>
<rect x="247.5" y="87.1" width="1.15" height="1.15"/>
<rect x="231.5" y="81.6" width="1.15" height="1.15"/>
<rect x="243.3" y="82.6" width="1.15" height="1.15"/>
<rect x="233.4" y="83.5" width="1.15" height="1.15"/>
<rect x="237.5" y="95.0" width="1.15" height="1.15"/>
<rect x="234.8" y="83.8" width="1.15" height="1.15"/>
<rect x="237.1" y="85.7" width="1.15" height="1.15"/>
<rect x="249.2" y="94.9" width="1.15" height="1.15"/>
<rect x="236.0" y="90.1" width="1.15" height="1.15"/>
<rect x="243.0" y="94.1" width="1.15" height="1.15"/>
<rect x="241.2" y="86.3" width="1.15" height="1.15"/>
<rect x="243.8" y="80.3" width="1.15" height="1.15"/>
<rect x="244.2" y="97.3" width="1.15" height="1.15"/>
<rect x="253.9" y="85.5" width="1.15" height="1.15"/>
<rect x="258.2" y="88.4" width="1.15" height="1.15"/>
<rect x="245.6" y="104.4" width="1.15" height="1.15"/>
<rect x="253.0" y="103.1" width="1.15" height="1.15"/>
<rect x="250.2" y="101.3" width="1.15" height="1.15"/>
<rect x="253.4" y="94.4" width="1.15" height="1.15"/>
<rect x="248.4" y="102.9" width="1.15" height="1.15"/>
<rect x="235.9" y="99.9" width="1.15" height="1.15"/>
<rect x="240.4" y="101.9" width="1.15" height="1.15"/>
</g>
<text x="90.7" y="72.4" font-size="8" text-anchor="start" fill="#5cb4e6" font-weight="normal" stroke="#5cb4e6" stroke-width="0.15" >Platelets</text>
<text x="61.4" y="102.7" font-size="8" text-anchor="start" fill="#e8389c" font-weight="normal" stroke="#e8389c" stroke-width="0.15" >Progeny</text>
<text x="192.8" y="41.4" font-size="8" text-anchor="start" fill="#5cb4e6" font-weight="normal" stroke="#5cb4e6" stroke-width="0.15" >Platelets</text>
<text x="196.2" y="90.0" font-size="8" text-anchor="start" fill="#000" font-weight="normal" stroke="#000" stroke-width="0.15" >~10%</text>
<text x="190.6" y="102.3" font-size="8" text-anchor="start" fill="#e8389c" font-weight="normal" stroke="#e8389c" stroke-width="0.15" >Progeny</text>
<text transform="translate(138.7,137.2) scale(0.7,1)" font-size="9" text-anchor="start" fill="#000" stroke="#000" stroke-width="0.38">CD61 intensity</text>
<text transform="translate(17.7,97.2) rotate(-90) scale(0.7,1)" font-size="9" text-anchor="start" fill="#000" stroke="#000" stroke-width="0.38">CellTrace<tspan font-size="5.5" dy="-3.2">TM</tspan><tspan dy="3.2"> intensity</tspan></text>
<rect x="315.60" y="22.30" width="61.80" height="23.50" fill="#000" stroke="none" stroke-width="1" />
<rect x="377.00" y="22.30" width="136.20" height="125.00" fill="#000" stroke="none" stroke-width="1" />
<line x1="377.00" y1="46.80" x2="513.20" y2="46.80" stroke="#2b2b2b" stroke-width="1"/>
<line x1="377.00" y1="72.40" x2="513.20" y2="72.40" stroke="#2b2b2b" stroke-width="1"/>
<line x1="377.00" y1="99.00" x2="513.20" y2="99.00" stroke="#2b2b2b" stroke-width="1"/>
<line x1="377.00" y1="121.60" x2="513.20" y2="121.60" stroke="#2b2b2b" stroke-width="1"/>
<circle cx="411.20" cy="33.00" r="2.9" fill="#1cf21c" filter="url(#gl)"/>
<circle cx="411.20" cy="58.30" r="2.9" fill="#1cf21c" filter="url(#gl)"/>
<circle cx="411.20" cy="86.50" r="2.9" fill="#1cf21c" filter="url(#gl)"/>
<circle cx="411.20" cy="109.70" r="2.9" fill="#1cf21c" filter="url(#gl)"/>
<circle cx="411.20" cy="134.50" r="2.9" fill="#1cf21c" filter="url(#gl)"/>
<circle cx="479.30" cy="32.80" r="3.2" fill="url(#yg)" filter="url(#gl)"/>
<circle cx="479.30" cy="58.40" r="3.2" fill="url(#yg)" filter="url(#gl)"/>
<circle cx="479.60" cy="86.60" r="3.2" fill="url(#yg)" filter="url(#gl)"/>
<circle cx="479.60" cy="109.80" r="3.2" fill="url(#yg)" filter="url(#gl)"/>
<circle cx="479.60" cy="134.60" r="3.2" fill="url(#yg)" filter="url(#gl)"/>
<rect x="380.00" y="142.00" width="12.50" height="3.10" fill="#fff" stroke="none" stroke-width="1" />
<text x="411.5" y="18.6" font-size="9" text-anchor="middle" fill="#000" font-weight="normal" stroke="#000" stroke-width="0.15" >CD61</text>
<text x="452.0" y="18.6" font-size="9" text-anchor="start" fill="#000" font-weight="normal" stroke="#000" stroke-width="0.15" >CellTrace<tspan font-size="7" dy="-3.4">TM</tspan></text>
<text x="323.8" y="37.2" font-size="9" text-anchor="start" fill="#3ca4e0" font-weight="normal" stroke="#3ca4e0" stroke-width="0.15" >Platelets</text>
<rect x="315.50" y="150.00" width="61.50" height="23.10" fill="#000" stroke="none" stroke-width="1" />
<rect x="376.50" y="149.80" width="136.80" height="146.50" fill="#000" stroke="none" stroke-width="1" />
<line x1="376.50" y1="178.80" x2="513.30" y2="178.80" stroke="#2b2b2b" stroke-width="1"/>
<line x1="376.50" y1="209.20" x2="513.30" y2="209.20" stroke="#2b2b2b" stroke-width="1"/>
<line x1="376.50" y1="236.20" x2="513.30" y2="236.20" stroke="#2b2b2b" stroke-width="1"/>
<line x1="376.50" y1="266.10" x2="513.30" y2="266.10" stroke="#2b2b2b" stroke-width="1"/>
<circle cx="408.40" cy="164.50" r="2.9" fill="#1cf21c" filter="url(#gl)"/>
<circle cx="408.60" cy="194.80" r="2.9" fill="#1cf21c" filter="url(#gl)"/>
<circle cx="408.60" cy="223.40" r="2.9" fill="#1cf21c" filter="url(#gl)"/>
<circle cx="409.80" cy="250.80" r="2.9" fill="#1cf21c" filter="url(#gl)"/>
<circle cx="406.50" cy="281.60" r="2.9" fill="#1cf21c" filter="url(#gl)"/>
<rect x="378.70" y="289.40" width="12.30" height="3.30" fill="#fff" stroke="none" stroke-width="1" />
<text x="323.7" y="164.4" font-size="9" text-anchor="start" fill="#d41e90" font-weight="normal" stroke="#d41e90" stroke-width="0.15" >Progeny</text>
<line x1="46.60" y1="159.30" x2="46.60" y2="245.30" stroke="#000" stroke-width="1.1"/>
<line x1="46.00" y1="245.30" x2="101.50" y2="245.30" stroke="#000" stroke-width="1.1"/>
<line x1="43.60" y1="245.30" x2="46.60" y2="245.30" stroke="#000" stroke-width="1"/>
<text x="41.3" y="248.2" font-size="8.2" text-anchor="end" fill="#000" font-weight="normal" stroke="#000" stroke-width="0.15" >95</text>
<line x1="43.60" y1="224.70" x2="46.60" y2="224.70" stroke="#000" stroke-width="1"/>
<text x="41.3" y="227.6" font-size="8.2" text-anchor="end" fill="#000" font-weight="normal" stroke="#000" stroke-width="0.15" >100</text>
<line x1="43.60" y1="204.10" x2="46.60" y2="204.10" stroke="#000" stroke-width="1"/>
<text x="41.3" y="207.0" font-size="8.2" text-anchor="end" fill="#000" font-weight="normal" stroke="#000" stroke-width="0.15" >105</text>
<line x1="43.60" y1="183.50" x2="46.60" y2="183.50" stroke="#000" stroke-width="1"/>
<text x="41.3" y="186.4" font-size="8.2" text-anchor="end" fill="#000" font-weight="normal" stroke="#000" stroke-width="0.15" >110</text>
<line x1="43.60" y1="162.90" x2="46.60" y2="162.90" stroke="#000" stroke-width="1"/>
<text x="41.3" y="165.8" font-size="8.2" text-anchor="end" fill="#000" font-weight="normal" stroke="#000" stroke-width="0.15" >115</text>
<rect x="55.10" y="234.18" width="14.20" height="11.12" fill="#8aaed0" stroke="none" stroke-width="1" />
<rect x="78.20" y="186.30" width="14.70" height="59.00" fill="#e38a9b" stroke="none" stroke-width="1" />
<line x1="62.20" y1="245.30" x2="62.20" y2="248.30" stroke="#000" stroke-width="1"/>
<line x1="85.50" y1="245.30" x2="85.50" y2="248.30" stroke="#000" stroke-width="1"/>
<line x1="62.50" y1="228.00" x2="62.50" y2="241.00" stroke="#222" stroke-width="1"/>
<line x1="59.30" y1="228.00" x2="65.70" y2="228.00" stroke="#222" stroke-width="1"/>
<line x1="59.30" y1="241.00" x2="65.70" y2="241.00" stroke="#222" stroke-width="1"/>
<line x1="85.50" y1="180.00" x2="85.50" y2="192.40" stroke="#222" stroke-width="1"/>
<line x1="82.30" y1="180.00" x2="88.70" y2="180.00" stroke="#222" stroke-width="1"/>
<line x1="82.30" y1="192.40" x2="88.70" y2="192.40" stroke="#222" stroke-width="1"/>
<circle cx="62.20" cy="228.60" r="2.2" fill="#1d5c9a" />
<circle cx="62.20" cy="233.30" r="2.2" fill="#1d5c9a" />
<circle cx="62.20" cy="240.80" r="2.2" fill="#1d5c9a" />
<circle cx="85.50" cy="180.20" r="2.2" fill="#d6203d" />
<circle cx="85.50" cy="187.80" r="2.2" fill="#d6203d" />
<circle cx="85.50" cy="191.80" r="2.2" fill="#d6203d" />
<circle cx="81.15" cy="172.45" r="1.1" fill="#000" />
<circle cx="84.86" cy="172.45" r="1.1" fill="#000" />
<circle cx="88.37" cy="172.45" r="1.1" fill="#000" />
<text x="62.2" y="257.2" font-size="8" text-anchor="middle" fill="#000" font-weight="normal" stroke="#000" stroke-width="0.15" >0h</text>
<text x="85.6" y="257.2" font-size="8" text-anchor="middle" fill="#000" font-weight="normal" stroke="#000" stroke-width="0.15" >24h</text>
<text transform="translate(22.3,229.5) rotate(-90) scale(0.72,1)" font-size="9" text-anchor="start" fill="#000" stroke="#000" stroke-width="0.38">Platelets <tspan font-size="10.5">×</tspan> 10<tspan font-size="6.5" dy="-3.4">9</tspan><tspan dy="3.4">/L</tspan></text>
<rect x="177.60" y="159.00" width="97.80" height="86.60" fill="none" stroke="#000" stroke-width="1.2" />
<line x1="174.80" y1="169.80" x2="177.60" y2="169.80" stroke="#000" stroke-width="1"/>
<text x="173.4" y="172.4" font-size="7.4" text-anchor="end" fill="#000" font-weight="normal" stroke="#000" stroke-width="0.15" >.5</text>
<line x1="174.80" y1="185.00" x2="177.60" y2="185.00" stroke="#000" stroke-width="1"/>
<text x="173.4" y="187.6" font-size="7.4" text-anchor="end" fill="#000" font-weight="normal" stroke="#000" stroke-width="0.15" >2</text>
<line x1="174.80" y1="200.20" x2="177.60" y2="200.20" stroke="#000" stroke-width="1"/>
<text x="173.4" y="202.8" font-size="7.4" text-anchor="end" fill="#000" font-weight="normal" stroke="#000" stroke-width="0.15" >.5</text>
<line x1="174.80" y1="215.40" x2="177.60" y2="215.40" stroke="#000" stroke-width="1"/>
<text x="173.4" y="218.0" font-size="7.4" text-anchor="end" fill="#000" font-weight="normal" stroke="#000" stroke-width="0.15" >1</text>
<line x1="174.80" y1="230.50" x2="177.60" y2="230.50" stroke="#000" stroke-width="1"/>
<text x="173.4" y="233.1" font-size="7.4" text-anchor="end" fill="#000" font-weight="normal" stroke="#000" stroke-width="0.15" >.5</text>
<line x1="174.80" y1="245.60" x2="177.60" y2="245.60" stroke="#000" stroke-width="1"/>
<text x="173.4" y="248.2" font-size="7.4" text-anchor="end" fill="#000" font-weight="normal" stroke="#000" stroke-width="0.15" >0</text>
<text transform="translate(162.7,227.6) rotate(-90) scale(0.7,1)" font-size="9" text-anchor="start" fill="#000" stroke="#000" stroke-width="0.38">Normalised freq</text>
<line x1="189.20" y1="245.60" x2="189.20" y2="248.40" stroke="#000" stroke-width="1"/>
<line x1="208.90" y1="245.60" x2="208.90" y2="248.40" stroke="#000" stroke-width="1"/>
<line x1="220.40" y1="245.60" x2="220.40" y2="248.40" stroke="#000" stroke-width="1"/>
<line x1="230.40" y1="245.60" x2="230.40" y2="248.40" stroke="#000" stroke-width="1"/>
<line x1="249.30" y1="245.60" x2="249.30" y2="248.40" stroke="#000" stroke-width="1"/>
<line x1="268.60" y1="245.60" x2="268.60" y2="248.40" stroke="#000" stroke-width="1"/>
<text x="189.2" y="255.6" font-size="7.1" text-anchor="middle" fill="#000" font-weight="normal" stroke="#000" stroke-width="0.15" >−1e4</text>
<text x="208.9" y="255.6" font-size="7.1" text-anchor="middle" fill="#000" font-weight="normal" stroke="#000" stroke-width="0.15" >−1e3</text>
<text x="220.4" y="255.6" font-size="7.1" text-anchor="middle" fill="#000" font-weight="normal" stroke="#000" stroke-width="0.15" >0</text>
<text x="230.4" y="255.6" font-size="7.1" text-anchor="middle" fill="#000" font-weight="normal" stroke="#000" stroke-width="0.15" >1e3</text>
<text x="249.3" y="255.6" font-size="7.1" text-anchor="middle" fill="#000" font-weight="normal" stroke="#000" stroke-width="0.15" >1e4</text>
<text x="268.6" y="255.6" font-size="7.1" text-anchor="middle" fill="#000" font-weight="normal" stroke="#000" stroke-width="0.15" >1e5</text>
<line x1="236.09" y1="245.60" x2="236.09" y2="247.20" stroke="#000" stroke-width="0.6"/>
<line x1="239.42" y1="245.60" x2="239.42" y2="247.20" stroke="#000" stroke-width="0.6"/>
<line x1="241.78" y1="245.60" x2="241.78" y2="247.20" stroke="#000" stroke-width="0.6"/>
<line x1="243.61" y1="245.60" x2="243.61" y2="247.20" stroke="#000" stroke-width="0.6"/>
<line x1="245.11" y1="245.60" x2="245.11" y2="247.20" stroke="#000" stroke-width="0.6"/>
<line x1="246.37" y1="245.60" x2="246.37" y2="247.20" stroke="#000" stroke-width="0.6"/>
<line x1="247.47" y1="245.60" x2="247.47" y2="247.20" stroke="#000" stroke-width="0.6"/>
<line x1="248.44" y1="245.60" x2="248.44" y2="247.20" stroke="#000" stroke-width="0.6"/>
<line x1="255.11" y1="245.60" x2="255.11" y2="247.20" stroke="#000" stroke-width="0.6"/>
<line x1="258.51" y1="245.60" x2="258.51" y2="247.20" stroke="#000" stroke-width="0.6"/>
<line x1="260.92" y1="245.60" x2="260.92" y2="247.20" stroke="#000" stroke-width="0.6"/>
<line x1="262.79" y1="245.60" x2="262.79" y2="247.20" stroke="#000" stroke-width="0.6"/>
<line x1="264.32" y1="245.60" x2="264.32" y2="247.20" stroke="#000" stroke-width="0.6"/>
<line x1="265.61" y1="245.60" x2="265.61" y2="247.20" stroke="#000" stroke-width="0.6"/>
<line x1="266.73" y1="245.60" x2="266.73" y2="247.20" stroke="#000" stroke-width="0.6"/>
<line x1="267.72" y1="245.60" x2="267.72" y2="247.20" stroke="#000" stroke-width="0.6"/>
<line x1="202.97" y1="245.60" x2="202.97" y2="247.20" stroke="#000" stroke-width="0.6"/>
<line x1="199.50" y1="245.60" x2="199.50" y2="247.20" stroke="#000" stroke-width="0.6"/>
<line x1="197.04" y1="245.60" x2="197.04" y2="247.20" stroke="#000" stroke-width="0.6"/>
<line x1="195.13" y1="245.60" x2="195.13" y2="247.20" stroke="#000" stroke-width="0.6"/>
<line x1="193.57" y1="245.60" x2="193.57" y2="247.20" stroke="#000" stroke-width="0.6"/>
<line x1="192.25" y1="245.60" x2="192.25" y2="247.20" stroke="#000" stroke-width="0.6"/>
<line x1="191.11" y1="245.60" x2="191.11" y2="247.20" stroke="#000" stroke-width="0.6"/>
<line x1="190.10" y1="245.60" x2="190.10" y2="247.20" stroke="#000" stroke-width="0.6"/>
<text transform="translate(198.3,268.9) scale(0.64,1)" font-size="9.4" text-anchor="start" fill="#000" stroke="#000" stroke-width="0.38">CellTrace<tspan font-size="7" dy="-3.6">TM</tspan><tspan dy="3.6"> intensity</tspan></text>
<circle cx="183.80" cy="165.80" r="2.4" fill="#1a5494" />
<text x="189.5" y="168.3" font-size="7.3" text-anchor="start" fill="#000" font-weight="normal" stroke="#000" stroke-width="0.15" >0h</text>
<circle cx="183.80" cy="176.80" r="2.4" fill="#cc1634" />
<text x="189.5" y="179.2" font-size="7.3" text-anchor="start" fill="#000" font-weight="normal" stroke="#000" stroke-width="0.15" >24h</text>
<text x="206.0" y="206.0" font-size="7.4" text-anchor="middle" fill="#000" font-weight="normal" stroke="#000" stroke-width="0.15" >Division</text>
<text x="206.0" y="215.2" font-size="7.4" text-anchor="middle" fill="#000" font-weight="normal" stroke="#000" stroke-width="0.15" >peaks</text>
<line x1="191.90" y1="224.30" x2="201.20" y2="231.30" stroke="#000" stroke-width="1.1"/>
<polygon points="202.80,232.50 197.74,231.57 200.51,227.90" fill="#000"/>
<line x1="206.90" y1="224.30" x2="216.11" y2="231.29" stroke="#000" stroke-width="1.1"/>
<polygon points="217.70,232.50 212.65,231.55 215.43,227.89" fill="#000"/>
<path d="M190.8,245.2 C193,244.6 194.5,243.8 196.5,242.6 C198.5,241.4 200,239.8 201.3,238.8 C202.8,237.8 204,237.3 205.2,237.3 C206.6,237.3 207.6,238.3 209,238.3 C210,238.3 211,238.2 211.9,238.1 C213.5,237.6 214.6,237.1 215.8,236.5 C217,235.8 218.2,234.9 219.6,234.6 C221,234.4 222.2,234.4 223.5,234.4 C225.5,234.5 227.3,235.2 228.3,234.9 C229.6,234.4 230.3,232.4 231.2,229.6 C232.2,226.5 233.5,223.4 234.5,222.3 C235.3,221.5 236.2,221.4 236.8,221.7 C238,222.4 238.8,224.6 239.4,227.6 C240.2,231 240.8,233.8 241.5,235.9 C242.5,238.7 243.4,240.6 244.6,241.6 C246,242.8 247.2,243.2 248.7,243.4 C251.5,243.8 253.5,244.2 256,244.4 C258.5,244.7 261,245.1 263.2,245.3" fill="none" stroke="#d6203d" stroke-width="1.4"/>
<path d="M178.4,244.8 L235.8,244.8 C237.4,244.5 238.6,234.5 239.4,231.8 C240.3,227 240.9,217 241.5,211 C242.2,203.5 242.8,197 243.5,193.5 C244.3,189.2 245,186.7 245.8,186.7 C246.7,186.7 247.4,190.5 248.2,195.5 C248.9,200 249.2,204.5 249.7,209 C250.3,215 250.7,219.5 251.3,223.5 C252,228.3 252.6,231 253.4,232.8 C254.5,235.6 256.2,238.2 258,240 C260,241.9 262.2,244.3 264.2,245.3 L275.2,245.3" fill="none" stroke="#1f5fa0" stroke-width="1.4"/>
<line x1="46.10" y1="322.50" x2="46.10" y2="399.30" stroke="#000" stroke-width="1.1"/>
<line x1="45.50" y1="399.30" x2="99.40" y2="399.30" stroke="#000" stroke-width="1.1"/>
<line x1="43.10" y1="399.30" x2="46.10" y2="399.30" stroke="#000" stroke-width="1"/>
<text x="40.6" y="402.1" font-size="7.8" text-anchor="end" fill="#000" font-weight="normal" stroke="#000" stroke-width="0.15" >0</text>
<line x1="43.10" y1="381.15" x2="46.10" y2="381.15" stroke="#000" stroke-width="1"/>
<text x="40.6" y="383.9" font-size="7.8" text-anchor="end" fill="#000" font-weight="normal" stroke="#000" stroke-width="0.15" >20000</text>
<line x1="43.10" y1="363.00" x2="46.10" y2="363.00" stroke="#000" stroke-width="1"/>
<text x="40.6" y="365.8" font-size="7.8" text-anchor="end" fill="#000" font-weight="normal" stroke="#000" stroke-width="0.15" >40000</text>
<line x1="43.10" y1="344.85" x2="46.10" y2="344.85" stroke="#000" stroke-width="1"/>
<text x="40.6" y="347.7" font-size="7.8" text-anchor="end" fill="#000" font-weight="normal" stroke="#000" stroke-width="0.15" >60000</text>
<line x1="43.10" y1="326.70" x2="46.10" y2="326.70" stroke="#000" stroke-width="1"/>
<text x="40.6" y="329.5" font-size="7.8" text-anchor="end" fill="#000" font-weight="normal" stroke="#000" stroke-width="0.15" >80000</text>
<rect x="52.90" y="383.90" width="14.40" height="15.40" fill="#92d2ee" stroke="none" stroke-width="1" />
<rect x="73.60" y="340.90" width="14.20" height="58.40" fill="#f282c4" stroke="none" stroke-width="1" />
<line x1="60.30" y1="399.30" x2="60.30" y2="402.30" stroke="#000" stroke-width="1"/>
<line x1="80.80" y1="399.30" x2="80.80" y2="402.30" stroke="#000" stroke-width="1"/>
<line x1="60.50" y1="374.30" x2="60.50" y2="393.40" stroke="#222" stroke-width="1"/>
<line x1="57.30" y1="374.30" x2="63.70" y2="374.30" stroke="#222" stroke-width="1"/>
<line x1="57.30" y1="393.40" x2="63.70" y2="393.40" stroke="#222" stroke-width="1"/>
<line x1="80.50" y1="335.20" x2="80.50" y2="346.20" stroke="#222" stroke-width="1"/>
<line x1="77.30" y1="335.20" x2="83.70" y2="335.20" stroke="#222" stroke-width="1"/>
<line x1="77.30" y1="346.20" x2="83.70" y2="346.20" stroke="#222" stroke-width="1"/>
<circle cx="60.30" cy="376.00" r="2.2" fill="#20a4e0" />
<circle cx="60.30" cy="380.70" r="2.2" fill="#20a4e0" />
<circle cx="60.30" cy="394.40" r="2.2" fill="#20a4e0" />
<circle cx="80.40" cy="334.80" r="2.2" fill="#e6157f" />
<circle cx="85.70" cy="342.00" r="2.2" fill="#e6157f" />
<circle cx="75.70" cy="345.80" r="2.2" fill="#e6157f" />
<circle cx="80.80" cy="327.50" r="1.0" fill="#000" />
<text transform="translate(13.5,385.5) rotate(-90) scale(0.69,1)" font-size="9.4" text-anchor="start" fill="#000" stroke="#000" stroke-width="0.38">Mitotracker MFI</text>
<text x="63.4" y="406.9" font-size="7.4" text-anchor="end" fill="#000" font-weight="normal" stroke="#000" stroke-width="0.15" transform="rotate(-44 63.4 406.9)">Platelets</text>
<text x="84.6" y="408.0" font-size="7.3" text-anchor="end" fill="#000" font-weight="normal" stroke="#000" stroke-width="0.15" transform="rotate(-40 84.6 408.0)">Progeny</text>
<line x1="46.25" y1="434.50" x2="46.25" y2="510.60" stroke="#000" stroke-width="1.1"/>
<line x1="45.70" y1="510.60" x2="122.50" y2="510.60" stroke="#000" stroke-width="1.1"/>
<line x1="43.30" y1="510.60" x2="46.25" y2="510.60" stroke="#000" stroke-width="1"/>
<text x="41.8" y="513.4" font-size="7.9" text-anchor="end" fill="#000" font-weight="normal" stroke="#000" stroke-width="0.15" >0</text>
<line x1="43.30" y1="486.50" x2="46.25" y2="486.50" stroke="#000" stroke-width="1"/>
<text x="41.8" y="489.3" font-size="7.9" text-anchor="end" fill="#000" font-weight="normal" stroke="#000" stroke-width="0.15" >1000</text>
<line x1="43.30" y1="462.40" x2="46.25" y2="462.40" stroke="#000" stroke-width="1"/>
<text x="41.8" y="465.2" font-size="7.9" text-anchor="end" fill="#000" font-weight="normal" stroke="#000" stroke-width="0.15" >2000</text>
<line x1="43.30" y1="438.30" x2="46.25" y2="438.30" stroke="#000" stroke-width="1"/>
<text x="41.8" y="441.1" font-size="7.9" text-anchor="end" fill="#000" font-weight="normal" stroke="#000" stroke-width="0.15" >3000</text>
<line x1="46.25" y1="510.60" x2="46.25" y2="513.60" stroke="#000" stroke-width="1"/>
<text x="46.2" y="522.9" font-size="7.9" text-anchor="middle" fill="#000" font-weight="normal" stroke="#000" stroke-width="0.15" >0</text>
<line x1="70.45" y1="510.60" x2="70.45" y2="513.60" stroke="#000" stroke-width="1"/>
<text x="70.5" y="522.9" font-size="7.9" text-anchor="middle" fill="#000" font-weight="normal" stroke="#000" stroke-width="0.15" >2</text>
<line x1="94.65" y1="510.60" x2="94.65" y2="513.60" stroke="#000" stroke-width="1"/>
<text x="94.7" y="522.9" font-size="7.9" text-anchor="middle" fill="#000" font-weight="normal" stroke="#000" stroke-width="0.15" >4</text>
<line x1="118.85" y1="510.60" x2="118.85" y2="513.60" stroke="#000" stroke-width="1"/>
<text x="118.8" y="522.9" font-size="7.9" text-anchor="middle" fill="#000" font-weight="normal" stroke="#000" stroke-width="0.15" >6</text>
<text transform="translate(81.2,534.2) scale(0.75,1)" font-size="9" text-anchor="middle" fill="#000" stroke="#000" stroke-width="0.38">Time [h]</text>
<text transform="translate(19.0,487.3) rotate(-90) scale(0.76,1)" font-size="9" text-anchor="start" fill="#000" stroke="#000" stroke-width="0.38">Barbells/µL</text>
<line x1="64.50" y1="454.30" x2="64.50" y2="484.50" stroke="#222" stroke-width="1.0"/>
<line x1="61.90" y1="454.30" x2="67.10" y2="454.30" stroke="#222" stroke-width="1.0"/>
<line x1="61.90" y1="484.50" x2="67.10" y2="484.50" stroke="#222" stroke-width="1.0"/>
<line x1="82.50" y1="460.00" x2="82.50" y2="477.50" stroke="#222" stroke-width="1.0"/>
<line x1="79.90" y1="460.00" x2="85.10" y2="460.00" stroke="#222" stroke-width="1.0"/>
<line x1="79.90" y1="477.50" x2="85.10" y2="477.50" stroke="#222" stroke-width="1.0"/>
<line x1="118.50" y1="451.30" x2="118.50" y2="478.80" stroke="#222" stroke-width="1.0"/>
<line x1="115.90" y1="451.30" x2="121.10" y2="451.30" stroke="#222" stroke-width="1.0"/>
<line x1="115.90" y1="478.80" x2="121.10" y2="478.80" stroke="#222" stroke-width="1.0"/>
<line x1="64.50" y1="502.50" x2="64.50" y2="508.00" stroke="#222" stroke-width="1.0"/>
<line x1="61.90" y1="502.50" x2="67.10" y2="502.50" stroke="#222" stroke-width="1.0"/>
<line x1="61.90" y1="508.00" x2="67.10" y2="508.00" stroke="#222" stroke-width="1.0"/>
<line x1="82.50" y1="497.50" x2="82.50" y2="511.00" stroke="#222" stroke-width="1.0"/>
<line x1="79.90" y1="497.50" x2="85.10" y2="497.50" stroke="#222" stroke-width="1.0"/>
<line x1="79.90" y1="511.00" x2="85.10" y2="511.00" stroke="#222" stroke-width="1.0"/>
<line x1="118.50" y1="503.00" x2="118.50" y2="510.70" stroke="#222" stroke-width="1.0"/>
<line x1="115.90" y1="503.00" x2="121.10" y2="503.00" stroke="#222" stroke-width="1.0"/>
<line x1="115.90" y1="510.70" x2="121.10" y2="510.70" stroke="#222" stroke-width="1.0"/>
<polyline points="46.2,509.5 64.4,505.5 82.5,504.5 118.8,507.0" fill="none" stroke="#d2203a" stroke-width="1.5"/>
<circle cx="46.25" cy="509.50" r="2.0" fill="#d2203a" />
<circle cx="64.40" cy="505.50" r="2.0" fill="#d2203a" />
<circle cx="82.55" cy="504.50" r="2.0" fill="#d2203a" />
<circle cx="118.85" cy="507.00" r="2.0" fill="#d2203a" />
<polyline points="46.2,510.3 64.4,469.3 82.5,468.3 118.8,465.0" fill="none" stroke="#1a5898" stroke-width="1.5"/>
<circle cx="46.25" cy="510.30" r="2.0" fill="#1a5898" />
<circle cx="64.40" cy="469.30" r="2.0" fill="#1a5898" />
<circle cx="82.55" cy="468.30" r="2.0" fill="#1a5898" />
<circle cx="118.85" cy="465.00" r="2.0" fill="#1a5898" />
<rect x="62.60" y="487.50" width="1.40" height="1.40" fill="#111" stroke="none" stroke-width="1" />
<rect x="65.70" y="487.50" width="1.40" height="1.40" fill="#111" stroke="none" stroke-width="1" />
<rect x="80.70" y="480.00" width="1.40" height="1.40" fill="#111" stroke="none" stroke-width="1" />
<rect x="83.60" y="480.00" width="1.40" height="1.40" fill="#111" stroke="none" stroke-width="1" />
<rect x="117.30" y="482.10" width="1.40" height="1.40" fill="#111" stroke="none" stroke-width="1" />
<rect x="120.30" y="482.10" width="1.40" height="1.40" fill="#111" stroke="none" stroke-width="1" />
<line x1="49.20" y1="440.80" x2="57.60" y2="440.80" stroke="#1a5898" stroke-width="1.3"/>
<circle cx="53.40" cy="440.80" r="2.0" fill="#1a5898" />
<text x="62.0" y="443.3" font-size="7.1" text-anchor="start" fill="#000" font-weight="normal" stroke="#000" stroke-width="0.15" >Control</text>
<line x1="49.20" y1="449.30" x2="57.60" y2="449.30" stroke="#d2203a" stroke-width="1.3"/>
<circle cx="53.40" cy="449.30" r="2.0" fill="#d2203a" />
<text x="62.0" y="451.8" font-size="7.1" text-anchor="start" fill="#000" font-weight="normal" stroke="#000" stroke-width="0.15" >Rotenone 3µg</text>
<rect x="138.00" y="331.80" width="183.80" height="112.80" fill="#000" stroke="none" stroke-width="1" />
<rect x="138.00" y="444.00" width="57.80" height="19.80" fill="#000" stroke="none" stroke-width="1" />
<line x1="138.00" y1="354.90" x2="321.80" y2="354.90" stroke="#2b2b2b" stroke-width="1"/>
<line x1="138.00" y1="378.50" x2="321.80" y2="378.50" stroke="#2b2b2b" stroke-width="1"/>
<line x1="138.00" y1="401.20" x2="321.80" y2="401.20" stroke="#2b2b2b" stroke-width="1"/>
<line x1="138.00" y1="421.50" x2="321.80" y2="421.50" stroke="#2b2b2b" stroke-width="1"/>
<circle cx="166.60" cy="342.50" r="2.8" fill="#1cf21c" filter="url(#gl)"/>
<circle cx="227.60" cy="342.50" r="2.0" fill="#d67416" filter="url(#gl)"/>
<circle cx="289.20" cy="342.50" r="2.8" fill="#b4f01e" filter="url(#gl)"/>
<circle cx="168.20" cy="365.90" r="2.8" fill="#1cf21c" filter="url(#gl)"/>
<circle cx="229.40" cy="365.90" r="2.0" fill="#d67416" filter="url(#gl)"/>
<circle cx="290.70" cy="365.90" r="2.8" fill="#b4f01e" filter="url(#gl)"/>
<circle cx="167.40" cy="389.40" r="2.8" fill="#1cf21c" filter="url(#gl)"/>
<circle cx="229.40" cy="389.40" r="2.0" fill="#d67416" filter="url(#gl)"/>
<circle cx="290.30" cy="389.40" r="2.8" fill="#b4f01e" filter="url(#gl)"/>
<circle cx="168.00" cy="411.70" r="2.8" fill="#1cf21c" filter="url(#gl)"/>
<circle cx="229.00" cy="411.70" r="2.0" fill="#d67416" filter="url(#gl)"/>
<circle cx="290.30" cy="411.70" r="2.8" fill="#b4f01e" filter="url(#gl)"/>
<circle cx="168.50" cy="432.90" r="2.8" fill="#1cf21c" filter="url(#gl)"/>
<circle cx="229.40" cy="432.90" r="2.0" fill="#d67416" filter="url(#gl)"/>
<circle cx="291.00" cy="432.90" r="2.8" fill="#b4f01e" filter="url(#gl)"/>
<rect x="141.00" y="438.50" width="12.00" height="3.00" fill="#fff" stroke="none" stroke-width="1" />
<text x="149.7" y="457.8" font-size="9" text-anchor="start" fill="#3ca4e0" font-weight="normal" stroke="#3ca4e0" stroke-width="0.15" >Platelets</text>
<text x="166.0" y="327.8" font-size="9" text-anchor="middle" fill="#000" font-weight="normal" stroke="#000" stroke-width="0.15" >CD61</text>
<text x="221.0" y="327.8" font-size="9" text-anchor="middle" fill="#000" font-weight="normal" stroke="#000" stroke-width="0.15" >Mitotracker</text>
<text x="289.1" y="327.8" font-size="9" text-anchor="middle" fill="#000" font-weight="normal" stroke="#000" stroke-width="0.15" >Merged</text>
<rect x="328.80" y="330.60" width="183.50" height="120.20" fill="#000" stroke="none" stroke-width="1" />
<rect x="328.80" y="450.00" width="57.20" height="21.30" fill="#000" stroke="none" stroke-width="1" />
<line x1="328.80" y1="352.30" x2="512.30" y2="352.30" stroke="#2b2b2b" stroke-width="1"/>
<line x1="328.80" y1="376.40" x2="512.30" y2="376.40" stroke="#2b2b2b" stroke-width="1"/>
<line x1="328.80" y1="402.30" x2="512.30" y2="402.30" stroke="#2b2b2b" stroke-width="1"/>
<line x1="328.80" y1="425.80" x2="512.30" y2="425.80" stroke="#2b2b2b" stroke-width="1"/>
<circle cx="359.00" cy="340.60" r="2.8" fill="#1cf21c" filter="url(#gl)"/>
<circle cx="420.90" cy="340.60" r="2.8" fill="#f6880a" filter="url(#gl)"/>
<circle cx="482.00" cy="340.60" r="2.9" fill="#f4f414" filter="url(#gl)"/>
<circle cx="359.70" cy="364.60" r="2.3" fill="#1cf21c" filter="url(#gl)"/>
<circle cx="420.90" cy="364.60" r="2.8" fill="#f6880a" filter="url(#gl)"/>
<circle cx="482.00" cy="364.60" r="2.9" fill="#f4f414" filter="url(#gl)"/>
<circle cx="359.00" cy="389.30" r="2.8" fill="#1cf21c" filter="url(#gl)"/>
<circle cx="420.90" cy="389.30" r="2.8" fill="#f6880a" filter="url(#gl)"/>
<circle cx="482.00" cy="389.30" r="2.9" fill="#f4f414" filter="url(#gl)"/>
<circle cx="359.00" cy="414.20" r="2.8" fill="#1cf21c" filter="url(#gl)"/>
<circle cx="420.90" cy="414.20" r="2.8" fill="#f6880a" filter="url(#gl)"/>
<circle cx="482.00" cy="414.20" r="2.9" fill="#f4f414" filter="url(#gl)"/>
<circle cx="359.00" cy="438.10" r="2.8" fill="#1cf21c" filter="url(#gl)"/>
<circle cx="420.90" cy="438.10" r="2.8" fill="#f6880a" filter="url(#gl)"/>
<circle cx="482.00" cy="438.10" r="2.9" fill="#f4f414" filter="url(#gl)"/>
<rect x="332.30" y="445.00" width="11.50" height="2.80" fill="#fff" stroke="none" stroke-width="1" />
<text x="342.0" y="463.8" font-size="9" text-anchor="start" fill="#d41e90" font-weight="normal" stroke="#d41e90" stroke-width="0.15" >Progeny</text>
<text x="357.3" y="327.0" font-size="9" text-anchor="middle" fill="#000" font-weight="normal" stroke="#000" stroke-width="0.15" >CD61</text>
<text x="412.3" y="327.0" font-size="9" text-anchor="middle" fill="#000" font-weight="normal" stroke="#000" stroke-width="0.15" >Mitotracker</text>
<text x="480.8" y="327.0" font-size="9" text-anchor="middle" fill="#000" font-weight="normal" stroke="#000" stroke-width="0.15" >Merged</text>
<line x1="45.75" y1="561.30" x2="45.75" y2="645.40" stroke="#000" stroke-width="1.1"/>
<line x1="45.20" y1="645.40" x2="131.00" y2="645.40" stroke="#000" stroke-width="1.1"/>
<line x1="42.80" y1="645.40" x2="45.75" y2="645.40" stroke="#000" stroke-width="1"/>
<text x="40.8" y="648.1" font-size="7.9" text-anchor="end" fill="#000" font-weight="normal" stroke="#000" stroke-width="0.15" >0</text>
<line x1="42.80" y1="618.77" x2="45.75" y2="618.77" stroke="#000" stroke-width="1"/>
<text x="40.8" y="621.5" font-size="7.9" text-anchor="end" fill="#000" font-weight="normal" stroke="#000" stroke-width="0.15" >1000</text>
<line x1="42.80" y1="592.13" x2="45.75" y2="592.13" stroke="#000" stroke-width="1"/>
<text x="40.8" y="594.8" font-size="7.9" text-anchor="end" fill="#000" font-weight="normal" stroke="#000" stroke-width="0.15" >2000</text>
<line x1="42.80" y1="565.50" x2="45.75" y2="565.50" stroke="#000" stroke-width="1"/>
<text x="40.8" y="568.2" font-size="7.9" text-anchor="end" fill="#000" font-weight="normal" stroke="#000" stroke-width="0.15" >3000</text>
<line x1="45.75" y1="645.40" x2="45.75" y2="648.40" stroke="#000" stroke-width="1"/>
<text x="45.8" y="657.4" font-size="7.9" text-anchor="middle" fill="#000" font-weight="normal" stroke="#000" stroke-width="0.15" >0</text>
<line x1="73.25" y1="645.40" x2="73.25" y2="648.40" stroke="#000" stroke-width="1"/>
<text x="73.2" y="657.4" font-size="7.9" text-anchor="middle" fill="#000" font-weight="normal" stroke="#000" stroke-width="0.15" >2</text>
<line x1="100.75" y1="645.40" x2="100.75" y2="648.40" stroke="#000" stroke-width="1"/>
<text x="100.8" y="657.4" font-size="7.9" text-anchor="middle" fill="#000" font-weight="normal" stroke="#000" stroke-width="0.15" >4</text>
<line x1="128.25" y1="645.40" x2="128.25" y2="648.40" stroke="#000" stroke-width="1"/>
<text x="128.2" y="657.4" font-size="7.9" text-anchor="middle" fill="#000" font-weight="normal" stroke="#000" stroke-width="0.15" >6</text>
<text transform="translate(87.4,668.0) scale(0.75,1)" font-size="9" text-anchor="middle" fill="#000" stroke="#000" stroke-width="0.38">Time [h]</text>
<text transform="translate(14.3,613.6) rotate(-90) scale(0.76,1)" font-size="9" text-anchor="start" fill="#000" stroke="#000" stroke-width="0.38">Barbells/µL</text>
<line x1="66.50" y1="566.30" x2="66.50" y2="604.50" stroke="#222" stroke-width="1.0"/>
<line x1="63.90" y1="566.30" x2="69.10" y2="566.30" stroke="#222" stroke-width="1.0"/>
<line x1="63.90" y1="604.50" x2="69.10" y2="604.50" stroke="#222" stroke-width="1.0"/>
<line x1="87.50" y1="571.80" x2="87.50" y2="601.30" stroke="#222" stroke-width="1.0"/>
<line x1="84.90" y1="571.80" x2="90.10" y2="571.80" stroke="#222" stroke-width="1.0"/>
<line x1="84.90" y1="601.30" x2="90.10" y2="601.30" stroke="#222" stroke-width="1.0"/>
<line x1="128.50" y1="607.20" x2="128.50" y2="618.80" stroke="#222" stroke-width="1.0"/>
<line x1="125.90" y1="607.20" x2="131.10" y2="607.20" stroke="#222" stroke-width="1.0"/>
<line x1="125.90" y1="618.80" x2="131.10" y2="618.80" stroke="#222" stroke-width="1.0"/>
<line x1="66.50" y1="636.00" x2="66.50" y2="640.00" stroke="#222" stroke-width="1.0"/>
<line x1="63.90" y1="636.00" x2="69.10" y2="636.00" stroke="#222" stroke-width="1.0"/>
<line x1="63.90" y1="640.00" x2="69.10" y2="640.00" stroke="#222" stroke-width="1.0"/>
<polyline points="45.8,645.2 66.4,638.7 87.0,638.6 128.2,638.3" fill="none" stroke="#5a2d82" stroke-width="1.5"/>
<circle cx="45.75" cy="645.20" r="2.0" fill="#5a2d82" />
<circle cx="66.38" cy="638.70" r="2.0" fill="#5a2d82" />
<circle cx="87.00" cy="638.60" r="2.0" fill="#5a2d82" />
<circle cx="128.25" cy="638.30" r="2.0" fill="#5a2d82" />
<polyline points="45.8,645.2 66.4,639.4 87.0,639.9 128.2,639.5" fill="none" stroke="#3cb84a" stroke-width="1.5"/>
<circle cx="45.75" cy="645.20" r="2.0" fill="#3cb84a" />
<circle cx="66.38" cy="639.40" r="2.0" fill="#3cb84a" />
<circle cx="87.00" cy="639.90" r="2.0" fill="#3cb84a" />
<circle cx="128.25" cy="639.50" r="2.0" fill="#3cb84a" />
<polyline points="45.8,645.2 66.4,639.9 87.0,641.5 128.2,640.3" fill="none" stroke="#d2203a" stroke-width="1.5"/>
<circle cx="45.75" cy="645.20" r="2.0" fill="#d2203a" />
<circle cx="66.38" cy="639.90" r="2.0" fill="#d2203a" />
<circle cx="87.00" cy="641.50" r="2.0" fill="#d2203a" />
<circle cx="128.25" cy="640.30" r="2.0" fill="#d2203a" />
<polyline points="45.8,645.2 66.4,585.6 87.0,586.3 128.2,613.0" fill="none" stroke="#1a5898" stroke-width="1.5"/>
<circle cx="45.75" cy="645.20" r="2.0" fill="#1a5898" />
<circle cx="66.38" cy="585.60" r="2.0" fill="#1a5898" />
<circle cx="87.00" cy="586.30" r="2.0" fill="#1a5898" />
<circle cx="128.25" cy="613.00" r="2.0" fill="#1a5898" />
<line x1="133.60" y1="605.50" x2="133.60" y2="644.40" stroke="#222" stroke-width="1.1"/>
<line x1="131.30" y1="605.50" x2="136.10" y2="605.50" stroke="#222" stroke-width="1.1"/>
<line x1="131.30" y1="644.40" x2="136.10" y2="644.40" stroke="#222" stroke-width="1.1"/>
<circle cx="138.60" cy="622.80" r="0.85" fill="#000" />
<line x1="144.90" y1="572.00" x2="154.20" y2="572.00" stroke="#1a5898" stroke-width="1.3"/>
<circle cx="149.50" cy="572.00" r="2.0" fill="#1a5898" />
<text x="156.5" y="574.5" font-size="7.0" text-anchor="start" fill="#000" font-weight="normal" stroke="#000" stroke-width="0.15" >Control</text>
<line x1="144.90" y1="583.50" x2="154.20" y2="583.50" stroke="#d2203a" stroke-width="1.3"/>
<circle cx="149.50" cy="583.50" r="2.0" fill="#d2203a" />
<text x="156.5" y="586.0" font-size="7.0" text-anchor="start" fill="#000" font-weight="normal" stroke="#000" stroke-width="0.15" >Nocodazole 10µM</text>
<line x1="144.90" y1="594.60" x2="154.20" y2="594.60" stroke="#3cb84a" stroke-width="1.3"/>
<circle cx="149.50" cy="594.60" r="2.0" fill="#3cb84a" />
<text x="156.5" y="597.1" font-size="7.0" text-anchor="start" fill="#000" font-weight="normal" stroke="#000" stroke-width="0.15" >Cytochalasin D 1µM</text>
<line x1="144.90" y1="605.00" x2="154.20" y2="605.00" stroke="#5a2d82" stroke-width="1.3"/>
<circle cx="149.50" cy="605.00" r="2.0" fill="#5a2d82" />
<text x="156.5" y="607.5" font-size="7.0" text-anchor="start" fill="#000" font-weight="normal" stroke="#000" stroke-width="0.15" >Cytochalasin D 0.1µM</text>
<rect x="243.40" y="588.30" width="59.90" height="46.40" fill="#0a0000" stroke="none" stroke-width="1" />
<line x1="243.40" y1="611.60" x2="303.30" y2="611.60" stroke="#2b2b2b" stroke-width="1"/>
<g filter="url(#gl2)">
<circle cx="273.0" cy="599.2" r="2.9" fill="none" stroke="#f01020" stroke-width="1.2"/>
<circle cx="272.3" cy="623.0" r="2.2" fill="none" stroke="#e01018" stroke-width="1.1"/>
</g>
<rect x="245.10" y="630.00" width="10.60" height="2.80" fill="#fff" stroke="none" stroke-width="1" />
<text x="245.6" y="648.2" font-size="9" text-anchor="start" fill="#c8203c" font-weight="normal" stroke="#c8203c" stroke-width="0.15" >SiR Tubulin</text>
<rect x="306.40" y="588.20" width="59.40" height="65.70" fill="#000" stroke="none" stroke-width="1" />
<line x1="306.40" y1="618.50" x2="365.80" y2="618.50" stroke="#2b2b2b" stroke-width="1"/>
<g filter="url(#gl2)" fill="none" stroke="#f01020" stroke-linecap="round">
<path d="M335.6,599.6 C333.6,599.2 333.0,596.6 334.6,595.4 C336.2,594.2 338.4,595.2 338.3,597.4 C338.2,599.6 337.2,601.5 337.2,603.8 C337.2,605.6 336.8,607.2 336.2,608.0" stroke-width="1.7"/>
<path d="M333.0,628.4 C334.6,630.5 336.2,633.5 336.6,637 C336.9,639.5 336.6,641 337.0,642.2 C337.0,644.2 334.8,644.9 333.6,643.6 C332.6,642.5 333.6,641.0 335.2,641.4" stroke-width="1.7"/>
</g>
<rect x="306.80" y="649.60" width="10.90" height="3.00" fill="#fff" stroke="none" stroke-width="1" />
<text x="304.9" y="584.8" font-size="8" text-anchor="middle" fill="#000" font-weight="normal" stroke="#000" stroke-width="0.15" >Control</text>
<rect x="379.50" y="588.20" width="60.30" height="53.30" fill="#000" stroke="none" stroke-width="1" />
<line x1="379.50" y1="615.30" x2="439.80" y2="615.30" stroke="#2b2b2b" stroke-width="1"/>
<circle cx="408.90" cy="601.20" r="2.4" fill="#f01018" filter="url(#gl)"/>
<circle cx="408.90" cy="629.10" r="1.9" fill="#e01018" filter="url(#gl)"/>
<rect x="380.70" y="637.20" width="10.90" height="2.80" fill="#fff" stroke="none" stroke-width="1" />
<text x="409.6" y="584.8" font-size="8" text-anchor="middle" fill="#000" font-weight="normal" stroke="#000" stroke-width="0.15" >Nocodazole</text>
<rect x="453.20" y="588.40" width="60.60" height="44.60" fill="#000" stroke="none" stroke-width="1" />
<line x1="453.20" y1="609.90" x2="513.80" y2="609.90" stroke="#2b2b2b" stroke-width="1"/>
<g filter="url(#gl2)">
<circle cx="482.8" cy="597.8" r="2.3" fill="none" stroke="#e01018" stroke-width="1.1"/>
<circle cx="482.8" cy="620.0" r="2.9" fill="none" stroke="#e01018" stroke-width="1.1"/>
</g>
<rect x="454.80" y="628.40" width="10.80" height="3.30" fill="#fff" stroke="none" stroke-width="1" />
<text x="483.8" y="584.8" font-size="8" text-anchor="middle" fill="#000" font-weight="normal" stroke="#000" stroke-width="0.15" >Cytochalasin D</text>
<rect x="0.5" y="0.5" width="519" height="675" fill="none" stroke="#000" stroke-width="1"/>
</svg>
</body></html>
